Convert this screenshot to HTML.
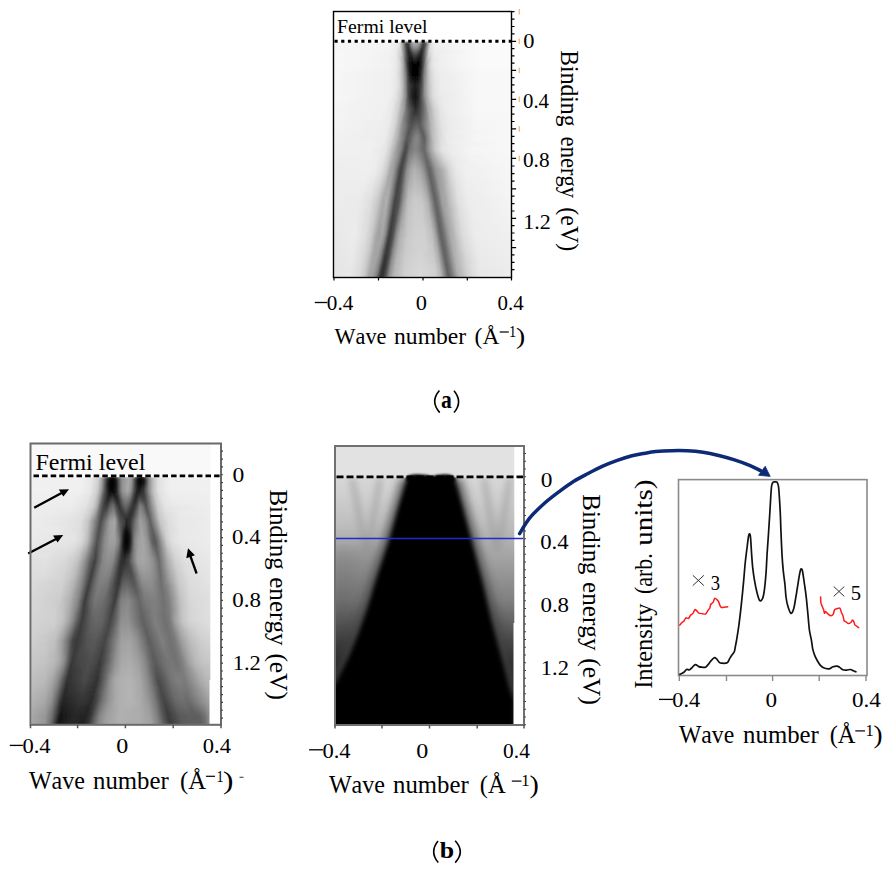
<!DOCTYPE html><html><head><meta charset="utf-8"><style>html,body{margin:0;padding:0;background:#fff;width:889px;height:869px;overflow:hidden}svg{display:block}text{font-family:"Liberation Serif",serif;fill:#000;font-kerning:none}</style></head><body>
<svg width="889" height="869" viewBox="0 0 889 869">
<defs>
<filter id="vblur" x="-5%" y="-5%" width="110%" height="110%"><feGaussianBlur stdDeviation="0 1"/></filter>
<filter id="blur1" x="-20%" y="-50%" width="140%" height="200%"><feGaussianBlur stdDeviation="0.9"/></filter>
<filter id="blur1_5" x="-50%" y="-50%" width="200%" height="200%"><feGaussianBlur stdDeviation="1.5"/></filter>
<filter id="blur2" x="-50%" y="-50%" width="200%" height="200%"><feGaussianBlur stdDeviation="2"/></filter>
<filter id="blur2_5" x="-50%" y="-50%" width="200%" height="200%"><feGaussianBlur stdDeviation="2.5"/></filter>
<filter id="blur3" x="-50%" y="-50%" width="200%" height="200%"><feGaussianBlur stdDeviation="3"/></filter>
<filter id="blur4" x="-50%" y="-50%" width="200%" height="200%"><feGaussianBlur stdDeviation="4"/></filter>
<filter id="blur6" x="-50%" y="-50%" width="200%" height="200%"><feGaussianBlur stdDeviation="6"/></filter>
<filter id="blur12" x="-50%" y="-50%" width="200%" height="200%"><feGaussianBlur stdDeviation="12"/></filter>
<filter id="blur8" x="-50%" y="-50%" width="200%" height="200%"><feGaussianBlur stdDeviation="8"/></filter>
<linearGradient id="ga_in" x1="0" y1="0" x2="0" y2="1"><stop offset="0" stop-color="#b0b0b0"/><stop offset="0.25" stop-color="#c8c8c8"/><stop offset="0.5" stop-color="#dcdcdc"/><stop offset="1" stop-color="#e4e4e4"/></linearGradient>
<linearGradient id="ga_bg" x1="0" y1="0" x2="1" y2="0"><stop offset="0" stop-color="#eeeeee"/><stop offset="0.5" stop-color="#f6f6f6"/><stop offset="1" stop-color="#fbfbfb"/></linearGradient>
<linearGradient id="gbl_bg" x1="0" y1="0" x2="0" y2="1"><stop offset="0" stop-color="#f4f4f4"/><stop offset="0.4" stop-color="#e8e8e8"/><stop offset="1" stop-color="#c8c8c8"/></linearGradient>
<linearGradient id="gbl_halo" x1="0" y1="0" x2="0" y2="1"><stop offset="0" stop-color="#d4d4d4"/><stop offset="0.5" stop-color="#b0b0b0"/><stop offset="1" stop-color="#7c7c7c"/></linearGradient>
<linearGradient id="gbl_L" gradientUnits="userSpaceOnUse" x1="0" y1="490" x2="0" y2="726"><stop offset="0" stop-color="#b4b4b4"/><stop offset="0.4" stop-color="#8a8a8a"/><stop offset="1" stop-color="#464646"/></linearGradient>
<linearGradient id="gbl_R" gradientUnits="userSpaceOnUse" x1="0" y1="486" x2="0" y2="726"><stop offset="0" stop-color="#b0b0b0"/><stop offset="0.4" stop-color="#a0a0a0"/><stop offset="1" stop-color="#7a7a7a"/></linearGradient>
<linearGradient id="gbl_M" gradientUnits="userSpaceOnUse" x1="0" y1="540" x2="0" y2="726"><stop offset="0" stop-color="#b4b4b4"/><stop offset="0.5" stop-color="#c8c8c8"/><stop offset="1" stop-color="#c4c4c4"/></linearGradient>
<linearGradient id="gbm_bg" gradientUnits="userSpaceOnUse" x1="0" y1="476" x2="0" y2="725"><stop offset="0" stop-color="#d8d8d8"/><stop offset="0.1" stop-color="#cccccc"/><stop offset="0.193" stop-color="#bebebe"/><stop offset="0.305" stop-color="#a8a8a8"/><stop offset="0.498" stop-color="#808080"/><stop offset="0.659" stop-color="#484848"/><stop offset="0.75" stop-color="#2e2e2e"/><stop offset="0.85" stop-color="#242424"/><stop offset="1" stop-color="#1a1a1a"/></linearGradient>
<linearGradient id="gbm_left" gradientUnits="userSpaceOnUse" x1="335" y1="0" x2="400" y2="0"><stop offset="0" stop-color="#000" stop-opacity="0.17"/><stop offset="1" stop-color="#000" stop-opacity="0.02"/></linearGradient>
</defs>
<g>
<clipPath id="clipa"><rect x="333.5" y="11.5" width="178.0" height="266.0"/></clipPath>
<rect x="333.5" y="11.5" width="178.0" height="266.0" fill="#fff"/>
<g clip-path="url(#clipa)"><g filter="url(#vblur)"><rect x="334.5" y="42.0" width="176.5" height="2.6" fill="url(#ga0)"/>
<rect x="334.5" y="44.0" width="176.5" height="2.6" fill="url(#ga1)"/>
<rect x="334.5" y="46.0" width="176.5" height="2.6" fill="url(#ga2)"/>
<rect x="334.5" y="48.0" width="176.5" height="2.6" fill="url(#ga3)"/>
<rect x="334.5" y="50.0" width="176.5" height="2.6" fill="url(#ga4)"/>
<rect x="334.5" y="52.0" width="176.5" height="2.6" fill="url(#ga5)"/>
<rect x="334.5" y="54.0" width="176.5" height="2.6" fill="url(#ga6)"/>
<rect x="334.5" y="56.0" width="176.5" height="2.6" fill="url(#ga7)"/>
<rect x="334.5" y="58.0" width="176.5" height="2.6" fill="url(#ga8)"/>
<rect x="334.5" y="60.0" width="176.5" height="2.6" fill="url(#ga9)"/>
<rect x="334.5" y="62.0" width="176.5" height="2.6" fill="url(#ga10)"/>
<rect x="334.5" y="64.0" width="176.5" height="2.6" fill="url(#ga11)"/>
<rect x="334.5" y="66.0" width="176.5" height="2.6" fill="url(#ga12)"/>
<rect x="334.5" y="68.0" width="176.5" height="2.6" fill="url(#ga13)"/>
<rect x="334.5" y="70.0" width="176.5" height="2.6" fill="url(#ga14)"/>
<rect x="334.5" y="72.0" width="176.5" height="2.6" fill="url(#ga15)"/>
<rect x="334.5" y="74.0" width="176.5" height="2.6" fill="url(#ga16)"/>
<rect x="334.5" y="76.0" width="176.5" height="2.6" fill="url(#ga17)"/>
<rect x="334.5" y="78.0" width="176.5" height="2.6" fill="url(#ga18)"/>
<rect x="334.5" y="80.0" width="176.5" height="2.6" fill="url(#ga19)"/>
<rect x="334.5" y="82.0" width="176.5" height="2.6" fill="url(#ga20)"/>
<rect x="334.5" y="84.0" width="176.5" height="2.6" fill="url(#ga21)"/>
<rect x="334.5" y="86.0" width="176.5" height="2.6" fill="url(#ga22)"/>
<rect x="334.5" y="88.0" width="176.5" height="2.6" fill="url(#ga23)"/>
<rect x="334.5" y="90.0" width="176.5" height="2.6" fill="url(#ga24)"/>
<rect x="334.5" y="92.0" width="176.5" height="2.6" fill="url(#ga25)"/>
<rect x="334.5" y="94.0" width="176.5" height="2.6" fill="url(#ga26)"/>
<rect x="334.5" y="96.0" width="176.5" height="2.6" fill="url(#ga27)"/>
<rect x="334.5" y="98.0" width="176.5" height="2.6" fill="url(#ga28)"/>
<rect x="334.5" y="100.0" width="176.5" height="2.6" fill="url(#ga29)"/>
<rect x="334.5" y="102.0" width="176.5" height="2.6" fill="url(#ga30)"/>
<rect x="334.5" y="104.0" width="176.5" height="2.6" fill="url(#ga31)"/>
<rect x="334.5" y="106.0" width="176.5" height="2.6" fill="url(#ga32)"/>
<rect x="334.5" y="108.0" width="176.5" height="2.6" fill="url(#ga33)"/>
<rect x="334.5" y="110.0" width="176.5" height="2.6" fill="url(#ga34)"/>
<rect x="334.5" y="112.0" width="176.5" height="2.6" fill="url(#ga35)"/>
<rect x="334.5" y="114.0" width="176.5" height="2.6" fill="url(#ga36)"/>
<rect x="334.5" y="116.0" width="176.5" height="2.6" fill="url(#ga37)"/>
<rect x="334.5" y="118.0" width="176.5" height="2.6" fill="url(#ga38)"/>
<rect x="334.5" y="120.0" width="176.5" height="2.6" fill="url(#ga39)"/>
<rect x="334.5" y="122.0" width="176.5" height="2.6" fill="url(#ga40)"/>
<rect x="334.5" y="124.0" width="176.5" height="2.6" fill="url(#ga41)"/>
<rect x="334.5" y="126.0" width="176.5" height="2.6" fill="url(#ga42)"/>
<rect x="334.5" y="128.0" width="176.5" height="2.6" fill="url(#ga43)"/>
<rect x="334.5" y="130.0" width="176.5" height="2.6" fill="url(#ga44)"/>
<rect x="334.5" y="132.0" width="176.5" height="2.6" fill="url(#ga45)"/>
<rect x="334.5" y="134.0" width="176.5" height="2.6" fill="url(#ga46)"/>
<rect x="334.5" y="136.0" width="176.5" height="2.6" fill="url(#ga47)"/>
<rect x="334.5" y="138.0" width="176.5" height="2.6" fill="url(#ga48)"/>
<rect x="334.5" y="140.0" width="176.5" height="2.6" fill="url(#ga49)"/>
<rect x="334.5" y="142.0" width="176.5" height="2.6" fill="url(#ga50)"/>
<rect x="334.5" y="144.0" width="176.5" height="2.6" fill="url(#ga51)"/>
<rect x="334.5" y="146.0" width="176.5" height="2.6" fill="url(#ga52)"/>
<rect x="334.5" y="148.0" width="176.5" height="2.6" fill="url(#ga53)"/>
<rect x="334.5" y="150.0" width="176.5" height="2.6" fill="url(#ga54)"/>
<rect x="334.5" y="152.0" width="176.5" height="2.6" fill="url(#ga55)"/>
<rect x="334.5" y="154.0" width="176.5" height="2.6" fill="url(#ga56)"/>
<rect x="334.5" y="156.0" width="176.5" height="2.6" fill="url(#ga57)"/>
<rect x="334.5" y="158.0" width="176.5" height="2.6" fill="url(#ga58)"/>
<rect x="334.5" y="160.0" width="176.5" height="2.6" fill="url(#ga59)"/>
<rect x="334.5" y="162.0" width="176.5" height="2.6" fill="url(#ga60)"/>
<rect x="334.5" y="164.0" width="176.5" height="2.6" fill="url(#ga61)"/>
<rect x="334.5" y="166.0" width="176.5" height="2.6" fill="url(#ga62)"/>
<rect x="334.5" y="168.0" width="176.5" height="2.6" fill="url(#ga63)"/>
<rect x="334.5" y="170.0" width="176.5" height="2.6" fill="url(#ga64)"/>
<rect x="334.5" y="172.0" width="176.5" height="2.6" fill="url(#ga65)"/>
<rect x="334.5" y="174.0" width="176.5" height="2.6" fill="url(#ga66)"/>
<rect x="334.5" y="176.0" width="176.5" height="2.6" fill="url(#ga67)"/>
<rect x="334.5" y="178.0" width="176.5" height="2.6" fill="url(#ga68)"/>
<rect x="334.5" y="180.0" width="176.5" height="2.6" fill="url(#ga69)"/>
<rect x="334.5" y="182.0" width="176.5" height="2.6" fill="url(#ga70)"/>
<rect x="334.5" y="184.0" width="176.5" height="2.6" fill="url(#ga71)"/>
<rect x="334.5" y="186.0" width="176.5" height="2.6" fill="url(#ga72)"/>
<rect x="334.5" y="188.0" width="176.5" height="2.6" fill="url(#ga73)"/>
<rect x="334.5" y="190.0" width="176.5" height="2.6" fill="url(#ga74)"/>
<rect x="334.5" y="192.0" width="176.5" height="2.6" fill="url(#ga75)"/>
<rect x="334.5" y="194.0" width="176.5" height="2.6" fill="url(#ga76)"/>
<rect x="334.5" y="196.0" width="176.5" height="2.6" fill="url(#ga77)"/>
<rect x="334.5" y="198.0" width="176.5" height="2.6" fill="url(#ga78)"/>
<rect x="334.5" y="200.0" width="176.5" height="2.6" fill="url(#ga79)"/>
<rect x="334.5" y="202.0" width="176.5" height="2.6" fill="url(#ga80)"/>
<rect x="334.5" y="204.0" width="176.5" height="2.6" fill="url(#ga81)"/>
<rect x="334.5" y="206.0" width="176.5" height="2.6" fill="url(#ga82)"/>
<rect x="334.5" y="208.0" width="176.5" height="2.6" fill="url(#ga83)"/>
<rect x="334.5" y="210.0" width="176.5" height="2.6" fill="url(#ga84)"/>
<rect x="334.5" y="212.0" width="176.5" height="2.6" fill="url(#ga85)"/>
<rect x="334.5" y="214.0" width="176.5" height="2.6" fill="url(#ga86)"/>
<rect x="334.5" y="216.0" width="176.5" height="2.6" fill="url(#ga87)"/>
<rect x="334.5" y="218.0" width="176.5" height="2.6" fill="url(#ga88)"/>
<rect x="334.5" y="220.0" width="176.5" height="2.6" fill="url(#ga89)"/>
<rect x="334.5" y="222.0" width="176.5" height="2.6" fill="url(#ga90)"/>
<rect x="334.5" y="224.0" width="176.5" height="2.6" fill="url(#ga91)"/>
<rect x="334.5" y="226.0" width="176.5" height="2.6" fill="url(#ga92)"/>
<rect x="334.5" y="228.0" width="176.5" height="2.6" fill="url(#ga93)"/>
<rect x="334.5" y="230.0" width="176.5" height="2.6" fill="url(#ga94)"/>
<rect x="334.5" y="232.0" width="176.5" height="2.6" fill="url(#ga95)"/>
<rect x="334.5" y="234.0" width="176.5" height="2.6" fill="url(#ga96)"/>
<rect x="334.5" y="236.0" width="176.5" height="2.6" fill="url(#ga97)"/>
<rect x="334.5" y="238.0" width="176.5" height="2.6" fill="url(#ga98)"/>
<rect x="334.5" y="240.0" width="176.5" height="2.6" fill="url(#ga99)"/>
<rect x="334.5" y="242.0" width="176.5" height="2.6" fill="url(#ga100)"/>
<rect x="334.5" y="244.0" width="176.5" height="2.6" fill="url(#ga101)"/>
<rect x="334.5" y="246.0" width="176.5" height="2.6" fill="url(#ga102)"/>
<rect x="334.5" y="248.0" width="176.5" height="2.6" fill="url(#ga103)"/>
<rect x="334.5" y="250.0" width="176.5" height="2.6" fill="url(#ga104)"/>
<rect x="334.5" y="252.0" width="176.5" height="2.6" fill="url(#ga105)"/>
<rect x="334.5" y="254.0" width="176.5" height="2.6" fill="url(#ga106)"/>
<rect x="334.5" y="256.0" width="176.5" height="2.6" fill="url(#ga107)"/>
<rect x="334.5" y="258.0" width="176.5" height="2.6" fill="url(#ga108)"/>
<rect x="334.5" y="260.0" width="176.5" height="2.6" fill="url(#ga109)"/>
<rect x="334.5" y="262.0" width="176.5" height="2.6" fill="url(#ga110)"/>
<rect x="334.5" y="264.0" width="176.5" height="2.6" fill="url(#ga111)"/>
<rect x="334.5" y="266.0" width="176.5" height="2.6" fill="url(#ga112)"/>
<rect x="334.5" y="268.0" width="176.5" height="2.6" fill="url(#ga113)"/>
<rect x="334.5" y="270.0" width="176.5" height="2.6" fill="url(#ga114)"/>
<rect x="334.5" y="272.0" width="176.5" height="2.6" fill="url(#ga115)"/>
<rect x="334.5" y="274.0" width="176.5" height="2.6" fill="url(#ga116)"/>
<rect x="334.5" y="276.0" width="176.5" height="2.6" fill="url(#ga117)"/></g></g>
<line x1="334.5" y1="41.3" x2="511.5" y2="41.3" stroke="#000" stroke-width="3" stroke-dasharray="3.2 3.5"/>
<rect x="333.5" y="11.5" width="178.0" height="266.0" fill="none" stroke="#000" stroke-width="1.4"/>
<path d="M511.5,11.70h3 M511.5,19.10h3 M511.5,26.50h3 M511.5,33.90h3 M511.5,41.30h4.6 M511.5,48.55h3 M511.5,55.80h3 M511.5,63.05h3 M511.5,70.30h4.6 M511.5,77.55h3 M511.5,84.80h3 M511.5,92.05h3 M511.5,99.30h4.6 M511.5,106.70h3 M511.5,114.10h3 M511.5,121.50h3 M511.5,128.90h4.6 M511.5,136.28h3 M511.5,143.65h3 M511.5,151.03h3 M511.5,158.40h4.6 M511.5,166.00h3 M511.5,173.60h3 M511.5,181.20h3 M511.5,188.80h4.6 M511.5,196.20h3 M511.5,203.60h3 M511.5,211.00h3 M511.5,218.40h4.6 M511.5,225.70h3 M511.5,233.00h3 M511.5,240.30h3 M511.5,247.60h4.6 M511.5,254.95h3 M511.5,262.30h3 M511.5,269.65h3" stroke="#000" stroke-width="1.2"/>
<path d="M519.2,8.90v5.6 M519.2,38.50v5.6 M519.2,67.50v5.6 M519.2,96.50v5.6 M519.2,126.10v5.6 M519.2,155.60v5.6" stroke="#f0a050" stroke-width="1"/>
<path d="M334.00,277.5v3 M378.50,277.5v3 M423.00,277.5v3 M467.30,277.5v3 M511.50,277.5v3" stroke="#000" stroke-width="1.2"/>
<text x="337.13" y="32.60" font-size="19.5" textLength="90.36" lengthAdjust="spacingAndGlyphs" >Fermi level</text>
<text x="523.15" y="48.10" font-size="20.5" textLength="11.21" lengthAdjust="spacingAndGlyphs" >0</text>
<text x="523.01" y="107.90" font-size="20.5" textLength="26.02" lengthAdjust="spacingAndGlyphs" >0.4</text>
<text x="522.99" y="167.00" font-size="20.5" textLength="26.52" lengthAdjust="spacingAndGlyphs" >0.8</text>
<text x="523.16" y="228.90" font-size="20.5" textLength="27.55" lengthAdjust="spacingAndGlyphs" >1.2</text>
<text transform="translate(560.80,50.32) rotate(90)" font-size="24.8" textLength="76.13" lengthAdjust="spacingAndGlyphs" >Binding</text>
<text transform="translate(560.80,136.62) rotate(90)" font-size="24.8" textLength="61.47" lengthAdjust="spacingAndGlyphs" >energy</text>
<text transform="translate(560.80,207.35) rotate(90)" font-size="24.8" textLength="43.80" lengthAdjust="spacingAndGlyphs" >(eV)</text>
<rect x="314.80" y="301.85" width="12.40" height="1.3" fill="#000"/>
<text x="326.89" y="310.00" font-size="20.8" textLength="26.44" lengthAdjust="spacingAndGlyphs" >0.4</text>
<text x="415.85" y="310.00" font-size="20.8" textLength="11.21" lengthAdjust="spacingAndGlyphs" >0</text>
<text x="497.60" y="310.00" font-size="20.8" textLength="26.12" lengthAdjust="spacingAndGlyphs" >0.4</text>
<text x="334.48" y="343.80" font-size="23" textLength="51.99" lengthAdjust="spacingAndGlyphs" >Wave</text>
<text x="394.06" y="343.80" font-size="23" textLength="72.15" lengthAdjust="spacingAndGlyphs" >number</text>
<text x="474.57" y="343.80" font-size="23" textLength="24.81" lengthAdjust="spacingAndGlyphs" >(Å</text>
<rect x="499.70" y="331.40" width="9.10" height="1.2" fill="#000"/>
<text x="509.03" y="337.20" font-size="16.5" textLength="7.24" lengthAdjust="spacingAndGlyphs" >1</text>
<text x="516.01" y="343.80" font-size="23" textLength="9.21" lengthAdjust="spacingAndGlyphs" >)</text>
</g>
<g>
<clipPath id="clipbl"><rect x="30.5" y="443.5" width="190.5" height="281.29999999999995"/></clipPath>
<g clip-path="url(#clipbl)">
<g filter="url(#vblur)"><rect x="31.5" y="477.0" width="179.0" height="2.6" fill="url(#gs0)"/>
<rect x="31.5" y="479.0" width="179.0" height="2.6" fill="url(#gs1)"/>
<rect x="31.5" y="481.0" width="179.0" height="2.6" fill="url(#gs2)"/>
<rect x="31.5" y="483.0" width="179.0" height="2.6" fill="url(#gs3)"/>
<rect x="31.5" y="485.0" width="179.0" height="2.6" fill="url(#gs4)"/>
<rect x="31.5" y="487.0" width="179.0" height="2.6" fill="url(#gs5)"/>
<rect x="31.5" y="489.0" width="179.0" height="2.6" fill="url(#gs6)"/>
<rect x="31.5" y="491.0" width="179.0" height="2.6" fill="url(#gs7)"/>
<rect x="31.5" y="493.0" width="179.0" height="2.6" fill="url(#gs8)"/>
<rect x="31.5" y="495.0" width="179.0" height="2.6" fill="url(#gs9)"/>
<rect x="31.5" y="497.0" width="179.0" height="2.6" fill="url(#gs10)"/>
<rect x="31.5" y="499.0" width="179.0" height="2.6" fill="url(#gs11)"/>
<rect x="31.5" y="501.0" width="179.0" height="2.6" fill="url(#gs12)"/>
<rect x="31.5" y="503.0" width="179.0" height="2.6" fill="url(#gs13)"/>
<rect x="31.5" y="505.0" width="179.0" height="2.6" fill="url(#gs14)"/>
<rect x="31.5" y="507.0" width="179.0" height="2.6" fill="url(#gs15)"/>
<rect x="31.5" y="509.0" width="179.0" height="2.6" fill="url(#gs16)"/>
<rect x="31.5" y="511.0" width="179.0" height="2.6" fill="url(#gs17)"/>
<rect x="31.5" y="513.0" width="179.0" height="2.6" fill="url(#gs18)"/>
<rect x="31.5" y="515.0" width="179.0" height="2.6" fill="url(#gs19)"/>
<rect x="31.5" y="517.0" width="179.0" height="2.6" fill="url(#gs20)"/>
<rect x="31.5" y="519.0" width="179.0" height="2.6" fill="url(#gs21)"/>
<rect x="31.5" y="521.0" width="179.0" height="2.6" fill="url(#gs22)"/>
<rect x="31.5" y="523.0" width="179.0" height="2.6" fill="url(#gs23)"/>
<rect x="31.5" y="525.0" width="179.0" height="2.6" fill="url(#gs24)"/>
<rect x="31.5" y="527.0" width="179.0" height="2.6" fill="url(#gs25)"/>
<rect x="31.5" y="529.0" width="179.0" height="2.6" fill="url(#gs26)"/>
<rect x="31.5" y="531.0" width="179.0" height="2.6" fill="url(#gs27)"/>
<rect x="31.5" y="533.0" width="179.0" height="2.6" fill="url(#gs28)"/>
<rect x="31.5" y="535.0" width="179.0" height="2.6" fill="url(#gs29)"/>
<rect x="31.5" y="537.0" width="179.0" height="2.6" fill="url(#gs30)"/>
<rect x="31.5" y="539.0" width="179.0" height="2.6" fill="url(#gs31)"/>
<rect x="31.5" y="541.0" width="179.0" height="2.6" fill="url(#gs32)"/>
<rect x="31.5" y="543.0" width="179.0" height="2.6" fill="url(#gs33)"/>
<rect x="31.5" y="545.0" width="179.0" height="2.6" fill="url(#gs34)"/>
<rect x="31.5" y="547.0" width="179.0" height="2.6" fill="url(#gs35)"/>
<rect x="31.5" y="549.0" width="179.0" height="2.6" fill="url(#gs36)"/>
<rect x="31.5" y="551.0" width="179.0" height="2.6" fill="url(#gs37)"/>
<rect x="31.5" y="553.0" width="179.0" height="2.6" fill="url(#gs38)"/>
<rect x="31.5" y="555.0" width="179.0" height="2.6" fill="url(#gs39)"/>
<rect x="31.5" y="557.0" width="179.0" height="2.6" fill="url(#gs40)"/>
<rect x="31.5" y="559.0" width="179.0" height="2.6" fill="url(#gs41)"/>
<rect x="31.5" y="561.0" width="179.0" height="2.6" fill="url(#gs42)"/>
<rect x="31.5" y="563.0" width="179.0" height="2.6" fill="url(#gs43)"/>
<rect x="31.5" y="565.0" width="179.0" height="2.6" fill="url(#gs44)"/>
<rect x="31.5" y="567.0" width="179.0" height="2.6" fill="url(#gs45)"/>
<rect x="31.5" y="569.0" width="179.0" height="2.6" fill="url(#gs46)"/>
<rect x="31.5" y="571.0" width="179.0" height="2.6" fill="url(#gs47)"/>
<rect x="31.5" y="573.0" width="179.0" height="2.6" fill="url(#gs48)"/>
<rect x="31.5" y="575.0" width="179.0" height="2.6" fill="url(#gs49)"/>
<rect x="31.5" y="577.0" width="179.0" height="2.6" fill="url(#gs50)"/>
<rect x="31.5" y="579.0" width="179.0" height="2.6" fill="url(#gs51)"/>
<rect x="31.5" y="581.0" width="179.0" height="2.6" fill="url(#gs52)"/>
<rect x="31.5" y="583.0" width="179.0" height="2.6" fill="url(#gs53)"/>
<rect x="31.5" y="585.0" width="179.0" height="2.6" fill="url(#gs54)"/>
<rect x="31.5" y="587.0" width="179.0" height="2.6" fill="url(#gs55)"/>
<rect x="31.5" y="589.0" width="179.0" height="2.6" fill="url(#gs56)"/>
<rect x="31.5" y="591.0" width="179.0" height="2.6" fill="url(#gs57)"/>
<rect x="31.5" y="593.0" width="179.0" height="2.6" fill="url(#gs58)"/>
<rect x="31.5" y="595.0" width="179.0" height="2.6" fill="url(#gs59)"/>
<rect x="31.5" y="597.0" width="179.0" height="2.6" fill="url(#gs60)"/>
<rect x="31.5" y="599.0" width="179.0" height="2.6" fill="url(#gs61)"/>
<rect x="31.5" y="601.0" width="179.0" height="2.6" fill="url(#gs62)"/>
<rect x="31.5" y="603.0" width="179.0" height="2.6" fill="url(#gs63)"/>
<rect x="31.5" y="605.0" width="179.0" height="2.6" fill="url(#gs64)"/>
<rect x="31.5" y="607.0" width="179.0" height="2.6" fill="url(#gs65)"/>
<rect x="31.5" y="609.0" width="179.0" height="2.6" fill="url(#gs66)"/>
<rect x="31.5" y="611.0" width="179.0" height="2.6" fill="url(#gs67)"/>
<rect x="31.5" y="613.0" width="179.0" height="2.6" fill="url(#gs68)"/>
<rect x="31.5" y="615.0" width="179.0" height="2.6" fill="url(#gs69)"/>
<rect x="31.5" y="617.0" width="179.0" height="2.6" fill="url(#gs70)"/>
<rect x="31.5" y="619.0" width="179.0" height="2.6" fill="url(#gs71)"/>
<rect x="31.5" y="621.0" width="179.0" height="2.6" fill="url(#gs72)"/>
<rect x="31.5" y="623.0" width="179.0" height="2.6" fill="url(#gs73)"/>
<rect x="31.5" y="625.0" width="179.0" height="2.6" fill="url(#gs74)"/>
<rect x="31.5" y="627.0" width="179.0" height="2.6" fill="url(#gs75)"/>
<rect x="31.5" y="629.0" width="179.0" height="2.6" fill="url(#gs76)"/>
<rect x="31.5" y="631.0" width="179.0" height="2.6" fill="url(#gs77)"/>
<rect x="31.5" y="633.0" width="179.0" height="2.6" fill="url(#gs78)"/>
<rect x="31.5" y="635.0" width="179.0" height="2.6" fill="url(#gs79)"/>
<rect x="31.5" y="637.0" width="179.0" height="2.6" fill="url(#gs80)"/>
<rect x="31.5" y="639.0" width="179.0" height="2.6" fill="url(#gs81)"/>
<rect x="31.5" y="641.0" width="179.0" height="2.6" fill="url(#gs82)"/>
<rect x="31.5" y="643.0" width="179.0" height="2.6" fill="url(#gs83)"/>
<rect x="31.5" y="645.0" width="179.0" height="2.6" fill="url(#gs84)"/>
<rect x="31.5" y="647.0" width="179.0" height="2.6" fill="url(#gs85)"/>
<rect x="31.5" y="649.0" width="179.0" height="2.6" fill="url(#gs86)"/>
<rect x="31.5" y="651.0" width="179.0" height="2.6" fill="url(#gs87)"/>
<rect x="31.5" y="653.0" width="179.0" height="2.6" fill="url(#gs88)"/>
<rect x="31.5" y="655.0" width="179.0" height="2.6" fill="url(#gs89)"/>
<rect x="31.5" y="657.0" width="179.0" height="2.6" fill="url(#gs90)"/>
<rect x="31.5" y="659.0" width="179.0" height="2.6" fill="url(#gs91)"/>
<rect x="31.5" y="661.0" width="179.0" height="2.6" fill="url(#gs92)"/>
<rect x="31.5" y="663.0" width="179.0" height="2.6" fill="url(#gs93)"/>
<rect x="31.5" y="665.0" width="179.0" height="2.6" fill="url(#gs94)"/>
<rect x="31.5" y="667.0" width="179.0" height="2.6" fill="url(#gs95)"/>
<rect x="31.5" y="669.0" width="179.0" height="2.6" fill="url(#gs96)"/>
<rect x="31.5" y="671.0" width="179.0" height="2.6" fill="url(#gs97)"/>
<rect x="31.5" y="673.0" width="179.0" height="2.6" fill="url(#gs98)"/>
<rect x="31.5" y="675.0" width="179.0" height="2.6" fill="url(#gs99)"/>
<rect x="31.5" y="677.0" width="179.0" height="2.6" fill="url(#gs100)"/>
<rect x="31.5" y="679.0" width="179.0" height="2.6" fill="url(#gs101)"/>
<rect x="31.5" y="681.0" width="179.0" height="2.6" fill="url(#gs102)"/>
<rect x="31.5" y="683.0" width="179.0" height="2.6" fill="url(#gs103)"/>
<rect x="31.5" y="685.0" width="179.0" height="2.6" fill="url(#gs104)"/>
<rect x="31.5" y="687.0" width="179.0" height="2.6" fill="url(#gs105)"/>
<rect x="31.5" y="689.0" width="179.0" height="2.6" fill="url(#gs106)"/>
<rect x="31.5" y="691.0" width="179.0" height="2.6" fill="url(#gs107)"/>
<rect x="31.5" y="693.0" width="179.0" height="2.6" fill="url(#gs108)"/>
<rect x="31.5" y="695.0" width="179.0" height="2.6" fill="url(#gs109)"/>
<rect x="31.5" y="697.0" width="179.0" height="2.6" fill="url(#gs110)"/>
<rect x="31.5" y="699.0" width="179.0" height="2.6" fill="url(#gs111)"/>
<rect x="31.5" y="701.0" width="179.0" height="2.6" fill="url(#gs112)"/>
<rect x="31.5" y="703.0" width="179.0" height="2.6" fill="url(#gs113)"/>
<rect x="31.5" y="705.0" width="179.0" height="2.6" fill="url(#gs114)"/>
<rect x="31.5" y="707.0" width="179.0" height="2.6" fill="url(#gs115)"/>
<rect x="31.5" y="709.0" width="179.0" height="2.6" fill="url(#gs116)"/>
<rect x="31.5" y="711.0" width="179.0" height="2.6" fill="url(#gs117)"/>
<rect x="31.5" y="713.0" width="179.0" height="2.6" fill="url(#gs118)"/>
<rect x="31.5" y="715.0" width="179.0" height="2.6" fill="url(#gs119)"/>
<rect x="31.5" y="717.0" width="179.0" height="2.6" fill="url(#gs120)"/>
<rect x="31.5" y="719.0" width="179.0" height="2.6" fill="url(#gs121)"/>
<rect x="31.5" y="721.0" width="179.0" height="2.6" fill="url(#gs122)"/>
<rect x="31.5" y="723.0" width="179.0" height="2.6" fill="url(#gs123)"/></g>
<g filter="url(#blur2)"><ellipse cx="112" cy="484" rx="4.2" ry="8" fill="#000" opacity="0.85"/><ellipse cx="141" cy="481" rx="4" ry="6.5" fill="#000" opacity="0.85"/><ellipse cx="127" cy="541" rx="3.2" ry="13" fill="#000" opacity="0.75"/></g>
<rect x="30.5" y="443.5" width="190.5" height="33.5" fill="#f9f9f9"/>
<path d="M210.6,443.5 H221 V724.8 H209.5 V680 H210.6 Z" fill="#fff"/>
</g>
<line x1="33.5" y1="475.9" x2="221" y2="475.9" stroke="#000" stroke-width="2.6" stroke-dasharray="5.5 3.1"/>
<g stroke="#000" stroke-width="2.3" fill="#000">
<line x1="34.2" y1="507.8" x2="63" y2="492.3"/><polygon points="69,489.2 58.8,489.6 63.4,496.6" stroke="none"/>
<line x1="28.2" y1="553.6" x2="57.5" y2="538.2"/><polygon points="63.2,535.1 53,535.5 57.6,542.4" stroke="none"/>
<line x1="196.6" y1="573.5" x2="190" y2="555"/><polygon points="188,548.3 186.3,558.2 194.9,555.2" stroke="none"/>
</g>
<rect x="30.5" y="443.5" width="190.5" height="281.29999999999995" fill="none" stroke="#6a6a6a" stroke-width="2"/>
<path d="M221,451.20h2 M221,459.05h2 M221,466.90h2 M221,474.75h2 M221,482.60h2 M221,490.45h2 M221,498.30h2 M221,506.15h2 M221,514.00h2 M221,521.85h2 M221,529.70h2 M221,537.55h2 M221,545.40h2 M221,553.25h2 M221,561.10h2 M221,568.95h2 M221,576.80h2 M221,584.65h2 M221,592.50h2 M221,600.35h2 M221,608.20h2 M221,616.05h2 M221,623.90h2 M221,631.75h2 M221,639.60h2 M221,647.45h2 M221,655.30h2 M221,663.15h2 M221,671.00h2 M221,678.85h2 M221,686.70h2 M221,694.55h2 M221,702.40h2 M221,710.25h2 M221,718.10h2" stroke="#444" stroke-width="1.2"/>
<path d="M30.50,724.8v3.5 M77.60,724.8v3.5 M125.40,724.8v3.5 M173.20,724.8v3.5 M221.00,724.8v3.5" stroke="#555" stroke-width="1.5"/>
<text x="35.51" y="470.30" font-size="23.7" textLength="109.87" lengthAdjust="spacingAndGlyphs" >Fermi level</text>
<text x="232.60" y="482.40" font-size="21" textLength="11.80" lengthAdjust="spacingAndGlyphs" >0</text>
<text x="232.13" y="543.90" font-size="21" textLength="28.42" lengthAdjust="spacingAndGlyphs" >0.4</text>
<text x="232.33" y="607.40" font-size="21" textLength="28.65" lengthAdjust="spacingAndGlyphs" >0.8</text>
<text x="232.72" y="670.30" font-size="21" textLength="28.12" lengthAdjust="spacingAndGlyphs" >1.2</text>
<text transform="translate(270.20,489.38) rotate(90)" font-size="26" textLength="80.29" lengthAdjust="spacingAndGlyphs" >Binding</text>
<text transform="translate(270.20,577.22) rotate(90)" font-size="26" textLength="68.38" lengthAdjust="spacingAndGlyphs" >energy</text>
<text transform="translate(270.20,653.38) rotate(90)" font-size="26" textLength="46.53" lengthAdjust="spacingAndGlyphs" >(eV)</text>
<rect x="9.80" y="744.75" width="13.10" height="1.3" fill="#000"/>
<text x="22.44" y="752.80" font-size="20.6" textLength="28.21" lengthAdjust="spacingAndGlyphs" >0.4</text>
<text x="116.38" y="752.80" font-size="20.6" textLength="12.03" lengthAdjust="spacingAndGlyphs" >0</text>
<text x="202.74" y="752.80" font-size="20.6" textLength="28.21" lengthAdjust="spacingAndGlyphs" >0.4</text>
<path d="M239.5,777.3h4" stroke="#555" stroke-width="1.2"/>
<text x="28.88" y="788.70" font-size="24.5" textLength="56.06" lengthAdjust="spacingAndGlyphs" >Wave</text>
<text x="93.03" y="788.70" font-size="24.5" textLength="75.69" lengthAdjust="spacingAndGlyphs" >number</text>
<text x="180.11" y="788.70" font-size="24.5" textLength="26.07" lengthAdjust="spacingAndGlyphs" >(Å</text>
<rect x="206.00" y="775.70" width="9.00" height="1.2" fill="#000"/>
<text x="216.45" y="781.70" font-size="16.5" textLength="7.10" lengthAdjust="spacingAndGlyphs" >1</text>
<text x="222.98" y="788.70" font-size="24.5" textLength="10.50" lengthAdjust="spacingAndGlyphs" >)</text>
</g>
<g>
<clipPath id="clipbm"><rect x="335" y="446" width="189" height="279"/></clipPath>
<g clip-path="url(#clipbm)">
<rect x="335" y="446" width="189" height="279" fill="url(#gbm_bg)"/>
<g filter="url(#blur3)" stroke="#989898" stroke-width="6" fill="none" opacity="0.55">
<path d="M352,478 L366,552 M380,478 L368,552 M484,478 L496,552 M510,478 L498,552"/>
</g>
<g filter="url(#blur8)"><rect x="330" y="545" width="80" height="190" fill="url(#gbm_left)"/></g>
<g filter="url(#blur4)"><path d="M400,478 L462,478 L520,700 L520,730 L330,730 L330,690 L330,680 L342,657 L352,632 L361,607 L369,581 L383,538 Z" fill="#404040" opacity="0.7"/></g>
<g filter="url(#blur2)">
<path d="M407.4,476 C410,472.5 420,472.5 426,475.5 L430,475.5 C436,472.5 447,472.5 454.3,476 L460.9,500 L471.5,540 L482,580 L491.3,620 L502,660 L509.9,690 L514,700 L514,730 L330,730 L330,688 L335,684 L337.5,680 L348.9,657 L359,632 L367.9,606.6 L375.5,581 L389.4,538.7 L398,508 Z" fill="#000"/>
</g>
<rect x="335" y="446" width="189" height="31.5" fill="#e2e2e2"/>
<path d="M406.2,481 L406.6,477 C408,475.2 412,474.2 417,474.2 C423,474.2 428,474.9 431,476 L433,476 C436,474.9 440,474.2 445,474.2 C450,474.2 453,475.3 454.2,477 L455,481 Z" fill="#000" filter="url(#blur1)"/>
<path d="M514.3,446 H524 V725 H513.5 V623 H514.3 Z" fill="#fff"/>
</g>
<line x1="336.5" y1="476.9" x2="524" y2="476.9" stroke="#000" stroke-width="2.6" stroke-dasharray="7 3"/>
<line x1="335" y1="538.5" x2="524" y2="538.5" stroke="#2525d5" stroke-width="1.4"/>
<rect x="335" y="446" width="189" height="279" fill="none" stroke="#707070" stroke-width="2"/>
<path d="M524,453.50h2 M524,461.25h2 M524,469.00h2 M524,476.75h2 M524,484.50h2 M524,492.25h2 M524,500.00h2 M524,507.75h2 M524,515.50h2 M524,523.25h2 M524,531.00h2 M524,538.75h2 M524,546.50h2 M524,554.25h2 M524,562.00h2 M524,569.75h2 M524,577.50h2 M524,585.25h2 M524,593.00h2 M524,600.75h2 M524,608.50h2 M524,616.25h2 M524,624.00h2 M524,631.75h2 M524,639.50h2 M524,647.25h2 M524,655.00h2 M524,662.75h2 M524,670.50h2 M524,678.25h2 M524,686.00h2 M524,693.75h2 M524,701.50h2 M524,709.25h2 M524,717.00h2 M524,724.75h2" stroke="#444" stroke-width="1.2"/>
<path d="M335.00,725v3.5 M382.00,725v3.5 M429.50,725v3.5 M477.20,725v3.5 M524.00,725v3.5" stroke="#555" stroke-width="1.5"/>
<text x="540.71" y="487.40" font-size="21" textLength="11.68" lengthAdjust="spacingAndGlyphs" >0</text>
<text x="540.23" y="548.90" font-size="21" textLength="28.42" lengthAdjust="spacingAndGlyphs" >0.4</text>
<text x="540.43" y="612.40" font-size="21" textLength="28.65" lengthAdjust="spacingAndGlyphs" >0.8</text>
<text x="540.82" y="675.30" font-size="21" textLength="28.12" lengthAdjust="spacingAndGlyphs" >1.2</text>
<text transform="translate(582.60,494.28) rotate(90)" font-size="26" textLength="80.29" lengthAdjust="spacingAndGlyphs" >Binding</text>
<text transform="translate(582.60,582.12) rotate(90)" font-size="26" textLength="68.38" lengthAdjust="spacingAndGlyphs" >energy</text>
<text transform="translate(582.60,658.28) rotate(90)" font-size="26" textLength="46.64" lengthAdjust="spacingAndGlyphs" >(eV)</text>
<rect x="309.10" y="749.15" width="13.80" height="1.3" fill="#000"/>
<text x="322.44" y="757.60" font-size="21.5" textLength="28.21" lengthAdjust="spacingAndGlyphs" >0.4</text>
<text x="416.18" y="757.60" font-size="21.5" textLength="12.03" lengthAdjust="spacingAndGlyphs" >0</text>
<text x="503.08" y="757.60" font-size="21.5" textLength="26.75" lengthAdjust="spacingAndGlyphs" >0.4</text>
<text x="328.88" y="793.40" font-size="24.5" textLength="56.06" lengthAdjust="spacingAndGlyphs" >Wave</text>
<text x="393.03" y="793.40" font-size="24.5" textLength="75.69" lengthAdjust="spacingAndGlyphs" >number</text>
<text x="479.72" y="793.40" font-size="24.5" textLength="25.86" lengthAdjust="spacingAndGlyphs" >(Å</text>
<rect x="511.80" y="780.50" width="9.70" height="1.2" fill="#000"/>
<text x="521.23" y="786.10" font-size="16.5" textLength="8.38" lengthAdjust="spacingAndGlyphs" >1</text>
<text x="529.40" y="793.40" font-size="24.5" textLength="9.34" lengthAdjust="spacingAndGlyphs" >)</text>
</g>
<g>
<rect x="678.5" y="479.6" width="188.5" height="195.89999999999998" fill="none" stroke="#8a8a8a" stroke-width="1.6"/>
<path d="M679.30,675.5v5.5 M726.50,675.5v5.5 M772.60,675.5v5.5 M819.20,675.5v5.5 M866.00,675.5v5.5" stroke="#8a8a8a" stroke-width="1.4"/>
<path d="M679.90,674.30 C680.57,673.97 682.78,673.10 683.90,672.30 C685.02,671.50 685.68,669.92 686.60,669.50 C687.52,669.08 688.55,670.05 689.40,669.80 C690.25,669.55 690.72,668.87 691.70,668.00 C692.68,667.13 694.12,664.83 695.30,664.60 C696.48,664.37 697.68,666.17 698.80,666.60 C699.92,667.03 700.88,667.10 702.00,667.20 C703.12,667.30 704.45,667.67 705.50,667.20 C706.55,666.73 707.45,665.38 708.30,664.40 C709.15,663.42 709.62,662.42 710.60,661.30 C711.58,660.18 713.20,658.10 714.20,657.70 C715.20,657.30 715.75,658.12 716.60,658.90 C717.45,659.68 718.45,661.68 719.30,662.40 C720.15,663.12 720.38,663.13 721.70,663.20 C723.02,663.27 725.90,663.52 727.20,662.80 C728.50,662.08 728.72,660.20 729.50,658.90 C730.28,657.60 731.10,656.18 731.90,655.00 C732.70,653.82 733.72,653.25 734.30,651.80 C734.88,650.35 735.02,648.27 735.40,646.30 C735.78,644.33 736.02,643.53 736.60,640.00 C737.18,636.47 738.13,630.83 738.90,625.10 C739.67,619.37 740.43,612.68 741.20,605.60 C741.97,598.52 742.83,589.70 743.50,582.60 C744.17,575.50 744.62,568.77 745.20,563.00 C745.78,557.23 746.45,552.42 747.00,548.00 C747.55,543.58 748.08,538.87 748.50,536.50 C748.92,534.13 749.17,533.72 749.50,533.80 C749.83,533.88 750.15,533.67 750.50,537.00 C750.85,540.33 751.23,548.70 751.60,553.80 C751.97,558.90 752.22,563.18 752.70,567.60 C753.18,572.02 753.82,576.27 754.50,580.30 C755.18,584.33 755.95,588.43 756.80,591.80 C757.65,595.17 758.65,599.35 759.60,600.50 C760.55,601.65 761.72,600.33 762.50,598.70 C763.28,597.07 763.72,594.92 764.30,590.70 C764.88,586.48 765.53,579.55 766.00,573.40 C766.47,567.25 766.72,559.95 767.10,553.80 C767.48,547.65 767.85,543.25 768.30,536.50 C768.75,529.75 769.40,519.77 769.80,513.30 C770.20,506.83 770.40,502.25 770.70,497.70 C771.00,493.15 771.22,488.57 771.60,486.00 C771.98,483.43 772.43,482.98 773.00,482.30 C773.57,481.62 774.32,481.90 775.00,481.90 C775.68,481.90 776.52,481.53 777.10,482.30 C777.68,483.07 778.12,483.93 778.50,486.50 C778.88,489.07 779.10,493.23 779.40,497.70 C779.70,502.17 780.05,507.92 780.30,513.30 C780.55,518.68 780.60,522.87 780.90,530.00 C781.20,537.13 781.70,549.25 782.10,556.10 C782.50,562.95 782.82,566.28 783.30,571.10 C783.78,575.92 784.55,580.68 785.00,585.00 C785.45,589.32 785.53,593.50 786.00,597.00 C786.47,600.50 786.97,603.27 787.80,606.00 C788.63,608.73 790.02,612.93 791.00,613.40 C791.98,613.87 792.93,611.25 793.70,608.80 C794.47,606.35 794.98,602.23 795.60,598.70 C796.22,595.17 796.78,591.43 797.40,587.60 C798.02,583.77 798.78,578.63 799.30,575.70 C799.82,572.77 800.17,571.13 800.50,570.00 C800.83,568.87 800.97,568.73 801.30,568.90 C801.63,569.07 802.00,568.65 802.50,571.00 C803.00,573.35 803.68,578.70 804.30,583.00 C804.92,587.30 805.58,591.43 806.20,596.80 C806.82,602.17 807.47,609.67 808.00,615.20 C808.53,620.73 808.83,625.85 809.40,630.00 C809.97,634.15 810.85,636.95 811.40,640.10 C811.95,643.25 812.13,646.32 812.70,648.90 C813.27,651.48 814.00,653.58 814.80,655.60 C815.60,657.62 816.60,659.42 817.50,661.00 C818.40,662.58 819.20,663.97 820.20,665.10 C821.20,666.23 822.05,667.18 823.50,667.80 C824.95,668.42 827.32,668.97 828.90,668.80 C830.48,668.63 831.65,667.25 833.00,666.80 C834.35,666.35 835.88,666.00 837.00,666.10 C838.12,666.20 838.73,666.78 839.70,667.40 C840.67,668.02 841.67,669.35 842.80,669.80 C843.93,670.25 845.22,670.15 846.50,670.10 C847.78,670.05 849.38,669.38 850.50,669.50 C851.62,669.62 852.30,670.42 853.20,670.80 C854.10,671.18 855.45,671.63 855.90,671.80" fill="none" stroke="#111" stroke-width="1.7" stroke-linejoin="round" stroke-linecap="round"/>
<path d="M679.80,625.10 C680.09,624.76 681.79,622.71 682.30,622.20 C682.81,621.69 683.79,621.21 684.20,620.70 C684.61,620.19 685.29,618.06 685.80,617.80 C686.31,617.54 688.05,618.79 688.60,618.50 C689.15,618.21 689.99,615.89 690.50,615.30 C691.01,614.70 692.49,614.06 693.00,613.40 C693.51,612.74 694.46,609.89 694.90,609.60 C695.34,609.31 696.36,610.49 696.80,610.90 C697.24,611.31 698.04,612.77 698.70,613.10 C699.37,613.43 701.70,613.60 702.50,613.70 C703.30,613.81 704.95,614.40 705.60,614.00 C706.25,613.60 707.59,611.03 708.10,610.30 C708.61,609.56 709.71,608.37 710.00,607.70 C710.29,607.04 710.23,605.25 710.60,604.60 C710.97,603.95 712.72,602.84 713.20,602.10 C713.68,601.37 714.27,598.59 714.70,598.30 C715.13,598.01 716.42,599.16 716.90,599.60 C717.38,600.04 718.43,601.37 718.80,602.10 C719.17,602.84 719.80,605.28 720.10,605.90 C720.40,606.52 720.82,607.26 721.40,607.40 C721.98,607.54 724.37,607.17 725.10,607.10 C725.84,607.03 727.40,606.83 727.70,606.80" fill="none" stroke="#ff1a1a" stroke-width="1.5" stroke-linejoin="round" stroke-linecap="round"/>
<path d="M820.60,596.90 C820.63,597.59 820.68,601.61 820.90,602.80 C821.12,603.99 822.16,606.21 822.50,607.10 C822.84,607.99 823.58,609.68 823.80,610.40 C824.02,611.12 824.21,613.18 824.40,613.30 C824.59,613.42 825.12,611.46 825.40,611.40 C825.68,611.34 826.19,612.29 826.80,612.80 C827.41,613.31 829.84,615.65 830.60,615.80 C831.36,615.95 832.83,614.80 833.30,614.10 C833.77,613.40 834.10,610.45 834.60,609.80 C835.10,609.15 836.97,608.69 837.60,608.50 C838.23,608.31 839.56,607.73 840.00,608.20 C840.44,608.67 841.05,611.61 841.40,612.50 C841.75,613.39 842.68,614.85 843.00,615.80 C843.32,616.75 843.73,619.88 844.10,620.60 C844.47,621.32 845.70,621.65 846.20,622.00 C846.70,622.35 847.83,623.58 848.40,623.60 C848.97,623.62 850.63,622.61 851.10,622.20 C851.57,621.79 852.09,620.16 852.40,620.10 C852.71,620.04 853.51,621.14 853.80,621.70 C854.09,622.26 854.58,624.40 854.90,624.90 C855.22,625.40 856.06,625.68 856.50,626.00 C856.94,626.32 858.44,627.41 858.70,627.60" fill="none" stroke="#ff1a1a" stroke-width="1.5" stroke-linejoin="round" stroke-linecap="round"/>
<path d="M692.8,575.3 L703.9,585.6 M703.9,575.3 L692.8,585.6 M833.7,586.5 L844.3,596.4 M844.3,586.5 L833.7,596.4" stroke="#333" stroke-width="1" fill="none"/>
<text x="710.71" y="589.60" font-size="21.5" textLength="9.32" lengthAdjust="spacingAndGlyphs" >3</text>
<text x="850.80" y="600.20" font-size="21.5" textLength="10.30" lengthAdjust="spacingAndGlyphs" >5</text>
<text transform="translate(651.90,688.78) rotate(-90)" font-size="26" textLength="85.17" lengthAdjust="spacingAndGlyphs" >Intensity</text>
<text transform="translate(651.90,593.96) rotate(-90)" font-size="26" textLength="40.70" lengthAdjust="spacingAndGlyphs" >(arb.</text>
<text transform="translate(651.90,545.78) rotate(-90)" font-size="26" textLength="66.16" lengthAdjust="spacingAndGlyphs" >units)</text>
<rect x="659.00" y="698.75" width="13.90" height="1.3" fill="#000"/>
<text x="672.35" y="706.70" font-size="21" textLength="27.90" lengthAdjust="spacingAndGlyphs" >0.4</text>
<text x="765.62" y="706.70" font-size="21" textLength="11.56" lengthAdjust="spacingAndGlyphs" >0</text>
<text x="852.02" y="706.90" font-size="21" textLength="28.84" lengthAdjust="spacingAndGlyphs" >0.4</text>
<text x="678.98" y="742.60" font-size="24.5" textLength="55.24" lengthAdjust="spacingAndGlyphs" >Wave</text>
<text x="743.13" y="742.60" font-size="24.5" textLength="75.69" lengthAdjust="spacingAndGlyphs" >number</text>
<text x="829.73" y="742.60" font-size="24.5" textLength="25.75" lengthAdjust="spacingAndGlyphs" >(Å</text>
<rect x="855.30" y="730.30" width="9.70" height="1.2" fill="#000"/>
<text x="865.55" y="735.80" font-size="16.5" textLength="8.24" lengthAdjust="spacingAndGlyphs" >1</text>
<text x="873.42" y="742.60" font-size="24.5" textLength="9.08" lengthAdjust="spacingAndGlyphs" >)</text>
</g>
<path d="M519.60,533.60 C521.27,531.02 525.50,523.12 529.60,518.10 C533.70,513.08 539.32,507.88 544.20,503.50 C549.08,499.12 554.02,495.47 558.90,491.80 C563.78,488.13 568.63,484.55 573.50,481.50 C578.37,478.45 583.23,476.05 588.10,473.50 C592.97,470.95 597.83,468.38 602.70,466.20 C607.57,464.02 612.42,462.13 617.30,460.40 C622.18,458.67 627.38,457.00 632.00,455.80 C636.62,454.60 641.05,453.90 645.00,453.20 C648.95,452.50 651.28,452.02 655.70,451.60 C660.12,451.18 666.25,450.83 671.50,450.70 C676.75,450.57 681.95,450.53 687.20,450.80 C692.45,451.07 697.75,451.52 703.00,452.30 C708.25,453.08 713.45,454.23 718.70,455.50 C723.95,456.77 729.25,458.22 734.50,459.90 C739.75,461.58 745.87,463.82 750.20,465.60 C754.53,467.38 758.78,469.77 760.50,470.60" fill="none" stroke="#0c2a75" stroke-width="3.5" stroke-linecap="round"/>
<polygon points="770.2,476.4 765.2,466.2 758.6,475.3" fill="#0c2a75" stroke="#0c2a75" stroke-width="0.8" stroke-linejoin="round"/>
<path d="M439.4,390.4 Q429.85,401.5 439.7,412.6 M454,390.7 Q463.2,401.7 454,412.6 M438,841 Q429.25,851.9 438.3,862.6 M455.2,840.7 Q465.4,851.9 455.2,862.6" stroke="#000" stroke-width="1.6" fill="none"/>
<text x="441.00" y="407.60" font-size="24.5" textLength="10.83" lengthAdjust="spacingAndGlyphs" font-weight="bold" >a</text>
<text x="439.87" y="857.80" font-size="24" textLength="14.38" lengthAdjust="spacingAndGlyphs" font-weight="bold" >b</text>
<defs><linearGradient id="ga0" gradientUnits="userSpaceOnUse" x1="334.5" y1="0" x2="511" y2="0"><stop offset="0.000" stop-color="#f6f6f6"/><stop offset="0.312" stop-color="#f4f4f4"/><stop offset="0.351" stop-color="#ececec"/><stop offset="0.363" stop-color="#e6e6e6"/><stop offset="0.368" stop-color="#dbdbdb"/><stop offset="0.385" stop-color="#a3a3a3"/><stop offset="0.397" stop-color="#656565"/><stop offset="0.408" stop-color="#333333"/><stop offset="0.419" stop-color="#3f3f3f"/><stop offset="0.431" stop-color="#747474"/><stop offset="0.442" stop-color="#989898"/><stop offset="0.448" stop-color="#a2a2a2"/><stop offset="0.459" stop-color="#a7a7a7"/><stop offset="0.470" stop-color="#9f9f9f"/><stop offset="0.482" stop-color="#8f8f8f"/><stop offset="0.493" stop-color="#626262"/><stop offset="0.504" stop-color="#3c3c3c"/><stop offset="0.510" stop-color="#414141"/><stop offset="0.516" stop-color="#4d4d4d"/><stop offset="0.538" stop-color="#c2c2c2"/><stop offset="0.550" stop-color="#e3e3e3"/><stop offset="0.578" stop-color="#f0f0f0"/><stop offset="0.827" stop-color="#fafafa"/><stop offset="0.997" stop-color="#fafafa"/></linearGradient>
<linearGradient id="ga1" gradientUnits="userSpaceOnUse" x1="334.5" y1="0" x2="511" y2="0"><stop offset="0.000" stop-color="#f6f6f6"/><stop offset="0.312" stop-color="#f4f4f4"/><stop offset="0.351" stop-color="#ececec"/><stop offset="0.368" stop-color="#e2e2e2"/><stop offset="0.385" stop-color="#a8a8a8"/><stop offset="0.408" stop-color="#3a3a3a"/><stop offset="0.414" stop-color="#373737"/><stop offset="0.419" stop-color="#3d3d3d"/><stop offset="0.425" stop-color="#515151"/><stop offset="0.431" stop-color="#717171"/><stop offset="0.436" stop-color="#888888"/><stop offset="0.448" stop-color="#a2a2a2"/><stop offset="0.453" stop-color="#a6a6a6"/><stop offset="0.465" stop-color="#a2a2a2"/><stop offset="0.476" stop-color="#959595"/><stop offset="0.482" stop-color="#868686"/><stop offset="0.499" stop-color="#454545"/><stop offset="0.504" stop-color="#3c3c3c"/><stop offset="0.510" stop-color="#484848"/><stop offset="0.516" stop-color="#5b5b5b"/><stop offset="0.533" stop-color="#b6b6b6"/><stop offset="0.538" stop-color="#cdcdcd"/><stop offset="0.544" stop-color="#dddddd"/><stop offset="0.550" stop-color="#e7e7e7"/><stop offset="0.572" stop-color="#efefef"/><stop offset="0.822" stop-color="#fafafa"/><stop offset="0.997" stop-color="#fafafa"/></linearGradient>
<linearGradient id="ga2" gradientUnits="userSpaceOnUse" x1="334.5" y1="0" x2="511" y2="0"><stop offset="0.000" stop-color="#f6f6f6"/><stop offset="0.312" stop-color="#f4f4f4"/><stop offset="0.351" stop-color="#ebebeb"/><stop offset="0.368" stop-color="#e1e1e1"/><stop offset="0.374" stop-color="#d0d0d0"/><stop offset="0.391" stop-color="#939393"/><stop offset="0.402" stop-color="#575757"/><stop offset="0.414" stop-color="#2f2f2f"/><stop offset="0.425" stop-color="#434343"/><stop offset="0.436" stop-color="#797979"/><stop offset="0.442" stop-color="#888888"/><stop offset="0.453" stop-color="#969696"/><stop offset="0.465" stop-color="#929292"/><stop offset="0.476" stop-color="#848484"/><stop offset="0.499" stop-color="#363636"/><stop offset="0.510" stop-color="#4b4b4b"/><stop offset="0.533" stop-color="#bdbdbd"/><stop offset="0.544" stop-color="#e2e2e2"/><stop offset="0.572" stop-color="#efefef"/><stop offset="0.822" stop-color="#fafafa"/><stop offset="0.997" stop-color="#fafafa"/></linearGradient>
<linearGradient id="ga3" gradientUnits="userSpaceOnUse" x1="334.5" y1="0" x2="511" y2="0"><stop offset="0.000" stop-color="#f7f7f7"/><stop offset="0.306" stop-color="#f3f3f3"/><stop offset="0.346" stop-color="#ececec"/><stop offset="0.374" stop-color="#d4d4d4"/><stop offset="0.391" stop-color="#939393"/><stop offset="0.402" stop-color="#5c5c5c"/><stop offset="0.414" stop-color="#303030"/><stop offset="0.425" stop-color="#353535"/><stop offset="0.436" stop-color="#646464"/><stop offset="0.448" stop-color="#7d7d7d"/><stop offset="0.453" stop-color="#818181"/><stop offset="0.465" stop-color="#7d7d7d"/><stop offset="0.476" stop-color="#6d6d6d"/><stop offset="0.493" stop-color="#383838"/><stop offset="0.499" stop-color="#323232"/><stop offset="0.510" stop-color="#535353"/><stop offset="0.527" stop-color="#a6a6a6"/><stop offset="0.538" stop-color="#d3d3d3"/><stop offset="0.544" stop-color="#e0e0e0"/><stop offset="0.572" stop-color="#efefef"/><stop offset="0.822" stop-color="#fafafa"/><stop offset="0.997" stop-color="#fafafa"/></linearGradient>
<linearGradient id="ga4" gradientUnits="userSpaceOnUse" x1="334.5" y1="0" x2="511" y2="0"><stop offset="0.000" stop-color="#f7f7f7"/><stop offset="0.312" stop-color="#f3f3f3"/><stop offset="0.346" stop-color="#ececec"/><stop offset="0.374" stop-color="#d5d5d5"/><stop offset="0.397" stop-color="#7b7b7b"/><stop offset="0.408" stop-color="#474747"/><stop offset="0.414" stop-color="#343434"/><stop offset="0.419" stop-color="#282828"/><stop offset="0.431" stop-color="#3a3a3a"/><stop offset="0.442" stop-color="#5e5e5e"/><stop offset="0.453" stop-color="#6c6c6c"/><stop offset="0.459" stop-color="#6c6c6c"/><stop offset="0.470" stop-color="#616161"/><stop offset="0.493" stop-color="#2b2b2b"/><stop offset="0.504" stop-color="#424242"/><stop offset="0.538" stop-color="#dbdbdb"/><stop offset="0.567" stop-color="#ececec"/><stop offset="0.822" stop-color="#fafafa"/><stop offset="0.997" stop-color="#fafafa"/></linearGradient>
<linearGradient id="ga5" gradientUnits="userSpaceOnUse" x1="334.5" y1="0" x2="511" y2="0"><stop offset="0.000" stop-color="#f8f8f8"/><stop offset="0.312" stop-color="#f2f2f2"/><stop offset="0.346" stop-color="#ededed"/><stop offset="0.374" stop-color="#d1d1d1"/><stop offset="0.380" stop-color="#c6c6c6"/><stop offset="0.408" stop-color="#4a4a4a"/><stop offset="0.419" stop-color="#262626"/><stop offset="0.431" stop-color="#2d2d2d"/><stop offset="0.448" stop-color="#525252"/><stop offset="0.459" stop-color="#575757"/><stop offset="0.470" stop-color="#4b4b4b"/><stop offset="0.482" stop-color="#303030"/><stop offset="0.493" stop-color="#262626"/><stop offset="0.504" stop-color="#474747"/><stop offset="0.527" stop-color="#ababab"/><stop offset="0.533" stop-color="#c9c9c9"/><stop offset="0.538" stop-color="#d8d8d8"/><stop offset="0.567" stop-color="#ededed"/><stop offset="0.822" stop-color="#fafafa"/><stop offset="0.997" stop-color="#fafafa"/></linearGradient>
<linearGradient id="ga6" gradientUnits="userSpaceOnUse" x1="334.5" y1="0" x2="511" y2="0"><stop offset="0.000" stop-color="#f8f8f8"/><stop offset="0.312" stop-color="#f2f2f2"/><stop offset="0.346" stop-color="#ececec"/><stop offset="0.380" stop-color="#c8c8c8"/><stop offset="0.408" stop-color="#4d4d4d"/><stop offset="0.419" stop-color="#292929"/><stop offset="0.425" stop-color="#202020"/><stop offset="0.436" stop-color="#2a2a2a"/><stop offset="0.448" stop-color="#3f3f3f"/><stop offset="0.459" stop-color="#444444"/><stop offset="0.465" stop-color="#3f3f3f"/><stop offset="0.476" stop-color="#2a2a2a"/><stop offset="0.487" stop-color="#202020"/><stop offset="0.493" stop-color="#292929"/><stop offset="0.504" stop-color="#4d4d4d"/><stop offset="0.521" stop-color="#949494"/><stop offset="0.533" stop-color="#d0d0d0"/><stop offset="0.561" stop-color="#e9e9e9"/><stop offset="0.601" stop-color="#f0f0f0"/><stop offset="0.822" stop-color="#fafafa"/><stop offset="0.997" stop-color="#fafafa"/></linearGradient>
<linearGradient id="ga7" gradientUnits="userSpaceOnUse" x1="334.5" y1="0" x2="511" y2="0"><stop offset="0.000" stop-color="#f8f8f8"/><stop offset="0.300" stop-color="#f2f2f2"/><stop offset="0.351" stop-color="#e8e8e8"/><stop offset="0.368" stop-color="#d2d2d2"/><stop offset="0.385" stop-color="#b4b4b4"/><stop offset="0.397" stop-color="#7c7c7c"/><stop offset="0.408" stop-color="#4e4e4e"/><stop offset="0.414" stop-color="#3a3a3a"/><stop offset="0.425" stop-color="#1d1d1d"/><stop offset="0.436" stop-color="#1e1e1e"/><stop offset="0.448" stop-color="#313131"/><stop offset="0.459" stop-color="#353535"/><stop offset="0.482" stop-color="#1a1a1a"/><stop offset="0.487" stop-color="#1c1c1c"/><stop offset="0.499" stop-color="#3a3a3a"/><stop offset="0.516" stop-color="#7e7e7e"/><stop offset="0.521" stop-color="#999999"/><stop offset="0.527" stop-color="#bdbdbd"/><stop offset="0.544" stop-color="#d7d7d7"/><stop offset="0.561" stop-color="#e9e9e9"/><stop offset="0.606" stop-color="#f0f0f0"/><stop offset="0.822" stop-color="#fafafa"/><stop offset="0.997" stop-color="#fafafa"/></linearGradient>
<linearGradient id="ga8" gradientUnits="userSpaceOnUse" x1="334.5" y1="0" x2="511" y2="0"><stop offset="0.000" stop-color="#f8f8f8"/><stop offset="0.306" stop-color="#f2f2f2"/><stop offset="0.351" stop-color="#e7e7e7"/><stop offset="0.363" stop-color="#dddddd"/><stop offset="0.385" stop-color="#b1b1b1"/><stop offset="0.391" stop-color="#9c9c9c"/><stop offset="0.402" stop-color="#656565"/><stop offset="0.414" stop-color="#3b3b3b"/><stop offset="0.419" stop-color="#2a2a2a"/><stop offset="0.431" stop-color="#131313"/><stop offset="0.436" stop-color="#141414"/><stop offset="0.453" stop-color="#272727"/><stop offset="0.459" stop-color="#272727"/><stop offset="0.482" stop-color="#121212"/><stop offset="0.493" stop-color="#2a2a2a"/><stop offset="0.499" stop-color="#3d3d3d"/><stop offset="0.516" stop-color="#808080"/><stop offset="0.521" stop-color="#a3a3a3"/><stop offset="0.527" stop-color="#b5b5b5"/><stop offset="0.544" stop-color="#d6d6d6"/><stop offset="0.561" stop-color="#e8e8e8"/><stop offset="0.606" stop-color="#f0f0f0"/><stop offset="0.822" stop-color="#fafafa"/><stop offset="0.997" stop-color="#fafafa"/></linearGradient>
<linearGradient id="ga9" gradientUnits="userSpaceOnUse" x1="334.5" y1="0" x2="511" y2="0"><stop offset="0.000" stop-color="#f8f8f8"/><stop offset="0.306" stop-color="#f2f2f2"/><stop offset="0.346" stop-color="#eaeaea"/><stop offset="0.363" stop-color="#dfdfdf"/><stop offset="0.380" stop-color="#c0c0c0"/><stop offset="0.391" stop-color="#9f9f9f"/><stop offset="0.402" stop-color="#656565"/><stop offset="0.414" stop-color="#383838"/><stop offset="0.425" stop-color="#1c1c1c"/><stop offset="0.436" stop-color="#0c0c0c"/><stop offset="0.459" stop-color="#181818"/><stop offset="0.476" stop-color="#0c0c0c"/><stop offset="0.487" stop-color="#1c1c1c"/><stop offset="0.499" stop-color="#3d3d3d"/><stop offset="0.510" stop-color="#696969"/><stop offset="0.521" stop-color="#a6a6a6"/><stop offset="0.527" stop-color="#adadad"/><stop offset="0.538" stop-color="#cecece"/><stop offset="0.555" stop-color="#e5e5e5"/><stop offset="0.606" stop-color="#f0f0f0"/><stop offset="0.827" stop-color="#fafafa"/><stop offset="0.997" stop-color="#fafafa"/></linearGradient>
<linearGradient id="ga10" gradientUnits="userSpaceOnUse" x1="334.5" y1="0" x2="511" y2="0"><stop offset="0.000" stop-color="#f8f8f8"/><stop offset="0.312" stop-color="#f2f2f2"/><stop offset="0.346" stop-color="#ebebeb"/><stop offset="0.368" stop-color="#dadada"/><stop offset="0.385" stop-color="#b5b5b5"/><stop offset="0.397" stop-color="#8a8a8a"/><stop offset="0.408" stop-color="#4c4c4c"/><stop offset="0.419" stop-color="#232323"/><stop offset="0.431" stop-color="#0f0f0f"/><stop offset="0.442" stop-color="#050505"/><stop offset="0.453" stop-color="#0a0a0a"/><stop offset="0.470" stop-color="#050505"/><stop offset="0.476" stop-color="#060606"/><stop offset="0.487" stop-color="#191919"/><stop offset="0.499" stop-color="#3b3b3b"/><stop offset="0.510" stop-color="#6c6c6c"/><stop offset="0.516" stop-color="#969696"/><stop offset="0.521" stop-color="#9a9a9a"/><stop offset="0.533" stop-color="#c4c4c4"/><stop offset="0.550" stop-color="#e2e2e2"/><stop offset="0.567" stop-color="#eaeaea"/><stop offset="0.601" stop-color="#f0f0f0"/><stop offset="0.822" stop-color="#fafafa"/><stop offset="0.997" stop-color="#fafafa"/></linearGradient>
<linearGradient id="ga11" gradientUnits="userSpaceOnUse" x1="334.5" y1="0" x2="511" y2="0"><stop offset="0.000" stop-color="#f8f8f8"/><stop offset="0.312" stop-color="#f2f2f2"/><stop offset="0.351" stop-color="#e8e8e8"/><stop offset="0.368" stop-color="#dadada"/><stop offset="0.385" stop-color="#b7b7b7"/><stop offset="0.397" stop-color="#8c8c8c"/><stop offset="0.414" stop-color="#373737"/><stop offset="0.425" stop-color="#141414"/><stop offset="0.442" stop-color="#020202"/><stop offset="0.470" stop-color="#000000"/><stop offset="0.482" stop-color="#0c0c0c"/><stop offset="0.493" stop-color="#292929"/><stop offset="0.504" stop-color="#555555"/><stop offset="0.510" stop-color="#777777"/><stop offset="0.516" stop-color="#8e8e8e"/><stop offset="0.521" stop-color="#9d9d9d"/><stop offset="0.527" stop-color="#b4b4b4"/><stop offset="0.533" stop-color="#c5c5c5"/><stop offset="0.550" stop-color="#e1e1e1"/><stop offset="0.567" stop-color="#eaeaea"/><stop offset="0.601" stop-color="#f0f0f0"/><stop offset="0.822" stop-color="#fafafa"/><stop offset="0.997" stop-color="#fafafa"/></linearGradient>
<linearGradient id="ga12" gradientUnits="userSpaceOnUse" x1="334.5" y1="0" x2="511" y2="0"><stop offset="0.000" stop-color="#f8f8f8"/><stop offset="0.312" stop-color="#f2f2f2"/><stop offset="0.346" stop-color="#eaeaea"/><stop offset="0.368" stop-color="#d9d9d9"/><stop offset="0.385" stop-color="#b7b7b7"/><stop offset="0.391" stop-color="#a5a5a5"/><stop offset="0.402" stop-color="#767676"/><stop offset="0.414" stop-color="#3b3b3b"/><stop offset="0.425" stop-color="#161616"/><stop offset="0.442" stop-color="#020202"/><stop offset="0.465" stop-color="#000000"/><stop offset="0.470" stop-color="#000000"/><stop offset="0.482" stop-color="#0e0e0e"/><stop offset="0.493" stop-color="#2c2c2c"/><stop offset="0.504" stop-color="#5a5a5a"/><stop offset="0.510" stop-color="#7c7c7c"/><stop offset="0.527" stop-color="#b6b6b6"/><stop offset="0.533" stop-color="#c4c4c4"/><stop offset="0.544" stop-color="#d9d9d9"/><stop offset="0.567" stop-color="#e9e9e9"/><stop offset="0.601" stop-color="#efefef"/><stop offset="0.822" stop-color="#f9f9f9"/><stop offset="0.997" stop-color="#fafafa"/></linearGradient>
<linearGradient id="ga13" gradientUnits="userSpaceOnUse" x1="334.5" y1="0" x2="511" y2="0"><stop offset="0.000" stop-color="#f7f7f7"/><stop offset="0.312" stop-color="#f1f1f1"/><stop offset="0.346" stop-color="#eaeaea"/><stop offset="0.368" stop-color="#d9d9d9"/><stop offset="0.385" stop-color="#b7b7b7"/><stop offset="0.402" stop-color="#7a7a7a"/><stop offset="0.414" stop-color="#3f3f3f"/><stop offset="0.419" stop-color="#2a2a2a"/><stop offset="0.431" stop-color="#0d0d0d"/><stop offset="0.442" stop-color="#020202"/><stop offset="0.465" stop-color="#000000"/><stop offset="0.476" stop-color="#080808"/><stop offset="0.487" stop-color="#1f1f1f"/><stop offset="0.499" stop-color="#474747"/><stop offset="0.504" stop-color="#5f5f5f"/><stop offset="0.510" stop-color="#808080"/><stop offset="0.516" stop-color="#8e8e8e"/><stop offset="0.527" stop-color="#b6b6b6"/><stop offset="0.544" stop-color="#d8d8d8"/><stop offset="0.567" stop-color="#e8e8e8"/><stop offset="0.601" stop-color="#eeeeee"/><stop offset="0.822" stop-color="#f9f9f9"/><stop offset="0.997" stop-color="#f9f9f9"/></linearGradient>
<linearGradient id="ga14" gradientUnits="userSpaceOnUse" x1="334.5" y1="0" x2="511" y2="0"><stop offset="0.000" stop-color="#f7f7f7"/><stop offset="0.312" stop-color="#f1f1f1"/><stop offset="0.346" stop-color="#e9e9e9"/><stop offset="0.368" stop-color="#d8d8d8"/><stop offset="0.385" stop-color="#b6b6b6"/><stop offset="0.402" stop-color="#7f7f7f"/><stop offset="0.414" stop-color="#444444"/><stop offset="0.419" stop-color="#2d2d2d"/><stop offset="0.431" stop-color="#0e0e0e"/><stop offset="0.442" stop-color="#020202"/><stop offset="0.465" stop-color="#000000"/><stop offset="0.476" stop-color="#090909"/><stop offset="0.487" stop-color="#222222"/><stop offset="0.499" stop-color="#4c4c4c"/><stop offset="0.510" stop-color="#838383"/><stop offset="0.516" stop-color="#8f8f8f"/><stop offset="0.527" stop-color="#b6b6b6"/><stop offset="0.544" stop-color="#d6d6d6"/><stop offset="0.567" stop-color="#e7e7e7"/><stop offset="0.601" stop-color="#eeeeee"/><stop offset="0.822" stop-color="#f9f9f9"/><stop offset="0.997" stop-color="#f9f9f9"/></linearGradient>
<linearGradient id="ga15" gradientUnits="userSpaceOnUse" x1="334.5" y1="0" x2="511" y2="0"><stop offset="0.000" stop-color="#f6f6f6"/><stop offset="0.312" stop-color="#f0f0f0"/><stop offset="0.346" stop-color="#e9e9e9"/><stop offset="0.368" stop-color="#d7d7d7"/><stop offset="0.385" stop-color="#b6b6b6"/><stop offset="0.402" stop-color="#838383"/><stop offset="0.414" stop-color="#484848"/><stop offset="0.419" stop-color="#313131"/><stop offset="0.431" stop-color="#0f0f0f"/><stop offset="0.442" stop-color="#020202"/><stop offset="0.465" stop-color="#000000"/><stop offset="0.476" stop-color="#0b0b0b"/><stop offset="0.487" stop-color="#262626"/><stop offset="0.499" stop-color="#505050"/><stop offset="0.510" stop-color="#858585"/><stop offset="0.516" stop-color="#909090"/><stop offset="0.527" stop-color="#b6b6b6"/><stop offset="0.544" stop-color="#d4d4d4"/><stop offset="0.567" stop-color="#e6e6e6"/><stop offset="0.601" stop-color="#ededed"/><stop offset="0.822" stop-color="#f8f8f8"/><stop offset="0.997" stop-color="#f8f8f8"/></linearGradient>
<linearGradient id="ga16" gradientUnits="userSpaceOnUse" x1="334.5" y1="0" x2="511" y2="0"><stop offset="0.000" stop-color="#f6f6f6"/><stop offset="0.312" stop-color="#f0f0f0"/><stop offset="0.346" stop-color="#e9e9e9"/><stop offset="0.368" stop-color="#d7d7d7"/><stop offset="0.385" stop-color="#b6b6b6"/><stop offset="0.397" stop-color="#929292"/><stop offset="0.402" stop-color="#878787"/><stop offset="0.408" stop-color="#686868"/><stop offset="0.419" stop-color="#353535"/><stop offset="0.431" stop-color="#121212"/><stop offset="0.442" stop-color="#040404"/><stop offset="0.459" stop-color="#010101"/><stop offset="0.470" stop-color="#050505"/><stop offset="0.482" stop-color="#191919"/><stop offset="0.493" stop-color="#3d3d3d"/><stop offset="0.510" stop-color="#878787"/><stop offset="0.516" stop-color="#929292"/><stop offset="0.527" stop-color="#b5b5b5"/><stop offset="0.544" stop-color="#d2d2d2"/><stop offset="0.567" stop-color="#e5e5e5"/><stop offset="0.601" stop-color="#ececec"/><stop offset="0.822" stop-color="#f8f8f8"/><stop offset="0.997" stop-color="#f8f8f8"/></linearGradient>
<linearGradient id="ga17" gradientUnits="userSpaceOnUse" x1="334.5" y1="0" x2="511" y2="0"><stop offset="0.000" stop-color="#f6f6f6"/><stop offset="0.312" stop-color="#f0f0f0"/><stop offset="0.346" stop-color="#e9e9e9"/><stop offset="0.368" stop-color="#d7d7d7"/><stop offset="0.385" stop-color="#b8b8b8"/><stop offset="0.397" stop-color="#949494"/><stop offset="0.402" stop-color="#888888"/><stop offset="0.414" stop-color="#4f4f4f"/><stop offset="0.425" stop-color="#272727"/><stop offset="0.431" stop-color="#191919"/><stop offset="0.442" stop-color="#0b0b0b"/><stop offset="0.459" stop-color="#060606"/><stop offset="0.470" stop-color="#0b0b0b"/><stop offset="0.482" stop-color="#1e1e1e"/><stop offset="0.493" stop-color="#3f3f3f"/><stop offset="0.510" stop-color="#898989"/><stop offset="0.516" stop-color="#939393"/><stop offset="0.527" stop-color="#b5b5b5"/><stop offset="0.544" stop-color="#d2d2d2"/><stop offset="0.567" stop-color="#e4e4e4"/><stop offset="0.601" stop-color="#ececec"/><stop offset="0.822" stop-color="#f8f8f8"/><stop offset="0.997" stop-color="#f8f8f8"/></linearGradient>
<linearGradient id="ga18" gradientUnits="userSpaceOnUse" x1="334.5" y1="0" x2="511" y2="0"><stop offset="0.000" stop-color="#f6f6f6"/><stop offset="0.312" stop-color="#f0f0f0"/><stop offset="0.351" stop-color="#e6e6e6"/><stop offset="0.368" stop-color="#d8d8d8"/><stop offset="0.385" stop-color="#b9b9b9"/><stop offset="0.397" stop-color="#959595"/><stop offset="0.402" stop-color="#898989"/><stop offset="0.414" stop-color="#525252"/><stop offset="0.419" stop-color="#3d3d3d"/><stop offset="0.431" stop-color="#202020"/><stop offset="0.442" stop-color="#111111"/><stop offset="0.459" stop-color="#0c0c0c"/><stop offset="0.470" stop-color="#111111"/><stop offset="0.482" stop-color="#222222"/><stop offset="0.493" stop-color="#424242"/><stop offset="0.510" stop-color="#8a8a8a"/><stop offset="0.533" stop-color="#c1c1c1"/><stop offset="0.544" stop-color="#d2d2d2"/><stop offset="0.567" stop-color="#e4e4e4"/><stop offset="0.601" stop-color="#ececec"/><stop offset="0.822" stop-color="#f8f8f8"/><stop offset="0.997" stop-color="#f8f8f8"/></linearGradient>
<linearGradient id="ga19" gradientUnits="userSpaceOnUse" x1="334.5" y1="0" x2="511" y2="0"><stop offset="0.000" stop-color="#f6f6f6"/><stop offset="0.312" stop-color="#f0f0f0"/><stop offset="0.351" stop-color="#e6e6e6"/><stop offset="0.368" stop-color="#d9d9d9"/><stop offset="0.385" stop-color="#bababa"/><stop offset="0.397" stop-color="#979797"/><stop offset="0.402" stop-color="#8a8a8a"/><stop offset="0.414" stop-color="#545454"/><stop offset="0.419" stop-color="#414141"/><stop offset="0.431" stop-color="#262626"/><stop offset="0.448" stop-color="#141414"/><stop offset="0.459" stop-color="#111111"/><stop offset="0.470" stop-color="#181818"/><stop offset="0.482" stop-color="#282828"/><stop offset="0.493" stop-color="#454545"/><stop offset="0.510" stop-color="#8c8c8c"/><stop offset="0.533" stop-color="#c1c1c1"/><stop offset="0.544" stop-color="#d2d2d2"/><stop offset="0.567" stop-color="#e3e3e3"/><stop offset="0.601" stop-color="#ececec"/><stop offset="0.822" stop-color="#f8f8f8"/><stop offset="0.997" stop-color="#f8f8f8"/></linearGradient>
<linearGradient id="ga20" gradientUnits="userSpaceOnUse" x1="334.5" y1="0" x2="511" y2="0"><stop offset="0.000" stop-color="#f6f6f6"/><stop offset="0.312" stop-color="#f0f0f0"/><stop offset="0.351" stop-color="#e6e6e6"/><stop offset="0.368" stop-color="#d9d9d9"/><stop offset="0.385" stop-color="#bcbcbc"/><stop offset="0.397" stop-color="#989898"/><stop offset="0.402" stop-color="#8c8c8c"/><stop offset="0.414" stop-color="#565656"/><stop offset="0.425" stop-color="#363636"/><stop offset="0.436" stop-color="#242424"/><stop offset="0.459" stop-color="#161616"/><stop offset="0.476" stop-color="#252525"/><stop offset="0.487" stop-color="#3a3a3a"/><stop offset="0.499" stop-color="#5d5d5d"/><stop offset="0.510" stop-color="#8d8d8d"/><stop offset="0.533" stop-color="#c1c1c1"/><stop offset="0.544" stop-color="#d1d1d1"/><stop offset="0.561" stop-color="#e1e1e1"/><stop offset="0.601" stop-color="#ececec"/><stop offset="0.822" stop-color="#f8f8f8"/><stop offset="0.997" stop-color="#f8f8f8"/></linearGradient>
<linearGradient id="ga21" gradientUnits="userSpaceOnUse" x1="334.5" y1="0" x2="511" y2="0"><stop offset="0.000" stop-color="#f6f6f6"/><stop offset="0.312" stop-color="#f0f0f0"/><stop offset="0.351" stop-color="#e6e6e6"/><stop offset="0.368" stop-color="#dadada"/><stop offset="0.385" stop-color="#bdbdbd"/><stop offset="0.397" stop-color="#9a9a9a"/><stop offset="0.402" stop-color="#8d8d8d"/><stop offset="0.414" stop-color="#585858"/><stop offset="0.425" stop-color="#3b3b3b"/><stop offset="0.448" stop-color="#212121"/><stop offset="0.459" stop-color="#1c1c1c"/><stop offset="0.476" stop-color="#2b2b2b"/><stop offset="0.487" stop-color="#3e3e3e"/><stop offset="0.499" stop-color="#5f5f5f"/><stop offset="0.510" stop-color="#8e8e8e"/><stop offset="0.533" stop-color="#c1c1c1"/><stop offset="0.561" stop-color="#e1e1e1"/><stop offset="0.601" stop-color="#ececec"/><stop offset="0.822" stop-color="#f8f8f8"/><stop offset="0.997" stop-color="#f8f8f8"/></linearGradient>
<linearGradient id="ga22" gradientUnits="userSpaceOnUse" x1="334.5" y1="0" x2="511" y2="0"><stop offset="0.000" stop-color="#f6f6f6"/><stop offset="0.312" stop-color="#f0f0f0"/><stop offset="0.346" stop-color="#e8e8e8"/><stop offset="0.368" stop-color="#d9d9d9"/><stop offset="0.385" stop-color="#bcbcbc"/><stop offset="0.402" stop-color="#8d8d8d"/><stop offset="0.414" stop-color="#585858"/><stop offset="0.425" stop-color="#3b3b3b"/><stop offset="0.442" stop-color="#262626"/><stop offset="0.459" stop-color="#1c1c1c"/><stop offset="0.476" stop-color="#2b2b2b"/><stop offset="0.487" stop-color="#404040"/><stop offset="0.499" stop-color="#616161"/><stop offset="0.510" stop-color="#8f8f8f"/><stop offset="0.533" stop-color="#c1c1c1"/><stop offset="0.561" stop-color="#e0e0e0"/><stop offset="0.601" stop-color="#ececec"/><stop offset="0.822" stop-color="#f8f8f8"/><stop offset="0.997" stop-color="#f8f8f8"/></linearGradient>
<linearGradient id="ga23" gradientUnits="userSpaceOnUse" x1="334.5" y1="0" x2="511" y2="0"><stop offset="0.000" stop-color="#f6f6f6"/><stop offset="0.312" stop-color="#f0f0f0"/><stop offset="0.346" stop-color="#e7e7e7"/><stop offset="0.368" stop-color="#d8d8d8"/><stop offset="0.385" stop-color="#bbbbbb"/><stop offset="0.402" stop-color="#8d8d8d"/><stop offset="0.408" stop-color="#777777"/><stop offset="0.414" stop-color="#585858"/><stop offset="0.425" stop-color="#3b3b3b"/><stop offset="0.442" stop-color="#242424"/><stop offset="0.459" stop-color="#1a1a1a"/><stop offset="0.470" stop-color="#232323"/><stop offset="0.482" stop-color="#343434"/><stop offset="0.499" stop-color="#636363"/><stop offset="0.510" stop-color="#909090"/><stop offset="0.533" stop-color="#c0c0c0"/><stop offset="0.561" stop-color="#dfdfdf"/><stop offset="0.601" stop-color="#ececec"/><stop offset="0.822" stop-color="#f8f8f8"/><stop offset="0.997" stop-color="#f8f8f8"/></linearGradient>
<linearGradient id="ga24" gradientUnits="userSpaceOnUse" x1="334.5" y1="0" x2="511" y2="0"><stop offset="0.000" stop-color="#f6f6f6"/><stop offset="0.312" stop-color="#f0f0f0"/><stop offset="0.346" stop-color="#e7e7e7"/><stop offset="0.374" stop-color="#cfcfcf"/><stop offset="0.385" stop-color="#b9b9b9"/><stop offset="0.402" stop-color="#8c8c8c"/><stop offset="0.408" stop-color="#797979"/><stop offset="0.414" stop-color="#585858"/><stop offset="0.425" stop-color="#3a3a3a"/><stop offset="0.442" stop-color="#222222"/><stop offset="0.459" stop-color="#181818"/><stop offset="0.470" stop-color="#212121"/><stop offset="0.482" stop-color="#353535"/><stop offset="0.499" stop-color="#656565"/><stop offset="0.510" stop-color="#909090"/><stop offset="0.533" stop-color="#bfbfbf"/><stop offset="0.561" stop-color="#dfdfdf"/><stop offset="0.601" stop-color="#ebebeb"/><stop offset="0.822" stop-color="#f8f8f8"/><stop offset="0.997" stop-color="#f8f8f8"/></linearGradient>
<linearGradient id="ga25" gradientUnits="userSpaceOnUse" x1="334.5" y1="0" x2="511" y2="0"><stop offset="0.000" stop-color="#f6f6f6"/><stop offset="0.312" stop-color="#f0f0f0"/><stop offset="0.346" stop-color="#e6e6e6"/><stop offset="0.374" stop-color="#cdcdcd"/><stop offset="0.385" stop-color="#b8b8b8"/><stop offset="0.408" stop-color="#7c7c7c"/><stop offset="0.414" stop-color="#585858"/><stop offset="0.425" stop-color="#3a3a3a"/><stop offset="0.442" stop-color="#202020"/><stop offset="0.459" stop-color="#161616"/><stop offset="0.470" stop-color="#202020"/><stop offset="0.482" stop-color="#363636"/><stop offset="0.499" stop-color="#666666"/><stop offset="0.510" stop-color="#909090"/><stop offset="0.533" stop-color="#bebebe"/><stop offset="0.555" stop-color="#dbdbdb"/><stop offset="0.572" stop-color="#e3e3e3"/><stop offset="0.601" stop-color="#ebebeb"/><stop offset="0.822" stop-color="#f8f8f8"/><stop offset="0.997" stop-color="#f8f8f8"/></linearGradient>
<linearGradient id="ga26" gradientUnits="userSpaceOnUse" x1="334.5" y1="0" x2="511" y2="0"><stop offset="0.000" stop-color="#f6f6f6"/><stop offset="0.312" stop-color="#f0f0f0"/><stop offset="0.346" stop-color="#e5e5e5"/><stop offset="0.374" stop-color="#cccccc"/><stop offset="0.385" stop-color="#b6b6b6"/><stop offset="0.408" stop-color="#808080"/><stop offset="0.414" stop-color="#585858"/><stop offset="0.425" stop-color="#3a3a3a"/><stop offset="0.442" stop-color="#1d1d1d"/><stop offset="0.459" stop-color="#141414"/><stop offset="0.470" stop-color="#1f1f1f"/><stop offset="0.482" stop-color="#373737"/><stop offset="0.499" stop-color="#676767"/><stop offset="0.510" stop-color="#8f8f8f"/><stop offset="0.516" stop-color="#979797"/><stop offset="0.533" stop-color="#bdbdbd"/><stop offset="0.555" stop-color="#dadada"/><stop offset="0.572" stop-color="#e3e3e3"/><stop offset="0.601" stop-color="#eaeaea"/><stop offset="0.822" stop-color="#f8f8f8"/><stop offset="0.997" stop-color="#f8f8f8"/></linearGradient>
<linearGradient id="ga27" gradientUnits="userSpaceOnUse" x1="334.5" y1="0" x2="511" y2="0"><stop offset="0.000" stop-color="#f6f6f6"/><stop offset="0.312" stop-color="#f0f0f0"/><stop offset="0.346" stop-color="#e5e5e5"/><stop offset="0.374" stop-color="#cacaca"/><stop offset="0.385" stop-color="#b5b5b5"/><stop offset="0.408" stop-color="#7e7e7e"/><stop offset="0.414" stop-color="#585858"/><stop offset="0.425" stop-color="#3b3b3b"/><stop offset="0.442" stop-color="#1d1d1d"/><stop offset="0.459" stop-color="#131313"/><stop offset="0.470" stop-color="#1f1f1f"/><stop offset="0.476" stop-color="#2a2a2a"/><stop offset="0.499" stop-color="#676767"/><stop offset="0.510" stop-color="#8d8d8d"/><stop offset="0.533" stop-color="#bbbbbb"/><stop offset="0.555" stop-color="#d9d9d9"/><stop offset="0.578" stop-color="#e4e4e4"/><stop offset="0.601" stop-color="#eaeaea"/><stop offset="0.822" stop-color="#f8f8f8"/><stop offset="0.997" stop-color="#f8f8f8"/></linearGradient>
<linearGradient id="ga28" gradientUnits="userSpaceOnUse" x1="334.5" y1="0" x2="511" y2="0"><stop offset="0.000" stop-color="#f6f6f6"/><stop offset="0.295" stop-color="#f0f0f0"/><stop offset="0.346" stop-color="#e4e4e4"/><stop offset="0.368" stop-color="#d1d1d1"/><stop offset="0.385" stop-color="#b2b2b2"/><stop offset="0.397" stop-color="#959595"/><stop offset="0.402" stop-color="#8d8d8d"/><stop offset="0.408" stop-color="#6c6c6c"/><stop offset="0.414" stop-color="#5a5a5a"/><stop offset="0.431" stop-color="#333333"/><stop offset="0.442" stop-color="#222222"/><stop offset="0.459" stop-color="#171717"/><stop offset="0.470" stop-color="#212121"/><stop offset="0.482" stop-color="#383838"/><stop offset="0.516" stop-color="#959595"/><stop offset="0.533" stop-color="#b7b7b7"/><stop offset="0.555" stop-color="#d6d6d6"/><stop offset="0.578" stop-color="#e3e3e3"/><stop offset="0.612" stop-color="#ebebeb"/><stop offset="0.822" stop-color="#f8f8f8"/><stop offset="0.997" stop-color="#f8f8f8"/></linearGradient>
<linearGradient id="ga29" gradientUnits="userSpaceOnUse" x1="334.5" y1="0" x2="511" y2="0"><stop offset="0.000" stop-color="#f5f5f5"/><stop offset="0.295" stop-color="#f0f0f0"/><stop offset="0.340" stop-color="#e5e5e5"/><stop offset="0.368" stop-color="#cecece"/><stop offset="0.391" stop-color="#a0a0a0"/><stop offset="0.402" stop-color="#8f8f8f"/><stop offset="0.408" stop-color="#6b6b6b"/><stop offset="0.425" stop-color="#424242"/><stop offset="0.442" stop-color="#272727"/><stop offset="0.459" stop-color="#1b1b1b"/><stop offset="0.470" stop-color="#252525"/><stop offset="0.482" stop-color="#393939"/><stop offset="0.510" stop-color="#7f7f7f"/><stop offset="0.516" stop-color="#939393"/><stop offset="0.538" stop-color="#bcbcbc"/><stop offset="0.561" stop-color="#d8d8d8"/><stop offset="0.584" stop-color="#e4e4e4"/><stop offset="0.618" stop-color="#ebebeb"/><stop offset="0.822" stop-color="#f8f8f8"/><stop offset="0.997" stop-color="#f8f8f8"/></linearGradient>
<linearGradient id="ga30" gradientUnits="userSpaceOnUse" x1="334.5" y1="0" x2="511" y2="0"><stop offset="0.000" stop-color="#f5f5f5"/><stop offset="0.289" stop-color="#f0f0f0"/><stop offset="0.334" stop-color="#e7e7e7"/><stop offset="0.368" stop-color="#cbcbcb"/><stop offset="0.397" stop-color="#979797"/><stop offset="0.402" stop-color="#878787"/><stop offset="0.408" stop-color="#6d6d6d"/><stop offset="0.425" stop-color="#454545"/><stop offset="0.442" stop-color="#2d2d2d"/><stop offset="0.459" stop-color="#1f1f1f"/><stop offset="0.470" stop-color="#292929"/><stop offset="0.482" stop-color="#3b3b3b"/><stop offset="0.510" stop-color="#7b7b7b"/><stop offset="0.521" stop-color="#9d9d9d"/><stop offset="0.538" stop-color="#b8b8b8"/><stop offset="0.561" stop-color="#d5d5d5"/><stop offset="0.589" stop-color="#e5e5e5"/><stop offset="0.618" stop-color="#ebebeb"/><stop offset="0.822" stop-color="#f8f8f8"/><stop offset="0.997" stop-color="#f8f8f8"/></linearGradient>
<linearGradient id="ga31" gradientUnits="userSpaceOnUse" x1="334.5" y1="0" x2="511" y2="0"><stop offset="0.000" stop-color="#f5f5f5"/><stop offset="0.289" stop-color="#f0f0f0"/><stop offset="0.329" stop-color="#e8e8e8"/><stop offset="0.363" stop-color="#d1d1d1"/><stop offset="0.385" stop-color="#a7a7a7"/><stop offset="0.397" stop-color="#999999"/><stop offset="0.402" stop-color="#7f7f7f"/><stop offset="0.419" stop-color="#535353"/><stop offset="0.442" stop-color="#323232"/><stop offset="0.459" stop-color="#232323"/><stop offset="0.470" stop-color="#2d2d2d"/><stop offset="0.487" stop-color="#474747"/><stop offset="0.516" stop-color="#858585"/><stop offset="0.521" stop-color="#9a9a9a"/><stop offset="0.527" stop-color="#a3a3a3"/><stop offset="0.561" stop-color="#d2d2d2"/><stop offset="0.589" stop-color="#e3e3e3"/><stop offset="0.623" stop-color="#ececec"/><stop offset="0.822" stop-color="#f8f8f8"/><stop offset="0.997" stop-color="#f8f8f8"/></linearGradient>
<linearGradient id="ga32" gradientUnits="userSpaceOnUse" x1="334.5" y1="0" x2="511" y2="0"><stop offset="0.000" stop-color="#f4f4f4"/><stop offset="0.289" stop-color="#f0f0f0"/><stop offset="0.329" stop-color="#e8e8e8"/><stop offset="0.363" stop-color="#cfcfcf"/><stop offset="0.385" stop-color="#a5a5a5"/><stop offset="0.397" stop-color="#9b9b9b"/><stop offset="0.402" stop-color="#7f7f7f"/><stop offset="0.419" stop-color="#575757"/><stop offset="0.442" stop-color="#373737"/><stop offset="0.459" stop-color="#272727"/><stop offset="0.470" stop-color="#303030"/><stop offset="0.487" stop-color="#494949"/><stop offset="0.516" stop-color="#828282"/><stop offset="0.521" stop-color="#909090"/><stop offset="0.527" stop-color="#a5a5a5"/><stop offset="0.538" stop-color="#afafaf"/><stop offset="0.561" stop-color="#d0d0d0"/><stop offset="0.595" stop-color="#e4e4e4"/><stop offset="0.623" stop-color="#ececec"/><stop offset="0.822" stop-color="#f8f8f8"/><stop offset="0.997" stop-color="#f8f8f8"/></linearGradient>
<linearGradient id="ga33" gradientUnits="userSpaceOnUse" x1="334.5" y1="0" x2="511" y2="0"><stop offset="0.000" stop-color="#f4f4f4"/><stop offset="0.283" stop-color="#f0f0f0"/><stop offset="0.329" stop-color="#e6e6e6"/><stop offset="0.363" stop-color="#cccccc"/><stop offset="0.380" stop-color="#aeaeae"/><stop offset="0.391" stop-color="#a2a2a2"/><stop offset="0.397" stop-color="#959595"/><stop offset="0.402" stop-color="#818181"/><stop offset="0.419" stop-color="#5b5b5b"/><stop offset="0.459" stop-color="#2b2b2b"/><stop offset="0.470" stop-color="#343434"/><stop offset="0.493" stop-color="#555555"/><stop offset="0.521" stop-color="#8b8b8b"/><stop offset="0.527" stop-color="#9f9f9f"/><stop offset="0.533" stop-color="#ababab"/><stop offset="0.567" stop-color="#d2d2d2"/><stop offset="0.601" stop-color="#e5e5e5"/><stop offset="0.629" stop-color="#ececec"/><stop offset="0.822" stop-color="#f8f8f8"/><stop offset="0.997" stop-color="#f8f8f8"/></linearGradient>
<linearGradient id="ga34" gradientUnits="userSpaceOnUse" x1="334.5" y1="0" x2="511" y2="0"><stop offset="0.000" stop-color="#f4f4f4"/><stop offset="0.283" stop-color="#f0f0f0"/><stop offset="0.323" stop-color="#e8e8e8"/><stop offset="0.357" stop-color="#d2d2d2"/><stop offset="0.380" stop-color="#ababab"/><stop offset="0.391" stop-color="#a2a2a2"/><stop offset="0.397" stop-color="#8d8d8d"/><stop offset="0.414" stop-color="#656565"/><stop offset="0.448" stop-color="#373737"/><stop offset="0.459" stop-color="#303030"/><stop offset="0.476" stop-color="#3e3e3e"/><stop offset="0.493" stop-color="#565656"/><stop offset="0.521" stop-color="#8a8a8a"/><stop offset="0.533" stop-color="#acacac"/><stop offset="0.544" stop-color="#b3b3b3"/><stop offset="0.567" stop-color="#d1d1d1"/><stop offset="0.601" stop-color="#e4e4e4"/><stop offset="0.629" stop-color="#ececec"/><stop offset="0.822" stop-color="#f8f8f8"/><stop offset="0.997" stop-color="#f8f8f8"/></linearGradient>
<linearGradient id="ga35" gradientUnits="userSpaceOnUse" x1="334.5" y1="0" x2="511" y2="0"><stop offset="0.000" stop-color="#f4f4f4"/><stop offset="0.278" stop-color="#f0f0f0"/><stop offset="0.323" stop-color="#e7e7e7"/><stop offset="0.357" stop-color="#cfcfcf"/><stop offset="0.374" stop-color="#b2b2b2"/><stop offset="0.385" stop-color="#a6a6a6"/><stop offset="0.402" stop-color="#7b7b7b"/><stop offset="0.425" stop-color="#555555"/><stop offset="0.448" stop-color="#393939"/><stop offset="0.459" stop-color="#363636"/><stop offset="0.476" stop-color="#404040"/><stop offset="0.493" stop-color="#585858"/><stop offset="0.527" stop-color="#949494"/><stop offset="0.533" stop-color="#a8a8a8"/><stop offset="0.567" stop-color="#d0d0d0"/><stop offset="0.601" stop-color="#e4e4e4"/><stop offset="0.635" stop-color="#ececec"/><stop offset="0.822" stop-color="#f7f7f7"/><stop offset="0.997" stop-color="#f8f8f8"/></linearGradient>
<linearGradient id="ga36" gradientUnits="userSpaceOnUse" x1="334.5" y1="0" x2="511" y2="0"><stop offset="0.000" stop-color="#f4f4f4"/><stop offset="0.272" stop-color="#f0f0f0"/><stop offset="0.317" stop-color="#e9e9e9"/><stop offset="0.351" stop-color="#d4d4d4"/><stop offset="0.374" stop-color="#afafaf"/><stop offset="0.385" stop-color="#a6a6a6"/><stop offset="0.397" stop-color="#838383"/><stop offset="0.425" stop-color="#555555"/><stop offset="0.442" stop-color="#404040"/><stop offset="0.459" stop-color="#3c3c3c"/><stop offset="0.476" stop-color="#444444"/><stop offset="0.493" stop-color="#5a5a5a"/><stop offset="0.527" stop-color="#939393"/><stop offset="0.538" stop-color="#afafaf"/><stop offset="0.572" stop-color="#d3d3d3"/><stop offset="0.601" stop-color="#e3e3e3"/><stop offset="0.646" stop-color="#ededed"/><stop offset="0.822" stop-color="#f7f7f7"/><stop offset="0.997" stop-color="#f8f8f8"/></linearGradient>
<linearGradient id="ga37" gradientUnits="userSpaceOnUse" x1="334.5" y1="0" x2="511" y2="0"><stop offset="0.000" stop-color="#f4f4f4"/><stop offset="0.266" stop-color="#f0f0f0"/><stop offset="0.317" stop-color="#e8e8e8"/><stop offset="0.351" stop-color="#d3d3d3"/><stop offset="0.374" stop-color="#adadad"/><stop offset="0.380" stop-color="#a9a9a9"/><stop offset="0.391" stop-color="#8c8c8c"/><stop offset="0.402" stop-color="#787878"/><stop offset="0.425" stop-color="#545454"/><stop offset="0.442" stop-color="#424242"/><stop offset="0.482" stop-color="#4d4d4d"/><stop offset="0.527" stop-color="#939393"/><stop offset="0.538" stop-color="#b0b0b0"/><stop offset="0.550" stop-color="#b7b7b7"/><stop offset="0.572" stop-color="#d2d2d2"/><stop offset="0.606" stop-color="#e5e5e5"/><stop offset="0.646" stop-color="#ececec"/><stop offset="0.822" stop-color="#f7f7f7"/><stop offset="0.997" stop-color="#f8f8f8"/></linearGradient>
<linearGradient id="ga38" gradientUnits="userSpaceOnUse" x1="334.5" y1="0" x2="511" y2="0"><stop offset="0.000" stop-color="#f4f4f4"/><stop offset="0.261" stop-color="#f0f0f0"/><stop offset="0.312" stop-color="#eaeaea"/><stop offset="0.351" stop-color="#d1d1d1"/><stop offset="0.368" stop-color="#b3b3b3"/><stop offset="0.380" stop-color="#a8a8a8"/><stop offset="0.391" stop-color="#888888"/><stop offset="0.425" stop-color="#555555"/><stop offset="0.442" stop-color="#464646"/><stop offset="0.482" stop-color="#4f4f4f"/><stop offset="0.527" stop-color="#939393"/><stop offset="0.544" stop-color="#b3b3b3"/><stop offset="0.572" stop-color="#d0d0d0"/><stop offset="0.606" stop-color="#e4e4e4"/><stop offset="0.652" stop-color="#ececec"/><stop offset="0.822" stop-color="#f7f7f7"/><stop offset="0.997" stop-color="#f8f8f8"/></linearGradient>
<linearGradient id="ga39" gradientUnits="userSpaceOnUse" x1="334.5" y1="0" x2="511" y2="0"><stop offset="0.000" stop-color="#f4f4f4"/><stop offset="0.261" stop-color="#f0f0f0"/><stop offset="0.312" stop-color="#e9e9e9"/><stop offset="0.346" stop-color="#d6d6d6"/><stop offset="0.374" stop-color="#acacac"/><stop offset="0.391" stop-color="#878787"/><stop offset="0.419" stop-color="#5d5d5d"/><stop offset="0.436" stop-color="#4a4a4a"/><stop offset="0.465" stop-color="#535353"/><stop offset="0.482" stop-color="#525252"/><stop offset="0.527" stop-color="#939393"/><stop offset="0.544" stop-color="#b4b4b4"/><stop offset="0.572" stop-color="#cfcfcf"/><stop offset="0.606" stop-color="#e4e4e4"/><stop offset="0.652" stop-color="#ececec"/><stop offset="0.822" stop-color="#f6f6f6"/><stop offset="0.997" stop-color="#f8f8f8"/></linearGradient>
<linearGradient id="ga40" gradientUnits="userSpaceOnUse" x1="334.5" y1="0" x2="511" y2="0"><stop offset="0.000" stop-color="#f4f4f4"/><stop offset="0.306" stop-color="#ebebeb"/><stop offset="0.346" stop-color="#d5d5d5"/><stop offset="0.368" stop-color="#afafaf"/><stop offset="0.374" stop-color="#ababab"/><stop offset="0.385" stop-color="#8d8d8d"/><stop offset="0.402" stop-color="#7b7b7b"/><stop offset="0.419" stop-color="#5c5c5c"/><stop offset="0.436" stop-color="#4e4e4e"/><stop offset="0.465" stop-color="#5a5a5a"/><stop offset="0.482" stop-color="#575757"/><stop offset="0.487" stop-color="#5c5c5c"/><stop offset="0.533" stop-color="#9c9c9c"/><stop offset="0.544" stop-color="#b3b3b3"/><stop offset="0.572" stop-color="#cecece"/><stop offset="0.606" stop-color="#e3e3e3"/><stop offset="0.652" stop-color="#ececec"/><stop offset="0.822" stop-color="#f6f6f6"/><stop offset="0.997" stop-color="#f8f8f8"/></linearGradient>
<linearGradient id="ga41" gradientUnits="userSpaceOnUse" x1="334.5" y1="0" x2="511" y2="0"><stop offset="0.000" stop-color="#f4f4f4"/><stop offset="0.255" stop-color="#f0f0f0"/><stop offset="0.306" stop-color="#eaeaea"/><stop offset="0.340" stop-color="#d9d9d9"/><stop offset="0.368" stop-color="#afafaf"/><stop offset="0.385" stop-color="#8d8d8d"/><stop offset="0.397" stop-color="#828282"/><stop offset="0.414" stop-color="#656565"/><stop offset="0.431" stop-color="#525252"/><stop offset="0.436" stop-color="#525252"/><stop offset="0.465" stop-color="#606060"/><stop offset="0.487" stop-color="#5d5d5d"/><stop offset="0.550" stop-color="#b7b7b7"/><stop offset="0.578" stop-color="#d2d2d2"/><stop offset="0.612" stop-color="#e4e4e4"/><stop offset="0.657" stop-color="#ececec"/><stop offset="0.822" stop-color="#f6f6f6"/><stop offset="0.997" stop-color="#f8f8f8"/></linearGradient>
<linearGradient id="ga42" gradientUnits="userSpaceOnUse" x1="334.5" y1="0" x2="511" y2="0"><stop offset="0.000" stop-color="#f4f4f4"/><stop offset="0.300" stop-color="#ececec"/><stop offset="0.340" stop-color="#d7d7d7"/><stop offset="0.363" stop-color="#b1b1b1"/><stop offset="0.368" stop-color="#aeaeae"/><stop offset="0.380" stop-color="#939393"/><stop offset="0.397" stop-color="#818181"/><stop offset="0.414" stop-color="#636363"/><stop offset="0.431" stop-color="#525252"/><stop offset="0.465" stop-color="#666666"/><stop offset="0.487" stop-color="#5c5c5c"/><stop offset="0.493" stop-color="#606060"/><stop offset="0.550" stop-color="#b8b8b8"/><stop offset="0.578" stop-color="#d1d1d1"/><stop offset="0.612" stop-color="#e4e4e4"/><stop offset="0.657" stop-color="#ececec"/><stop offset="0.822" stop-color="#f6f6f6"/><stop offset="0.997" stop-color="#f8f8f8"/></linearGradient>
<linearGradient id="ga43" gradientUnits="userSpaceOnUse" x1="334.5" y1="0" x2="511" y2="0"><stop offset="0.000" stop-color="#f3f3f3"/><stop offset="0.238" stop-color="#f0f0f0"/><stop offset="0.300" stop-color="#eaeaea"/><stop offset="0.340" stop-color="#d3d3d3"/><stop offset="0.368" stop-color="#a9a9a9"/><stop offset="0.380" stop-color="#929292"/><stop offset="0.425" stop-color="#545454"/><stop offset="0.436" stop-color="#585858"/><stop offset="0.453" stop-color="#676767"/><stop offset="0.470" stop-color="#6d6d6d"/><stop offset="0.493" stop-color="#5c5c5c"/><stop offset="0.550" stop-color="#b7b7b7"/><stop offset="0.584" stop-color="#d4d4d4"/><stop offset="0.612" stop-color="#e4e4e4"/><stop offset="0.657" stop-color="#ececec"/><stop offset="0.816" stop-color="#f6f6f6"/><stop offset="0.997" stop-color="#f8f8f8"/></linearGradient>
<linearGradient id="ga44" gradientUnits="userSpaceOnUse" x1="334.5" y1="0" x2="511" y2="0"><stop offset="0.000" stop-color="#f3f3f3"/><stop offset="0.295" stop-color="#ececec"/><stop offset="0.334" stop-color="#d8d8d8"/><stop offset="0.357" stop-color="#b4b4b4"/><stop offset="0.363" stop-color="#b2b2b2"/><stop offset="0.374" stop-color="#989898"/><stop offset="0.391" stop-color="#848484"/><stop offset="0.419" stop-color="#565656"/><stop offset="0.425" stop-color="#555555"/><stop offset="0.453" stop-color="#6d6d6d"/><stop offset="0.470" stop-color="#737373"/><stop offset="0.493" stop-color="#5e5e5e"/><stop offset="0.499" stop-color="#5e5e5e"/><stop offset="0.550" stop-color="#b5b5b5"/><stop offset="0.589" stop-color="#d7d7d7"/><stop offset="0.618" stop-color="#e5e5e5"/><stop offset="0.680" stop-color="#efefef"/><stop offset="0.997" stop-color="#f8f8f8"/></linearGradient>
<linearGradient id="ga45" gradientUnits="userSpaceOnUse" x1="334.5" y1="0" x2="511" y2="0"><stop offset="0.000" stop-color="#f3f3f3"/><stop offset="0.232" stop-color="#f0f0f0"/><stop offset="0.295" stop-color="#ebebeb"/><stop offset="0.334" stop-color="#d4d4d4"/><stop offset="0.363" stop-color="#adadad"/><stop offset="0.374" stop-color="#979797"/><stop offset="0.419" stop-color="#555555"/><stop offset="0.431" stop-color="#5b5b5b"/><stop offset="0.453" stop-color="#737373"/><stop offset="0.470" stop-color="#7a7a7a"/><stop offset="0.499" stop-color="#5d5d5d"/><stop offset="0.504" stop-color="#636363"/><stop offset="0.555" stop-color="#bcbcbc"/><stop offset="0.595" stop-color="#dbdbdb"/><stop offset="0.629" stop-color="#e8e8e8"/><stop offset="0.680" stop-color="#efefef"/><stop offset="0.822" stop-color="#f6f6f6"/><stop offset="0.997" stop-color="#f8f8f8"/></linearGradient>
<linearGradient id="ga46" gradientUnits="userSpaceOnUse" x1="334.5" y1="0" x2="511" y2="0"><stop offset="0.000" stop-color="#f2f2f2"/><stop offset="0.289" stop-color="#ececec"/><stop offset="0.329" stop-color="#d8d8d8"/><stop offset="0.351" stop-color="#b7b7b7"/><stop offset="0.357" stop-color="#b5b5b5"/><stop offset="0.368" stop-color="#9e9e9e"/><stop offset="0.402" stop-color="#6e6e6e"/><stop offset="0.414" stop-color="#565656"/><stop offset="0.431" stop-color="#5e5e5e"/><stop offset="0.453" stop-color="#797979"/><stop offset="0.470" stop-color="#808080"/><stop offset="0.504" stop-color="#5d5d5d"/><stop offset="0.555" stop-color="#bcbcbc"/><stop offset="0.595" stop-color="#dadada"/><stop offset="0.635" stop-color="#e9e9e9"/><stop offset="0.822" stop-color="#f6f6f6"/><stop offset="0.997" stop-color="#f8f8f8"/></linearGradient>
<linearGradient id="ga47" gradientUnits="userSpaceOnUse" x1="334.5" y1="0" x2="511" y2="0"><stop offset="0.000" stop-color="#f2f2f2"/><stop offset="0.227" stop-color="#f0f0f0"/><stop offset="0.289" stop-color="#ebebeb"/><stop offset="0.329" stop-color="#d5d5d5"/><stop offset="0.357" stop-color="#b1b1b1"/><stop offset="0.414" stop-color="#575757"/><stop offset="0.431" stop-color="#636363"/><stop offset="0.453" stop-color="#7f7f7f"/><stop offset="0.470" stop-color="#868686"/><stop offset="0.504" stop-color="#5e5e5e"/><stop offset="0.510" stop-color="#626262"/><stop offset="0.555" stop-color="#bababa"/><stop offset="0.595" stop-color="#dadada"/><stop offset="0.635" stop-color="#e9e9e9"/><stop offset="0.822" stop-color="#f6f6f6"/><stop offset="0.997" stop-color="#f8f8f8"/></linearGradient>
<linearGradient id="ga48" gradientUnits="userSpaceOnUse" x1="334.5" y1="0" x2="511" y2="0"><stop offset="0.000" stop-color="#f2f2f2"/><stop offset="0.283" stop-color="#ececec"/><stop offset="0.323" stop-color="#d8d8d8"/><stop offset="0.346" stop-color="#b9b9b9"/><stop offset="0.351" stop-color="#b6b6b6"/><stop offset="0.397" stop-color="#717171"/><stop offset="0.408" stop-color="#575757"/><stop offset="0.425" stop-color="#5f5f5f"/><stop offset="0.448" stop-color="#7e7e7e"/><stop offset="0.470" stop-color="#868686"/><stop offset="0.504" stop-color="#616161"/><stop offset="0.510" stop-color="#616161"/><stop offset="0.527" stop-color="#858585"/><stop offset="0.561" stop-color="#c1c1c1"/><stop offset="0.601" stop-color="#dddddd"/><stop offset="0.640" stop-color="#eaeaea"/><stop offset="0.822" stop-color="#f6f6f6"/><stop offset="0.997" stop-color="#f8f8f8"/></linearGradient>
<linearGradient id="ga49" gradientUnits="userSpaceOnUse" x1="334.5" y1="0" x2="511" y2="0"><stop offset="0.000" stop-color="#f1f1f1"/><stop offset="0.210" stop-color="#f0f0f0"/><stop offset="0.283" stop-color="#ebebeb"/><stop offset="0.323" stop-color="#d5d5d5"/><stop offset="0.351" stop-color="#b2b2b2"/><stop offset="0.363" stop-color="#9e9e9e"/><stop offset="0.385" stop-color="#808080"/><stop offset="0.408" stop-color="#535353"/><stop offset="0.419" stop-color="#595959"/><stop offset="0.448" stop-color="#7f7f7f"/><stop offset="0.459" stop-color="#858585"/><stop offset="0.476" stop-color="#828282"/><stop offset="0.499" stop-color="#686868"/><stop offset="0.510" stop-color="#626262"/><stop offset="0.533" stop-color="#909090"/><stop offset="0.561" stop-color="#c0c0c0"/><stop offset="0.601" stop-color="#dddddd"/><stop offset="0.640" stop-color="#eaeaea"/><stop offset="0.765" stop-color="#f4f4f4"/><stop offset="0.997" stop-color="#f8f8f8"/></linearGradient>
<linearGradient id="ga50" gradientUnits="userSpaceOnUse" x1="334.5" y1="0" x2="511" y2="0"><stop offset="0.000" stop-color="#f1f1f1"/><stop offset="0.221" stop-color="#f0f0f0"/><stop offset="0.278" stop-color="#ebebeb"/><stop offset="0.295" stop-color="#e5e5e5"/><stop offset="0.317" stop-color="#d7d7d7"/><stop offset="0.346" stop-color="#b6b6b6"/><stop offset="0.357" stop-color="#a2a2a2"/><stop offset="0.385" stop-color="#7d7d7d"/><stop offset="0.402" stop-color="#575757"/><stop offset="0.408" stop-color="#515151"/><stop offset="0.419" stop-color="#5b5b5b"/><stop offset="0.442" stop-color="#7b7b7b"/><stop offset="0.459" stop-color="#858585"/><stop offset="0.470" stop-color="#858585"/><stop offset="0.493" stop-color="#6e6e6e"/><stop offset="0.510" stop-color="#646464"/><stop offset="0.538" stop-color="#9a9a9a"/><stop offset="0.567" stop-color="#c6c6c6"/><stop offset="0.606" stop-color="#e0e0e0"/><stop offset="0.646" stop-color="#ebebeb"/><stop offset="0.691" stop-color="#f0f0f0"/><stop offset="0.997" stop-color="#f8f8f8"/></linearGradient>
<linearGradient id="ga51" gradientUnits="userSpaceOnUse" x1="334.5" y1="0" x2="511" y2="0"><stop offset="0.000" stop-color="#f1f1f1"/><stop offset="0.210" stop-color="#f0f0f0"/><stop offset="0.266" stop-color="#ececec"/><stop offset="0.295" stop-color="#e4e4e4"/><stop offset="0.317" stop-color="#d5d5d5"/><stop offset="0.346" stop-color="#b3b3b3"/><stop offset="0.357" stop-color="#9e9e9e"/><stop offset="0.380" stop-color="#828282"/><stop offset="0.402" stop-color="#515151"/><stop offset="0.408" stop-color="#515151"/><stop offset="0.414" stop-color="#545454"/><stop offset="0.425" stop-color="#696969"/><stop offset="0.442" stop-color="#7d7d7d"/><stop offset="0.459" stop-color="#868686"/><stop offset="0.470" stop-color="#848484"/><stop offset="0.493" stop-color="#6e6e6e"/><stop offset="0.510" stop-color="#676767"/><stop offset="0.538" stop-color="#9a9a9a"/><stop offset="0.567" stop-color="#c6c6c6"/><stop offset="0.606" stop-color="#e1e1e1"/><stop offset="0.691" stop-color="#efefef"/><stop offset="0.997" stop-color="#f8f8f8"/></linearGradient>
<linearGradient id="ga52" gradientUnits="userSpaceOnUse" x1="334.5" y1="0" x2="511" y2="0"><stop offset="0.000" stop-color="#f0f0f0"/><stop offset="0.204" stop-color="#f0f0f0"/><stop offset="0.261" stop-color="#ececec"/><stop offset="0.295" stop-color="#e4e4e4"/><stop offset="0.317" stop-color="#d1d1d1"/><stop offset="0.374" stop-color="#888888"/><stop offset="0.380" stop-color="#808080"/><stop offset="0.402" stop-color="#4c4c4c"/><stop offset="0.414" stop-color="#535353"/><stop offset="0.425" stop-color="#6e6e6e"/><stop offset="0.453" stop-color="#858585"/><stop offset="0.470" stop-color="#838383"/><stop offset="0.493" stop-color="#6f6f6f"/><stop offset="0.510" stop-color="#696969"/><stop offset="0.538" stop-color="#9b9b9b"/><stop offset="0.567" stop-color="#c5c5c5"/><stop offset="0.606" stop-color="#e2e2e2"/><stop offset="0.652" stop-color="#ececec"/><stop offset="0.765" stop-color="#f4f4f4"/><stop offset="0.997" stop-color="#f8f8f8"/></linearGradient>
<linearGradient id="ga53" gradientUnits="userSpaceOnUse" x1="334.5" y1="0" x2="511" y2="0"><stop offset="0.000" stop-color="#f0f0f0"/><stop offset="0.204" stop-color="#f0f0f0"/><stop offset="0.289" stop-color="#e5e5e5"/><stop offset="0.317" stop-color="#cecece"/><stop offset="0.340" stop-color="#b3b3b3"/><stop offset="0.351" stop-color="#9f9f9f"/><stop offset="0.368" stop-color="#8d8d8d"/><stop offset="0.380" stop-color="#7b7b7b"/><stop offset="0.397" stop-color="#515151"/><stop offset="0.402" stop-color="#4b4b4b"/><stop offset="0.414" stop-color="#565656"/><stop offset="0.425" stop-color="#717171"/><stop offset="0.453" stop-color="#868686"/><stop offset="0.470" stop-color="#828282"/><stop offset="0.504" stop-color="#696969"/><stop offset="0.510" stop-color="#6a6a6a"/><stop offset="0.544" stop-color="#a4a4a4"/><stop offset="0.572" stop-color="#cccccc"/><stop offset="0.612" stop-color="#e4e4e4"/><stop offset="0.765" stop-color="#f4f4f4"/><stop offset="0.997" stop-color="#f8f8f8"/></linearGradient>
<linearGradient id="ga54" gradientUnits="userSpaceOnUse" x1="334.5" y1="0" x2="511" y2="0"><stop offset="0.000" stop-color="#f0f0f0"/><stop offset="0.198" stop-color="#f0f0f0"/><stop offset="0.289" stop-color="#e4e4e4"/><stop offset="0.312" stop-color="#d1d1d1"/><stop offset="0.368" stop-color="#8a8a8a"/><stop offset="0.374" stop-color="#828282"/><stop offset="0.397" stop-color="#4b4b4b"/><stop offset="0.408" stop-color="#4f4f4f"/><stop offset="0.425" stop-color="#757575"/><stop offset="0.453" stop-color="#898989"/><stop offset="0.470" stop-color="#848484"/><stop offset="0.493" stop-color="#717171"/><stop offset="0.510" stop-color="#696969"/><stop offset="0.544" stop-color="#a1a1a1"/><stop offset="0.572" stop-color="#c7c7c7"/><stop offset="0.612" stop-color="#e3e3e3"/><stop offset="0.657" stop-color="#ececec"/><stop offset="0.765" stop-color="#f4f4f4"/><stop offset="0.997" stop-color="#f8f8f8"/></linearGradient>
<linearGradient id="ga55" gradientUnits="userSpaceOnUse" x1="334.5" y1="0" x2="511" y2="0"><stop offset="0.000" stop-color="#f0f0f0"/><stop offset="0.198" stop-color="#f0f0f0"/><stop offset="0.255" stop-color="#ececec"/><stop offset="0.289" stop-color="#e3e3e3"/><stop offset="0.312" stop-color="#cfcfcf"/><stop offset="0.346" stop-color="#a0a0a0"/><stop offset="0.363" stop-color="#8f8f8f"/><stop offset="0.374" stop-color="#7c7c7c"/><stop offset="0.385" stop-color="#5d5d5d"/><stop offset="0.397" stop-color="#494949"/><stop offset="0.408" stop-color="#525252"/><stop offset="0.419" stop-color="#727272"/><stop offset="0.425" stop-color="#797979"/><stop offset="0.453" stop-color="#8d8d8d"/><stop offset="0.476" stop-color="#858585"/><stop offset="0.510" stop-color="#686868"/><stop offset="0.516" stop-color="#6c6c6c"/><stop offset="0.550" stop-color="#a3a3a3"/><stop offset="0.578" stop-color="#c7c7c7"/><stop offset="0.618" stop-color="#e1e1e1"/><stop offset="0.669" stop-color="#ececec"/><stop offset="0.771" stop-color="#f4f4f4"/><stop offset="0.997" stop-color="#f8f8f8"/></linearGradient>
<linearGradient id="ga56" gradientUnits="userSpaceOnUse" x1="334.5" y1="0" x2="511" y2="0"><stop offset="0.000" stop-color="#f0f0f0"/><stop offset="0.198" stop-color="#f0f0f0"/><stop offset="0.283" stop-color="#e4e4e4"/><stop offset="0.312" stop-color="#cccccc"/><stop offset="0.357" stop-color="#929292"/><stop offset="0.368" stop-color="#828282"/><stop offset="0.391" stop-color="#4a4a4a"/><stop offset="0.397" stop-color="#494949"/><stop offset="0.402" stop-color="#4e4e4e"/><stop offset="0.419" stop-color="#767676"/><stop offset="0.425" stop-color="#7d7d7d"/><stop offset="0.453" stop-color="#929292"/><stop offset="0.476" stop-color="#8a8a8a"/><stop offset="0.516" stop-color="#686868"/><stop offset="0.533" stop-color="#7f7f7f"/><stop offset="0.550" stop-color="#9e9e9e"/><stop offset="0.578" stop-color="#c0c0c0"/><stop offset="0.612" stop-color="#dadada"/><stop offset="0.635" stop-color="#e3e3e3"/><stop offset="0.674" stop-color="#ececec"/><stop offset="0.771" stop-color="#f3f3f3"/><stop offset="0.997" stop-color="#f8f8f8"/></linearGradient>
<linearGradient id="ga57" gradientUnits="userSpaceOnUse" x1="334.5" y1="0" x2="511" y2="0"><stop offset="0.000" stop-color="#efefef"/><stop offset="0.198" stop-color="#f0f0f0"/><stop offset="0.249" stop-color="#ebebeb"/><stop offset="0.283" stop-color="#e2e2e2"/><stop offset="0.306" stop-color="#cfcfcf"/><stop offset="0.357" stop-color="#8f8f8f"/><stop offset="0.368" stop-color="#7c7c7c"/><stop offset="0.380" stop-color="#5c5c5c"/><stop offset="0.391" stop-color="#474747"/><stop offset="0.402" stop-color="#515151"/><stop offset="0.419" stop-color="#7b7b7b"/><stop offset="0.425" stop-color="#828282"/><stop offset="0.453" stop-color="#969696"/><stop offset="0.476" stop-color="#8e8e8e"/><stop offset="0.516" stop-color="#676767"/><stop offset="0.521" stop-color="#6a6a6a"/><stop offset="0.555" stop-color="#a0a0a0"/><stop offset="0.584" stop-color="#c0c0c0"/><stop offset="0.618" stop-color="#dadada"/><stop offset="0.640" stop-color="#e3e3e3"/><stop offset="0.731" stop-color="#f1f1f1"/><stop offset="0.997" stop-color="#f7f7f7"/></linearGradient>
<linearGradient id="ga58" gradientUnits="userSpaceOnUse" x1="334.5" y1="0" x2="511" y2="0"><stop offset="0.000" stop-color="#efefef"/><stop offset="0.193" stop-color="#f0f0f0"/><stop offset="0.238" stop-color="#ededed"/><stop offset="0.278" stop-color="#e3e3e3"/><stop offset="0.306" stop-color="#cdcdcd"/><stop offset="0.323" stop-color="#b4b4b4"/><stop offset="0.351" stop-color="#949494"/><stop offset="0.363" stop-color="#828282"/><stop offset="0.385" stop-color="#4a4a4a"/><stop offset="0.391" stop-color="#474747"/><stop offset="0.402" stop-color="#575757"/><stop offset="0.419" stop-color="#808080"/><stop offset="0.442" stop-color="#959595"/><stop offset="0.459" stop-color="#9b9b9b"/><stop offset="0.476" stop-color="#939393"/><stop offset="0.521" stop-color="#666666"/><stop offset="0.538" stop-color="#7b7b7b"/><stop offset="0.555" stop-color="#9b9b9b"/><stop offset="0.584" stop-color="#b9b9b9"/><stop offset="0.623" stop-color="#d8d8d8"/><stop offset="0.663" stop-color="#e7e7e7"/><stop offset="0.771" stop-color="#f3f3f3"/><stop offset="0.997" stop-color="#f7f7f7"/></linearGradient>
<linearGradient id="ga59" gradientUnits="userSpaceOnUse" x1="334.5" y1="0" x2="511" y2="0"><stop offset="0.000" stop-color="#efefef"/><stop offset="0.193" stop-color="#efefef"/><stop offset="0.238" stop-color="#ececec"/><stop offset="0.278" stop-color="#e2e2e2"/><stop offset="0.306" stop-color="#cacaca"/><stop offset="0.323" stop-color="#b0b0b0"/><stop offset="0.351" stop-color="#909090"/><stop offset="0.363" stop-color="#7c7c7c"/><stop offset="0.374" stop-color="#5c5c5c"/><stop offset="0.385" stop-color="#464646"/><stop offset="0.397" stop-color="#505050"/><stop offset="0.419" stop-color="#858585"/><stop offset="0.442" stop-color="#999999"/><stop offset="0.459" stop-color="#9f9f9f"/><stop offset="0.476" stop-color="#979797"/><stop offset="0.499" stop-color="#828282"/><stop offset="0.521" stop-color="#666666"/><stop offset="0.527" stop-color="#686868"/><stop offset="0.538" stop-color="#767676"/><stop offset="0.555" stop-color="#959595"/><stop offset="0.578" stop-color="#afafaf"/><stop offset="0.623" stop-color="#d4d4d4"/><stop offset="0.669" stop-color="#e7e7e7"/><stop offset="0.776" stop-color="#f3f3f3"/><stop offset="0.997" stop-color="#f7f7f7"/></linearGradient>
<linearGradient id="ga60" gradientUnits="userSpaceOnUse" x1="334.5" y1="0" x2="511" y2="0"><stop offset="0.000" stop-color="#efefef"/><stop offset="0.193" stop-color="#efefef"/><stop offset="0.238" stop-color="#ececec"/><stop offset="0.278" stop-color="#e1e1e1"/><stop offset="0.300" stop-color="#cdcdcd"/><stop offset="0.323" stop-color="#acacac"/><stop offset="0.340" stop-color="#9e9e9e"/><stop offset="0.357" stop-color="#828282"/><stop offset="0.380" stop-color="#4a4a4a"/><stop offset="0.385" stop-color="#454545"/><stop offset="0.397" stop-color="#555555"/><stop offset="0.414" stop-color="#808080"/><stop offset="0.436" stop-color="#9a9a9a"/><stop offset="0.459" stop-color="#a3a3a3"/><stop offset="0.482" stop-color="#999999"/><stop offset="0.527" stop-color="#646464"/><stop offset="0.544" stop-color="#787878"/><stop offset="0.561" stop-color="#979797"/><stop offset="0.578" stop-color="#aaaaaa"/><stop offset="0.629" stop-color="#d3d3d3"/><stop offset="0.680" stop-color="#e9e9e9"/><stop offset="0.776" stop-color="#f2f2f2"/><stop offset="0.997" stop-color="#f7f7f7"/></linearGradient>
<linearGradient id="ga61" gradientUnits="userSpaceOnUse" x1="334.5" y1="0" x2="511" y2="0"><stop offset="0.000" stop-color="#eeeeee"/><stop offset="0.176" stop-color="#f0f0f0"/><stop offset="0.232" stop-color="#ececec"/><stop offset="0.272" stop-color="#e2e2e2"/><stop offset="0.300" stop-color="#cbcbcb"/><stop offset="0.317" stop-color="#b0b0b0"/><stop offset="0.340" stop-color="#9a9a9a"/><stop offset="0.357" stop-color="#7c7c7c"/><stop offset="0.368" stop-color="#5c5c5c"/><stop offset="0.380" stop-color="#454545"/><stop offset="0.385" stop-color="#464646"/><stop offset="0.391" stop-color="#4f4f4f"/><stop offset="0.414" stop-color="#868686"/><stop offset="0.419" stop-color="#8e8e8e"/><stop offset="0.436" stop-color="#9f9f9f"/><stop offset="0.453" stop-color="#a8a8a8"/><stop offset="0.482" stop-color="#9e9e9e"/><stop offset="0.504" stop-color="#868686"/><stop offset="0.527" stop-color="#656565"/><stop offset="0.544" stop-color="#737373"/><stop offset="0.561" stop-color="#919191"/><stop offset="0.578" stop-color="#a5a5a5"/><stop offset="0.646" stop-color="#dadada"/><stop offset="0.680" stop-color="#e8e8e8"/><stop offset="0.737" stop-color="#f0f0f0"/><stop offset="0.997" stop-color="#f6f6f6"/></linearGradient>
<linearGradient id="ga62" gradientUnits="userSpaceOnUse" x1="334.5" y1="0" x2="511" y2="0"><stop offset="0.000" stop-color="#eeeeee"/><stop offset="0.176" stop-color="#f0f0f0"/><stop offset="0.232" stop-color="#ececec"/><stop offset="0.272" stop-color="#e1e1e1"/><stop offset="0.300" stop-color="#c9c9c9"/><stop offset="0.317" stop-color="#ababab"/><stop offset="0.334" stop-color="#9f9f9f"/><stop offset="0.351" stop-color="#828282"/><stop offset="0.368" stop-color="#545454"/><stop offset="0.380" stop-color="#424242"/><stop offset="0.397" stop-color="#5f5f5f"/><stop offset="0.414" stop-color="#8c8c8c"/><stop offset="0.436" stop-color="#a3a3a3"/><stop offset="0.453" stop-color="#acacac"/><stop offset="0.487" stop-color="#9d9d9d"/><stop offset="0.504" stop-color="#8c8c8c"/><stop offset="0.521" stop-color="#6f6f6f"/><stop offset="0.533" stop-color="#636363"/><stop offset="0.550" stop-color="#757575"/><stop offset="0.567" stop-color="#949494"/><stop offset="0.584" stop-color="#a5a5a5"/><stop offset="0.652" stop-color="#dbdbdb"/><stop offset="0.686" stop-color="#e9e9e9"/><stop offset="0.737" stop-color="#f0f0f0"/><stop offset="0.997" stop-color="#f6f6f6"/></linearGradient>
<linearGradient id="ga63" gradientUnits="userSpaceOnUse" x1="334.5" y1="0" x2="511" y2="0"><stop offset="0.000" stop-color="#eeeeee"/><stop offset="0.176" stop-color="#f0f0f0"/><stop offset="0.232" stop-color="#ebebeb"/><stop offset="0.266" stop-color="#e1e1e1"/><stop offset="0.295" stop-color="#cccccc"/><stop offset="0.317" stop-color="#a8a8a8"/><stop offset="0.334" stop-color="#9d9d9d"/><stop offset="0.351" stop-color="#7c7c7c"/><stop offset="0.368" stop-color="#4e4e4e"/><stop offset="0.374" stop-color="#444444"/><stop offset="0.380" stop-color="#434343"/><stop offset="0.397" stop-color="#656565"/><stop offset="0.414" stop-color="#919191"/><stop offset="0.436" stop-color="#a7a7a7"/><stop offset="0.453" stop-color="#b0b0b0"/><stop offset="0.487" stop-color="#a2a2a2"/><stop offset="0.504" stop-color="#909090"/><stop offset="0.533" stop-color="#636363"/><stop offset="0.550" stop-color="#6f6f6f"/><stop offset="0.567" stop-color="#8e8e8e"/><stop offset="0.584" stop-color="#a0a0a0"/><stop offset="0.601" stop-color="#a9a9a9"/><stop offset="0.652" stop-color="#d7d7d7"/><stop offset="0.686" stop-color="#e7e7e7"/><stop offset="0.742" stop-color="#f0f0f0"/><stop offset="0.997" stop-color="#f6f6f6"/></linearGradient>
<linearGradient id="ga64" gradientUnits="userSpaceOnUse" x1="334.5" y1="0" x2="511" y2="0"><stop offset="0.000" stop-color="#eeeeee"/><stop offset="0.176" stop-color="#efefef"/><stop offset="0.227" stop-color="#ececec"/><stop offset="0.266" stop-color="#e0e0e0"/><stop offset="0.295" stop-color="#c9c9c9"/><stop offset="0.312" stop-color="#ababab"/><stop offset="0.329" stop-color="#a1a1a1"/><stop offset="0.334" stop-color="#999999"/><stop offset="0.346" stop-color="#848484"/><stop offset="0.363" stop-color="#555555"/><stop offset="0.374" stop-color="#414141"/><stop offset="0.391" stop-color="#5c5c5c"/><stop offset="0.408" stop-color="#8a8a8a"/><stop offset="0.414" stop-color="#949494"/><stop offset="0.431" stop-color="#a6a6a6"/><stop offset="0.453" stop-color="#b3b3b3"/><stop offset="0.487" stop-color="#a6a6a6"/><stop offset="0.504" stop-color="#959595"/><stop offset="0.527" stop-color="#6e6e6e"/><stop offset="0.538" stop-color="#626262"/><stop offset="0.555" stop-color="#737373"/><stop offset="0.572" stop-color="#929292"/><stop offset="0.584" stop-color="#9d9d9d"/><stop offset="0.606" stop-color="#aaaaaa"/><stop offset="0.657" stop-color="#d9d9d9"/><stop offset="0.691" stop-color="#e8e8e8"/><stop offset="0.742" stop-color="#f0f0f0"/><stop offset="0.997" stop-color="#f6f6f6"/></linearGradient>
<linearGradient id="ga65" gradientUnits="userSpaceOnUse" x1="334.5" y1="0" x2="511" y2="0"><stop offset="0.000" stop-color="#eeeeee"/><stop offset="0.170" stop-color="#efefef"/><stop offset="0.227" stop-color="#ebebeb"/><stop offset="0.266" stop-color="#dedede"/><stop offset="0.295" stop-color="#c5c5c5"/><stop offset="0.312" stop-color="#a8a8a8"/><stop offset="0.329" stop-color="#a1a1a1"/><stop offset="0.346" stop-color="#808080"/><stop offset="0.363" stop-color="#505050"/><stop offset="0.374" stop-color="#414141"/><stop offset="0.391" stop-color="#5f5f5f"/><stop offset="0.408" stop-color="#8d8d8d"/><stop offset="0.414" stop-color="#969696"/><stop offset="0.431" stop-color="#a8a8a8"/><stop offset="0.453" stop-color="#b5b5b5"/><stop offset="0.487" stop-color="#a9a9a9"/><stop offset="0.510" stop-color="#929292"/><stop offset="0.538" stop-color="#616161"/><stop offset="0.555" stop-color="#707070"/><stop offset="0.572" stop-color="#8f8f8f"/><stop offset="0.589" stop-color="#a0a0a0"/><stop offset="0.606" stop-color="#a8a8a8"/><stop offset="0.657" stop-color="#d8d8d8"/><stop offset="0.691" stop-color="#e8e8e8"/><stop offset="0.742" stop-color="#f0f0f0"/><stop offset="0.997" stop-color="#f6f6f6"/></linearGradient>
<linearGradient id="ga66" gradientUnits="userSpaceOnUse" x1="334.5" y1="0" x2="511" y2="0"><stop offset="0.000" stop-color="#eeeeee"/><stop offset="0.170" stop-color="#efefef"/><stop offset="0.227" stop-color="#e9e9e9"/><stop offset="0.261" stop-color="#dedede"/><stop offset="0.289" stop-color="#c8c8c8"/><stop offset="0.312" stop-color="#a7a7a7"/><stop offset="0.329" stop-color="#9d9d9d"/><stop offset="0.346" stop-color="#7b7b7b"/><stop offset="0.363" stop-color="#4c4c4c"/><stop offset="0.374" stop-color="#434343"/><stop offset="0.391" stop-color="#626262"/><stop offset="0.408" stop-color="#919191"/><stop offset="0.431" stop-color="#aaaaaa"/><stop offset="0.453" stop-color="#b6b6b6"/><stop offset="0.487" stop-color="#acacac"/><stop offset="0.510" stop-color="#969696"/><stop offset="0.538" stop-color="#646464"/><stop offset="0.544" stop-color="#636363"/><stop offset="0.555" stop-color="#6e6e6e"/><stop offset="0.584" stop-color="#9a9a9a"/><stop offset="0.606" stop-color="#a7a7a7"/><stop offset="0.657" stop-color="#d6d6d6"/><stop offset="0.691" stop-color="#e7e7e7"/><stop offset="0.742" stop-color="#efefef"/><stop offset="0.997" stop-color="#f6f6f6"/></linearGradient>
<linearGradient id="ga67" gradientUnits="userSpaceOnUse" x1="334.5" y1="0" x2="511" y2="0"><stop offset="0.000" stop-color="#eeeeee"/><stop offset="0.170" stop-color="#eeeeee"/><stop offset="0.221" stop-color="#e9e9e9"/><stop offset="0.261" stop-color="#dcdcdc"/><stop offset="0.289" stop-color="#c4c4c4"/><stop offset="0.306" stop-color="#a9a9a9"/><stop offset="0.323" stop-color="#a4a4a4"/><stop offset="0.340" stop-color="#848484"/><stop offset="0.363" stop-color="#494949"/><stop offset="0.368" stop-color="#434343"/><stop offset="0.374" stop-color="#464646"/><stop offset="0.385" stop-color="#595959"/><stop offset="0.408" stop-color="#949494"/><stop offset="0.431" stop-color="#adadad"/><stop offset="0.453" stop-color="#b8b8b8"/><stop offset="0.487" stop-color="#afafaf"/><stop offset="0.510" stop-color="#999999"/><stop offset="0.544" stop-color="#616161"/><stop offset="0.561" stop-color="#727272"/><stop offset="0.578" stop-color="#919191"/><stop offset="0.589" stop-color="#9d9d9d"/><stop offset="0.612" stop-color="#aaaaaa"/><stop offset="0.657" stop-color="#d4d4d4"/><stop offset="0.691" stop-color="#e6e6e6"/><stop offset="0.748" stop-color="#efefef"/><stop offset="0.997" stop-color="#f6f6f6"/></linearGradient>
<linearGradient id="ga68" gradientUnits="userSpaceOnUse" x1="334.5" y1="0" x2="511" y2="0"><stop offset="0.000" stop-color="#ededed"/><stop offset="0.170" stop-color="#eeeeee"/><stop offset="0.221" stop-color="#e8e8e8"/><stop offset="0.261" stop-color="#dadada"/><stop offset="0.289" stop-color="#c0c0c0"/><stop offset="0.306" stop-color="#a8a8a8"/><stop offset="0.323" stop-color="#a2a2a2"/><stop offset="0.340" stop-color="#818181"/><stop offset="0.357" stop-color="#515151"/><stop offset="0.363" stop-color="#464646"/><stop offset="0.368" stop-color="#434343"/><stop offset="0.380" stop-color="#515151"/><stop offset="0.408" stop-color="#969696"/><stop offset="0.431" stop-color="#afafaf"/><stop offset="0.453" stop-color="#b9b9b9"/><stop offset="0.487" stop-color="#b1b1b1"/><stop offset="0.510" stop-color="#9d9d9d"/><stop offset="0.544" stop-color="#626262"/><stop offset="0.561" stop-color="#6f6f6f"/><stop offset="0.578" stop-color="#8e8e8e"/><stop offset="0.589" stop-color="#9c9c9c"/><stop offset="0.612" stop-color="#a8a8a8"/><stop offset="0.663" stop-color="#d7d7d7"/><stop offset="0.691" stop-color="#e5e5e5"/><stop offset="0.748" stop-color="#efefef"/><stop offset="0.997" stop-color="#f5f5f5"/></linearGradient>
<linearGradient id="ga69" gradientUnits="userSpaceOnUse" x1="334.5" y1="0" x2="511" y2="0"><stop offset="0.000" stop-color="#ededed"/><stop offset="0.164" stop-color="#ededed"/><stop offset="0.221" stop-color="#e7e7e7"/><stop offset="0.255" stop-color="#dadada"/><stop offset="0.283" stop-color="#c3c3c3"/><stop offset="0.300" stop-color="#ababab"/><stop offset="0.317" stop-color="#a6a6a6"/><stop offset="0.340" stop-color="#7c7c7c"/><stop offset="0.357" stop-color="#4c4c4c"/><stop offset="0.368" stop-color="#444444"/><stop offset="0.380" stop-color="#535353"/><stop offset="0.408" stop-color="#989898"/><stop offset="0.425" stop-color="#adadad"/><stop offset="0.453" stop-color="#bbbbbb"/><stop offset="0.487" stop-color="#b4b4b4"/><stop offset="0.510" stop-color="#a0a0a0"/><stop offset="0.516" stop-color="#9a9a9a"/><stop offset="0.544" stop-color="#666666"/><stop offset="0.550" stop-color="#626262"/><stop offset="0.567" stop-color="#747474"/><stop offset="0.589" stop-color="#9b9b9b"/><stop offset="0.612" stop-color="#a7a7a7"/><stop offset="0.663" stop-color="#d5d5d5"/><stop offset="0.697" stop-color="#e6e6e6"/><stop offset="0.748" stop-color="#efefef"/><stop offset="0.997" stop-color="#f5f5f5"/></linearGradient>
<linearGradient id="ga70" gradientUnits="userSpaceOnUse" x1="334.5" y1="0" x2="511" y2="0"><stop offset="0.000" stop-color="#ededed"/><stop offset="0.164" stop-color="#ededed"/><stop offset="0.215" stop-color="#e7e7e7"/><stop offset="0.255" stop-color="#d8d8d8"/><stop offset="0.283" stop-color="#c0c0c0"/><stop offset="0.300" stop-color="#a8a8a8"/><stop offset="0.317" stop-color="#a6a6a6"/><stop offset="0.334" stop-color="#858585"/><stop offset="0.357" stop-color="#484848"/><stop offset="0.363" stop-color="#454545"/><stop offset="0.368" stop-color="#464646"/><stop offset="0.380" stop-color="#565656"/><stop offset="0.402" stop-color="#909090"/><stop offset="0.419" stop-color="#aaaaaa"/><stop offset="0.453" stop-color="#bdbdbd"/><stop offset="0.487" stop-color="#b6b6b6"/><stop offset="0.516" stop-color="#9e9e9e"/><stop offset="0.550" stop-color="#606060"/><stop offset="0.567" stop-color="#707070"/><stop offset="0.584" stop-color="#919191"/><stop offset="0.595" stop-color="#9e9e9e"/><stop offset="0.618" stop-color="#aaaaaa"/><stop offset="0.663" stop-color="#d4d4d4"/><stop offset="0.697" stop-color="#e5e5e5"/><stop offset="0.748" stop-color="#eeeeee"/><stop offset="0.997" stop-color="#f5f5f5"/></linearGradient>
<linearGradient id="ga71" gradientUnits="userSpaceOnUse" x1="334.5" y1="0" x2="511" y2="0"><stop offset="0.000" stop-color="#ededed"/><stop offset="0.164" stop-color="#ececec"/><stop offset="0.215" stop-color="#e6e6e6"/><stop offset="0.255" stop-color="#d6d6d6"/><stop offset="0.278" stop-color="#c2c2c2"/><stop offset="0.295" stop-color="#acacac"/><stop offset="0.317" stop-color="#a3a3a3"/><stop offset="0.334" stop-color="#818181"/><stop offset="0.357" stop-color="#454545"/><stop offset="0.363" stop-color="#454545"/><stop offset="0.374" stop-color="#4f4f4f"/><stop offset="0.402" stop-color="#939393"/><stop offset="0.419" stop-color="#adadad"/><stop offset="0.453" stop-color="#bebebe"/><stop offset="0.487" stop-color="#b8b8b8"/><stop offset="0.516" stop-color="#a2a2a2"/><stop offset="0.550" stop-color="#646464"/><stop offset="0.555" stop-color="#636363"/><stop offset="0.567" stop-color="#6e6e6e"/><stop offset="0.595" stop-color="#9d9d9d"/><stop offset="0.618" stop-color="#a8a8a8"/><stop offset="0.640" stop-color="#c0c0c0"/><stop offset="0.669" stop-color="#d6d6d6"/><stop offset="0.697" stop-color="#e4e4e4"/><stop offset="0.748" stop-color="#eeeeee"/><stop offset="0.997" stop-color="#f5f5f5"/></linearGradient>
<linearGradient id="ga72" gradientUnits="userSpaceOnUse" x1="334.5" y1="0" x2="511" y2="0"><stop offset="0.000" stop-color="#ededed"/><stop offset="0.159" stop-color="#ececec"/><stop offset="0.215" stop-color="#e5e5e5"/><stop offset="0.249" stop-color="#d6d6d6"/><stop offset="0.261" stop-color="#cfcfcf"/><stop offset="0.295" stop-color="#a9a9a9"/><stop offset="0.312" stop-color="#a9a9a9"/><stop offset="0.329" stop-color="#898989"/><stop offset="0.351" stop-color="#4c4c4c"/><stop offset="0.357" stop-color="#454545"/><stop offset="0.374" stop-color="#505050"/><stop offset="0.402" stop-color="#969696"/><stop offset="0.419" stop-color="#b0b0b0"/><stop offset="0.453" stop-color="#c0c0c0"/><stop offset="0.487" stop-color="#bbbbbb"/><stop offset="0.516" stop-color="#a5a5a5"/><stop offset="0.555" stop-color="#616161"/><stop offset="0.572" stop-color="#727272"/><stop offset="0.595" stop-color="#9c9c9c"/><stop offset="0.618" stop-color="#a7a7a7"/><stop offset="0.646" stop-color="#c3c3c3"/><stop offset="0.691" stop-color="#e2e2e2"/><stop offset="0.748" stop-color="#eeeeee"/><stop offset="0.997" stop-color="#f5f5f5"/></linearGradient>
<linearGradient id="ga73" gradientUnits="userSpaceOnUse" x1="334.5" y1="0" x2="511" y2="0"><stop offset="0.000" stop-color="#ededed"/><stop offset="0.159" stop-color="#ececec"/><stop offset="0.210" stop-color="#e5e5e5"/><stop offset="0.249" stop-color="#d4d4d4"/><stop offset="0.278" stop-color="#bbbbbb"/><stop offset="0.289" stop-color="#acacac"/><stop offset="0.312" stop-color="#a7a7a7"/><stop offset="0.329" stop-color="#858585"/><stop offset="0.351" stop-color="#484848"/><stop offset="0.357" stop-color="#454545"/><stop offset="0.374" stop-color="#525252"/><stop offset="0.397" stop-color="#8d8d8d"/><stop offset="0.419" stop-color="#b3b3b3"/><stop offset="0.453" stop-color="#c1c1c1"/><stop offset="0.493" stop-color="#bababa"/><stop offset="0.521" stop-color="#a3a3a3"/><stop offset="0.555" stop-color="#626262"/><stop offset="0.572" stop-color="#6f6f6f"/><stop offset="0.589" stop-color="#909090"/><stop offset="0.601" stop-color="#9f9f9f"/><stop offset="0.623" stop-color="#ababab"/><stop offset="0.646" stop-color="#c2c2c2"/><stop offset="0.691" stop-color="#e1e1e1"/><stop offset="0.754" stop-color="#eeeeee"/><stop offset="0.997" stop-color="#f5f5f5"/></linearGradient>
<linearGradient id="ga74" gradientUnits="userSpaceOnUse" x1="334.5" y1="0" x2="511" y2="0"><stop offset="0.000" stop-color="#ededed"/><stop offset="0.153" stop-color="#ececec"/><stop offset="0.210" stop-color="#e4e4e4"/><stop offset="0.249" stop-color="#d2d2d2"/><stop offset="0.289" stop-color="#aaaaaa"/><stop offset="0.306" stop-color="#ababab"/><stop offset="0.312" stop-color="#a4a4a4"/><stop offset="0.329" stop-color="#818181"/><stop offset="0.351" stop-color="#434343"/><stop offset="0.374" stop-color="#555555"/><stop offset="0.397" stop-color="#909090"/><stop offset="0.419" stop-color="#b5b5b5"/><stop offset="0.453" stop-color="#c3c3c3"/><stop offset="0.493" stop-color="#bdbdbd"/><stop offset="0.521" stop-color="#a7a7a7"/><stop offset="0.555" stop-color="#666666"/><stop offset="0.561" stop-color="#626262"/><stop offset="0.578" stop-color="#757575"/><stop offset="0.601" stop-color="#9e9e9e"/><stop offset="0.623" stop-color="#a9a9a9"/><stop offset="0.646" stop-color="#c1c1c1"/><stop offset="0.697" stop-color="#e2e2e2"/><stop offset="0.754" stop-color="#ededed"/><stop offset="0.997" stop-color="#f5f5f5"/></linearGradient>
<linearGradient id="ga75" gradientUnits="userSpaceOnUse" x1="334.5" y1="0" x2="511" y2="0"><stop offset="0.000" stop-color="#ededed"/><stop offset="0.153" stop-color="#ebebeb"/><stop offset="0.210" stop-color="#e2e2e2"/><stop offset="0.244" stop-color="#d3d3d3"/><stop offset="0.255" stop-color="#cccccc"/><stop offset="0.283" stop-color="#ababab"/><stop offset="0.306" stop-color="#acacac"/><stop offset="0.329" stop-color="#7d7d7d"/><stop offset="0.346" stop-color="#4d4d4d"/><stop offset="0.351" stop-color="#444444"/><stop offset="0.368" stop-color="#4f4f4f"/><stop offset="0.374" stop-color="#595959"/><stop offset="0.397" stop-color="#939393"/><stop offset="0.419" stop-color="#b8b8b8"/><stop offset="0.453" stop-color="#c5c5c5"/><stop offset="0.493" stop-color="#c0c0c0"/><stop offset="0.521" stop-color="#aaaaaa"/><stop offset="0.561" stop-color="#606060"/><stop offset="0.578" stop-color="#717171"/><stop offset="0.601" stop-color="#9d9d9d"/><stop offset="0.623" stop-color="#a8a8a8"/><stop offset="0.652" stop-color="#c3c3c3"/><stop offset="0.697" stop-color="#e2e2e2"/><stop offset="0.754" stop-color="#ededed"/><stop offset="0.997" stop-color="#f5f5f5"/></linearGradient>
<linearGradient id="ga76" gradientUnits="userSpaceOnUse" x1="334.5" y1="0" x2="511" y2="0"><stop offset="0.000" stop-color="#ececec"/><stop offset="0.147" stop-color="#ebebeb"/><stop offset="0.210" stop-color="#e1e1e1"/><stop offset="0.249" stop-color="#cdcdcd"/><stop offset="0.283" stop-color="#aaaaaa"/><stop offset="0.306" stop-color="#a9a9a9"/><stop offset="0.323" stop-color="#868686"/><stop offset="0.346" stop-color="#484848"/><stop offset="0.351" stop-color="#454545"/><stop offset="0.368" stop-color="#505050"/><stop offset="0.391" stop-color="#8c8c8c"/><stop offset="0.419" stop-color="#bababa"/><stop offset="0.453" stop-color="#c6c6c6"/><stop offset="0.493" stop-color="#c2c2c2"/><stop offset="0.521" stop-color="#adadad"/><stop offset="0.527" stop-color="#a7a7a7"/><stop offset="0.561" stop-color="#636363"/><stop offset="0.567" stop-color="#646464"/><stop offset="0.578" stop-color="#6e6e6e"/><stop offset="0.601" stop-color="#9a9a9a"/><stop offset="0.606" stop-color="#a0a0a0"/><stop offset="0.629" stop-color="#ababab"/><stop offset="0.652" stop-color="#c2c2c2"/><stop offset="0.697" stop-color="#e1e1e1"/><stop offset="0.754" stop-color="#ededed"/><stop offset="0.997" stop-color="#f4f4f4"/></linearGradient>
<linearGradient id="ga77" gradientUnits="userSpaceOnUse" x1="334.5" y1="0" x2="511" y2="0"><stop offset="0.000" stop-color="#ececec"/><stop offset="0.147" stop-color="#ebebeb"/><stop offset="0.210" stop-color="#dfdfdf"/><stop offset="0.249" stop-color="#cbcbcb"/><stop offset="0.278" stop-color="#ababab"/><stop offset="0.300" stop-color="#aeaeae"/><stop offset="0.323" stop-color="#828282"/><stop offset="0.346" stop-color="#434343"/><stop offset="0.368" stop-color="#515151"/><stop offset="0.391" stop-color="#8f8f8f"/><stop offset="0.414" stop-color="#b5b5b5"/><stop offset="0.419" stop-color="#bcbcbc"/><stop offset="0.453" stop-color="#c8c8c8"/><stop offset="0.493" stop-color="#c4c4c4"/><stop offset="0.527" stop-color="#acacac"/><stop offset="0.550" stop-color="#7c7c7c"/><stop offset="0.567" stop-color="#616161"/><stop offset="0.584" stop-color="#737373"/><stop offset="0.606" stop-color="#a0a0a0"/><stop offset="0.629" stop-color="#a9a9a9"/><stop offset="0.652" stop-color="#c1c1c1"/><stop offset="0.697" stop-color="#e0e0e0"/><stop offset="0.754" stop-color="#ececec"/><stop offset="0.997" stop-color="#f4f4f4"/></linearGradient>
<linearGradient id="ga78" gradientUnits="userSpaceOnUse" x1="334.5" y1="0" x2="511" y2="0"><stop offset="0.000" stop-color="#ececec"/><stop offset="0.147" stop-color="#eaeaea"/><stop offset="0.204" stop-color="#e0e0e0"/><stop offset="0.249" stop-color="#c8c8c8"/><stop offset="0.278" stop-color="#a9a9a9"/><stop offset="0.300" stop-color="#adadad"/><stop offset="0.323" stop-color="#7d7d7d"/><stop offset="0.340" stop-color="#4d4d4d"/><stop offset="0.346" stop-color="#424242"/><stop offset="0.368" stop-color="#545454"/><stop offset="0.391" stop-color="#929292"/><stop offset="0.414" stop-color="#b8b8b8"/><stop offset="0.419" stop-color="#bfbfbf"/><stop offset="0.453" stop-color="#cacaca"/><stop offset="0.493" stop-color="#c6c6c6"/><stop offset="0.527" stop-color="#afafaf"/><stop offset="0.567" stop-color="#616161"/><stop offset="0.584" stop-color="#6f6f6f"/><stop offset="0.606" stop-color="#9e9e9e"/><stop offset="0.629" stop-color="#a8a8a8"/><stop offset="0.652" stop-color="#bfbfbf"/><stop offset="0.697" stop-color="#dfdfdf"/><stop offset="0.759" stop-color="#ececec"/><stop offset="0.997" stop-color="#f4f4f4"/></linearGradient>
<linearGradient id="ga79" gradientUnits="userSpaceOnUse" x1="334.5" y1="0" x2="511" y2="0"><stop offset="0.000" stop-color="#ececec"/><stop offset="0.142" stop-color="#eaeaea"/><stop offset="0.204" stop-color="#dedede"/><stop offset="0.244" stop-color="#cacaca"/><stop offset="0.272" stop-color="#ababab"/><stop offset="0.278" stop-color="#a8a8a8"/><stop offset="0.295" stop-color="#afafaf"/><stop offset="0.300" stop-color="#aaaaaa"/><stop offset="0.317" stop-color="#868686"/><stop offset="0.340" stop-color="#484848"/><stop offset="0.346" stop-color="#444444"/><stop offset="0.363" stop-color="#4f4f4f"/><stop offset="0.368" stop-color="#585858"/><stop offset="0.391" stop-color="#959595"/><stop offset="0.414" stop-color="#bbbbbb"/><stop offset="0.453" stop-color="#cbcbcb"/><stop offset="0.493" stop-color="#c8c8c8"/><stop offset="0.527" stop-color="#b2b2b2"/><stop offset="0.567" stop-color="#656565"/><stop offset="0.572" stop-color="#636363"/><stop offset="0.589" stop-color="#767676"/><stop offset="0.606" stop-color="#9a9a9a"/><stop offset="0.612" stop-color="#a1a1a1"/><stop offset="0.629" stop-color="#a7a7a7"/><stop offset="0.657" stop-color="#c2c2c2"/><stop offset="0.703" stop-color="#e1e1e1"/><stop offset="0.759" stop-color="#ececec"/><stop offset="0.997" stop-color="#f4f4f4"/></linearGradient>
<linearGradient id="ga80" gradientUnits="userSpaceOnUse" x1="334.5" y1="0" x2="511" y2="0"><stop offset="0.000" stop-color="#ececec"/><stop offset="0.142" stop-color="#eaeaea"/><stop offset="0.204" stop-color="#dedede"/><stop offset="0.244" stop-color="#c8c8c8"/><stop offset="0.272" stop-color="#a9a9a9"/><stop offset="0.295" stop-color="#afafaf"/><stop offset="0.317" stop-color="#838383"/><stop offset="0.340" stop-color="#434343"/><stop offset="0.363" stop-color="#505050"/><stop offset="0.385" stop-color="#8d8d8d"/><stop offset="0.414" stop-color="#bdbdbd"/><stop offset="0.453" stop-color="#cbcbcb"/><stop offset="0.499" stop-color="#c7c7c7"/><stop offset="0.527" stop-color="#b4b4b4"/><stop offset="0.533" stop-color="#aeaeae"/><stop offset="0.572" stop-color="#616161"/><stop offset="0.589" stop-color="#727272"/><stop offset="0.612" stop-color="#a0a0a0"/><stop offset="0.635" stop-color="#aaaaaa"/><stop offset="0.657" stop-color="#c1c1c1"/><stop offset="0.703" stop-color="#e0e0e0"/><stop offset="0.759" stop-color="#ececec"/><stop offset="0.997" stop-color="#f4f4f4"/></linearGradient>
<linearGradient id="ga81" gradientUnits="userSpaceOnUse" x1="334.5" y1="0" x2="511" y2="0"><stop offset="0.000" stop-color="#ececec"/><stop offset="0.142" stop-color="#eaeaea"/><stop offset="0.198" stop-color="#e0e0e0"/><stop offset="0.244" stop-color="#c6c6c6"/><stop offset="0.272" stop-color="#a7a7a7"/><stop offset="0.295" stop-color="#aeaeae"/><stop offset="0.317" stop-color="#7e7e7e"/><stop offset="0.334" stop-color="#4d4d4d"/><stop offset="0.340" stop-color="#424242"/><stop offset="0.363" stop-color="#545454"/><stop offset="0.385" stop-color="#929292"/><stop offset="0.414" stop-color="#bebebe"/><stop offset="0.453" stop-color="#cccccc"/><stop offset="0.499" stop-color="#c8c8c8"/><stop offset="0.533" stop-color="#b1b1b1"/><stop offset="0.572" stop-color="#626262"/><stop offset="0.589" stop-color="#6f6f6f"/><stop offset="0.612" stop-color="#9d9d9d"/><stop offset="0.635" stop-color="#a8a8a8"/><stop offset="0.657" stop-color="#bfbfbf"/><stop offset="0.703" stop-color="#dfdfdf"/><stop offset="0.759" stop-color="#ececec"/><stop offset="0.997" stop-color="#f4f4f4"/></linearGradient>
<linearGradient id="ga82" gradientUnits="userSpaceOnUse" x1="334.5" y1="0" x2="511" y2="0"><stop offset="0.000" stop-color="#ebebeb"/><stop offset="0.142" stop-color="#eaeaea"/><stop offset="0.198" stop-color="#dfdfdf"/><stop offset="0.238" stop-color="#c8c8c8"/><stop offset="0.272" stop-color="#a7a7a7"/><stop offset="0.289" stop-color="#adadad"/><stop offset="0.295" stop-color="#aaaaaa"/><stop offset="0.312" stop-color="#888888"/><stop offset="0.334" stop-color="#484848"/><stop offset="0.340" stop-color="#434343"/><stop offset="0.357" stop-color="#4f4f4f"/><stop offset="0.363" stop-color="#5a5a5a"/><stop offset="0.385" stop-color="#969696"/><stop offset="0.414" stop-color="#c0c0c0"/><stop offset="0.453" stop-color="#cccccc"/><stop offset="0.499" stop-color="#c9c9c9"/><stop offset="0.533" stop-color="#b4b4b4"/><stop offset="0.567" stop-color="#707070"/><stop offset="0.578" stop-color="#626262"/><stop offset="0.595" stop-color="#757575"/><stop offset="0.612" stop-color="#999999"/><stop offset="0.618" stop-color="#9f9f9f"/><stop offset="0.708" stop-color="#e0e0e0"/><stop offset="0.765" stop-color="#ececec"/><stop offset="0.997" stop-color="#f3f3f3"/></linearGradient>
<linearGradient id="ga83" gradientUnits="userSpaceOnUse" x1="334.5" y1="0" x2="511" y2="0"><stop offset="0.000" stop-color="#ebebeb"/><stop offset="0.136" stop-color="#eaeaea"/><stop offset="0.198" stop-color="#dedede"/><stop offset="0.238" stop-color="#c7c7c7"/><stop offset="0.266" stop-color="#a9a9a9"/><stop offset="0.289" stop-color="#adadad"/><stop offset="0.312" stop-color="#848484"/><stop offset="0.334" stop-color="#424242"/><stop offset="0.357" stop-color="#525252"/><stop offset="0.385" stop-color="#999999"/><stop offset="0.414" stop-color="#c1c1c1"/><stop offset="0.425" stop-color="#c5c5c5"/><stop offset="0.459" stop-color="#cdcdcd"/><stop offset="0.499" stop-color="#cacaca"/><stop offset="0.533" stop-color="#b5b5b5"/><stop offset="0.578" stop-color="#606060"/><stop offset="0.595" stop-color="#717171"/><stop offset="0.618" stop-color="#9e9e9e"/><stop offset="0.708" stop-color="#dfdfdf"/><stop offset="0.765" stop-color="#ececec"/><stop offset="0.997" stop-color="#f3f3f3"/></linearGradient>
<linearGradient id="ga84" gradientUnits="userSpaceOnUse" x1="334.5" y1="0" x2="511" y2="0"><stop offset="0.000" stop-color="#ebebeb"/><stop offset="0.136" stop-color="#eaeaea"/><stop offset="0.198" stop-color="#dddddd"/><stop offset="0.238" stop-color="#c5c5c5"/><stop offset="0.266" stop-color="#a7a7a7"/><stop offset="0.289" stop-color="#adadad"/><stop offset="0.306" stop-color="#8d8d8d"/><stop offset="0.329" stop-color="#4c4c4c"/><stop offset="0.334" stop-color="#424242"/><stop offset="0.357" stop-color="#555555"/><stop offset="0.368" stop-color="#767676"/><stop offset="0.385" stop-color="#9d9d9d"/><stop offset="0.414" stop-color="#c1c1c1"/><stop offset="0.419" stop-color="#c4c4c4"/><stop offset="0.459" stop-color="#cdcdcd"/><stop offset="0.499" stop-color="#cacaca"/><stop offset="0.533" stop-color="#b7b7b7"/><stop offset="0.538" stop-color="#b1b1b1"/><stop offset="0.578" stop-color="#636363"/><stop offset="0.595" stop-color="#6f6f6f"/><stop offset="0.618" stop-color="#9b9b9b"/><stop offset="0.708" stop-color="#dedede"/><stop offset="0.782" stop-color="#ededed"/><stop offset="0.997" stop-color="#f3f3f3"/></linearGradient>
<linearGradient id="ga85" gradientUnits="userSpaceOnUse" x1="334.5" y1="0" x2="511" y2="0"><stop offset="0.000" stop-color="#ebebeb"/><stop offset="0.125" stop-color="#ebebeb"/><stop offset="0.198" stop-color="#dcdcdc"/><stop offset="0.232" stop-color="#c8c8c8"/><stop offset="0.266" stop-color="#a6a6a6"/><stop offset="0.289" stop-color="#aaaaaa"/><stop offset="0.306" stop-color="#8a8a8a"/><stop offset="0.329" stop-color="#474747"/><stop offset="0.334" stop-color="#424242"/><stop offset="0.351" stop-color="#505050"/><stop offset="0.380" stop-color="#969696"/><stop offset="0.385" stop-color="#a0a0a0"/><stop offset="0.408" stop-color="#bcbcbc"/><stop offset="0.419" stop-color="#c4c4c4"/><stop offset="0.459" stop-color="#cdcdcd"/><stop offset="0.499" stop-color="#cbcbcb"/><stop offset="0.533" stop-color="#b9b9b9"/><stop offset="0.538" stop-color="#b5b5b5"/><stop offset="0.555" stop-color="#969696"/><stop offset="0.572" stop-color="#6f6f6f"/><stop offset="0.584" stop-color="#626262"/><stop offset="0.601" stop-color="#757575"/><stop offset="0.618" stop-color="#979797"/><stop offset="0.623" stop-color="#9e9e9e"/><stop offset="0.708" stop-color="#dedede"/><stop offset="0.782" stop-color="#ececec"/><stop offset="0.997" stop-color="#f3f3f3"/></linearGradient>
<linearGradient id="ga86" gradientUnits="userSpaceOnUse" x1="334.5" y1="0" x2="511" y2="0"><stop offset="0.000" stop-color="#eaeaea"/><stop offset="0.125" stop-color="#ebebeb"/><stop offset="0.193" stop-color="#dedede"/><stop offset="0.227" stop-color="#cbcbcb"/><stop offset="0.261" stop-color="#a8a8a8"/><stop offset="0.266" stop-color="#a5a5a5"/><stop offset="0.283" stop-color="#acacac"/><stop offset="0.289" stop-color="#a7a7a7"/><stop offset="0.306" stop-color="#868686"/><stop offset="0.329" stop-color="#424242"/><stop offset="0.334" stop-color="#424242"/><stop offset="0.351" stop-color="#535353"/><stop offset="0.380" stop-color="#9b9b9b"/><stop offset="0.408" stop-color="#bebebe"/><stop offset="0.419" stop-color="#c5c5c5"/><stop offset="0.459" stop-color="#cdcdcd"/><stop offset="0.499" stop-color="#cbcbcb"/><stop offset="0.538" stop-color="#b7b7b7"/><stop offset="0.584" stop-color="#606060"/><stop offset="0.601" stop-color="#717171"/><stop offset="0.623" stop-color="#9c9c9c"/><stop offset="0.680" stop-color="#cacaca"/><stop offset="0.714" stop-color="#dfdfdf"/><stop offset="0.788" stop-color="#ededed"/><stop offset="0.997" stop-color="#f2f2f2"/></linearGradient>
<linearGradient id="ga87" gradientUnits="userSpaceOnUse" x1="334.5" y1="0" x2="511" y2="0"><stop offset="0.000" stop-color="#eaeaea"/><stop offset="0.125" stop-color="#ebebeb"/><stop offset="0.193" stop-color="#dddddd"/><stop offset="0.227" stop-color="#c9c9c9"/><stop offset="0.261" stop-color="#a6a6a6"/><stop offset="0.283" stop-color="#acacac"/><stop offset="0.300" stop-color="#8f8f8f"/><stop offset="0.323" stop-color="#4c4c4c"/><stop offset="0.329" stop-color="#414141"/><stop offset="0.334" stop-color="#424242"/><stop offset="0.351" stop-color="#575757"/><stop offset="0.363" stop-color="#797979"/><stop offset="0.380" stop-color="#9e9e9e"/><stop offset="0.408" stop-color="#bfbfbf"/><stop offset="0.419" stop-color="#c5c5c5"/><stop offset="0.459" stop-color="#cecece"/><stop offset="0.499" stop-color="#cccccc"/><stop offset="0.538" stop-color="#b9b9b9"/><stop offset="0.561" stop-color="#949494"/><stop offset="0.584" stop-color="#636363"/><stop offset="0.601" stop-color="#6e6e6e"/><stop offset="0.623" stop-color="#9a9a9a"/><stop offset="0.680" stop-color="#c8c8c8"/><stop offset="0.714" stop-color="#dedede"/><stop offset="0.788" stop-color="#ededed"/><stop offset="0.997" stop-color="#f2f2f2"/></linearGradient>
<linearGradient id="ga88" gradientUnits="userSpaceOnUse" x1="334.5" y1="0" x2="511" y2="0"><stop offset="0.000" stop-color="#eaeaea"/><stop offset="0.125" stop-color="#ebebeb"/><stop offset="0.193" stop-color="#dcdcdc"/><stop offset="0.227" stop-color="#c8c8c8"/><stop offset="0.261" stop-color="#a5a5a5"/><stop offset="0.283" stop-color="#aaaaaa"/><stop offset="0.300" stop-color="#8c8c8c"/><stop offset="0.317" stop-color="#565656"/><stop offset="0.323" stop-color="#474747"/><stop offset="0.329" stop-color="#404040"/><stop offset="0.346" stop-color="#4f4f4f"/><stop offset="0.363" stop-color="#7e7e7e"/><stop offset="0.380" stop-color="#a2a2a2"/><stop offset="0.408" stop-color="#c0c0c0"/><stop offset="0.419" stop-color="#c6c6c6"/><stop offset="0.459" stop-color="#cecece"/><stop offset="0.499" stop-color="#cccccc"/><stop offset="0.538" stop-color="#bababa"/><stop offset="0.561" stop-color="#989898"/><stop offset="0.578" stop-color="#6f6f6f"/><stop offset="0.589" stop-color="#626262"/><stop offset="0.606" stop-color="#747474"/><stop offset="0.629" stop-color="#9c9c9c"/><stop offset="0.680" stop-color="#c7c7c7"/><stop offset="0.714" stop-color="#dddddd"/><stop offset="0.788" stop-color="#ececec"/><stop offset="0.997" stop-color="#f2f2f2"/></linearGradient>
<linearGradient id="ga89" gradientUnits="userSpaceOnUse" x1="334.5" y1="0" x2="511" y2="0"><stop offset="0.000" stop-color="#eaeaea"/><stop offset="0.125" stop-color="#ebebeb"/><stop offset="0.193" stop-color="#dbdbdb"/><stop offset="0.221" stop-color="#cbcbcb"/><stop offset="0.255" stop-color="#a7a7a7"/><stop offset="0.283" stop-color="#a7a7a7"/><stop offset="0.300" stop-color="#888888"/><stop offset="0.317" stop-color="#505050"/><stop offset="0.323" stop-color="#424242"/><stop offset="0.329" stop-color="#3f3f3f"/><stop offset="0.346" stop-color="#535353"/><stop offset="0.363" stop-color="#838383"/><stop offset="0.380" stop-color="#a5a5a5"/><stop offset="0.408" stop-color="#c1c1c1"/><stop offset="0.419" stop-color="#c6c6c6"/><stop offset="0.459" stop-color="#cecece"/><stop offset="0.499" stop-color="#cdcdcd"/><stop offset="0.538" stop-color="#bcbcbc"/><stop offset="0.544" stop-color="#b8b8b8"/><stop offset="0.561" stop-color="#9c9c9c"/><stop offset="0.578" stop-color="#737373"/><stop offset="0.589" stop-color="#606060"/><stop offset="0.606" stop-color="#707070"/><stop offset="0.629" stop-color="#9a9a9a"/><stop offset="0.686" stop-color="#cacaca"/><stop offset="0.720" stop-color="#dedede"/><stop offset="0.788" stop-color="#ececec"/><stop offset="0.997" stop-color="#f2f2f2"/></linearGradient>
<linearGradient id="ga90" gradientUnits="userSpaceOnUse" x1="334.5" y1="0" x2="511" y2="0"><stop offset="0.000" stop-color="#e9e9e9"/><stop offset="0.119" stop-color="#ebebeb"/><stop offset="0.187" stop-color="#dddddd"/><stop offset="0.221" stop-color="#cacaca"/><stop offset="0.255" stop-color="#a6a6a6"/><stop offset="0.278" stop-color="#aaaaaa"/><stop offset="0.295" stop-color="#919191"/><stop offset="0.317" stop-color="#4b4b4b"/><stop offset="0.323" stop-color="#404040"/><stop offset="0.329" stop-color="#404040"/><stop offset="0.346" stop-color="#585858"/><stop offset="0.357" stop-color="#7b7b7b"/><stop offset="0.380" stop-color="#a8a8a8"/><stop offset="0.408" stop-color="#c2c2c2"/><stop offset="0.419" stop-color="#c7c7c7"/><stop offset="0.459" stop-color="#cecece"/><stop offset="0.504" stop-color="#cdcdcd"/><stop offset="0.544" stop-color="#bbbbbb"/><stop offset="0.567" stop-color="#959595"/><stop offset="0.584" stop-color="#6c6c6c"/><stop offset="0.589" stop-color="#636363"/><stop offset="0.595" stop-color="#636363"/><stop offset="0.606" stop-color="#6e6e6e"/><stop offset="0.629" stop-color="#989898"/><stop offset="0.640" stop-color="#a3a3a3"/><stop offset="0.686" stop-color="#c9c9c9"/><stop offset="0.720" stop-color="#dedede"/><stop offset="0.788" stop-color="#ececec"/><stop offset="0.997" stop-color="#f1f1f1"/></linearGradient>
<linearGradient id="ga91" gradientUnits="userSpaceOnUse" x1="334.5" y1="0" x2="511" y2="0"><stop offset="0.000" stop-color="#e9e9e9"/><stop offset="0.119" stop-color="#ebebeb"/><stop offset="0.187" stop-color="#dcdcdc"/><stop offset="0.221" stop-color="#c8c8c8"/><stop offset="0.244" stop-color="#acacac"/><stop offset="0.255" stop-color="#a4a4a4"/><stop offset="0.278" stop-color="#a9a9a9"/><stop offset="0.295" stop-color="#8e8e8e"/><stop offset="0.312" stop-color="#555555"/><stop offset="0.323" stop-color="#3e3e3e"/><stop offset="0.340" stop-color="#4f4f4f"/><stop offset="0.357" stop-color="#818181"/><stop offset="0.374" stop-color="#a3a3a3"/><stop offset="0.414" stop-color="#c6c6c6"/><stop offset="0.459" stop-color="#cfcfcf"/><stop offset="0.504" stop-color="#cecece"/><stop offset="0.544" stop-color="#bcbcbc"/><stop offset="0.567" stop-color="#9a9a9a"/><stop offset="0.584" stop-color="#6f6f6f"/><stop offset="0.595" stop-color="#616161"/><stop offset="0.612" stop-color="#737373"/><stop offset="0.629" stop-color="#949494"/><stop offset="0.646" stop-color="#a7a7a7"/><stop offset="0.663" stop-color="#b1b1b1"/><stop offset="0.686" stop-color="#c8c8c8"/><stop offset="0.720" stop-color="#dddddd"/><stop offset="0.793" stop-color="#ececec"/><stop offset="0.997" stop-color="#f1f1f1"/></linearGradient>
<linearGradient id="ga92" gradientUnits="userSpaceOnUse" x1="334.5" y1="0" x2="511" y2="0"><stop offset="0.000" stop-color="#e9e9e9"/><stop offset="0.119" stop-color="#ececec"/><stop offset="0.187" stop-color="#dbdbdb"/><stop offset="0.215" stop-color="#cbcbcb"/><stop offset="0.249" stop-color="#a6a6a6"/><stop offset="0.261" stop-color="#a3a3a3"/><stop offset="0.278" stop-color="#a7a7a7"/><stop offset="0.295" stop-color="#8a8a8a"/><stop offset="0.312" stop-color="#4f4f4f"/><stop offset="0.317" stop-color="#424242"/><stop offset="0.323" stop-color="#3c3c3c"/><stop offset="0.340" stop-color="#545454"/><stop offset="0.357" stop-color="#858585"/><stop offset="0.374" stop-color="#a6a6a6"/><stop offset="0.414" stop-color="#c7c7c7"/><stop offset="0.459" stop-color="#cfcfcf"/><stop offset="0.504" stop-color="#cecece"/><stop offset="0.544" stop-color="#bebebe"/><stop offset="0.567" stop-color="#9e9e9e"/><stop offset="0.584" stop-color="#737373"/><stop offset="0.595" stop-color="#616161"/><stop offset="0.612" stop-color="#707070"/><stop offset="0.629" stop-color="#909090"/><stop offset="0.646" stop-color="#a6a6a6"/><stop offset="0.691" stop-color="#cacaca"/><stop offset="0.725" stop-color="#dedede"/><stop offset="0.793" stop-color="#ececec"/><stop offset="0.997" stop-color="#f1f1f1"/></linearGradient>
<linearGradient id="ga93" gradientUnits="userSpaceOnUse" x1="334.5" y1="0" x2="511" y2="0"><stop offset="0.000" stop-color="#e9e9e9"/><stop offset="0.119" stop-color="#ececec"/><stop offset="0.181" stop-color="#dedede"/><stop offset="0.215" stop-color="#cacaca"/><stop offset="0.244" stop-color="#a8a8a8"/><stop offset="0.255" stop-color="#a2a2a2"/><stop offset="0.272" stop-color="#a8a8a8"/><stop offset="0.278" stop-color="#a4a4a4"/><stop offset="0.289" stop-color="#929292"/><stop offset="0.295" stop-color="#848484"/><stop offset="0.312" stop-color="#4a4a4a"/><stop offset="0.317" stop-color="#3f3f3f"/><stop offset="0.323" stop-color="#3e3e3e"/><stop offset="0.334" stop-color="#4d4d4d"/><stop offset="0.340" stop-color="#595959"/><stop offset="0.351" stop-color="#7d7d7d"/><stop offset="0.374" stop-color="#aaaaaa"/><stop offset="0.414" stop-color="#c7c7c7"/><stop offset="0.459" stop-color="#cfcfcf"/><stop offset="0.504" stop-color="#cfcfcf"/><stop offset="0.544" stop-color="#bfbfbf"/><stop offset="0.550" stop-color="#bbbbbb"/><stop offset="0.567" stop-color="#a2a2a2"/><stop offset="0.589" stop-color="#6c6c6c"/><stop offset="0.595" stop-color="#646464"/><stop offset="0.601" stop-color="#636363"/><stop offset="0.612" stop-color="#6e6e6e"/><stop offset="0.635" stop-color="#969696"/><stop offset="0.652" stop-color="#aaaaaa"/><stop offset="0.669" stop-color="#b3b3b3"/><stop offset="0.691" stop-color="#c9c9c9"/><stop offset="0.725" stop-color="#dddddd"/><stop offset="0.793" stop-color="#ececec"/><stop offset="0.997" stop-color="#f1f1f1"/></linearGradient>
<linearGradient id="ga94" gradientUnits="userSpaceOnUse" x1="334.5" y1="0" x2="511" y2="0"><stop offset="0.000" stop-color="#e8e8e8"/><stop offset="0.119" stop-color="#ececec"/><stop offset="0.176" stop-color="#e0e0e0"/><stop offset="0.215" stop-color="#c9c9c9"/><stop offset="0.244" stop-color="#a7a7a7"/><stop offset="0.255" stop-color="#a1a1a1"/><stop offset="0.272" stop-color="#a8a8a8"/><stop offset="0.289" stop-color="#909090"/><stop offset="0.306" stop-color="#545454"/><stop offset="0.317" stop-color="#3c3c3c"/><stop offset="0.334" stop-color="#4f4f4f"/><stop offset="0.351" stop-color="#848484"/><stop offset="0.374" stop-color="#adadad"/><stop offset="0.414" stop-color="#c8c8c8"/><stop offset="0.459" stop-color="#cfcfcf"/><stop offset="0.510" stop-color="#cfcfcf"/><stop offset="0.550" stop-color="#bebebe"/><stop offset="0.572" stop-color="#9c9c9c"/><stop offset="0.589" stop-color="#6f6f6f"/><stop offset="0.601" stop-color="#616161"/><stop offset="0.618" stop-color="#727272"/><stop offset="0.635" stop-color="#929292"/><stop offset="0.652" stop-color="#a8a8a8"/><stop offset="0.669" stop-color="#b1b1b1"/><stop offset="0.691" stop-color="#c8c8c8"/><stop offset="0.725" stop-color="#dddddd"/><stop offset="0.793" stop-color="#ececec"/><stop offset="0.997" stop-color="#f0f0f0"/></linearGradient>
<linearGradient id="ga95" gradientUnits="userSpaceOnUse" x1="334.5" y1="0" x2="511" y2="0"><stop offset="0.000" stop-color="#e8e8e8"/><stop offset="0.119" stop-color="#ebebeb"/><stop offset="0.176" stop-color="#dfdfdf"/><stop offset="0.215" stop-color="#c6c6c6"/><stop offset="0.238" stop-color="#a8a8a8"/><stop offset="0.255" stop-color="#a1a1a1"/><stop offset="0.272" stop-color="#a7a7a7"/><stop offset="0.289" stop-color="#8c8c8c"/><stop offset="0.306" stop-color="#4e4e4e"/><stop offset="0.317" stop-color="#3a3a3a"/><stop offset="0.334" stop-color="#535353"/><stop offset="0.351" stop-color="#898989"/><stop offset="0.368" stop-color="#a7a7a7"/><stop offset="0.374" stop-color="#b0b0b0"/><stop offset="0.414" stop-color="#c8c8c8"/><stop offset="0.459" stop-color="#d0d0d0"/><stop offset="0.510" stop-color="#cfcfcf"/><stop offset="0.550" stop-color="#c0c0c0"/><stop offset="0.572" stop-color="#a0a0a0"/><stop offset="0.589" stop-color="#737373"/><stop offset="0.601" stop-color="#616161"/><stop offset="0.618" stop-color="#6f6f6f"/><stop offset="0.635" stop-color="#8f8f8f"/><stop offset="0.657" stop-color="#acacac"/><stop offset="0.669" stop-color="#b0b0b0"/><stop offset="0.691" stop-color="#c7c7c7"/><stop offset="0.731" stop-color="#dedede"/><stop offset="0.793" stop-color="#ececec"/><stop offset="0.997" stop-color="#f0f0f0"/></linearGradient>
<linearGradient id="ga96" gradientUnits="userSpaceOnUse" x1="334.5" y1="0" x2="511" y2="0"><stop offset="0.000" stop-color="#e8e8e8"/><stop offset="0.113" stop-color="#ececec"/><stop offset="0.176" stop-color="#dedede"/><stop offset="0.210" stop-color="#cacaca"/><stop offset="0.238" stop-color="#a7a7a7"/><stop offset="0.249" stop-color="#a1a1a1"/><stop offset="0.272" stop-color="#a4a4a4"/><stop offset="0.283" stop-color="#949494"/><stop offset="0.289" stop-color="#858585"/><stop offset="0.306" stop-color="#4a4a4a"/><stop offset="0.312" stop-color="#3e3e3e"/><stop offset="0.317" stop-color="#3c3c3c"/><stop offset="0.329" stop-color="#4c4c4c"/><stop offset="0.351" stop-color="#8d8d8d"/><stop offset="0.368" stop-color="#ababab"/><stop offset="0.414" stop-color="#c8c8c8"/><stop offset="0.459" stop-color="#d0d0d0"/><stop offset="0.510" stop-color="#d0d0d0"/><stop offset="0.550" stop-color="#c1c1c1"/><stop offset="0.572" stop-color="#a4a4a4"/><stop offset="0.595" stop-color="#6c6c6c"/><stop offset="0.606" stop-color="#636363"/><stop offset="0.623" stop-color="#757575"/><stop offset="0.640" stop-color="#949494"/><stop offset="0.657" stop-color="#ababab"/><stop offset="0.674" stop-color="#b3b3b3"/><stop offset="0.697" stop-color="#cacaca"/><stop offset="0.731" stop-color="#dddddd"/><stop offset="0.799" stop-color="#ececec"/><stop offset="0.997" stop-color="#f0f0f0"/></linearGradient>
<linearGradient id="ga97" gradientUnits="userSpaceOnUse" x1="334.5" y1="0" x2="511" y2="0"><stop offset="0.000" stop-color="#e8e8e8"/><stop offset="0.113" stop-color="#ececec"/><stop offset="0.176" stop-color="#dddddd"/><stop offset="0.210" stop-color="#c9c9c9"/><stop offset="0.232" stop-color="#a9a9a9"/><stop offset="0.249" stop-color="#a1a1a1"/><stop offset="0.266" stop-color="#a7a7a7"/><stop offset="0.283" stop-color="#909090"/><stop offset="0.300" stop-color="#515151"/><stop offset="0.312" stop-color="#383838"/><stop offset="0.329" stop-color="#4f4f4f"/><stop offset="0.346" stop-color="#858585"/><stop offset="0.368" stop-color="#aeaeae"/><stop offset="0.414" stop-color="#c9c9c9"/><stop offset="0.459" stop-color="#d0d0d0"/><stop offset="0.510" stop-color="#d0d0d0"/><stop offset="0.550" stop-color="#c2c2c2"/><stop offset="0.572" stop-color="#a7a7a7"/><stop offset="0.578" stop-color="#9d9d9d"/><stop offset="0.595" stop-color="#6f6f6f"/><stop offset="0.606" stop-color="#616161"/><stop offset="0.623" stop-color="#727272"/><stop offset="0.640" stop-color="#919191"/><stop offset="0.657" stop-color="#a9a9a9"/><stop offset="0.674" stop-color="#b1b1b1"/><stop offset="0.697" stop-color="#c8c8c8"/><stop offset="0.731" stop-color="#dcdcdc"/><stop offset="0.799" stop-color="#ececec"/><stop offset="0.997" stop-color="#f0f0f0"/></linearGradient>
<linearGradient id="ga98" gradientUnits="userSpaceOnUse" x1="334.5" y1="0" x2="511" y2="0"><stop offset="0.000" stop-color="#e8e8e8"/><stop offset="0.113" stop-color="#ebebeb"/><stop offset="0.170" stop-color="#dfdfdf"/><stop offset="0.210" stop-color="#c6c6c6"/><stop offset="0.232" stop-color="#a8a8a8"/><stop offset="0.244" stop-color="#a2a2a2"/><stop offset="0.266" stop-color="#a4a4a4"/><stop offset="0.283" stop-color="#878787"/><stop offset="0.300" stop-color="#4b4b4b"/><stop offset="0.306" stop-color="#3f3f3f"/><stop offset="0.312" stop-color="#3a3a3a"/><stop offset="0.329" stop-color="#555555"/><stop offset="0.346" stop-color="#8b8b8b"/><stop offset="0.368" stop-color="#b1b1b1"/><stop offset="0.408" stop-color="#c8c8c8"/><stop offset="0.453" stop-color="#d0d0d0"/><stop offset="0.510" stop-color="#d1d1d1"/><stop offset="0.555" stop-color="#c1c1c1"/><stop offset="0.578" stop-color="#a2a2a2"/><stop offset="0.595" stop-color="#747474"/><stop offset="0.606" stop-color="#626262"/><stop offset="0.623" stop-color="#6f6f6f"/><stop offset="0.640" stop-color="#8e8e8e"/><stop offset="0.663" stop-color="#adadad"/><stop offset="0.674" stop-color="#b0b0b0"/><stop offset="0.697" stop-color="#c7c7c7"/><stop offset="0.731" stop-color="#dbdbdb"/><stop offset="0.799" stop-color="#ebebeb"/><stop offset="0.997" stop-color="#f0f0f0"/></linearGradient>
<linearGradient id="ga99" gradientUnits="userSpaceOnUse" x1="334.5" y1="0" x2="511" y2="0"><stop offset="0.000" stop-color="#e7e7e7"/><stop offset="0.113" stop-color="#ebebeb"/><stop offset="0.170" stop-color="#dedede"/><stop offset="0.204" stop-color="#cacaca"/><stop offset="0.232" stop-color="#a7a7a7"/><stop offset="0.244" stop-color="#a2a2a2"/><stop offset="0.261" stop-color="#a6a6a6"/><stop offset="0.266" stop-color="#a0a0a0"/><stop offset="0.278" stop-color="#909090"/><stop offset="0.295" stop-color="#545454"/><stop offset="0.306" stop-color="#393939"/><stop offset="0.323" stop-color="#4c4c4c"/><stop offset="0.346" stop-color="#8f8f8f"/><stop offset="0.363" stop-color="#ababab"/><stop offset="0.368" stop-color="#b3b3b3"/><stop offset="0.408" stop-color="#c9c9c9"/><stop offset="0.453" stop-color="#d1d1d1"/><stop offset="0.510" stop-color="#d1d1d1"/><stop offset="0.555" stop-color="#c2c2c2"/><stop offset="0.578" stop-color="#a5a5a5"/><stop offset="0.601" stop-color="#6e6e6e"/><stop offset="0.612" stop-color="#626262"/><stop offset="0.629" stop-color="#757575"/><stop offset="0.646" stop-color="#949494"/><stop offset="0.663" stop-color="#ababab"/><stop offset="0.737" stop-color="#dcdcdc"/><stop offset="0.799" stop-color="#ebebeb"/><stop offset="0.997" stop-color="#efefef"/></linearGradient>
<linearGradient id="ga100" gradientUnits="userSpaceOnUse" x1="334.5" y1="0" x2="511" y2="0"><stop offset="0.000" stop-color="#e7e7e7"/><stop offset="0.108" stop-color="#ebebeb"/><stop offset="0.170" stop-color="#dddddd"/><stop offset="0.204" stop-color="#c8c8c8"/><stop offset="0.232" stop-color="#a6a6a6"/><stop offset="0.261" stop-color="#a4a4a4"/><stop offset="0.278" stop-color="#888888"/><stop offset="0.295" stop-color="#4d4d4d"/><stop offset="0.300" stop-color="#3f3f3f"/><stop offset="0.306" stop-color="#393939"/><stop offset="0.323" stop-color="#505050"/><stop offset="0.340" stop-color="#878787"/><stop offset="0.363" stop-color="#afafaf"/><stop offset="0.408" stop-color="#c9c9c9"/><stop offset="0.453" stop-color="#d1d1d1"/><stop offset="0.510" stop-color="#d1d1d1"/><stop offset="0.555" stop-color="#c4c4c4"/><stop offset="0.578" stop-color="#a9a9a9"/><stop offset="0.601" stop-color="#717171"/><stop offset="0.612" stop-color="#606060"/><stop offset="0.629" stop-color="#717171"/><stop offset="0.646" stop-color="#919191"/><stop offset="0.669" stop-color="#afafaf"/><stop offset="0.680" stop-color="#b2b2b2"/><stop offset="0.703" stop-color="#c7c7c7"/><stop offset="0.737" stop-color="#dbdbdb"/><stop offset="0.805" stop-color="#ebebeb"/><stop offset="0.997" stop-color="#efefef"/></linearGradient>
<linearGradient id="ga101" gradientUnits="userSpaceOnUse" x1="334.5" y1="0" x2="511" y2="0"><stop offset="0.000" stop-color="#e7e7e7"/><stop offset="0.108" stop-color="#eaeaea"/><stop offset="0.170" stop-color="#dcdcdc"/><stop offset="0.204" stop-color="#c6c6c6"/><stop offset="0.221" stop-color="#aeaeae"/><stop offset="0.232" stop-color="#a5a5a5"/><stop offset="0.255" stop-color="#a5a5a5"/><stop offset="0.261" stop-color="#9f9f9f"/><stop offset="0.272" stop-color="#8f8f8f"/><stop offset="0.278" stop-color="#808080"/><stop offset="0.289" stop-color="#565656"/><stop offset="0.300" stop-color="#393939"/><stop offset="0.312" stop-color="#404040"/><stop offset="0.317" stop-color="#494949"/><stop offset="0.323" stop-color="#565656"/><stop offset="0.340" stop-color="#8c8c8c"/><stop offset="0.363" stop-color="#b2b2b2"/><stop offset="0.408" stop-color="#cacaca"/><stop offset="0.453" stop-color="#d1d1d1"/><stop offset="0.516" stop-color="#d1d1d1"/><stop offset="0.555" stop-color="#c5c5c5"/><stop offset="0.584" stop-color="#a2a2a2"/><stop offset="0.601" stop-color="#767676"/><stop offset="0.612" stop-color="#626262"/><stop offset="0.629" stop-color="#6f6f6f"/><stop offset="0.646" stop-color="#8e8e8e"/><stop offset="0.669" stop-color="#aeaeae"/><stop offset="0.680" stop-color="#b1b1b1"/><stop offset="0.703" stop-color="#c6c6c6"/><stop offset="0.737" stop-color="#dadada"/><stop offset="0.805" stop-color="#ebebeb"/><stop offset="0.997" stop-color="#efefef"/></linearGradient>
<linearGradient id="ga102" gradientUnits="userSpaceOnUse" x1="334.5" y1="0" x2="511" y2="0"><stop offset="0.000" stop-color="#e7e7e7"/><stop offset="0.108" stop-color="#eaeaea"/><stop offset="0.170" stop-color="#dadada"/><stop offset="0.198" stop-color="#c9c9c9"/><stop offset="0.227" stop-color="#a7a7a7"/><stop offset="0.255" stop-color="#a3a3a3"/><stop offset="0.272" stop-color="#898989"/><stop offset="0.289" stop-color="#4e4e4e"/><stop offset="0.300" stop-color="#383838"/><stop offset="0.317" stop-color="#4c4c4c"/><stop offset="0.340" stop-color="#909090"/><stop offset="0.363" stop-color="#b3b3b3"/><stop offset="0.408" stop-color="#cbcbcb"/><stop offset="0.487" stop-color="#d3d3d3"/><stop offset="0.516" stop-color="#d2d2d2"/><stop offset="0.555" stop-color="#c7c7c7"/><stop offset="0.584" stop-color="#a6a6a6"/><stop offset="0.606" stop-color="#6f6f6f"/><stop offset="0.618" stop-color="#626262"/><stop offset="0.635" stop-color="#757575"/><stop offset="0.669" stop-color="#ababab"/><stop offset="0.737" stop-color="#d9d9d9"/><stop offset="0.810" stop-color="#ebebeb"/><stop offset="0.997" stop-color="#efefef"/></linearGradient>
<linearGradient id="ga103" gradientUnits="userSpaceOnUse" x1="334.5" y1="0" x2="511" y2="0"><stop offset="0.000" stop-color="#e6e6e6"/><stop offset="0.108" stop-color="#eaeaea"/><stop offset="0.164" stop-color="#dddddd"/><stop offset="0.198" stop-color="#c8c8c8"/><stop offset="0.227" stop-color="#a6a6a6"/><stop offset="0.249" stop-color="#a5a5a5"/><stop offset="0.255" stop-color="#9f9f9f"/><stop offset="0.266" stop-color="#8f8f8f"/><stop offset="0.272" stop-color="#828282"/><stop offset="0.283" stop-color="#595959"/><stop offset="0.295" stop-color="#3a3a3a"/><stop offset="0.300" stop-color="#393939"/><stop offset="0.312" stop-color="#464646"/><stop offset="0.317" stop-color="#525252"/><stop offset="0.334" stop-color="#898989"/><stop offset="0.357" stop-color="#afafaf"/><stop offset="0.408" stop-color="#cbcbcb"/><stop offset="0.487" stop-color="#d3d3d3"/><stop offset="0.555" stop-color="#c8c8c8"/><stop offset="0.584" stop-color="#aaaaaa"/><stop offset="0.606" stop-color="#737373"/><stop offset="0.618" stop-color="#616161"/><stop offset="0.635" stop-color="#717171"/><stop offset="0.652" stop-color="#919191"/><stop offset="0.674" stop-color="#b0b0b0"/><stop offset="0.686" stop-color="#b3b3b3"/><stop offset="0.708" stop-color="#c7c7c7"/><stop offset="0.742" stop-color="#dadada"/><stop offset="0.810" stop-color="#eaeaea"/><stop offset="0.997" stop-color="#eeeeee"/></linearGradient>
<linearGradient id="ga104" gradientUnits="userSpaceOnUse" x1="334.5" y1="0" x2="511" y2="0"><stop offset="0.000" stop-color="#e6e6e6"/><stop offset="0.102" stop-color="#eaeaea"/><stop offset="0.164" stop-color="#dbdbdb"/><stop offset="0.193" stop-color="#cbcbcb"/><stop offset="0.227" stop-color="#a5a5a5"/><stop offset="0.249" stop-color="#a3a3a3"/><stop offset="0.266" stop-color="#8a8a8a"/><stop offset="0.283" stop-color="#505050"/><stop offset="0.295" stop-color="#373737"/><stop offset="0.306" stop-color="#3f3f3f"/><stop offset="0.312" stop-color="#494949"/><stop offset="0.334" stop-color="#8e8e8e"/><stop offset="0.357" stop-color="#b2b2b2"/><stop offset="0.408" stop-color="#cccccc"/><stop offset="0.487" stop-color="#d3d3d3"/><stop offset="0.521" stop-color="#d1d1d1"/><stop offset="0.561" stop-color="#c6c6c6"/><stop offset="0.584" stop-color="#adadad"/><stop offset="0.618" stop-color="#626262"/><stop offset="0.635" stop-color="#6f6f6f"/><stop offset="0.652" stop-color="#8d8d8d"/><stop offset="0.674" stop-color="#aeaeae"/><stop offset="0.742" stop-color="#d9d9d9"/><stop offset="0.810" stop-color="#eaeaea"/><stop offset="0.997" stop-color="#eeeeee"/></linearGradient>
<linearGradient id="ga105" gradientUnits="userSpaceOnUse" x1="334.5" y1="0" x2="511" y2="0"><stop offset="0.000" stop-color="#e6e6e6"/><stop offset="0.102" stop-color="#e9e9e9"/><stop offset="0.164" stop-color="#dadada"/><stop offset="0.193" stop-color="#c9c9c9"/><stop offset="0.221" stop-color="#a7a7a7"/><stop offset="0.249" stop-color="#9f9f9f"/><stop offset="0.266" stop-color="#838383"/><stop offset="0.283" stop-color="#484848"/><stop offset="0.289" stop-color="#3b3b3b"/><stop offset="0.295" stop-color="#373737"/><stop offset="0.300" stop-color="#3a3a3a"/><stop offset="0.312" stop-color="#4e4e4e"/><stop offset="0.329" stop-color="#848484"/><stop offset="0.334" stop-color="#919191"/><stop offset="0.357" stop-color="#b4b4b4"/><stop offset="0.408" stop-color="#cdcdcd"/><stop offset="0.487" stop-color="#d4d4d4"/><stop offset="0.561" stop-color="#c8c8c8"/><stop offset="0.584" stop-color="#b1b1b1"/><stop offset="0.612" stop-color="#717171"/><stop offset="0.623" stop-color="#616161"/><stop offset="0.640" stop-color="#747474"/><stop offset="0.674" stop-color="#ababab"/><stop offset="0.742" stop-color="#d8d8d8"/><stop offset="0.816" stop-color="#eaeaea"/><stop offset="0.997" stop-color="#eeeeee"/></linearGradient>
<linearGradient id="ga106" gradientUnits="userSpaceOnUse" x1="334.5" y1="0" x2="511" y2="0"><stop offset="0.000" stop-color="#e6e6e6"/><stop offset="0.102" stop-color="#e9e9e9"/><stop offset="0.153" stop-color="#dedede"/><stop offset="0.187" stop-color="#cccccc"/><stop offset="0.221" stop-color="#a6a6a6"/><stop offset="0.244" stop-color="#a3a3a3"/><stop offset="0.255" stop-color="#939393"/><stop offset="0.266" stop-color="#7c7c7c"/><stop offset="0.278" stop-color="#525252"/><stop offset="0.289" stop-color="#363636"/><stop offset="0.300" stop-color="#3c3c3c"/><stop offset="0.306" stop-color="#464646"/><stop offset="0.312" stop-color="#535353"/><stop offset="0.329" stop-color="#8b8b8b"/><stop offset="0.351" stop-color="#afafaf"/><stop offset="0.357" stop-color="#b6b6b6"/><stop offset="0.408" stop-color="#cdcdcd"/><stop offset="0.487" stop-color="#d4d4d4"/><stop offset="0.561" stop-color="#c9c9c9"/><stop offset="0.589" stop-color="#ababab"/><stop offset="0.612" stop-color="#757575"/><stop offset="0.623" stop-color="#616161"/><stop offset="0.640" stop-color="#717171"/><stop offset="0.657" stop-color="#919191"/><stop offset="0.680" stop-color="#b1b1b1"/><stop offset="0.748" stop-color="#d9d9d9"/><stop offset="0.816" stop-color="#eaeaea"/><stop offset="0.997" stop-color="#eeeeee"/></linearGradient>
<linearGradient id="ga107" gradientUnits="userSpaceOnUse" x1="334.5" y1="0" x2="511" y2="0"><stop offset="0.000" stop-color="#e5e5e5"/><stop offset="0.102" stop-color="#e9e9e9"/><stop offset="0.153" stop-color="#dedede"/><stop offset="0.187" stop-color="#cacaca"/><stop offset="0.215" stop-color="#a8a8a8"/><stop offset="0.238" stop-color="#a3a3a3"/><stop offset="0.255" stop-color="#8f8f8f"/><stop offset="0.261" stop-color="#848484"/><stop offset="0.278" stop-color="#4a4a4a"/><stop offset="0.283" stop-color="#3b3b3b"/><stop offset="0.289" stop-color="#363636"/><stop offset="0.295" stop-color="#373737"/><stop offset="0.306" stop-color="#4a4a4a"/><stop offset="0.329" stop-color="#8f8f8f"/><stop offset="0.351" stop-color="#b2b2b2"/><stop offset="0.402" stop-color="#cccccc"/><stop offset="0.482" stop-color="#d5d5d5"/><stop offset="0.561" stop-color="#cbcbcb"/><stop offset="0.589" stop-color="#aeaeae"/><stop offset="0.623" stop-color="#636363"/><stop offset="0.629" stop-color="#636363"/><stop offset="0.640" stop-color="#6e6e6e"/><stop offset="0.680" stop-color="#aeaeae"/><stop offset="0.748" stop-color="#d8d8d8"/><stop offset="0.816" stop-color="#e9e9e9"/><stop offset="0.997" stop-color="#ededed"/></linearGradient>
<linearGradient id="ga108" gradientUnits="userSpaceOnUse" x1="334.5" y1="0" x2="511" y2="0"><stop offset="0.000" stop-color="#e5e5e5"/><stop offset="0.102" stop-color="#e8e8e8"/><stop offset="0.153" stop-color="#dddddd"/><stop offset="0.181" stop-color="#cdcdcd"/><stop offset="0.215" stop-color="#a6a6a6"/><stop offset="0.238" stop-color="#a3a3a3"/><stop offset="0.255" stop-color="#8b8b8b"/><stop offset="0.261" stop-color="#7e7e7e"/><stop offset="0.278" stop-color="#424242"/><stop offset="0.283" stop-color="#353535"/><stop offset="0.295" stop-color="#383838"/><stop offset="0.306" stop-color="#4f4f4f"/><stop offset="0.323" stop-color="#868686"/><stop offset="0.329" stop-color="#939393"/><stop offset="0.351" stop-color="#b5b5b5"/><stop offset="0.402" stop-color="#cdcdcd"/><stop offset="0.482" stop-color="#d5d5d5"/><stop offset="0.561" stop-color="#cccccc"/><stop offset="0.589" stop-color="#b2b2b2"/><stop offset="0.623" stop-color="#676767"/><stop offset="0.629" stop-color="#616161"/><stop offset="0.646" stop-color="#747474"/><stop offset="0.663" stop-color="#939393"/><stop offset="0.686" stop-color="#b2b2b2"/><stop offset="0.748" stop-color="#d7d7d7"/><stop offset="0.816" stop-color="#e9e9e9"/><stop offset="0.997" stop-color="#ededed"/></linearGradient>
<linearGradient id="ga109" gradientUnits="userSpaceOnUse" x1="334.5" y1="0" x2="511" y2="0"><stop offset="0.000" stop-color="#e5e5e5"/><stop offset="0.096" stop-color="#e8e8e8"/><stop offset="0.153" stop-color="#dcdcdc"/><stop offset="0.181" stop-color="#cbcbcb"/><stop offset="0.210" stop-color="#aaaaaa"/><stop offset="0.232" stop-color="#a3a3a3"/><stop offset="0.249" stop-color="#8f8f8f"/><stop offset="0.261" stop-color="#757575"/><stop offset="0.278" stop-color="#3c3c3c"/><stop offset="0.283" stop-color="#353535"/><stop offset="0.295" stop-color="#3c3c3c"/><stop offset="0.306" stop-color="#545454"/><stop offset="0.323" stop-color="#8d8d8d"/><stop offset="0.346" stop-color="#afafaf"/><stop offset="0.351" stop-color="#b7b7b7"/><stop offset="0.402" stop-color="#cecece"/><stop offset="0.487" stop-color="#d6d6d6"/><stop offset="0.567" stop-color="#cacaca"/><stop offset="0.589" stop-color="#b5b5b5"/><stop offset="0.629" stop-color="#616161"/><stop offset="0.646" stop-color="#717171"/><stop offset="0.663" stop-color="#909090"/><stop offset="0.686" stop-color="#b1b1b1"/><stop offset="0.748" stop-color="#d6d6d6"/><stop offset="0.822" stop-color="#e9e9e9"/><stop offset="0.997" stop-color="#ededed"/></linearGradient>
<linearGradient id="ga110" gradientUnits="userSpaceOnUse" x1="334.5" y1="0" x2="511" y2="0"><stop offset="0.000" stop-color="#e5e5e5"/><stop offset="0.096" stop-color="#e8e8e8"/><stop offset="0.147" stop-color="#dddddd"/><stop offset="0.181" stop-color="#cacaca"/><stop offset="0.210" stop-color="#a7a7a7"/><stop offset="0.232" stop-color="#a2a2a2"/><stop offset="0.238" stop-color="#9a9a9a"/><stop offset="0.255" stop-color="#808080"/><stop offset="0.272" stop-color="#434343"/><stop offset="0.278" stop-color="#363636"/><stop offset="0.289" stop-color="#343434"/><stop offset="0.306" stop-color="#5a5a5a"/><stop offset="0.323" stop-color="#919191"/><stop offset="0.346" stop-color="#b2b2b2"/><stop offset="0.402" stop-color="#cecece"/><stop offset="0.487" stop-color="#d6d6d6"/><stop offset="0.567" stop-color="#cccccc"/><stop offset="0.595" stop-color="#afafaf"/><stop offset="0.629" stop-color="#636363"/><stop offset="0.635" stop-color="#626262"/><stop offset="0.646" stop-color="#6e6e6e"/><stop offset="0.686" stop-color="#afafaf"/><stop offset="0.754" stop-color="#d7d7d7"/><stop offset="0.822" stop-color="#e9e9e9"/><stop offset="0.997" stop-color="#ededed"/></linearGradient>
<linearGradient id="ga111" gradientUnits="userSpaceOnUse" x1="334.5" y1="0" x2="511" y2="0"><stop offset="0.000" stop-color="#e5e5e5"/><stop offset="0.091" stop-color="#e9e9e9"/><stop offset="0.147" stop-color="#dddddd"/><stop offset="0.176" stop-color="#cdcdcd"/><stop offset="0.204" stop-color="#acacac"/><stop offset="0.232" stop-color="#9e9e9e"/><stop offset="0.244" stop-color="#8e8e8e"/><stop offset="0.255" stop-color="#787878"/><stop offset="0.272" stop-color="#3c3c3c"/><stop offset="0.278" stop-color="#343434"/><stop offset="0.283" stop-color="#333333"/><stop offset="0.289" stop-color="#383838"/><stop offset="0.300" stop-color="#505050"/><stop offset="0.317" stop-color="#888888"/><stop offset="0.323" stop-color="#949494"/><stop offset="0.346" stop-color="#b5b5b5"/><stop offset="0.402" stop-color="#cfcfcf"/><stop offset="0.482" stop-color="#d7d7d7"/><stop offset="0.567" stop-color="#cecece"/><stop offset="0.595" stop-color="#b3b3b3"/><stop offset="0.629" stop-color="#686868"/><stop offset="0.635" stop-color="#606060"/><stop offset="0.652" stop-color="#747474"/><stop offset="0.669" stop-color="#939393"/><stop offset="0.691" stop-color="#b2b2b2"/><stop offset="0.742" stop-color="#d1d1d1"/><stop offset="0.776" stop-color="#dfdfdf"/><stop offset="0.822" stop-color="#e9e9e9"/><stop offset="0.997" stop-color="#ededed"/></linearGradient>
<linearGradient id="ga112" gradientUnits="userSpaceOnUse" x1="334.5" y1="0" x2="511" y2="0"><stop offset="0.000" stop-color="#e4e4e4"/><stop offset="0.091" stop-color="#e8e8e8"/><stop offset="0.147" stop-color="#dcdcdc"/><stop offset="0.176" stop-color="#cbcbcb"/><stop offset="0.204" stop-color="#a9a9a9"/><stop offset="0.227" stop-color="#a1a1a1"/><stop offset="0.244" stop-color="#8a8a8a"/><stop offset="0.249" stop-color="#818181"/><stop offset="0.266" stop-color="#444444"/><stop offset="0.272" stop-color="#373737"/><stop offset="0.283" stop-color="#323232"/><stop offset="0.300" stop-color="#555555"/><stop offset="0.317" stop-color="#8f8f8f"/><stop offset="0.346" stop-color="#b8b8b8"/><stop offset="0.402" stop-color="#d0d0d0"/><stop offset="0.482" stop-color="#d7d7d7"/><stop offset="0.567" stop-color="#cfcfcf"/><stop offset="0.595" stop-color="#b7b7b7"/><stop offset="0.635" stop-color="#606060"/><stop offset="0.652" stop-color="#707070"/><stop offset="0.669" stop-color="#909090"/><stop offset="0.691" stop-color="#b2b2b2"/><stop offset="0.708" stop-color="#b8b8b8"/><stop offset="0.742" stop-color="#d0d0d0"/><stop offset="0.782" stop-color="#e0e0e0"/><stop offset="0.827" stop-color="#e9e9e9"/><stop offset="0.997" stop-color="#ececec"/></linearGradient>
<linearGradient id="ga113" gradientUnits="userSpaceOnUse" x1="334.5" y1="0" x2="511" y2="0"><stop offset="0.000" stop-color="#e4e4e4"/><stop offset="0.091" stop-color="#e8e8e8"/><stop offset="0.142" stop-color="#dddddd"/><stop offset="0.176" stop-color="#cacaca"/><stop offset="0.204" stop-color="#a8a8a8"/><stop offset="0.227" stop-color="#9e9e9e"/><stop offset="0.244" stop-color="#868686"/><stop offset="0.249" stop-color="#7a7a7a"/><stop offset="0.266" stop-color="#3d3d3d"/><stop offset="0.272" stop-color="#343434"/><stop offset="0.278" stop-color="#323232"/><stop offset="0.283" stop-color="#343434"/><stop offset="0.295" stop-color="#4d4d4d"/><stop offset="0.317" stop-color="#929292"/><stop offset="0.340" stop-color="#b3b3b3"/><stop offset="0.402" stop-color="#d0d0d0"/><stop offset="0.482" stop-color="#d8d8d8"/><stop offset="0.567" stop-color="#d0d0d0"/><stop offset="0.595" stop-color="#b9b9b9"/><stop offset="0.635" stop-color="#646464"/><stop offset="0.640" stop-color="#626262"/><stop offset="0.652" stop-color="#6e6e6e"/><stop offset="0.691" stop-color="#afafaf"/><stop offset="0.742" stop-color="#cfcfcf"/><stop offset="0.782" stop-color="#dfdfdf"/><stop offset="0.827" stop-color="#e8e8e8"/><stop offset="0.997" stop-color="#ececec"/></linearGradient>
<linearGradient id="ga114" gradientUnits="userSpaceOnUse" x1="334.5" y1="0" x2="511" y2="0"><stop offset="0.000" stop-color="#e4e4e4"/><stop offset="0.091" stop-color="#e7e7e7"/><stop offset="0.142" stop-color="#dcdcdc"/><stop offset="0.176" stop-color="#c9c9c9"/><stop offset="0.198" stop-color="#aaaaaa"/><stop offset="0.221" stop-color="#a1a1a1"/><stop offset="0.244" stop-color="#828282"/><stop offset="0.261" stop-color="#454545"/><stop offset="0.266" stop-color="#373737"/><stop offset="0.278" stop-color="#313131"/><stop offset="0.295" stop-color="#525252"/><stop offset="0.312" stop-color="#8a8a8a"/><stop offset="0.340" stop-color="#b5b5b5"/><stop offset="0.397" stop-color="#cfcfcf"/><stop offset="0.487" stop-color="#d8d8d8"/><stop offset="0.572" stop-color="#cecece"/><stop offset="0.601" stop-color="#b4b4b4"/><stop offset="0.640" stop-color="#606060"/><stop offset="0.657" stop-color="#737373"/><stop offset="0.674" stop-color="#929292"/><stop offset="0.697" stop-color="#b3b3b3"/><stop offset="0.714" stop-color="#b9b9b9"/><stop offset="0.748" stop-color="#d1d1d1"/><stop offset="0.782" stop-color="#dedede"/><stop offset="0.827" stop-color="#e8e8e8"/><stop offset="0.997" stop-color="#ececec"/></linearGradient>
<linearGradient id="ga115" gradientUnits="userSpaceOnUse" x1="334.5" y1="0" x2="511" y2="0"><stop offset="0.000" stop-color="#e4e4e4"/><stop offset="0.085" stop-color="#e8e8e8"/><stop offset="0.142" stop-color="#dcdcdc"/><stop offset="0.170" stop-color="#cbcbcb"/><stop offset="0.198" stop-color="#a8a8a8"/><stop offset="0.221" stop-color="#9e9e9e"/><stop offset="0.238" stop-color="#868686"/><stop offset="0.244" stop-color="#7b7b7b"/><stop offset="0.261" stop-color="#3d3d3d"/><stop offset="0.266" stop-color="#343434"/><stop offset="0.272" stop-color="#323232"/><stop offset="0.278" stop-color="#333333"/><stop offset="0.295" stop-color="#585858"/><stop offset="0.312" stop-color="#919191"/><stop offset="0.340" stop-color="#b8b8b8"/><stop offset="0.397" stop-color="#d0d0d0"/><stop offset="0.487" stop-color="#d8d8d8"/><stop offset="0.572" stop-color="#cfcfcf"/><stop offset="0.601" stop-color="#b7b7b7"/><stop offset="0.640" stop-color="#616161"/><stop offset="0.657" stop-color="#6f6f6f"/><stop offset="0.697" stop-color="#b0b0b0"/><stop offset="0.748" stop-color="#cfcfcf"/><stop offset="0.788" stop-color="#e0e0e0"/><stop offset="0.827" stop-color="#e8e8e8"/><stop offset="0.997" stop-color="#ececec"/></linearGradient>
<linearGradient id="ga116" gradientUnits="userSpaceOnUse" x1="334.5" y1="0" x2="511" y2="0"><stop offset="0.000" stop-color="#e4e4e4"/><stop offset="0.085" stop-color="#e8e8e8"/><stop offset="0.136" stop-color="#dddddd"/><stop offset="0.170" stop-color="#c9c9c9"/><stop offset="0.193" stop-color="#aaaaaa"/><stop offset="0.215" stop-color="#a1a1a1"/><stop offset="0.238" stop-color="#828282"/><stop offset="0.255" stop-color="#454545"/><stop offset="0.261" stop-color="#373737"/><stop offset="0.272" stop-color="#313131"/><stop offset="0.289" stop-color="#505050"/><stop offset="0.312" stop-color="#949494"/><stop offset="0.334" stop-color="#b3b3b3"/><stop offset="0.397" stop-color="#d0d0d0"/><stop offset="0.487" stop-color="#d8d8d8"/><stop offset="0.572" stop-color="#d0d0d0"/><stop offset="0.601" stop-color="#b9b9b9"/><stop offset="0.640" stop-color="#656565"/><stop offset="0.646" stop-color="#616161"/><stop offset="0.663" stop-color="#757575"/><stop offset="0.703" stop-color="#b3b3b3"/><stop offset="0.720" stop-color="#b9b9b9"/><stop offset="0.754" stop-color="#d1d1d1"/><stop offset="0.788" stop-color="#dfdfdf"/><stop offset="0.833" stop-color="#e8e8e8"/><stop offset="0.997" stop-color="#ececec"/></linearGradient>
<linearGradient id="ga117" gradientUnits="userSpaceOnUse" x1="334.5" y1="0" x2="511" y2="0"><stop offset="0.000" stop-color="#e4e4e4"/><stop offset="0.085" stop-color="#e8e8e8"/><stop offset="0.136" stop-color="#dcdcdc"/><stop offset="0.170" stop-color="#c8c8c8"/><stop offset="0.193" stop-color="#a8a8a8"/><stop offset="0.215" stop-color="#9e9e9e"/><stop offset="0.232" stop-color="#868686"/><stop offset="0.238" stop-color="#7b7b7b"/><stop offset="0.255" stop-color="#3d3d3d"/><stop offset="0.261" stop-color="#343434"/><stop offset="0.266" stop-color="#323232"/><stop offset="0.272" stop-color="#323232"/><stop offset="0.289" stop-color="#555555"/><stop offset="0.306" stop-color="#8e8e8e"/><stop offset="0.334" stop-color="#b5b5b5"/><stop offset="0.397" stop-color="#d0d0d0"/><stop offset="0.487" stop-color="#d8d8d8"/><stop offset="0.572" stop-color="#d0d0d0"/><stop offset="0.606" stop-color="#b2b2b2"/><stop offset="0.646" stop-color="#606060"/><stop offset="0.663" stop-color="#717171"/><stop offset="0.703" stop-color="#b0b0b0"/><stop offset="0.754" stop-color="#d0d0d0"/><stop offset="0.788" stop-color="#dedede"/><stop offset="0.833" stop-color="#e8e8e8"/><stop offset="0.997" stop-color="#ececec"/></linearGradient><linearGradient id="gs0" gradientUnits="userSpaceOnUse" x1="31.5" y1="0" x2="210.5" y2="0"><stop offset="0.000" stop-color="#f0f0f0"/><stop offset="0.279" stop-color="#f0f0f0"/><stop offset="0.335" stop-color="#e6e6e6"/><stop offset="0.374" stop-color="#cccccc"/><stop offset="0.397" stop-color="#9a9a9a"/><stop offset="0.413" stop-color="#5d5d5d"/><stop offset="0.430" stop-color="#2e2e2e"/><stop offset="0.447" stop-color="#101010"/><stop offset="0.453" stop-color="#0d0d0d"/><stop offset="0.458" stop-color="#1a1a1a"/><stop offset="0.469" stop-color="#232323"/><stop offset="0.486" stop-color="#5c5c5c"/><stop offset="0.503" stop-color="#888888"/><stop offset="0.508" stop-color="#929292"/><stop offset="0.542" stop-color="#a7a7a7"/><stop offset="0.559" stop-color="#949494"/><stop offset="0.564" stop-color="#888888"/><stop offset="0.581" stop-color="#4f4f4f"/><stop offset="0.598" stop-color="#232323"/><stop offset="0.609" stop-color="#1b1b1b"/><stop offset="0.615" stop-color="#2e2e2e"/><stop offset="0.626" stop-color="#313131"/><stop offset="0.659" stop-color="#919191"/><stop offset="0.682" stop-color="#c1c1c1"/><stop offset="0.709" stop-color="#e0e0e0"/><stop offset="0.777" stop-color="#f0f0f0"/><stop offset="1.000" stop-color="#f0f0f0"/></linearGradient>
<linearGradient id="gs1" gradientUnits="userSpaceOnUse" x1="31.5" y1="0" x2="210.5" y2="0"><stop offset="0.000" stop-color="#f0f0f0"/><stop offset="0.279" stop-color="#f0f0f0"/><stop offset="0.335" stop-color="#e6e6e6"/><stop offset="0.369" stop-color="#d2d2d2"/><stop offset="0.374" stop-color="#cacaca"/><stop offset="0.391" stop-color="#a6a6a6"/><stop offset="0.413" stop-color="#595959"/><stop offset="0.425" stop-color="#3a3a3a"/><stop offset="0.441" stop-color="#171717"/><stop offset="0.453" stop-color="#080808"/><stop offset="0.458" stop-color="#191919"/><stop offset="0.469" stop-color="#212121"/><stop offset="0.486" stop-color="#5b5b5b"/><stop offset="0.503" stop-color="#888888"/><stop offset="0.508" stop-color="#929292"/><stop offset="0.542" stop-color="#a8a8a8"/><stop offset="0.559" stop-color="#939393"/><stop offset="0.581" stop-color="#4b4b4b"/><stop offset="0.598" stop-color="#202020"/><stop offset="0.609" stop-color="#1a1a1a"/><stop offset="0.615" stop-color="#2e2e2e"/><stop offset="0.626" stop-color="#323232"/><stop offset="0.659" stop-color="#929292"/><stop offset="0.682" stop-color="#c1c1c1"/><stop offset="0.709" stop-color="#e0e0e0"/><stop offset="0.777" stop-color="#f0f0f0"/><stop offset="1.000" stop-color="#f0f0f0"/></linearGradient>
<linearGradient id="gs2" gradientUnits="userSpaceOnUse" x1="31.5" y1="0" x2="210.5" y2="0"><stop offset="0.000" stop-color="#f0f0f0"/><stop offset="0.279" stop-color="#f0f0f0"/><stop offset="0.335" stop-color="#e5e5e5"/><stop offset="0.369" stop-color="#d1d1d1"/><stop offset="0.374" stop-color="#c8c8c8"/><stop offset="0.391" stop-color="#a4a4a4"/><stop offset="0.408" stop-color="#686868"/><stop offset="0.425" stop-color="#373737"/><stop offset="0.441" stop-color="#151515"/><stop offset="0.453" stop-color="#090909"/><stop offset="0.458" stop-color="#191919"/><stop offset="0.469" stop-color="#202020"/><stop offset="0.486" stop-color="#5a5a5a"/><stop offset="0.503" stop-color="#888888"/><stop offset="0.508" stop-color="#929292"/><stop offset="0.542" stop-color="#a8a8a8"/><stop offset="0.559" stop-color="#929292"/><stop offset="0.575" stop-color="#595959"/><stop offset="0.592" stop-color="#2a2a2a"/><stop offset="0.598" stop-color="#202020"/><stop offset="0.609" stop-color="#191919"/><stop offset="0.615" stop-color="#2e2e2e"/><stop offset="0.626" stop-color="#333333"/><stop offset="0.659" stop-color="#939393"/><stop offset="0.676" stop-color="#b7b7b7"/><stop offset="0.682" stop-color="#c2c2c2"/><stop offset="0.709" stop-color="#e0e0e0"/><stop offset="0.777" stop-color="#f0f0f0"/><stop offset="1.000" stop-color="#f0f0f0"/></linearGradient>
<linearGradient id="gs3" gradientUnits="userSpaceOnUse" x1="31.5" y1="0" x2="210.5" y2="0"><stop offset="0.000" stop-color="#f0f0f0"/><stop offset="0.279" stop-color="#f0f0f0"/><stop offset="0.330" stop-color="#e8e8e8"/><stop offset="0.369" stop-color="#d0d0d0"/><stop offset="0.391" stop-color="#a2a2a2"/><stop offset="0.408" stop-color="#646464"/><stop offset="0.425" stop-color="#333333"/><stop offset="0.441" stop-color="#131313"/><stop offset="0.453" stop-color="#090909"/><stop offset="0.458" stop-color="#191919"/><stop offset="0.469" stop-color="#1f1f1f"/><stop offset="0.486" stop-color="#595959"/><stop offset="0.503" stop-color="#888888"/><stop offset="0.520" stop-color="#9c9c9c"/><stop offset="0.536" stop-color="#a6a6a6"/><stop offset="0.542" stop-color="#a7a7a7"/><stop offset="0.559" stop-color="#919191"/><stop offset="0.575" stop-color="#555555"/><stop offset="0.592" stop-color="#272727"/><stop offset="0.609" stop-color="#181818"/><stop offset="0.615" stop-color="#2e2e2e"/><stop offset="0.626" stop-color="#343434"/><stop offset="0.659" stop-color="#939393"/><stop offset="0.676" stop-color="#b7b7b7"/><stop offset="0.682" stop-color="#c2c2c2"/><stop offset="0.709" stop-color="#e1e1e1"/><stop offset="0.777" stop-color="#f0f0f0"/><stop offset="1.000" stop-color="#f0f0f0"/></linearGradient>
<linearGradient id="gs4" gradientUnits="userSpaceOnUse" x1="31.5" y1="0" x2="210.5" y2="0"><stop offset="0.000" stop-color="#f0f0f0"/><stop offset="0.274" stop-color="#f0f0f0"/><stop offset="0.330" stop-color="#e8e8e8"/><stop offset="0.369" stop-color="#cfcfcf"/><stop offset="0.391" stop-color="#9f9f9f"/><stop offset="0.408" stop-color="#606060"/><stop offset="0.425" stop-color="#303030"/><stop offset="0.441" stop-color="#101010"/><stop offset="0.453" stop-color="#090909"/><stop offset="0.458" stop-color="#181818"/><stop offset="0.469" stop-color="#1f1f1f"/><stop offset="0.486" stop-color="#585858"/><stop offset="0.503" stop-color="#888888"/><stop offset="0.508" stop-color="#929292"/><stop offset="0.520" stop-color="#9d9d9d"/><stop offset="0.536" stop-color="#a6a6a6"/><stop offset="0.542" stop-color="#a6a6a6"/><stop offset="0.559" stop-color="#8e8e8e"/><stop offset="0.575" stop-color="#515151"/><stop offset="0.592" stop-color="#232323"/><stop offset="0.609" stop-color="#1c1c1c"/><stop offset="0.615" stop-color="#2e2e2e"/><stop offset="0.626" stop-color="#353535"/><stop offset="0.659" stop-color="#949494"/><stop offset="0.676" stop-color="#b8b8b8"/><stop offset="0.709" stop-color="#e1e1e1"/><stop offset="0.777" stop-color="#f0f0f0"/><stop offset="1.000" stop-color="#f0f0f0"/></linearGradient>
<linearGradient id="gs5" gradientUnits="userSpaceOnUse" x1="31.5" y1="0" x2="210.5" y2="0"><stop offset="0.000" stop-color="#f0f0f0"/><stop offset="0.274" stop-color="#f0f0f0"/><stop offset="0.330" stop-color="#e7e7e7"/><stop offset="0.369" stop-color="#cdcdcd"/><stop offset="0.391" stop-color="#9b9b9b"/><stop offset="0.408" stop-color="#5d5d5d"/><stop offset="0.425" stop-color="#2e2e2e"/><stop offset="0.441" stop-color="#101010"/><stop offset="0.453" stop-color="#090909"/><stop offset="0.458" stop-color="#181818"/><stop offset="0.469" stop-color="#1f1f1f"/><stop offset="0.475" stop-color="#2d2d2d"/><stop offset="0.492" stop-color="#696969"/><stop offset="0.508" stop-color="#939393"/><stop offset="0.536" stop-color="#a6a6a6"/><stop offset="0.542" stop-color="#a5a5a5"/><stop offset="0.559" stop-color="#8b8b8b"/><stop offset="0.575" stop-color="#4d4d4d"/><stop offset="0.592" stop-color="#202020"/><stop offset="0.603" stop-color="#1b1b1b"/><stop offset="0.609" stop-color="#1f1f1f"/><stop offset="0.615" stop-color="#2e2e2e"/><stop offset="0.626" stop-color="#363636"/><stop offset="0.654" stop-color="#868686"/><stop offset="0.676" stop-color="#b9b9b9"/><stop offset="0.709" stop-color="#e1e1e1"/><stop offset="0.777" stop-color="#f0f0f0"/><stop offset="1.000" stop-color="#f0f0f0"/></linearGradient>
<linearGradient id="gs6" gradientUnits="userSpaceOnUse" x1="31.5" y1="0" x2="210.5" y2="0"><stop offset="0.000" stop-color="#f0f0f0"/><stop offset="0.274" stop-color="#f0f0f0"/><stop offset="0.330" stop-color="#e7e7e7"/><stop offset="0.369" stop-color="#cbcbcb"/><stop offset="0.391" stop-color="#979797"/><stop offset="0.408" stop-color="#5a5a5a"/><stop offset="0.425" stop-color="#2c2c2c"/><stop offset="0.436" stop-color="#161616"/><stop offset="0.453" stop-color="#0a0a0a"/><stop offset="0.458" stop-color="#171717"/><stop offset="0.469" stop-color="#1e1e1e"/><stop offset="0.475" stop-color="#2c2c2c"/><stop offset="0.492" stop-color="#686868"/><stop offset="0.503" stop-color="#888888"/><stop offset="0.508" stop-color="#939393"/><stop offset="0.536" stop-color="#a7a7a7"/><stop offset="0.542" stop-color="#a4a4a4"/><stop offset="0.553" stop-color="#959595"/><stop offset="0.559" stop-color="#878787"/><stop offset="0.575" stop-color="#4a4a4a"/><stop offset="0.587" stop-color="#2a2a2a"/><stop offset="0.592" stop-color="#202020"/><stop offset="0.603" stop-color="#1a1a1a"/><stop offset="0.615" stop-color="#2f2f2f"/><stop offset="0.620" stop-color="#2f2f2f"/><stop offset="0.626" stop-color="#373737"/><stop offset="0.654" stop-color="#878787"/><stop offset="0.676" stop-color="#bababa"/><stop offset="0.709" stop-color="#e1e1e1"/><stop offset="0.777" stop-color="#f0f0f0"/><stop offset="1.000" stop-color="#f0f0f0"/></linearGradient>
<linearGradient id="gs7" gradientUnits="userSpaceOnUse" x1="31.5" y1="0" x2="210.5" y2="0"><stop offset="0.000" stop-color="#f0f0f0"/><stop offset="0.274" stop-color="#f0f0f0"/><stop offset="0.324" stop-color="#e8e8e8"/><stop offset="0.363" stop-color="#d1d1d1"/><stop offset="0.385" stop-color="#a3a3a3"/><stop offset="0.402" stop-color="#666666"/><stop offset="0.419" stop-color="#353535"/><stop offset="0.436" stop-color="#141414"/><stop offset="0.453" stop-color="#101010"/><stop offset="0.458" stop-color="#111111"/><stop offset="0.475" stop-color="#262626"/><stop offset="0.492" stop-color="#636363"/><stop offset="0.508" stop-color="#8f8f8f"/><stop offset="0.536" stop-color="#a2a2a2"/><stop offset="0.553" stop-color="#8f8f8f"/><stop offset="0.570" stop-color="#565656"/><stop offset="0.587" stop-color="#252525"/><stop offset="0.603" stop-color="#212121"/><stop offset="0.609" stop-color="#242424"/><stop offset="0.615" stop-color="#313131"/><stop offset="0.626" stop-color="#363636"/><stop offset="0.659" stop-color="#949494"/><stop offset="0.682" stop-color="#c2c2c2"/><stop offset="0.709" stop-color="#e0e0e0"/><stop offset="0.777" stop-color="#f0f0f0"/><stop offset="1.000" stop-color="#f0f0f0"/></linearGradient>
<linearGradient id="gs8" gradientUnits="userSpaceOnUse" x1="31.5" y1="0" x2="210.5" y2="0"><stop offset="0.000" stop-color="#f0f0f0"/><stop offset="0.268" stop-color="#efefef"/><stop offset="0.324" stop-color="#e6e6e6"/><stop offset="0.363" stop-color="#cbcbcb"/><stop offset="0.380" stop-color="#aaaaaa"/><stop offset="0.408" stop-color="#4e4e4e"/><stop offset="0.430" stop-color="#1d1d1d"/><stop offset="0.441" stop-color="#191919"/><stop offset="0.453" stop-color="#1e1e1e"/><stop offset="0.458" stop-color="#171717"/><stop offset="0.475" stop-color="#252525"/><stop offset="0.480" stop-color="#323232"/><stop offset="0.492" stop-color="#5a5a5a"/><stop offset="0.508" stop-color="#878787"/><stop offset="0.525" stop-color="#959595"/><stop offset="0.536" stop-color="#999999"/><stop offset="0.553" stop-color="#858585"/><stop offset="0.570" stop-color="#4c4c4c"/><stop offset="0.581" stop-color="#2f2f2f"/><stop offset="0.587" stop-color="#242424"/><stop offset="0.592" stop-color="#242424"/><stop offset="0.626" stop-color="#393939"/><stop offset="0.631" stop-color="#424242"/><stop offset="0.659" stop-color="#8e8e8e"/><stop offset="0.682" stop-color="#bebebe"/><stop offset="0.715" stop-color="#e0e0e0"/><stop offset="0.777" stop-color="#eeeeee"/><stop offset="1.000" stop-color="#f0f0f0"/></linearGradient>
<linearGradient id="gs9" gradientUnits="userSpaceOnUse" x1="31.5" y1="0" x2="210.5" y2="0"><stop offset="0.000" stop-color="#efefef"/><stop offset="0.235" stop-color="#efefef"/><stop offset="0.318" stop-color="#e6e6e6"/><stop offset="0.352" stop-color="#d3d3d3"/><stop offset="0.363" stop-color="#c6c6c6"/><stop offset="0.380" stop-color="#a4a4a4"/><stop offset="0.402" stop-color="#585858"/><stop offset="0.413" stop-color="#3c3c3c"/><stop offset="0.425" stop-color="#262626"/><stop offset="0.436" stop-color="#1d1d1d"/><stop offset="0.453" stop-color="#2c2c2c"/><stop offset="0.464" stop-color="#1e1e1e"/><stop offset="0.480" stop-color="#2b2b2b"/><stop offset="0.497" stop-color="#616161"/><stop offset="0.508" stop-color="#7e7e7e"/><stop offset="0.520" stop-color="#8a8a8a"/><stop offset="0.536" stop-color="#909090"/><stop offset="0.553" stop-color="#7b7b7b"/><stop offset="0.570" stop-color="#454545"/><stop offset="0.581" stop-color="#2a2a2a"/><stop offset="0.587" stop-color="#252525"/><stop offset="0.603" stop-color="#3a3a3a"/><stop offset="0.626" stop-color="#3d3d3d"/><stop offset="0.631" stop-color="#414141"/><stop offset="0.665" stop-color="#979797"/><stop offset="0.687" stop-color="#c3c3c3"/><stop offset="0.715" stop-color="#dfdfdf"/><stop offset="0.777" stop-color="#ededed"/><stop offset="1.000" stop-color="#efefef"/></linearGradient>
<linearGradient id="gs10" gradientUnits="userSpaceOnUse" x1="31.5" y1="0" x2="210.5" y2="0"><stop offset="0.000" stop-color="#efefef"/><stop offset="0.229" stop-color="#eeeeee"/><stop offset="0.313" stop-color="#e6e6e6"/><stop offset="0.358" stop-color="#cbcbcb"/><stop offset="0.374" stop-color="#adadad"/><stop offset="0.402" stop-color="#525252"/><stop offset="0.425" stop-color="#262626"/><stop offset="0.436" stop-color="#262626"/><stop offset="0.453" stop-color="#393939"/><stop offset="0.469" stop-color="#242424"/><stop offset="0.480" stop-color="#2b2b2b"/><stop offset="0.486" stop-color="#363636"/><stop offset="0.497" stop-color="#595959"/><stop offset="0.508" stop-color="#747474"/><stop offset="0.514" stop-color="#7e7e7e"/><stop offset="0.525" stop-color="#858585"/><stop offset="0.536" stop-color="#868686"/><stop offset="0.547" stop-color="#797979"/><stop offset="0.553" stop-color="#6f6f6f"/><stop offset="0.570" stop-color="#3f3f3f"/><stop offset="0.581" stop-color="#292929"/><stop offset="0.592" stop-color="#313131"/><stop offset="0.603" stop-color="#474747"/><stop offset="0.626" stop-color="#3f3f3f"/><stop offset="0.637" stop-color="#4b4b4b"/><stop offset="0.665" stop-color="#929292"/><stop offset="0.693" stop-color="#c8c8c8"/><stop offset="0.715" stop-color="#dcdcdc"/><stop offset="0.732" stop-color="#e4e4e4"/><stop offset="0.782" stop-color="#ededed"/><stop offset="1.000" stop-color="#efefef"/></linearGradient>
<linearGradient id="gs11" gradientUnits="userSpaceOnUse" x1="31.5" y1="0" x2="210.5" y2="0"><stop offset="0.000" stop-color="#efefef"/><stop offset="0.229" stop-color="#eeeeee"/><stop offset="0.313" stop-color="#e4e4e4"/><stop offset="0.346" stop-color="#d3d3d3"/><stop offset="0.358" stop-color="#c6c6c6"/><stop offset="0.374" stop-color="#a7a7a7"/><stop offset="0.397" stop-color="#5c5c5c"/><stop offset="0.419" stop-color="#2d2d2d"/><stop offset="0.430" stop-color="#292929"/><stop offset="0.441" stop-color="#3d3d3d"/><stop offset="0.453" stop-color="#464646"/><stop offset="0.475" stop-color="#282828"/><stop offset="0.486" stop-color="#323232"/><stop offset="0.514" stop-color="#767676"/><stop offset="0.525" stop-color="#7d7d7d"/><stop offset="0.542" stop-color="#787878"/><stop offset="0.553" stop-color="#646464"/><stop offset="0.564" stop-color="#454545"/><stop offset="0.575" stop-color="#2f2f2f"/><stop offset="0.581" stop-color="#2a2a2a"/><stop offset="0.592" stop-color="#3a3a3a"/><stop offset="0.603" stop-color="#535353"/><stop offset="0.631" stop-color="#464646"/><stop offset="0.642" stop-color="#575757"/><stop offset="0.670" stop-color="#9a9a9a"/><stop offset="0.693" stop-color="#c5c5c5"/><stop offset="0.715" stop-color="#dadada"/><stop offset="0.737" stop-color="#e5e5e5"/><stop offset="0.782" stop-color="#ebebeb"/><stop offset="1.000" stop-color="#efefef"/></linearGradient>
<linearGradient id="gs12" gradientUnits="userSpaceOnUse" x1="31.5" y1="0" x2="210.5" y2="0"><stop offset="0.000" stop-color="#efefef"/><stop offset="0.223" stop-color="#ededed"/><stop offset="0.307" stop-color="#e5e5e5"/><stop offset="0.346" stop-color="#d1d1d1"/><stop offset="0.363" stop-color="#b9b9b9"/><stop offset="0.374" stop-color="#a2a2a2"/><stop offset="0.391" stop-color="#656565"/><stop offset="0.413" stop-color="#343434"/><stop offset="0.425" stop-color="#303030"/><stop offset="0.430" stop-color="#333333"/><stop offset="0.441" stop-color="#4a4a4a"/><stop offset="0.453" stop-color="#535353"/><stop offset="0.480" stop-color="#2a2a2a"/><stop offset="0.492" stop-color="#3a3a3a"/><stop offset="0.503" stop-color="#575757"/><stop offset="0.520" stop-color="#767676"/><stop offset="0.536" stop-color="#747474"/><stop offset="0.542" stop-color="#6e6e6e"/><stop offset="0.564" stop-color="#3f3f3f"/><stop offset="0.575" stop-color="#2e2e2e"/><stop offset="0.581" stop-color="#303030"/><stop offset="0.592" stop-color="#434343"/><stop offset="0.603" stop-color="#606060"/><stop offset="0.609" stop-color="#616161"/><stop offset="0.631" stop-color="#484848"/><stop offset="0.642" stop-color="#565656"/><stop offset="0.676" stop-color="#a1a1a1"/><stop offset="0.698" stop-color="#cacaca"/><stop offset="0.737" stop-color="#e3e3e3"/><stop offset="0.788" stop-color="#ebebeb"/><stop offset="1.000" stop-color="#efefef"/></linearGradient>
<linearGradient id="gs13" gradientUnits="userSpaceOnUse" x1="31.5" y1="0" x2="210.5" y2="0"><stop offset="0.000" stop-color="#eeeeee"/><stop offset="0.223" stop-color="#ededed"/><stop offset="0.302" stop-color="#e5e5e5"/><stop offset="0.346" stop-color="#cfcfcf"/><stop offset="0.358" stop-color="#bfbfbf"/><stop offset="0.369" stop-color="#acacac"/><stop offset="0.385" stop-color="#707070"/><stop offset="0.391" stop-color="#616161"/><stop offset="0.408" stop-color="#3d3d3d"/><stop offset="0.413" stop-color="#393939"/><stop offset="0.425" stop-color="#343434"/><stop offset="0.441" stop-color="#565656"/><stop offset="0.453" stop-color="#606060"/><stop offset="0.458" stop-color="#5c5c5c"/><stop offset="0.480" stop-color="#343434"/><stop offset="0.486" stop-color="#2f2f2f"/><stop offset="0.514" stop-color="#656565"/><stop offset="0.520" stop-color="#6e6e6e"/><stop offset="0.525" stop-color="#6f6f6f"/><stop offset="0.542" stop-color="#656565"/><stop offset="0.559" stop-color="#434343"/><stop offset="0.575" stop-color="#2e2e2e"/><stop offset="0.592" stop-color="#4d4d4d"/><stop offset="0.603" stop-color="#6c6c6c"/><stop offset="0.609" stop-color="#6f6f6f"/><stop offset="0.620" stop-color="#666666"/><stop offset="0.637" stop-color="#4d4d4d"/><stop offset="0.648" stop-color="#606060"/><stop offset="0.676" stop-color="#9e9e9e"/><stop offset="0.704" stop-color="#cfcfcf"/><stop offset="0.743" stop-color="#e4e4e4"/><stop offset="0.788" stop-color="#eaeaea"/><stop offset="1.000" stop-color="#eeeeee"/></linearGradient>
<linearGradient id="gs14" gradientUnits="userSpaceOnUse" x1="31.5" y1="0" x2="210.5" y2="0"><stop offset="0.000" stop-color="#eeeeee"/><stop offset="0.218" stop-color="#ececec"/><stop offset="0.302" stop-color="#e3e3e3"/><stop offset="0.341" stop-color="#d1d1d1"/><stop offset="0.363" stop-color="#b4b4b4"/><stop offset="0.369" stop-color="#a5a5a5"/><stop offset="0.385" stop-color="#6a6a6a"/><stop offset="0.402" stop-color="#464646"/><stop offset="0.408" stop-color="#404040"/><stop offset="0.419" stop-color="#3b3b3b"/><stop offset="0.425" stop-color="#404040"/><stop offset="0.436" stop-color="#5a5a5a"/><stop offset="0.453" stop-color="#6d6d6d"/><stop offset="0.458" stop-color="#6b6b6b"/><stop offset="0.486" stop-color="#353535"/><stop offset="0.492" stop-color="#353535"/><stop offset="0.520" stop-color="#666666"/><stop offset="0.525" stop-color="#686868"/><stop offset="0.536" stop-color="#626262"/><stop offset="0.559" stop-color="#3d3d3d"/><stop offset="0.570" stop-color="#333333"/><stop offset="0.575" stop-color="#353535"/><stop offset="0.592" stop-color="#585858"/><stop offset="0.603" stop-color="#787878"/><stop offset="0.609" stop-color="#7d7d7d"/><stop offset="0.620" stop-color="#737373"/><stop offset="0.637" stop-color="#555555"/><stop offset="0.642" stop-color="#555555"/><stop offset="0.682" stop-color="#a5a5a5"/><stop offset="0.704" stop-color="#cbcbcb"/><stop offset="0.743" stop-color="#e3e3e3"/><stop offset="0.777" stop-color="#e8e8e8"/><stop offset="1.000" stop-color="#eeeeee"/></linearGradient>
<linearGradient id="gs15" gradientUnits="userSpaceOnUse" x1="31.5" y1="0" x2="210.5" y2="0"><stop offset="0.000" stop-color="#eeeeee"/><stop offset="0.218" stop-color="#ebebeb"/><stop offset="0.296" stop-color="#e3e3e3"/><stop offset="0.341" stop-color="#cdcdcd"/><stop offset="0.363" stop-color="#adadad"/><stop offset="0.380" stop-color="#727272"/><stop offset="0.402" stop-color="#424242"/><stop offset="0.419" stop-color="#414141"/><stop offset="0.441" stop-color="#6b6b6b"/><stop offset="0.458" stop-color="#757575"/><stop offset="0.475" stop-color="#505050"/><stop offset="0.492" stop-color="#353535"/><stop offset="0.525" stop-color="#5f5f5f"/><stop offset="0.536" stop-color="#595959"/><stop offset="0.553" stop-color="#3d3d3d"/><stop offset="0.570" stop-color="#333333"/><stop offset="0.587" stop-color="#515151"/><stop offset="0.603" stop-color="#7e7e7e"/><stop offset="0.609" stop-color="#818181"/><stop offset="0.626" stop-color="#727272"/><stop offset="0.642" stop-color="#525252"/><stop offset="0.682" stop-color="#a0a0a0"/><stop offset="0.709" stop-color="#d0d0d0"/><stop offset="0.749" stop-color="#e3e3e3"/><stop offset="1.000" stop-color="#eeeeee"/></linearGradient>
<linearGradient id="gs16" gradientUnits="userSpaceOnUse" x1="31.5" y1="0" x2="210.5" y2="0"><stop offset="0.000" stop-color="#ededed"/><stop offset="0.218" stop-color="#eaeaea"/><stop offset="0.296" stop-color="#e1e1e1"/><stop offset="0.341" stop-color="#c6c6c6"/><stop offset="0.363" stop-color="#a2a2a2"/><stop offset="0.380" stop-color="#6d6d6d"/><stop offset="0.397" stop-color="#494949"/><stop offset="0.402" stop-color="#434343"/><stop offset="0.419" stop-color="#494949"/><stop offset="0.436" stop-color="#6b6b6b"/><stop offset="0.458" stop-color="#7f7f7f"/><stop offset="0.480" stop-color="#4d4d4d"/><stop offset="0.497" stop-color="#353535"/><stop offset="0.525" stop-color="#565656"/><stop offset="0.536" stop-color="#505050"/><stop offset="0.553" stop-color="#373737"/><stop offset="0.564" stop-color="#313131"/><stop offset="0.581" stop-color="#4d4d4d"/><stop offset="0.603" stop-color="#838383"/><stop offset="0.609" stop-color="#868686"/><stop offset="0.626" stop-color="#787878"/><stop offset="0.642" stop-color="#5a5a5a"/><stop offset="0.648" stop-color="#595959"/><stop offset="0.687" stop-color="#a6a6a6"/><stop offset="0.709" stop-color="#cccccc"/><stop offset="0.749" stop-color="#e1e1e1"/><stop offset="0.821" stop-color="#e9e9e9"/><stop offset="1.000" stop-color="#ededed"/></linearGradient>
<linearGradient id="gs17" gradientUnits="userSpaceOnUse" x1="31.5" y1="0" x2="210.5" y2="0"><stop offset="0.000" stop-color="#ededed"/><stop offset="0.212" stop-color="#e9e9e9"/><stop offset="0.291" stop-color="#e0e0e0"/><stop offset="0.324" stop-color="#d1d1d1"/><stop offset="0.341" stop-color="#c0c0c0"/><stop offset="0.358" stop-color="#a6a6a6"/><stop offset="0.374" stop-color="#757575"/><stop offset="0.397" stop-color="#474747"/><stop offset="0.419" stop-color="#535353"/><stop offset="0.436" stop-color="#747474"/><stop offset="0.458" stop-color="#858585"/><stop offset="0.464" stop-color="#7c7c7c"/><stop offset="0.480" stop-color="#515151"/><stop offset="0.503" stop-color="#373737"/><stop offset="0.525" stop-color="#4c4c4c"/><stop offset="0.536" stop-color="#474747"/><stop offset="0.547" stop-color="#363636"/><stop offset="0.559" stop-color="#303030"/><stop offset="0.570" stop-color="#3c3c3c"/><stop offset="0.603" stop-color="#888888"/><stop offset="0.609" stop-color="#8a8a8a"/><stop offset="0.626" stop-color="#7e7e7e"/><stop offset="0.648" stop-color="#575757"/><stop offset="0.709" stop-color="#c9c9c9"/><stop offset="0.749" stop-color="#dfdfdf"/><stop offset="0.821" stop-color="#e9e9e9"/><stop offset="1.000" stop-color="#ededed"/></linearGradient>
<linearGradient id="gs18" gradientUnits="userSpaceOnUse" x1="31.5" y1="0" x2="210.5" y2="0"><stop offset="0.000" stop-color="#ededed"/><stop offset="0.212" stop-color="#e8e8e8"/><stop offset="0.291" stop-color="#dedede"/><stop offset="0.324" stop-color="#cdcdcd"/><stop offset="0.335" stop-color="#c1c1c1"/><stop offset="0.358" stop-color="#9e9e9e"/><stop offset="0.374" stop-color="#707070"/><stop offset="0.391" stop-color="#4d4d4d"/><stop offset="0.397" stop-color="#474747"/><stop offset="0.413" stop-color="#555555"/><stop offset="0.441" stop-color="#848484"/><stop offset="0.458" stop-color="#8c8c8c"/><stop offset="0.464" stop-color="#878787"/><stop offset="0.486" stop-color="#4e4e4e"/><stop offset="0.503" stop-color="#3c3c3c"/><stop offset="0.508" stop-color="#393939"/><stop offset="0.531" stop-color="#414141"/><stop offset="0.553" stop-color="#2f2f2f"/><stop offset="0.564" stop-color="#373737"/><stop offset="0.603" stop-color="#8b8b8b"/><stop offset="0.609" stop-color="#8f8f8f"/><stop offset="0.626" stop-color="#838383"/><stop offset="0.648" stop-color="#5f5f5f"/><stop offset="0.654" stop-color="#5c5c5c"/><stop offset="0.709" stop-color="#c6c6c6"/><stop offset="0.754" stop-color="#dfdfdf"/><stop offset="0.827" stop-color="#e9e9e9"/><stop offset="1.000" stop-color="#ededed"/></linearGradient>
<linearGradient id="gs19" gradientUnits="userSpaceOnUse" x1="31.5" y1="0" x2="210.5" y2="0"><stop offset="0.000" stop-color="#ededed"/><stop offset="0.168" stop-color="#e9e9e9"/><stop offset="0.279" stop-color="#e0e0e0"/><stop offset="0.318" stop-color="#cecece"/><stop offset="0.330" stop-color="#c2c2c2"/><stop offset="0.352" stop-color="#a0a0a0"/><stop offset="0.374" stop-color="#6b6b6b"/><stop offset="0.391" stop-color="#4b4b4b"/><stop offset="0.397" stop-color="#4a4a4a"/><stop offset="0.413" stop-color="#5d5d5d"/><stop offset="0.441" stop-color="#8c8c8c"/><stop offset="0.464" stop-color="#939393"/><stop offset="0.486" stop-color="#535353"/><stop offset="0.492" stop-color="#4c4c4c"/><stop offset="0.508" stop-color="#3d3d3d"/><stop offset="0.531" stop-color="#383838"/><stop offset="0.547" stop-color="#2f2f2f"/><stop offset="0.559" stop-color="#343434"/><stop offset="0.603" stop-color="#8f8f8f"/><stop offset="0.609" stop-color="#939393"/><stop offset="0.631" stop-color="#848484"/><stop offset="0.654" stop-color="#5c5c5c"/><stop offset="0.670" stop-color="#777777"/><stop offset="0.709" stop-color="#c2c2c2"/><stop offset="0.721" stop-color="#cecece"/><stop offset="0.754" stop-color="#dddddd"/><stop offset="0.827" stop-color="#e9e9e9"/><stop offset="1.000" stop-color="#ededed"/></linearGradient>
<linearGradient id="gs20" gradientUnits="userSpaceOnUse" x1="31.5" y1="0" x2="210.5" y2="0"><stop offset="0.000" stop-color="#ececec"/><stop offset="0.274" stop-color="#e1e1e1"/><stop offset="0.318" stop-color="#cbcbcb"/><stop offset="0.352" stop-color="#989898"/><stop offset="0.385" stop-color="#505050"/><stop offset="0.391" stop-color="#4a4a4a"/><stop offset="0.413" stop-color="#666666"/><stop offset="0.436" stop-color="#8e8e8e"/><stop offset="0.464" stop-color="#9d9d9d"/><stop offset="0.492" stop-color="#4f4f4f"/><stop offset="0.525" stop-color="#313131"/><stop offset="0.542" stop-color="#2e2e2e"/><stop offset="0.559" stop-color="#383838"/><stop offset="0.581" stop-color="#6b6b6b"/><stop offset="0.603" stop-color="#949494"/><stop offset="0.609" stop-color="#989898"/><stop offset="0.631" stop-color="#8a8a8a"/><stop offset="0.654" stop-color="#646464"/><stop offset="0.659" stop-color="#606060"/><stop offset="0.715" stop-color="#c8c8c8"/><stop offset="0.760" stop-color="#dddddd"/><stop offset="0.827" stop-color="#e8e8e8"/><stop offset="1.000" stop-color="#ececec"/></linearGradient>
<linearGradient id="gs21" gradientUnits="userSpaceOnUse" x1="31.5" y1="0" x2="210.5" y2="0"><stop offset="0.000" stop-color="#ececec"/><stop offset="0.168" stop-color="#e8e8e8"/><stop offset="0.274" stop-color="#dfdfdf"/><stop offset="0.318" stop-color="#c6c6c6"/><stop offset="0.352" stop-color="#909090"/><stop offset="0.385" stop-color="#4e4e4e"/><stop offset="0.391" stop-color="#4d4d4d"/><stop offset="0.436" stop-color="#979797"/><stop offset="0.464" stop-color="#a4a4a4"/><stop offset="0.469" stop-color="#999999"/><stop offset="0.492" stop-color="#545454"/><stop offset="0.520" stop-color="#3f3f3f"/><stop offset="0.525" stop-color="#2d2d2d"/><stop offset="0.531" stop-color="#282828"/><stop offset="0.553" stop-color="#333333"/><stop offset="0.581" stop-color="#727272"/><stop offset="0.603" stop-color="#999999"/><stop offset="0.609" stop-color="#9c9c9c"/><stop offset="0.631" stop-color="#8f8f8f"/><stop offset="0.659" stop-color="#616161"/><stop offset="0.665" stop-color="#666666"/><stop offset="0.687" stop-color="#8d8d8d"/><stop offset="0.715" stop-color="#c5c5c5"/><stop offset="0.771" stop-color="#e0e0e0"/><stop offset="0.832" stop-color="#e8e8e8"/><stop offset="1.000" stop-color="#ececec"/></linearGradient>
<linearGradient id="gs22" gradientUnits="userSpaceOnUse" x1="31.5" y1="0" x2="210.5" y2="0"><stop offset="0.000" stop-color="#ececec"/><stop offset="0.162" stop-color="#e8e8e8"/><stop offset="0.274" stop-color="#dedede"/><stop offset="0.318" stop-color="#c2c2c2"/><stop offset="0.385" stop-color="#4d4d4d"/><stop offset="0.391" stop-color="#525252"/><stop offset="0.436" stop-color="#9c9c9c"/><stop offset="0.464" stop-color="#a7a7a7"/><stop offset="0.469" stop-color="#9e9e9e"/><stop offset="0.492" stop-color="#5a5a5a"/><stop offset="0.497" stop-color="#505050"/><stop offset="0.520" stop-color="#3f3f3f"/><stop offset="0.531" stop-color="#232323"/><stop offset="0.536" stop-color="#2c2c2c"/><stop offset="0.553" stop-color="#373737"/><stop offset="0.581" stop-color="#767676"/><stop offset="0.603" stop-color="#9a9a9a"/><stop offset="0.609" stop-color="#9f9f9f"/><stop offset="0.637" stop-color="#8c8c8c"/><stop offset="0.659" stop-color="#666666"/><stop offset="0.665" stop-color="#626262"/><stop offset="0.721" stop-color="#c8c8c8"/><stop offset="0.771" stop-color="#dfdfdf"/><stop offset="0.832" stop-color="#e8e8e8"/><stop offset="1.000" stop-color="#ececec"/></linearGradient>
<linearGradient id="gs23" gradientUnits="userSpaceOnUse" x1="31.5" y1="0" x2="210.5" y2="0"><stop offset="0.000" stop-color="#ececec"/><stop offset="0.268" stop-color="#e0e0e0"/><stop offset="0.313" stop-color="#c8c8c8"/><stop offset="0.352" stop-color="#898989"/><stop offset="0.380" stop-color="#515151"/><stop offset="0.385" stop-color="#4d4d4d"/><stop offset="0.436" stop-color="#9d9d9d"/><stop offset="0.464" stop-color="#a6a6a6"/><stop offset="0.469" stop-color="#9c9c9c"/><stop offset="0.492" stop-color="#5d5d5d"/><stop offset="0.520" stop-color="#3a3a3a"/><stop offset="0.531" stop-color="#212121"/><stop offset="0.553" stop-color="#373737"/><stop offset="0.581" stop-color="#787878"/><stop offset="0.609" stop-color="#a1a1a1"/><stop offset="0.637" stop-color="#8f8f8f"/><stop offset="0.665" stop-color="#606060"/><stop offset="0.687" stop-color="#828282"/><stop offset="0.721" stop-color="#c4c4c4"/><stop offset="0.771" stop-color="#dedede"/><stop offset="0.832" stop-color="#e8e8e8"/><stop offset="1.000" stop-color="#ececec"/></linearGradient>
<linearGradient id="gs24" gradientUnits="userSpaceOnUse" x1="31.5" y1="0" x2="210.5" y2="0"><stop offset="0.000" stop-color="#ececec"/><stop offset="0.162" stop-color="#e8e8e8"/><stop offset="0.268" stop-color="#e0e0e0"/><stop offset="0.313" stop-color="#c6c6c6"/><stop offset="0.346" stop-color="#909090"/><stop offset="0.380" stop-color="#505050"/><stop offset="0.385" stop-color="#515151"/><stop offset="0.436" stop-color="#9e9e9e"/><stop offset="0.464" stop-color="#a6a6a6"/><stop offset="0.492" stop-color="#606060"/><stop offset="0.520" stop-color="#353535"/><stop offset="0.531" stop-color="#1e1e1e"/><stop offset="0.553" stop-color="#383838"/><stop offset="0.564" stop-color="#565656"/><stop offset="0.581" stop-color="#7a7a7a"/><stop offset="0.609" stop-color="#a0a0a0"/><stop offset="0.637" stop-color="#909090"/><stop offset="0.659" stop-color="#6b6b6b"/><stop offset="0.670" stop-color="#606060"/><stop offset="0.726" stop-color="#c5c5c5"/><stop offset="0.771" stop-color="#dedede"/><stop offset="0.832" stop-color="#e8e8e8"/><stop offset="1.000" stop-color="#ececec"/></linearGradient>
<linearGradient id="gs25" gradientUnits="userSpaceOnUse" x1="31.5" y1="0" x2="210.5" y2="0"><stop offset="0.000" stop-color="#ebebeb"/><stop offset="0.162" stop-color="#e8e8e8"/><stop offset="0.268" stop-color="#dfdfdf"/><stop offset="0.313" stop-color="#c4c4c4"/><stop offset="0.341" stop-color="#979797"/><stop offset="0.374" stop-color="#555555"/><stop offset="0.380" stop-color="#4e4e4e"/><stop offset="0.430" stop-color="#989898"/><stop offset="0.447" stop-color="#a2a2a2"/><stop offset="0.464" stop-color="#a4a4a4"/><stop offset="0.497" stop-color="#575757"/><stop offset="0.531" stop-color="#1c1c1c"/><stop offset="0.553" stop-color="#383838"/><stop offset="0.570" stop-color="#666666"/><stop offset="0.581" stop-color="#7c7c7c"/><stop offset="0.609" stop-color="#9f9f9f"/><stop offset="0.615" stop-color="#a1a1a1"/><stop offset="0.637" stop-color="#929292"/><stop offset="0.670" stop-color="#5e5e5e"/><stop offset="0.687" stop-color="#767676"/><stop offset="0.726" stop-color="#c1c1c1"/><stop offset="0.743" stop-color="#d0d0d0"/><stop offset="0.771" stop-color="#dddddd"/><stop offset="0.832" stop-color="#e8e8e8"/><stop offset="1.000" stop-color="#ececec"/></linearGradient>
<linearGradient id="gs26" gradientUnits="userSpaceOnUse" x1="31.5" y1="0" x2="210.5" y2="0"><stop offset="0.000" stop-color="#ebebeb"/><stop offset="0.162" stop-color="#e8e8e8"/><stop offset="0.268" stop-color="#dedede"/><stop offset="0.307" stop-color="#c9c9c9"/><stop offset="0.335" stop-color="#9f9f9f"/><stop offset="0.374" stop-color="#535353"/><stop offset="0.380" stop-color="#505050"/><stop offset="0.430" stop-color="#999999"/><stop offset="0.447" stop-color="#a2a2a2"/><stop offset="0.464" stop-color="#a2a2a2"/><stop offset="0.525" stop-color="#1f1f1f"/><stop offset="0.531" stop-color="#191919"/><stop offset="0.553" stop-color="#383838"/><stop offset="0.570" stop-color="#696969"/><stop offset="0.587" stop-color="#878787"/><stop offset="0.615" stop-color="#a3a3a3"/><stop offset="0.642" stop-color="#8d8d8d"/><stop offset="0.659" stop-color="#6d6d6d"/><stop offset="0.676" stop-color="#5d5d5d"/><stop offset="0.726" stop-color="#bbbbbb"/><stop offset="0.743" stop-color="#cecece"/><stop offset="0.771" stop-color="#dcdcdc"/><stop offset="0.838" stop-color="#e8e8e8"/><stop offset="1.000" stop-color="#ececec"/></linearGradient>
<linearGradient id="gs27" gradientUnits="userSpaceOnUse" x1="31.5" y1="0" x2="210.5" y2="0"><stop offset="0.000" stop-color="#ebebeb"/><stop offset="0.162" stop-color="#e8e8e8"/><stop offset="0.263" stop-color="#e0e0e0"/><stop offset="0.291" stop-color="#d4d4d4"/><stop offset="0.318" stop-color="#bababa"/><stop offset="0.374" stop-color="#505050"/><stop offset="0.391" stop-color="#616161"/><stop offset="0.413" stop-color="#878787"/><stop offset="0.430" stop-color="#9a9a9a"/><stop offset="0.458" stop-color="#a3a3a3"/><stop offset="0.469" stop-color="#999999"/><stop offset="0.520" stop-color="#272727"/><stop offset="0.531" stop-color="#171717"/><stop offset="0.553" stop-color="#383838"/><stop offset="0.570" stop-color="#6c6c6c"/><stop offset="0.587" stop-color="#898989"/><stop offset="0.615" stop-color="#a4a4a4"/><stop offset="0.642" stop-color="#8f8f8f"/><stop offset="0.659" stop-color="#707070"/><stop offset="0.676" stop-color="#5b5b5b"/><stop offset="0.693" stop-color="#737373"/><stop offset="0.732" stop-color="#bfbfbf"/><stop offset="0.749" stop-color="#d0d0d0"/><stop offset="0.777" stop-color="#dfdfdf"/><stop offset="0.838" stop-color="#e8e8e8"/><stop offset="1.000" stop-color="#ececec"/></linearGradient>
<linearGradient id="gs28" gradientUnits="userSpaceOnUse" x1="31.5" y1="0" x2="210.5" y2="0"><stop offset="0.000" stop-color="#ebebeb"/><stop offset="0.246" stop-color="#e3e3e3"/><stop offset="0.285" stop-color="#d7d7d7"/><stop offset="0.302" stop-color="#cbcbcb"/><stop offset="0.318" stop-color="#b8b8b8"/><stop offset="0.369" stop-color="#565656"/><stop offset="0.374" stop-color="#4f4f4f"/><stop offset="0.391" stop-color="#646464"/><stop offset="0.413" stop-color="#898989"/><stop offset="0.425" stop-color="#949494"/><stop offset="0.441" stop-color="#a0a0a0"/><stop offset="0.458" stop-color="#a3a3a3"/><stop offset="0.469" stop-color="#9a9a9a"/><stop offset="0.492" stop-color="#6c6c6c"/><stop offset="0.520" stop-color="#222222"/><stop offset="0.525" stop-color="#171717"/><stop offset="0.531" stop-color="#141414"/><stop offset="0.536" stop-color="#191919"/><stop offset="0.553" stop-color="#393939"/><stop offset="0.570" stop-color="#6f6f6f"/><stop offset="0.592" stop-color="#939393"/><stop offset="0.615" stop-color="#a3a3a3"/><stop offset="0.642" stop-color="#929292"/><stop offset="0.665" stop-color="#686868"/><stop offset="0.682" stop-color="#5b5b5b"/><stop offset="0.732" stop-color="#b9b9b9"/><stop offset="0.749" stop-color="#cfcfcf"/><stop offset="0.777" stop-color="#dedede"/><stop offset="0.838" stop-color="#e8e8e8"/><stop offset="1.000" stop-color="#ececec"/></linearGradient>
<linearGradient id="gs29" gradientUnits="userSpaceOnUse" x1="31.5" y1="0" x2="210.5" y2="0"><stop offset="0.000" stop-color="#eaeaea"/><stop offset="0.246" stop-color="#e3e3e3"/><stop offset="0.285" stop-color="#d7d7d7"/><stop offset="0.313" stop-color="#bfbfbf"/><stop offset="0.369" stop-color="#535353"/><stop offset="0.374" stop-color="#525252"/><stop offset="0.385" stop-color="#5e5e5e"/><stop offset="0.413" stop-color="#8b8b8b"/><stop offset="0.441" stop-color="#a1a1a1"/><stop offset="0.458" stop-color="#a2a2a2"/><stop offset="0.469" stop-color="#9a9a9a"/><stop offset="0.486" stop-color="#7c7c7c"/><stop offset="0.520" stop-color="#1e1e1e"/><stop offset="0.525" stop-color="#141414"/><stop offset="0.531" stop-color="#121212"/><stop offset="0.542" stop-color="#1f1f1f"/><stop offset="0.553" stop-color="#393939"/><stop offset="0.570" stop-color="#727272"/><stop offset="0.575" stop-color="#7c7c7c"/><stop offset="0.592" stop-color="#969696"/><stop offset="0.615" stop-color="#a3a3a3"/><stop offset="0.620" stop-color="#a5a5a5"/><stop offset="0.642" stop-color="#939393"/><stop offset="0.665" stop-color="#6a6a6a"/><stop offset="0.682" stop-color="#595959"/><stop offset="0.698" stop-color="#717171"/><stop offset="0.737" stop-color="#bcbcbc"/><stop offset="0.754" stop-color="#d1d1d1"/><stop offset="0.777" stop-color="#dddddd"/><stop offset="0.827" stop-color="#e8e8e8"/><stop offset="1.000" stop-color="#ececec"/></linearGradient>
<linearGradient id="gs30" gradientUnits="userSpaceOnUse" x1="31.5" y1="0" x2="210.5" y2="0"><stop offset="0.000" stop-color="#eaeaea"/><stop offset="0.240" stop-color="#e4e4e4"/><stop offset="0.285" stop-color="#d7d7d7"/><stop offset="0.313" stop-color="#bebebe"/><stop offset="0.369" stop-color="#505050"/><stop offset="0.385" stop-color="#606060"/><stop offset="0.408" stop-color="#888888"/><stop offset="0.425" stop-color="#969696"/><stop offset="0.441" stop-color="#a1a1a1"/><stop offset="0.464" stop-color="#9f9f9f"/><stop offset="0.469" stop-color="#9b9b9b"/><stop offset="0.486" stop-color="#7f7f7f"/><stop offset="0.492" stop-color="#727272"/><stop offset="0.520" stop-color="#191919"/><stop offset="0.525" stop-color="#0f0f0f"/><stop offset="0.531" stop-color="#0f0f0f"/><stop offset="0.542" stop-color="#1d1d1d"/><stop offset="0.553" stop-color="#393939"/><stop offset="0.570" stop-color="#737373"/><stop offset="0.575" stop-color="#7f7f7f"/><stop offset="0.592" stop-color="#999999"/><stop offset="0.620" stop-color="#a7a7a7"/><stop offset="0.648" stop-color="#909090"/><stop offset="0.670" stop-color="#636363"/><stop offset="0.687" stop-color="#595959"/><stop offset="0.704" stop-color="#757575"/><stop offset="0.726" stop-color="#a4a4a4"/><stop offset="0.754" stop-color="#d0d0d0"/><stop offset="0.782" stop-color="#dfdfdf"/><stop offset="0.827" stop-color="#e8e8e8"/><stop offset="1.000" stop-color="#ececec"/></linearGradient>
<linearGradient id="gs31" gradientUnits="userSpaceOnUse" x1="31.5" y1="0" x2="210.5" y2="0"><stop offset="0.000" stop-color="#eaeaea"/><stop offset="0.240" stop-color="#e4e4e4"/><stop offset="0.279" stop-color="#d9d9d9"/><stop offset="0.313" stop-color="#bcbcbc"/><stop offset="0.358" stop-color="#626262"/><stop offset="0.369" stop-color="#515151"/><stop offset="0.385" stop-color="#636363"/><stop offset="0.408" stop-color="#898989"/><stop offset="0.441" stop-color="#a0a0a0"/><stop offset="0.464" stop-color="#a0a0a0"/><stop offset="0.486" stop-color="#828282"/><stop offset="0.492" stop-color="#747474"/><stop offset="0.520" stop-color="#141414"/><stop offset="0.525" stop-color="#0b0b0b"/><stop offset="0.536" stop-color="#101010"/><stop offset="0.542" stop-color="#1a1a1a"/><stop offset="0.553" stop-color="#383838"/><stop offset="0.570" stop-color="#757575"/><stop offset="0.575" stop-color="#828282"/><stop offset="0.598" stop-color="#9f9f9f"/><stop offset="0.626" stop-color="#a5a5a5"/><stop offset="0.648" stop-color="#929292"/><stop offset="0.670" stop-color="#646464"/><stop offset="0.687" stop-color="#575757"/><stop offset="0.704" stop-color="#6e6e6e"/><stop offset="0.726" stop-color="#9d9d9d"/><stop offset="0.754" stop-color="#cdcdcd"/><stop offset="0.782" stop-color="#dfdfdf"/><stop offset="0.832" stop-color="#e8e8e8"/><stop offset="1.000" stop-color="#ececec"/></linearGradient>
<linearGradient id="gs32" gradientUnits="userSpaceOnUse" x1="31.5" y1="0" x2="210.5" y2="0"><stop offset="0.000" stop-color="#e9e9e9"/><stop offset="0.235" stop-color="#e3e3e3"/><stop offset="0.279" stop-color="#d7d7d7"/><stop offset="0.313" stop-color="#b7b7b7"/><stop offset="0.363" stop-color="#535353"/><stop offset="0.369" stop-color="#535353"/><stop offset="0.380" stop-color="#5e5e5e"/><stop offset="0.408" stop-color="#8a8a8a"/><stop offset="0.436" stop-color="#9e9e9e"/><stop offset="0.464" stop-color="#9f9f9f"/><stop offset="0.486" stop-color="#828282"/><stop offset="0.520" stop-color="#111111"/><stop offset="0.525" stop-color="#0b0b0b"/><stop offset="0.536" stop-color="#111111"/><stop offset="0.542" stop-color="#1b1b1b"/><stop offset="0.553" stop-color="#3a3a3a"/><stop offset="0.570" stop-color="#767676"/><stop offset="0.575" stop-color="#848484"/><stop offset="0.598" stop-color="#a1a1a1"/><stop offset="0.626" stop-color="#a6a6a6"/><stop offset="0.654" stop-color="#8c8c8c"/><stop offset="0.676" stop-color="#606060"/><stop offset="0.693" stop-color="#595959"/><stop offset="0.754" stop-color="#c9c9c9"/><stop offset="0.782" stop-color="#dddddd"/><stop offset="0.832" stop-color="#e7e7e7"/><stop offset="1.000" stop-color="#ececec"/></linearGradient>
<linearGradient id="gs33" gradientUnits="userSpaceOnUse" x1="31.5" y1="0" x2="210.5" y2="0"><stop offset="0.000" stop-color="#e8e8e8"/><stop offset="0.190" stop-color="#e4e4e4"/><stop offset="0.240" stop-color="#e1e1e1"/><stop offset="0.268" stop-color="#d7d7d7"/><stop offset="0.279" stop-color="#d3d3d3"/><stop offset="0.307" stop-color="#bababa"/><stop offset="0.363" stop-color="#505050"/><stop offset="0.380" stop-color="#5f5f5f"/><stop offset="0.408" stop-color="#8b8b8b"/><stop offset="0.436" stop-color="#9d9d9d"/><stop offset="0.464" stop-color="#9c9c9c"/><stop offset="0.486" stop-color="#7d7d7d"/><stop offset="0.508" stop-color="#323232"/><stop offset="0.520" stop-color="#121212"/><stop offset="0.525" stop-color="#0f0f0f"/><stop offset="0.536" stop-color="#161616"/><stop offset="0.542" stop-color="#212121"/><stop offset="0.553" stop-color="#3e3e3e"/><stop offset="0.570" stop-color="#777777"/><stop offset="0.575" stop-color="#858585"/><stop offset="0.598" stop-color="#a1a1a1"/><stop offset="0.626" stop-color="#a6a6a6"/><stop offset="0.637" stop-color="#9e9e9e"/><stop offset="0.654" stop-color="#909090"/><stop offset="0.676" stop-color="#656565"/><stop offset="0.693" stop-color="#595959"/><stop offset="0.709" stop-color="#727272"/><stop offset="0.732" stop-color="#9f9f9f"/><stop offset="0.760" stop-color="#cdcdcd"/><stop offset="0.788" stop-color="#dedede"/><stop offset="0.832" stop-color="#e6e6e6"/><stop offset="1.000" stop-color="#ebebeb"/></linearGradient>
<linearGradient id="gs34" gradientUnits="userSpaceOnUse" x1="31.5" y1="0" x2="210.5" y2="0"><stop offset="0.000" stop-color="#e8e8e8"/><stop offset="0.190" stop-color="#e3e3e3"/><stop offset="0.240" stop-color="#dedede"/><stop offset="0.268" stop-color="#d4d4d4"/><stop offset="0.279" stop-color="#cecece"/><stop offset="0.307" stop-color="#b4b4b4"/><stop offset="0.363" stop-color="#4c4c4c"/><stop offset="0.380" stop-color="#606060"/><stop offset="0.402" stop-color="#868686"/><stop offset="0.408" stop-color="#8b8b8b"/><stop offset="0.436" stop-color="#9c9c9c"/><stop offset="0.464" stop-color="#999999"/><stop offset="0.486" stop-color="#787878"/><stop offset="0.508" stop-color="#303030"/><stop offset="0.520" stop-color="#131313"/><stop offset="0.525" stop-color="#131313"/><stop offset="0.536" stop-color="#1b1b1b"/><stop offset="0.542" stop-color="#262626"/><stop offset="0.575" stop-color="#858585"/><stop offset="0.598" stop-color="#a1a1a1"/><stop offset="0.626" stop-color="#a7a7a7"/><stop offset="0.642" stop-color="#9b9b9b"/><stop offset="0.654" stop-color="#939393"/><stop offset="0.676" stop-color="#6c6c6c"/><stop offset="0.693" stop-color="#5c5c5c"/><stop offset="0.698" stop-color="#5f5f5f"/><stop offset="0.709" stop-color="#707070"/><stop offset="0.737" stop-color="#a5a5a5"/><stop offset="0.760" stop-color="#c8c8c8"/><stop offset="0.788" stop-color="#dbdbdb"/><stop offset="0.849" stop-color="#e6e6e6"/><stop offset="1.000" stop-color="#ebebeb"/></linearGradient>
<linearGradient id="gs35" gradientUnits="userSpaceOnUse" x1="31.5" y1="0" x2="210.5" y2="0"><stop offset="0.000" stop-color="#e6e6e6"/><stop offset="0.190" stop-color="#e2e2e2"/><stop offset="0.235" stop-color="#dddddd"/><stop offset="0.263" stop-color="#d3d3d3"/><stop offset="0.279" stop-color="#cacaca"/><stop offset="0.307" stop-color="#adadad"/><stop offset="0.346" stop-color="#646464"/><stop offset="0.363" stop-color="#4c4c4c"/><stop offset="0.408" stop-color="#8b8b8b"/><stop offset="0.436" stop-color="#9a9a9a"/><stop offset="0.464" stop-color="#969696"/><stop offset="0.486" stop-color="#727272"/><stop offset="0.503" stop-color="#3c3c3c"/><stop offset="0.520" stop-color="#151515"/><stop offset="0.536" stop-color="#212121"/><stop offset="0.547" stop-color="#383838"/><stop offset="0.570" stop-color="#797979"/><stop offset="0.575" stop-color="#858585"/><stop offset="0.598" stop-color="#a1a1a1"/><stop offset="0.626" stop-color="#a7a7a7"/><stop offset="0.642" stop-color="#9d9d9d"/><stop offset="0.659" stop-color="#8e8e8e"/><stop offset="0.682" stop-color="#6a6a6a"/><stop offset="0.698" stop-color="#5d5d5d"/><stop offset="0.760" stop-color="#c3c3c3"/><stop offset="0.788" stop-color="#d8d8d8"/><stop offset="0.849" stop-color="#e5e5e5"/><stop offset="1.000" stop-color="#ebebeb"/></linearGradient>
<linearGradient id="gs36" gradientUnits="userSpaceOnUse" x1="31.5" y1="0" x2="210.5" y2="0"><stop offset="0.000" stop-color="#e6e6e6"/><stop offset="0.190" stop-color="#e0e0e0"/><stop offset="0.235" stop-color="#dadada"/><stop offset="0.263" stop-color="#d0d0d0"/><stop offset="0.279" stop-color="#c5c5c5"/><stop offset="0.307" stop-color="#a7a7a7"/><stop offset="0.346" stop-color="#606060"/><stop offset="0.358" stop-color="#4e4e4e"/><stop offset="0.363" stop-color="#4c4c4c"/><stop offset="0.408" stop-color="#8b8b8b"/><stop offset="0.436" stop-color="#989898"/><stop offset="0.458" stop-color="#969696"/><stop offset="0.464" stop-color="#919191"/><stop offset="0.486" stop-color="#6c6c6c"/><stop offset="0.503" stop-color="#393939"/><stop offset="0.520" stop-color="#191919"/><stop offset="0.542" stop-color="#2f2f2f"/><stop offset="0.570" stop-color="#7a7a7a"/><stop offset="0.587" stop-color="#979797"/><stop offset="0.598" stop-color="#a2a2a2"/><stop offset="0.626" stop-color="#a6a6a6"/><stop offset="0.642" stop-color="#9e9e9e"/><stop offset="0.659" stop-color="#919191"/><stop offset="0.682" stop-color="#6f6f6f"/><stop offset="0.698" stop-color="#606060"/><stop offset="0.715" stop-color="#757575"/><stop offset="0.760" stop-color="#bfbfbf"/><stop offset="0.793" stop-color="#d9d9d9"/><stop offset="0.849" stop-color="#e4e4e4"/><stop offset="1.000" stop-color="#eaeaea"/></linearGradient>
<linearGradient id="gs37" gradientUnits="userSpaceOnUse" x1="31.5" y1="0" x2="210.5" y2="0"><stop offset="0.000" stop-color="#e4e4e4"/><stop offset="0.190" stop-color="#dfdfdf"/><stop offset="0.229" stop-color="#d9d9d9"/><stop offset="0.263" stop-color="#cdcdcd"/><stop offset="0.302" stop-color="#a8a8a8"/><stop offset="0.358" stop-color="#4b4b4b"/><stop offset="0.363" stop-color="#4c4c4c"/><stop offset="0.402" stop-color="#878787"/><stop offset="0.430" stop-color="#969696"/><stop offset="0.458" stop-color="#939393"/><stop offset="0.480" stop-color="#727272"/><stop offset="0.503" stop-color="#363636"/><stop offset="0.520" stop-color="#1c1c1c"/><stop offset="0.542" stop-color="#333333"/><stop offset="0.570" stop-color="#7b7b7b"/><stop offset="0.587" stop-color="#989898"/><stop offset="0.598" stop-color="#a2a2a2"/><stop offset="0.626" stop-color="#a6a6a6"/><stop offset="0.648" stop-color="#9c9c9c"/><stop offset="0.659" stop-color="#949494"/><stop offset="0.687" stop-color="#6f6f6f"/><stop offset="0.704" stop-color="#636363"/><stop offset="0.754" stop-color="#b4b4b4"/><stop offset="0.765" stop-color="#c2c2c2"/><stop offset="0.793" stop-color="#d7d7d7"/><stop offset="0.855" stop-color="#e4e4e4"/><stop offset="1.000" stop-color="#eaeaea"/></linearGradient>
<linearGradient id="gs38" gradientUnits="userSpaceOnUse" x1="31.5" y1="0" x2="210.5" y2="0"><stop offset="0.000" stop-color="#e4e4e4"/><stop offset="0.078" stop-color="#e4e4e4"/><stop offset="0.190" stop-color="#dddddd"/><stop offset="0.229" stop-color="#d7d7d7"/><stop offset="0.263" stop-color="#cacaca"/><stop offset="0.302" stop-color="#a2a2a2"/><stop offset="0.330" stop-color="#707070"/><stop offset="0.358" stop-color="#474747"/><stop offset="0.402" stop-color="#888888"/><stop offset="0.430" stop-color="#959595"/><stop offset="0.458" stop-color="#909090"/><stop offset="0.480" stop-color="#6d6d6d"/><stop offset="0.503" stop-color="#333333"/><stop offset="0.520" stop-color="#1f1f1f"/><stop offset="0.542" stop-color="#373737"/><stop offset="0.570" stop-color="#7c7c7c"/><stop offset="0.587" stop-color="#999999"/><stop offset="0.598" stop-color="#a2a2a2"/><stop offset="0.626" stop-color="#a6a6a6"/><stop offset="0.648" stop-color="#9d9d9d"/><stop offset="0.665" stop-color="#909090"/><stop offset="0.704" stop-color="#636363"/><stop offset="0.760" stop-color="#b8b8b8"/><stop offset="0.799" stop-color="#d6d6d6"/><stop offset="0.855" stop-color="#e3e3e3"/><stop offset="1.000" stop-color="#e9e9e9"/></linearGradient>
<linearGradient id="gs39" gradientUnits="userSpaceOnUse" x1="31.5" y1="0" x2="210.5" y2="0"><stop offset="0.000" stop-color="#e2e2e2"/><stop offset="0.078" stop-color="#e4e4e4"/><stop offset="0.190" stop-color="#dbdbdb"/><stop offset="0.229" stop-color="#d5d5d5"/><stop offset="0.257" stop-color="#c9c9c9"/><stop offset="0.274" stop-color="#bcbcbc"/><stop offset="0.302" stop-color="#9c9c9c"/><stop offset="0.330" stop-color="#6a6a6a"/><stop offset="0.358" stop-color="#444444"/><stop offset="0.402" stop-color="#898989"/><stop offset="0.430" stop-color="#949494"/><stop offset="0.458" stop-color="#8d8d8d"/><stop offset="0.480" stop-color="#686868"/><stop offset="0.503" stop-color="#313131"/><stop offset="0.520" stop-color="#232323"/><stop offset="0.542" stop-color="#3b3b3b"/><stop offset="0.570" stop-color="#7d7d7d"/><stop offset="0.587" stop-color="#999999"/><stop offset="0.598" stop-color="#a2a2a2"/><stop offset="0.620" stop-color="#a7a7a7"/><stop offset="0.648" stop-color="#9e9e9e"/><stop offset="0.670" stop-color="#8e8e8e"/><stop offset="0.704" stop-color="#676767"/><stop offset="0.709" stop-color="#696969"/><stop offset="0.760" stop-color="#b4b4b4"/><stop offset="0.799" stop-color="#d4d4d4"/><stop offset="0.855" stop-color="#e2e2e2"/><stop offset="1.000" stop-color="#e9e9e9"/></linearGradient>
<linearGradient id="gs40" gradientUnits="userSpaceOnUse" x1="31.5" y1="0" x2="210.5" y2="0"><stop offset="0.000" stop-color="#e2e2e2"/><stop offset="0.078" stop-color="#e3e3e3"/><stop offset="0.184" stop-color="#dadada"/><stop offset="0.240" stop-color="#cecece"/><stop offset="0.263" stop-color="#c3c3c3"/><stop offset="0.291" stop-color="#a5a5a5"/><stop offset="0.313" stop-color="#848484"/><stop offset="0.330" stop-color="#656565"/><stop offset="0.358" stop-color="#444444"/><stop offset="0.374" stop-color="#626262"/><stop offset="0.402" stop-color="#898989"/><stop offset="0.430" stop-color="#929292"/><stop offset="0.453" stop-color="#8d8d8d"/><stop offset="0.458" stop-color="#898989"/><stop offset="0.480" stop-color="#626262"/><stop offset="0.503" stop-color="#303030"/><stop offset="0.520" stop-color="#272727"/><stop offset="0.542" stop-color="#404040"/><stop offset="0.575" stop-color="#878787"/><stop offset="0.587" stop-color="#9a9a9a"/><stop offset="0.598" stop-color="#a2a2a2"/><stop offset="0.620" stop-color="#a7a7a7"/><stop offset="0.648" stop-color="#9f9f9f"/><stop offset="0.676" stop-color="#8d8d8d"/><stop offset="0.709" stop-color="#686868"/><stop offset="0.760" stop-color="#b1b1b1"/><stop offset="0.799" stop-color="#d2d2d2"/><stop offset="0.855" stop-color="#e1e1e1"/><stop offset="1.000" stop-color="#e9e9e9"/></linearGradient>
<linearGradient id="gs41" gradientUnits="userSpaceOnUse" x1="31.5" y1="0" x2="210.5" y2="0"><stop offset="0.000" stop-color="#e0e0e0"/><stop offset="0.078" stop-color="#e2e2e2"/><stop offset="0.184" stop-color="#d9d9d9"/><stop offset="0.229" stop-color="#d0d0d0"/><stop offset="0.263" stop-color="#bfbfbf"/><stop offset="0.285" stop-color="#a6a6a6"/><stop offset="0.307" stop-color="#878787"/><stop offset="0.330" stop-color="#5f5f5f"/><stop offset="0.352" stop-color="#454545"/><stop offset="0.358" stop-color="#454545"/><stop offset="0.374" stop-color="#636363"/><stop offset="0.402" stop-color="#898989"/><stop offset="0.430" stop-color="#909090"/><stop offset="0.453" stop-color="#8a8a8a"/><stop offset="0.458" stop-color="#858585"/><stop offset="0.475" stop-color="#686868"/><stop offset="0.497" stop-color="#373737"/><stop offset="0.503" stop-color="#303030"/><stop offset="0.520" stop-color="#2c2c2c"/><stop offset="0.531" stop-color="#3c3c3c"/><stop offset="0.542" stop-color="#444444"/><stop offset="0.564" stop-color="#747474"/><stop offset="0.592" stop-color="#a0a0a0"/><stop offset="0.620" stop-color="#a7a7a7"/><stop offset="0.648" stop-color="#a0a0a0"/><stop offset="0.676" stop-color="#909090"/><stop offset="0.709" stop-color="#6b6b6b"/><stop offset="0.715" stop-color="#6e6e6e"/><stop offset="0.760" stop-color="#aeaeae"/><stop offset="0.804" stop-color="#d2d2d2"/><stop offset="0.860" stop-color="#e1e1e1"/><stop offset="1.000" stop-color="#e8e8e8"/></linearGradient>
<linearGradient id="gs42" gradientUnits="userSpaceOnUse" x1="31.5" y1="0" x2="210.5" y2="0"><stop offset="0.000" stop-color="#e0e0e0"/><stop offset="0.078" stop-color="#e1e1e1"/><stop offset="0.184" stop-color="#d8d8d8"/><stop offset="0.229" stop-color="#cecece"/><stop offset="0.257" stop-color="#c0c0c0"/><stop offset="0.285" stop-color="#a2a2a2"/><stop offset="0.307" stop-color="#828282"/><stop offset="0.324" stop-color="#636363"/><stop offset="0.352" stop-color="#414141"/><stop offset="0.397" stop-color="#858585"/><stop offset="0.425" stop-color="#8f8f8f"/><stop offset="0.453" stop-color="#888888"/><stop offset="0.475" stop-color="#636363"/><stop offset="0.497" stop-color="#343434"/><stop offset="0.514" stop-color="#2d2d2d"/><stop offset="0.542" stop-color="#434343"/><stop offset="0.564" stop-color="#727272"/><stop offset="0.592" stop-color="#9f9f9f"/><stop offset="0.620" stop-color="#a7a7a7"/><stop offset="0.654" stop-color="#9e9e9e"/><stop offset="0.682" stop-color="#8d8d8d"/><stop offset="0.709" stop-color="#6e6e6e"/><stop offset="0.715" stop-color="#6d6d6d"/><stop offset="0.765" stop-color="#b1b1b1"/><stop offset="0.804" stop-color="#d0d0d0"/><stop offset="0.860" stop-color="#e0e0e0"/><stop offset="1.000" stop-color="#e8e8e8"/></linearGradient>
<linearGradient id="gs43" gradientUnits="userSpaceOnUse" x1="31.5" y1="0" x2="210.5" y2="0"><stop offset="0.000" stop-color="#dfdfdf"/><stop offset="0.078" stop-color="#e1e1e1"/><stop offset="0.184" stop-color="#d7d7d7"/><stop offset="0.223" stop-color="#cecece"/><stop offset="0.257" stop-color="#bebebe"/><stop offset="0.302" stop-color="#878787"/><stop offset="0.324" stop-color="#5f5f5f"/><stop offset="0.346" stop-color="#444444"/><stop offset="0.352" stop-color="#424242"/><stop offset="0.369" stop-color="#616161"/><stop offset="0.397" stop-color="#878787"/><stop offset="0.425" stop-color="#8d8d8d"/><stop offset="0.447" stop-color="#878787"/><stop offset="0.453" stop-color="#848484"/><stop offset="0.469" stop-color="#686868"/><stop offset="0.497" stop-color="#323232"/><stop offset="0.514" stop-color="#2f2f2f"/><stop offset="0.547" stop-color="#4a4a4a"/><stop offset="0.570" stop-color="#767676"/><stop offset="0.592" stop-color="#9b9b9b"/><stop offset="0.598" stop-color="#9e9e9e"/><stop offset="0.620" stop-color="#a4a4a4"/><stop offset="0.654" stop-color="#9e9e9e"/><stop offset="0.682" stop-color="#8e8e8e"/><stop offset="0.715" stop-color="#6c6c6c"/><stop offset="0.765" stop-color="#aeaeae"/><stop offset="0.804" stop-color="#cecece"/><stop offset="0.860" stop-color="#dfdfdf"/><stop offset="1.000" stop-color="#e7e7e7"/></linearGradient>
<linearGradient id="gs44" gradientUnits="userSpaceOnUse" x1="31.5" y1="0" x2="210.5" y2="0"><stop offset="0.000" stop-color="#dfdfdf"/><stop offset="0.078" stop-color="#e0e0e0"/><stop offset="0.184" stop-color="#d6d6d6"/><stop offset="0.223" stop-color="#cdcdcd"/><stop offset="0.251" stop-color="#bfbfbf"/><stop offset="0.279" stop-color="#a2a2a2"/><stop offset="0.302" stop-color="#848484"/><stop offset="0.324" stop-color="#5c5c5c"/><stop offset="0.346" stop-color="#414141"/><stop offset="0.391" stop-color="#838383"/><stop offset="0.419" stop-color="#8c8c8c"/><stop offset="0.447" stop-color="#858585"/><stop offset="0.469" stop-color="#636363"/><stop offset="0.492" stop-color="#383838"/><stop offset="0.508" stop-color="#303030"/><stop offset="0.525" stop-color="#3e3e3e"/><stop offset="0.547" stop-color="#454545"/><stop offset="0.570" stop-color="#717171"/><stop offset="0.598" stop-color="#9c9c9c"/><stop offset="0.626" stop-color="#a2a2a2"/><stop offset="0.659" stop-color="#9a9a9a"/><stop offset="0.682" stop-color="#8e8e8e"/><stop offset="0.715" stop-color="#6b6b6b"/><stop offset="0.765" stop-color="#acacac"/><stop offset="0.804" stop-color="#cccccc"/><stop offset="0.860" stop-color="#dedede"/><stop offset="1.000" stop-color="#e7e7e7"/></linearGradient>
<linearGradient id="gs45" gradientUnits="userSpaceOnUse" x1="31.5" y1="0" x2="210.5" y2="0"><stop offset="0.000" stop-color="#dfdfdf"/><stop offset="0.078" stop-color="#dfdfdf"/><stop offset="0.184" stop-color="#d5d5d5"/><stop offset="0.223" stop-color="#cbcbcb"/><stop offset="0.251" stop-color="#bdbdbd"/><stop offset="0.279" stop-color="#9f9f9f"/><stop offset="0.302" stop-color="#808080"/><stop offset="0.318" stop-color="#616161"/><stop offset="0.341" stop-color="#444444"/><stop offset="0.346" stop-color="#424242"/><stop offset="0.363" stop-color="#606060"/><stop offset="0.391" stop-color="#848484"/><stop offset="0.419" stop-color="#8b8b8b"/><stop offset="0.441" stop-color="#858585"/><stop offset="0.447" stop-color="#828282"/><stop offset="0.469" stop-color="#5f5f5f"/><stop offset="0.492" stop-color="#353535"/><stop offset="0.503" stop-color="#313131"/><stop offset="0.525" stop-color="#424242"/><stop offset="0.553" stop-color="#4b4b4b"/><stop offset="0.575" stop-color="#757575"/><stop offset="0.598" stop-color="#979797"/><stop offset="0.603" stop-color="#9a9a9a"/><stop offset="0.626" stop-color="#a0a0a0"/><stop offset="0.659" stop-color="#999999"/><stop offset="0.687" stop-color="#898989"/><stop offset="0.715" stop-color="#6c6c6c"/><stop offset="0.765" stop-color="#a9a9a9"/><stop offset="0.804" stop-color="#cbcbcb"/><stop offset="0.816" stop-color="#cfcfcf"/><stop offset="0.860" stop-color="#dddddd"/><stop offset="1.000" stop-color="#e7e7e7"/></linearGradient>
<linearGradient id="gs46" gradientUnits="userSpaceOnUse" x1="31.5" y1="0" x2="210.5" y2="0"><stop offset="0.000" stop-color="#dedede"/><stop offset="0.073" stop-color="#dfdfdf"/><stop offset="0.179" stop-color="#d5d5d5"/><stop offset="0.218" stop-color="#cbcbcb"/><stop offset="0.251" stop-color="#bababa"/><stop offset="0.274" stop-color="#a2a2a2"/><stop offset="0.296" stop-color="#858585"/><stop offset="0.313" stop-color="#666666"/><stop offset="0.341" stop-color="#404040"/><stop offset="0.369" stop-color="#6b6b6b"/><stop offset="0.391" stop-color="#848484"/><stop offset="0.413" stop-color="#898989"/><stop offset="0.441" stop-color="#838383"/><stop offset="0.464" stop-color="#636363"/><stop offset="0.486" stop-color="#3b3b3b"/><stop offset="0.503" stop-color="#313131"/><stop offset="0.514" stop-color="#3f3f3f"/><stop offset="0.525" stop-color="#464646"/><stop offset="0.553" stop-color="#494949"/><stop offset="0.575" stop-color="#707070"/><stop offset="0.603" stop-color="#989898"/><stop offset="0.631" stop-color="#9e9e9e"/><stop offset="0.659" stop-color="#999999"/><stop offset="0.687" stop-color="#898989"/><stop offset="0.715" stop-color="#6e6e6e"/><stop offset="0.721" stop-color="#6f6f6f"/><stop offset="0.771" stop-color="#ababab"/><stop offset="0.816" stop-color="#cecece"/><stop offset="0.860" stop-color="#dddddd"/><stop offset="1.000" stop-color="#e6e6e6"/></linearGradient>
<linearGradient id="gs47" gradientUnits="userSpaceOnUse" x1="31.5" y1="0" x2="210.5" y2="0"><stop offset="0.000" stop-color="#dedede"/><stop offset="0.073" stop-color="#dedede"/><stop offset="0.179" stop-color="#d5d5d5"/><stop offset="0.218" stop-color="#cacaca"/><stop offset="0.246" stop-color="#bcbcbc"/><stop offset="0.274" stop-color="#9f9f9f"/><stop offset="0.296" stop-color="#828282"/><stop offset="0.313" stop-color="#626262"/><stop offset="0.335" stop-color="#434343"/><stop offset="0.341" stop-color="#414141"/><stop offset="0.358" stop-color="#5e5e5e"/><stop offset="0.385" stop-color="#828282"/><stop offset="0.413" stop-color="#888888"/><stop offset="0.436" stop-color="#828282"/><stop offset="0.441" stop-color="#808080"/><stop offset="0.464" stop-color="#606060"/><stop offset="0.486" stop-color="#383838"/><stop offset="0.497" stop-color="#333333"/><stop offset="0.525" stop-color="#4a4a4a"/><stop offset="0.559" stop-color="#4d4d4d"/><stop offset="0.581" stop-color="#747474"/><stop offset="0.603" stop-color="#949494"/><stop offset="0.609" stop-color="#979797"/><stop offset="0.631" stop-color="#9c9c9c"/><stop offset="0.665" stop-color="#959595"/><stop offset="0.687" stop-color="#8a8a8a"/><stop offset="0.715" stop-color="#6f6f6f"/><stop offset="0.721" stop-color="#6e6e6e"/><stop offset="0.771" stop-color="#a9a9a9"/><stop offset="0.804" stop-color="#c6c6c6"/><stop offset="0.821" stop-color="#cfcfcf"/><stop offset="0.877" stop-color="#dedede"/><stop offset="1.000" stop-color="#e6e6e6"/></linearGradient>
<linearGradient id="gs48" gradientUnits="userSpaceOnUse" x1="31.5" y1="0" x2="210.5" y2="0"><stop offset="0.000" stop-color="#dddddd"/><stop offset="0.073" stop-color="#dddddd"/><stop offset="0.173" stop-color="#d4d4d4"/><stop offset="0.218" stop-color="#c8c8c8"/><stop offset="0.246" stop-color="#bababa"/><stop offset="0.274" stop-color="#9c9c9c"/><stop offset="0.291" stop-color="#868686"/><stop offset="0.313" stop-color="#5f5f5f"/><stop offset="0.335" stop-color="#3f3f3f"/><stop offset="0.363" stop-color="#696969"/><stop offset="0.385" stop-color="#828282"/><stop offset="0.408" stop-color="#868686"/><stop offset="0.436" stop-color="#808080"/><stop offset="0.458" stop-color="#646464"/><stop offset="0.486" stop-color="#383838"/><stop offset="0.497" stop-color="#323232"/><stop offset="0.514" stop-color="#494949"/><stop offset="0.525" stop-color="#4f4f4f"/><stop offset="0.559" stop-color="#4d4d4d"/><stop offset="0.609" stop-color="#949494"/><stop offset="0.631" stop-color="#999999"/><stop offset="0.665" stop-color="#959595"/><stop offset="0.687" stop-color="#898989"/><stop offset="0.721" stop-color="#6d6d6d"/><stop offset="0.771" stop-color="#a6a6a6"/><stop offset="0.821" stop-color="#cecece"/><stop offset="0.877" stop-color="#dedede"/><stop offset="1.000" stop-color="#e5e5e5"/></linearGradient>
<linearGradient id="gs49" gradientUnits="userSpaceOnUse" x1="31.5" y1="0" x2="210.5" y2="0"><stop offset="0.000" stop-color="#dddddd"/><stop offset="0.073" stop-color="#dddddd"/><stop offset="0.173" stop-color="#d4d4d4"/><stop offset="0.212" stop-color="#c8c8c8"/><stop offset="0.240" stop-color="#bbbbbb"/><stop offset="0.268" stop-color="#9f9f9f"/><stop offset="0.291" stop-color="#838383"/><stop offset="0.307" stop-color="#636363"/><stop offset="0.330" stop-color="#434343"/><stop offset="0.335" stop-color="#414141"/><stop offset="0.358" stop-color="#656565"/><stop offset="0.380" stop-color="#7f7f7f"/><stop offset="0.408" stop-color="#858585"/><stop offset="0.430" stop-color="#808080"/><stop offset="0.436" stop-color="#7e7e7e"/><stop offset="0.458" stop-color="#606060"/><stop offset="0.480" stop-color="#3c3c3c"/><stop offset="0.492" stop-color="#353535"/><stop offset="0.497" stop-color="#353535"/><stop offset="0.514" stop-color="#4e4e4e"/><stop offset="0.525" stop-color="#535353"/><stop offset="0.564" stop-color="#505050"/><stop offset="0.598" stop-color="#828282"/><stop offset="0.615" stop-color="#939393"/><stop offset="0.637" stop-color="#979797"/><stop offset="0.665" stop-color="#949494"/><stop offset="0.693" stop-color="#858585"/><stop offset="0.721" stop-color="#6c6c6c"/><stop offset="0.771" stop-color="#a3a3a3"/><stop offset="0.821" stop-color="#cccccc"/><stop offset="0.877" stop-color="#dddddd"/><stop offset="1.000" stop-color="#e5e5e5"/></linearGradient>
<linearGradient id="gs50" gradientUnits="userSpaceOnUse" x1="31.5" y1="0" x2="210.5" y2="0"><stop offset="0.000" stop-color="#dddddd"/><stop offset="0.073" stop-color="#dcdcdc"/><stop offset="0.173" stop-color="#d3d3d3"/><stop offset="0.212" stop-color="#c7c7c7"/><stop offset="0.240" stop-color="#b9b9b9"/><stop offset="0.268" stop-color="#9c9c9c"/><stop offset="0.285" stop-color="#888888"/><stop offset="0.330" stop-color="#3f3f3f"/><stop offset="0.358" stop-color="#686868"/><stop offset="0.380" stop-color="#7f7f7f"/><stop offset="0.402" stop-color="#838383"/><stop offset="0.430" stop-color="#7d7d7d"/><stop offset="0.458" stop-color="#5c5c5c"/><stop offset="0.480" stop-color="#3a3a3a"/><stop offset="0.492" stop-color="#343434"/><stop offset="0.508" stop-color="#4d4d4d"/><stop offset="0.525" stop-color="#575757"/><stop offset="0.559" stop-color="#505050"/><stop offset="0.570" stop-color="#545454"/><stop offset="0.592" stop-color="#777777"/><stop offset="0.615" stop-color="#909090"/><stop offset="0.637" stop-color="#959595"/><stop offset="0.670" stop-color="#919191"/><stop offset="0.693" stop-color="#868686"/><stop offset="0.721" stop-color="#6e6e6e"/><stop offset="0.749" stop-color="#868686"/><stop offset="0.771" stop-color="#a1a1a1"/><stop offset="0.821" stop-color="#cbcbcb"/><stop offset="0.877" stop-color="#dcdcdc"/><stop offset="1.000" stop-color="#e5e5e5"/></linearGradient>
<linearGradient id="gs51" gradientUnits="userSpaceOnUse" x1="31.5" y1="0" x2="210.5" y2="0"><stop offset="0.000" stop-color="#dcdcdc"/><stop offset="0.173" stop-color="#d2d2d2"/><stop offset="0.212" stop-color="#c5c5c5"/><stop offset="0.240" stop-color="#b6b6b6"/><stop offset="0.268" stop-color="#999999"/><stop offset="0.285" stop-color="#858585"/><stop offset="0.302" stop-color="#646464"/><stop offset="0.324" stop-color="#424242"/><stop offset="0.330" stop-color="#404040"/><stop offset="0.352" stop-color="#636363"/><stop offset="0.374" stop-color="#7d7d7d"/><stop offset="0.402" stop-color="#828282"/><stop offset="0.425" stop-color="#7d7d7d"/><stop offset="0.453" stop-color="#606060"/><stop offset="0.475" stop-color="#3f3f3f"/><stop offset="0.492" stop-color="#353535"/><stop offset="0.508" stop-color="#535353"/><stop offset="0.531" stop-color="#5e5e5e"/><stop offset="0.570" stop-color="#545454"/><stop offset="0.603" stop-color="#818181"/><stop offset="0.620" stop-color="#8f8f8f"/><stop offset="0.642" stop-color="#939393"/><stop offset="0.670" stop-color="#909090"/><stop offset="0.693" stop-color="#858585"/><stop offset="0.721" stop-color="#6f6f6f"/><stop offset="0.726" stop-color="#707070"/><stop offset="0.771" stop-color="#9e9e9e"/><stop offset="0.821" stop-color="#c9c9c9"/><stop offset="0.883" stop-color="#dddddd"/><stop offset="1.000" stop-color="#e4e4e4"/></linearGradient>
<linearGradient id="gs52" gradientUnits="userSpaceOnUse" x1="31.5" y1="0" x2="210.5" y2="0"><stop offset="0.000" stop-color="#dcdcdc"/><stop offset="0.173" stop-color="#d1d1d1"/><stop offset="0.240" stop-color="#b3b3b3"/><stop offset="0.279" stop-color="#898989"/><stop offset="0.324" stop-color="#3e3e3e"/><stop offset="0.352" stop-color="#666666"/><stop offset="0.369" stop-color="#797979"/><stop offset="0.380" stop-color="#808080"/><stop offset="0.397" stop-color="#818181"/><stop offset="0.430" stop-color="#777777"/><stop offset="0.475" stop-color="#3d3d3d"/><stop offset="0.486" stop-color="#363636"/><stop offset="0.492" stop-color="#3a3a3a"/><stop offset="0.508" stop-color="#595959"/><stop offset="0.531" stop-color="#626262"/><stop offset="0.564" stop-color="#555555"/><stop offset="0.575" stop-color="#565656"/><stop offset="0.598" stop-color="#767676"/><stop offset="0.620" stop-color="#8c8c8c"/><stop offset="0.670" stop-color="#8f8f8f"/><stop offset="0.726" stop-color="#6f6f6f"/><stop offset="0.810" stop-color="#c0c0c0"/><stop offset="0.827" stop-color="#cbcbcb"/><stop offset="0.883" stop-color="#dcdcdc"/><stop offset="1.000" stop-color="#e4e4e4"/></linearGradient>
<linearGradient id="gs53" gradientUnits="userSpaceOnUse" x1="31.5" y1="0" x2="210.5" y2="0"><stop offset="0.000" stop-color="#dbdbdb"/><stop offset="0.173" stop-color="#d0d0d0"/><stop offset="0.207" stop-color="#c4c4c4"/><stop offset="0.240" stop-color="#b0b0b0"/><stop offset="0.279" stop-color="#868686"/><stop offset="0.318" stop-color="#424242"/><stop offset="0.324" stop-color="#404040"/><stop offset="0.346" stop-color="#626262"/><stop offset="0.369" stop-color="#7a7a7a"/><stop offset="0.397" stop-color="#7f7f7f"/><stop offset="0.425" stop-color="#787878"/><stop offset="0.469" stop-color="#434343"/><stop offset="0.486" stop-color="#353535"/><stop offset="0.508" stop-color="#5e5e5e"/><stop offset="0.531" stop-color="#666666"/><stop offset="0.575" stop-color="#575757"/><stop offset="0.609" stop-color="#7f7f7f"/><stop offset="0.626" stop-color="#8b8b8b"/><stop offset="0.676" stop-color="#8c8c8c"/><stop offset="0.726" stop-color="#6e6e6e"/><stop offset="0.827" stop-color="#c9c9c9"/><stop offset="0.883" stop-color="#dcdcdc"/><stop offset="1.000" stop-color="#e3e3e3"/></linearGradient>
<linearGradient id="gs54" gradientUnits="userSpaceOnUse" x1="31.5" y1="0" x2="210.5" y2="0"><stop offset="0.000" stop-color="#dbdbdb"/><stop offset="0.168" stop-color="#d0d0d0"/><stop offset="0.229" stop-color="#b7b7b7"/><stop offset="0.274" stop-color="#8a8a8a"/><stop offset="0.318" stop-color="#3d3d3d"/><stop offset="0.346" stop-color="#656565"/><stop offset="0.363" stop-color="#767676"/><stop offset="0.374" stop-color="#7e7e7e"/><stop offset="0.391" stop-color="#7e7e7e"/><stop offset="0.425" stop-color="#757575"/><stop offset="0.469" stop-color="#404040"/><stop offset="0.480" stop-color="#383838"/><stop offset="0.486" stop-color="#3a3a3a"/><stop offset="0.508" stop-color="#636363"/><stop offset="0.531" stop-color="#6a6a6a"/><stop offset="0.575" stop-color="#585858"/><stop offset="0.620" stop-color="#858585"/><stop offset="0.648" stop-color="#8d8d8d"/><stop offset="0.676" stop-color="#8b8b8b"/><stop offset="0.726" stop-color="#6e6e6e"/><stop offset="0.754" stop-color="#828282"/><stop offset="0.827" stop-color="#c8c8c8"/><stop offset="0.883" stop-color="#dbdbdb"/><stop offset="1.000" stop-color="#e3e3e3"/></linearGradient>
<linearGradient id="gs55" gradientUnits="userSpaceOnUse" x1="31.5" y1="0" x2="210.5" y2="0"><stop offset="0.000" stop-color="#dadada"/><stop offset="0.168" stop-color="#d0d0d0"/><stop offset="0.207" stop-color="#c0c0c0"/><stop offset="0.229" stop-color="#b4b4b4"/><stop offset="0.274" stop-color="#878787"/><stop offset="0.313" stop-color="#414141"/><stop offset="0.318" stop-color="#3f3f3f"/><stop offset="0.341" stop-color="#606060"/><stop offset="0.363" stop-color="#787878"/><stop offset="0.391" stop-color="#7c7c7c"/><stop offset="0.419" stop-color="#767676"/><stop offset="0.480" stop-color="#373737"/><stop offset="0.508" stop-color="#676767"/><stop offset="0.536" stop-color="#6e6e6e"/><stop offset="0.581" stop-color="#5b5b5b"/><stop offset="0.626" stop-color="#858585"/><stop offset="0.654" stop-color="#8a8a8a"/><stop offset="0.682" stop-color="#888888"/><stop offset="0.726" stop-color="#6f6f6f"/><stop offset="0.754" stop-color="#808080"/><stop offset="0.827" stop-color="#c7c7c7"/><stop offset="0.883" stop-color="#dbdbdb"/><stop offset="1.000" stop-color="#e2e2e2"/></linearGradient>
<linearGradient id="gs56" gradientUnits="userSpaceOnUse" x1="31.5" y1="0" x2="210.5" y2="0"><stop offset="0.000" stop-color="#dadada"/><stop offset="0.168" stop-color="#cfcfcf"/><stop offset="0.223" stop-color="#b6b6b6"/><stop offset="0.274" stop-color="#848484"/><stop offset="0.313" stop-color="#3c3c3c"/><stop offset="0.341" stop-color="#646464"/><stop offset="0.369" stop-color="#7c7c7c"/><stop offset="0.419" stop-color="#737373"/><stop offset="0.475" stop-color="#3a3a3a"/><stop offset="0.480" stop-color="#3a3a3a"/><stop offset="0.503" stop-color="#676767"/><stop offset="0.508" stop-color="#6c6c6c"/><stop offset="0.536" stop-color="#737373"/><stop offset="0.581" stop-color="#5d5d5d"/><stop offset="0.592" stop-color="#626262"/><stop offset="0.626" stop-color="#828282"/><stop offset="0.654" stop-color="#888888"/><stop offset="0.682" stop-color="#878787"/><stop offset="0.732" stop-color="#707070"/><stop offset="0.760" stop-color="#838383"/><stop offset="0.827" stop-color="#c5c5c5"/><stop offset="0.883" stop-color="#dadada"/><stop offset="1.000" stop-color="#e2e2e2"/></linearGradient>
<linearGradient id="gs57" gradientUnits="userSpaceOnUse" x1="31.5" y1="0" x2="210.5" y2="0"><stop offset="0.000" stop-color="#dadada"/><stop offset="0.162" stop-color="#cfcfcf"/><stop offset="0.218" stop-color="#b6b6b6"/><stop offset="0.268" stop-color="#888888"/><stop offset="0.307" stop-color="#414141"/><stop offset="0.313" stop-color="#3f3f3f"/><stop offset="0.341" stop-color="#666666"/><stop offset="0.369" stop-color="#7b7b7b"/><stop offset="0.413" stop-color="#737373"/><stop offset="0.475" stop-color="#393939"/><stop offset="0.503" stop-color="#6d6d6d"/><stop offset="0.508" stop-color="#707070"/><stop offset="0.536" stop-color="#787878"/><stop offset="0.587" stop-color="#5e5e5e"/><stop offset="0.631" stop-color="#828282"/><stop offset="0.682" stop-color="#868686"/><stop offset="0.732" stop-color="#707070"/><stop offset="0.760" stop-color="#818181"/><stop offset="0.827" stop-color="#c4c4c4"/><stop offset="0.883" stop-color="#dadada"/><stop offset="1.000" stop-color="#e2e2e2"/></linearGradient>
<linearGradient id="gs58" gradientUnits="userSpaceOnUse" x1="31.5" y1="0" x2="210.5" y2="0"><stop offset="0.000" stop-color="#d9d9d9"/><stop offset="0.162" stop-color="#cecece"/><stop offset="0.218" stop-color="#b4b4b4"/><stop offset="0.268" stop-color="#858585"/><stop offset="0.307" stop-color="#3b3b3b"/><stop offset="0.335" stop-color="#626262"/><stop offset="0.363" stop-color="#7a7a7a"/><stop offset="0.408" stop-color="#747474"/><stop offset="0.475" stop-color="#3a3a3a"/><stop offset="0.503" stop-color="#737373"/><stop offset="0.536" stop-color="#7d7d7d"/><stop offset="0.570" stop-color="#686868"/><stop offset="0.592" stop-color="#616161"/><stop offset="0.631" stop-color="#7f7f7f"/><stop offset="0.682" stop-color="#858585"/><stop offset="0.732" stop-color="#6f6f6f"/><stop offset="0.760" stop-color="#7e7e7e"/><stop offset="0.832" stop-color="#c5c5c5"/><stop offset="0.883" stop-color="#d9d9d9"/><stop offset="1.000" stop-color="#e1e1e1"/></linearGradient>
<linearGradient id="gs59" gradientUnits="userSpaceOnUse" x1="31.5" y1="0" x2="210.5" y2="0"><stop offset="0.000" stop-color="#d9d9d9"/><stop offset="0.162" stop-color="#cdcdcd"/><stop offset="0.218" stop-color="#b3b3b3"/><stop offset="0.263" stop-color="#8a8a8a"/><stop offset="0.302" stop-color="#404040"/><stop offset="0.307" stop-color="#3e3e3e"/><stop offset="0.335" stop-color="#646464"/><stop offset="0.363" stop-color="#797979"/><stop offset="0.408" stop-color="#717171"/><stop offset="0.441" stop-color="#585858"/><stop offset="0.469" stop-color="#3b3b3b"/><stop offset="0.475" stop-color="#404040"/><stop offset="0.503" stop-color="#787878"/><stop offset="0.536" stop-color="#818181"/><stop offset="0.592" stop-color="#626262"/><stop offset="0.631" stop-color="#7d7d7d"/><stop offset="0.659" stop-color="#828282"/><stop offset="0.687" stop-color="#838383"/><stop offset="0.732" stop-color="#707070"/><stop offset="0.760" stop-color="#7c7c7c"/><stop offset="0.832" stop-color="#c4c4c4"/><stop offset="0.883" stop-color="#d8d8d8"/><stop offset="1.000" stop-color="#e1e1e1"/></linearGradient>
<linearGradient id="gs60" gradientUnits="userSpaceOnUse" x1="31.5" y1="0" x2="210.5" y2="0"><stop offset="0.000" stop-color="#d8d8d8"/><stop offset="0.156" stop-color="#cdcdcd"/><stop offset="0.212" stop-color="#b3b3b3"/><stop offset="0.263" stop-color="#878787"/><stop offset="0.302" stop-color="#3a3a3a"/><stop offset="0.330" stop-color="#616161"/><stop offset="0.358" stop-color="#787878"/><stop offset="0.402" stop-color="#717171"/><stop offset="0.441" stop-color="#575757"/><stop offset="0.469" stop-color="#3a3a3a"/><stop offset="0.503" stop-color="#7c7c7c"/><stop offset="0.536" stop-color="#858585"/><stop offset="0.598" stop-color="#646464"/><stop offset="0.631" stop-color="#7b7b7b"/><stop offset="0.665" stop-color="#808080"/><stop offset="0.687" stop-color="#828282"/><stop offset="0.737" stop-color="#717171"/><stop offset="0.765" stop-color="#7f7f7f"/><stop offset="0.832" stop-color="#c3c3c3"/><stop offset="0.888" stop-color="#d9d9d9"/><stop offset="1.000" stop-color="#e0e0e0"/></linearGradient>
<linearGradient id="gs61" gradientUnits="userSpaceOnUse" x1="31.5" y1="0" x2="210.5" y2="0"><stop offset="0.000" stop-color="#d8d8d8"/><stop offset="0.156" stop-color="#cccccc"/><stop offset="0.212" stop-color="#b1b1b1"/><stop offset="0.257" stop-color="#8a8a8a"/><stop offset="0.296" stop-color="#404040"/><stop offset="0.302" stop-color="#3e3e3e"/><stop offset="0.330" stop-color="#626262"/><stop offset="0.358" stop-color="#777777"/><stop offset="0.402" stop-color="#6e6e6e"/><stop offset="0.436" stop-color="#5a5a5a"/><stop offset="0.464" stop-color="#3d3d3d"/><stop offset="0.469" stop-color="#404040"/><stop offset="0.497" stop-color="#7a7a7a"/><stop offset="0.503" stop-color="#818181"/><stop offset="0.542" stop-color="#888888"/><stop offset="0.598" stop-color="#676767"/><stop offset="0.637" stop-color="#7a7a7a"/><stop offset="0.687" stop-color="#808080"/><stop offset="0.737" stop-color="#717171"/><stop offset="0.765" stop-color="#7d7d7d"/><stop offset="0.832" stop-color="#c1c1c1"/><stop offset="0.883" stop-color="#d7d7d7"/><stop offset="1.000" stop-color="#e0e0e0"/></linearGradient>
<linearGradient id="gs62" gradientUnits="userSpaceOnUse" x1="31.5" y1="0" x2="210.5" y2="0"><stop offset="0.000" stop-color="#d8d8d8"/><stop offset="0.156" stop-color="#cccccc"/><stop offset="0.179" stop-color="#c2c2c2"/><stop offset="0.212" stop-color="#b0b0b0"/><stop offset="0.257" stop-color="#878787"/><stop offset="0.296" stop-color="#3c3c3c"/><stop offset="0.330" stop-color="#626262"/><stop offset="0.352" stop-color="#747474"/><stop offset="0.358" stop-color="#747474"/><stop offset="0.402" stop-color="#6c6c6c"/><stop offset="0.436" stop-color="#585858"/><stop offset="0.464" stop-color="#3b3b3b"/><stop offset="0.497" stop-color="#7d7d7d"/><stop offset="0.508" stop-color="#838383"/><stop offset="0.542" stop-color="#898989"/><stop offset="0.603" stop-color="#666666"/><stop offset="0.637" stop-color="#797979"/><stop offset="0.676" stop-color="#7e7e7e"/><stop offset="0.693" stop-color="#7f7f7f"/><stop offset="0.737" stop-color="#717171"/><stop offset="0.765" stop-color="#7c7c7c"/><stop offset="0.832" stop-color="#c1c1c1"/><stop offset="0.888" stop-color="#d8d8d8"/><stop offset="1.000" stop-color="#e0e0e0"/></linearGradient>
<linearGradient id="gs63" gradientUnits="userSpaceOnUse" x1="31.5" y1="0" x2="210.5" y2="0"><stop offset="0.000" stop-color="#d7d7d7"/><stop offset="0.140" stop-color="#cecece"/><stop offset="0.179" stop-color="#c2c2c2"/><stop offset="0.212" stop-color="#afafaf"/><stop offset="0.257" stop-color="#838383"/><stop offset="0.296" stop-color="#3b3b3b"/><stop offset="0.324" stop-color="#5d5d5d"/><stop offset="0.352" stop-color="#737373"/><stop offset="0.397" stop-color="#6d6d6d"/><stop offset="0.430" stop-color="#5a5a5a"/><stop offset="0.458" stop-color="#3f3f3f"/><stop offset="0.464" stop-color="#414141"/><stop offset="0.497" stop-color="#7f7f7f"/><stop offset="0.536" stop-color="#8b8b8b"/><stop offset="0.603" stop-color="#666666"/><stop offset="0.637" stop-color="#777777"/><stop offset="0.676" stop-color="#7e7e7e"/><stop offset="0.693" stop-color="#7f7f7f"/><stop offset="0.737" stop-color="#707070"/><stop offset="0.765" stop-color="#7b7b7b"/><stop offset="0.832" stop-color="#c1c1c1"/><stop offset="0.888" stop-color="#d8d8d8"/><stop offset="1.000" stop-color="#e0e0e0"/></linearGradient>
<linearGradient id="gs64" gradientUnits="userSpaceOnUse" x1="31.5" y1="0" x2="210.5" y2="0"><stop offset="0.000" stop-color="#d7d7d7"/><stop offset="0.134" stop-color="#cfcfcf"/><stop offset="0.179" stop-color="#c1c1c1"/><stop offset="0.212" stop-color="#adadad"/><stop offset="0.246" stop-color="#8c8c8c"/><stop offset="0.257" stop-color="#7f7f7f"/><stop offset="0.291" stop-color="#404040"/><stop offset="0.296" stop-color="#3d3d3d"/><stop offset="0.324" stop-color="#5d5d5d"/><stop offset="0.352" stop-color="#707070"/><stop offset="0.391" stop-color="#6d6d6d"/><stop offset="0.408" stop-color="#666666"/><stop offset="0.430" stop-color="#585858"/><stop offset="0.458" stop-color="#3d3d3d"/><stop offset="0.497" stop-color="#7f7f7f"/><stop offset="0.508" stop-color="#878787"/><stop offset="0.542" stop-color="#8b8b8b"/><stop offset="0.609" stop-color="#656565"/><stop offset="0.642" stop-color="#777777"/><stop offset="0.676" stop-color="#7e7e7e"/><stop offset="0.698" stop-color="#7e7e7e"/><stop offset="0.737" stop-color="#717171"/><stop offset="0.765" stop-color="#7b7b7b"/><stop offset="0.838" stop-color="#c3c3c3"/><stop offset="0.888" stop-color="#d7d7d7"/><stop offset="1.000" stop-color="#e0e0e0"/></linearGradient>
<linearGradient id="gs65" gradientUnits="userSpaceOnUse" x1="31.5" y1="0" x2="210.5" y2="0"><stop offset="0.000" stop-color="#d6d6d6"/><stop offset="0.134" stop-color="#cfcfcf"/><stop offset="0.179" stop-color="#c1c1c1"/><stop offset="0.212" stop-color="#acacac"/><stop offset="0.240" stop-color="#909090"/><stop offset="0.257" stop-color="#7a7a7a"/><stop offset="0.291" stop-color="#3e3e3e"/><stop offset="0.296" stop-color="#3f3f3f"/><stop offset="0.341" stop-color="#6a6a6a"/><stop offset="0.352" stop-color="#6e6e6e"/><stop offset="0.391" stop-color="#6c6c6c"/><stop offset="0.425" stop-color="#5a5a5a"/><stop offset="0.453" stop-color="#414141"/><stop offset="0.458" stop-color="#414141"/><stop offset="0.497" stop-color="#808080"/><stop offset="0.508" stop-color="#888888"/><stop offset="0.536" stop-color="#8d8d8d"/><stop offset="0.609" stop-color="#646464"/><stop offset="0.642" stop-color="#767676"/><stop offset="0.676" stop-color="#7e7e7e"/><stop offset="0.698" stop-color="#7e7e7e"/><stop offset="0.743" stop-color="#717171"/><stop offset="0.765" stop-color="#7a7a7a"/><stop offset="0.838" stop-color="#c3c3c3"/><stop offset="0.888" stop-color="#d7d7d7"/><stop offset="1.000" stop-color="#e0e0e0"/></linearGradient>
<linearGradient id="gs66" gradientUnits="userSpaceOnUse" x1="31.5" y1="0" x2="210.5" y2="0"><stop offset="0.000" stop-color="#d6d6d6"/><stop offset="0.134" stop-color="#cfcfcf"/><stop offset="0.173" stop-color="#c4c4c4"/><stop offset="0.207" stop-color="#aeaeae"/><stop offset="0.240" stop-color="#8d8d8d"/><stop offset="0.251" stop-color="#7e7e7e"/><stop offset="0.291" stop-color="#3c3c3c"/><stop offset="0.341" stop-color="#696969"/><stop offset="0.369" stop-color="#6d6d6d"/><stop offset="0.408" stop-color="#636363"/><stop offset="0.453" stop-color="#3f3f3f"/><stop offset="0.497" stop-color="#818181"/><stop offset="0.508" stop-color="#8a8a8a"/><stop offset="0.536" stop-color="#8e8e8e"/><stop offset="0.609" stop-color="#646464"/><stop offset="0.682" stop-color="#7f7f7f"/><stop offset="0.743" stop-color="#717171"/><stop offset="0.771" stop-color="#7e7e7e"/><stop offset="0.838" stop-color="#c3c3c3"/><stop offset="0.888" stop-color="#d6d6d6"/><stop offset="1.000" stop-color="#e0e0e0"/></linearGradient>
<linearGradient id="gs67" gradientUnits="userSpaceOnUse" x1="31.5" y1="0" x2="210.5" y2="0"><stop offset="0.000" stop-color="#d6d6d6"/><stop offset="0.134" stop-color="#cfcfcf"/><stop offset="0.173" stop-color="#c3c3c3"/><stop offset="0.207" stop-color="#adadad"/><stop offset="0.235" stop-color="#919191"/><stop offset="0.251" stop-color="#7a7a7a"/><stop offset="0.285" stop-color="#414141"/><stop offset="0.291" stop-color="#3c3c3c"/><stop offset="0.341" stop-color="#696969"/><stop offset="0.369" stop-color="#6c6c6c"/><stop offset="0.402" stop-color="#656565"/><stop offset="0.453" stop-color="#424242"/><stop offset="0.492" stop-color="#7d7d7d"/><stop offset="0.503" stop-color="#888888"/><stop offset="0.536" stop-color="#8f8f8f"/><stop offset="0.615" stop-color="#636363"/><stop offset="0.682" stop-color="#7f7f7f"/><stop offset="0.743" stop-color="#717171"/><stop offset="0.771" stop-color="#7d7d7d"/><stop offset="0.838" stop-color="#c3c3c3"/><stop offset="0.888" stop-color="#d6d6d6"/><stop offset="1.000" stop-color="#e0e0e0"/></linearGradient>
<linearGradient id="gs68" gradientUnits="userSpaceOnUse" x1="31.5" y1="0" x2="210.5" y2="0"><stop offset="0.000" stop-color="#d5d5d5"/><stop offset="0.134" stop-color="#cfcfcf"/><stop offset="0.173" stop-color="#c3c3c3"/><stop offset="0.207" stop-color="#ababab"/><stop offset="0.235" stop-color="#8e8e8e"/><stop offset="0.279" stop-color="#464646"/><stop offset="0.291" stop-color="#3e3e3e"/><stop offset="0.341" stop-color="#686868"/><stop offset="0.369" stop-color="#6b6b6b"/><stop offset="0.402" stop-color="#646464"/><stop offset="0.447" stop-color="#414141"/><stop offset="0.503" stop-color="#8b8b8b"/><stop offset="0.536" stop-color="#909090"/><stop offset="0.615" stop-color="#636363"/><stop offset="0.682" stop-color="#7f7f7f"/><stop offset="0.743" stop-color="#707070"/><stop offset="0.771" stop-color="#7c7c7c"/><stop offset="0.799" stop-color="#9d9d9d"/><stop offset="0.838" stop-color="#c3c3c3"/><stop offset="0.888" stop-color="#d6d6d6"/><stop offset="1.000" stop-color="#e0e0e0"/></linearGradient>
<linearGradient id="gs69" gradientUnits="userSpaceOnUse" x1="31.5" y1="0" x2="210.5" y2="0"><stop offset="0.000" stop-color="#d5d5d5"/><stop offset="0.128" stop-color="#d0d0d0"/><stop offset="0.173" stop-color="#c3c3c3"/><stop offset="0.207" stop-color="#aaaaaa"/><stop offset="0.235" stop-color="#8c8c8c"/><stop offset="0.285" stop-color="#3d3d3d"/><stop offset="0.335" stop-color="#636363"/><stop offset="0.363" stop-color="#6a6a6a"/><stop offset="0.402" stop-color="#626262"/><stop offset="0.447" stop-color="#444444"/><stop offset="0.503" stop-color="#8d8d8d"/><stop offset="0.536" stop-color="#919191"/><stop offset="0.615" stop-color="#636363"/><stop offset="0.687" stop-color="#7f7f7f"/><stop offset="0.743" stop-color="#707070"/><stop offset="0.771" stop-color="#7b7b7b"/><stop offset="0.799" stop-color="#9d9d9d"/><stop offset="0.838" stop-color="#c3c3c3"/><stop offset="0.888" stop-color="#d5d5d5"/><stop offset="1.000" stop-color="#e0e0e0"/></linearGradient>
<linearGradient id="gs70" gradientUnits="userSpaceOnUse" x1="31.5" y1="0" x2="210.5" y2="0"><stop offset="0.000" stop-color="#d5d5d5"/><stop offset="0.128" stop-color="#d0d0d0"/><stop offset="0.173" stop-color="#c3c3c3"/><stop offset="0.207" stop-color="#a8a8a8"/><stop offset="0.235" stop-color="#888888"/><stop offset="0.257" stop-color="#626262"/><stop offset="0.285" stop-color="#3c3c3c"/><stop offset="0.335" stop-color="#636363"/><stop offset="0.363" stop-color="#696969"/><stop offset="0.397" stop-color="#646464"/><stop offset="0.441" stop-color="#434343"/><stop offset="0.469" stop-color="#616161"/><stop offset="0.503" stop-color="#8e8e8e"/><stop offset="0.536" stop-color="#929292"/><stop offset="0.620" stop-color="#616161"/><stop offset="0.687" stop-color="#808080"/><stop offset="0.743" stop-color="#6f6f6f"/><stop offset="0.771" stop-color="#7a7a7a"/><stop offset="0.799" stop-color="#9d9d9d"/><stop offset="0.844" stop-color="#c5c5c5"/><stop offset="0.888" stop-color="#d5d5d5"/><stop offset="1.000" stop-color="#e0e0e0"/></linearGradient>
<linearGradient id="gs71" gradientUnits="userSpaceOnUse" x1="31.5" y1="0" x2="210.5" y2="0"><stop offset="0.000" stop-color="#d4d4d4"/><stop offset="0.128" stop-color="#d0d0d0"/><stop offset="0.173" stop-color="#c2c2c2"/><stop offset="0.207" stop-color="#a6a6a6"/><stop offset="0.229" stop-color="#8d8d8d"/><stop offset="0.274" stop-color="#454545"/><stop offset="0.285" stop-color="#3d3d3d"/><stop offset="0.335" stop-color="#626262"/><stop offset="0.363" stop-color="#686868"/><stop offset="0.397" stop-color="#636363"/><stop offset="0.441" stop-color="#454545"/><stop offset="0.469" stop-color="#636363"/><stop offset="0.503" stop-color="#909090"/><stop offset="0.542" stop-color="#929292"/><stop offset="0.620" stop-color="#616161"/><stop offset="0.687" stop-color="#7f7f7f"/><stop offset="0.715" stop-color="#7b7b7b"/><stop offset="0.743" stop-color="#6f6f6f"/><stop offset="0.771" stop-color="#797979"/><stop offset="0.804" stop-color="#a3a3a3"/><stop offset="0.844" stop-color="#c5c5c5"/><stop offset="0.888" stop-color="#d5d5d5"/><stop offset="1.000" stop-color="#e0e0e0"/></linearGradient>
<linearGradient id="gs72" gradientUnits="userSpaceOnUse" x1="31.5" y1="0" x2="210.5" y2="0"><stop offset="0.000" stop-color="#d4d4d4"/><stop offset="0.128" stop-color="#cfcfcf"/><stop offset="0.168" stop-color="#c4c4c4"/><stop offset="0.201" stop-color="#a8a8a8"/><stop offset="0.229" stop-color="#888888"/><stop offset="0.257" stop-color="#595959"/><stop offset="0.279" stop-color="#3d3d3d"/><stop offset="0.330" stop-color="#5e5e5e"/><stop offset="0.358" stop-color="#676767"/><stop offset="0.391" stop-color="#646464"/><stop offset="0.436" stop-color="#454545"/><stop offset="0.464" stop-color="#5f5f5f"/><stop offset="0.497" stop-color="#8d8d8d"/><stop offset="0.508" stop-color="#929292"/><stop offset="0.542" stop-color="#939393"/><stop offset="0.626" stop-color="#606060"/><stop offset="0.693" stop-color="#808080"/><stop offset="0.749" stop-color="#6f6f6f"/><stop offset="0.777" stop-color="#7c7c7c"/><stop offset="0.804" stop-color="#a1a1a1"/><stop offset="0.844" stop-color="#c3c3c3"/><stop offset="0.888" stop-color="#d3d3d3"/><stop offset="1.000" stop-color="#dfdfdf"/></linearGradient>
<linearGradient id="gs73" gradientUnits="userSpaceOnUse" x1="31.5" y1="0" x2="210.5" y2="0"><stop offset="0.000" stop-color="#d3d3d3"/><stop offset="0.128" stop-color="#cecece"/><stop offset="0.168" stop-color="#c1c1c1"/><stop offset="0.201" stop-color="#a4a4a4"/><stop offset="0.218" stop-color="#909090"/><stop offset="0.229" stop-color="#828282"/><stop offset="0.251" stop-color="#5a5a5a"/><stop offset="0.274" stop-color="#3e3e3e"/><stop offset="0.279" stop-color="#3c3c3c"/><stop offset="0.330" stop-color="#5e5e5e"/><stop offset="0.358" stop-color="#656565"/><stop offset="0.391" stop-color="#616161"/><stop offset="0.436" stop-color="#454545"/><stop offset="0.464" stop-color="#626262"/><stop offset="0.497" stop-color="#8f8f8f"/><stop offset="0.508" stop-color="#939393"/><stop offset="0.542" stop-color="#959595"/><stop offset="0.626" stop-color="#616161"/><stop offset="0.693" stop-color="#7f7f7f"/><stop offset="0.721" stop-color="#7a7a7a"/><stop offset="0.749" stop-color="#6f6f6f"/><stop offset="0.777" stop-color="#797979"/><stop offset="0.804" stop-color="#9d9d9d"/><stop offset="0.844" stop-color="#c0c0c0"/><stop offset="0.888" stop-color="#d1d1d1"/><stop offset="1.000" stop-color="#dedede"/></linearGradient>
<linearGradient id="gs74" gradientUnits="userSpaceOnUse" x1="31.5" y1="0" x2="210.5" y2="0"><stop offset="0.000" stop-color="#d3d3d3"/><stop offset="0.128" stop-color="#cccccc"/><stop offset="0.168" stop-color="#bdbdbd"/><stop offset="0.196" stop-color="#a4a4a4"/><stop offset="0.218" stop-color="#8a8a8a"/><stop offset="0.251" stop-color="#545454"/><stop offset="0.274" stop-color="#3c3c3c"/><stop offset="0.324" stop-color="#5b5b5b"/><stop offset="0.352" stop-color="#636363"/><stop offset="0.385" stop-color="#616161"/><stop offset="0.430" stop-color="#454545"/><stop offset="0.458" stop-color="#5f5f5f"/><stop offset="0.497" stop-color="#919191"/><stop offset="0.508" stop-color="#959595"/><stop offset="0.542" stop-color="#979797"/><stop offset="0.631" stop-color="#5f5f5f"/><stop offset="0.698" stop-color="#7f7f7f"/><stop offset="0.754" stop-color="#707070"/><stop offset="0.782" stop-color="#7d7d7d"/><stop offset="0.810" stop-color="#9e9e9e"/><stop offset="0.849" stop-color="#bfbfbf"/><stop offset="0.888" stop-color="#cfcfcf"/><stop offset="1.000" stop-color="#dddddd"/></linearGradient>
<linearGradient id="gs75" gradientUnits="userSpaceOnUse" x1="31.5" y1="0" x2="210.5" y2="0"><stop offset="0.000" stop-color="#d3d3d3"/><stop offset="0.123" stop-color="#cccccc"/><stop offset="0.162" stop-color="#bdbdbd"/><stop offset="0.196" stop-color="#a0a0a0"/><stop offset="0.223" stop-color="#7d7d7d"/><stop offset="0.251" stop-color="#4f4f4f"/><stop offset="0.274" stop-color="#3b3b3b"/><stop offset="0.324" stop-color="#5b5b5b"/><stop offset="0.352" stop-color="#626262"/><stop offset="0.385" stop-color="#5f5f5f"/><stop offset="0.430" stop-color="#454545"/><stop offset="0.458" stop-color="#626262"/><stop offset="0.497" stop-color="#939393"/><stop offset="0.508" stop-color="#969696"/><stop offset="0.547" stop-color="#979797"/><stop offset="0.637" stop-color="#606060"/><stop offset="0.698" stop-color="#7e7e7e"/><stop offset="0.715" stop-color="#7d7d7d"/><stop offset="0.754" stop-color="#6f6f6f"/><stop offset="0.782" stop-color="#7a7a7a"/><stop offset="0.832" stop-color="#b0b0b0"/><stop offset="0.877" stop-color="#c9c9c9"/><stop offset="0.944" stop-color="#d7d7d7"/><stop offset="1.000" stop-color="#dcdcdc"/></linearGradient>
<linearGradient id="gs76" gradientUnits="userSpaceOnUse" x1="31.5" y1="0" x2="210.5" y2="0"><stop offset="0.000" stop-color="#d2d2d2"/><stop offset="0.123" stop-color="#cacaca"/><stop offset="0.162" stop-color="#bababa"/><stop offset="0.196" stop-color="#9b9b9b"/><stop offset="0.218" stop-color="#7e7e7e"/><stop offset="0.246" stop-color="#4f4f4f"/><stop offset="0.268" stop-color="#3b3b3b"/><stop offset="0.318" stop-color="#585858"/><stop offset="0.346" stop-color="#606060"/><stop offset="0.380" stop-color="#5e5e5e"/><stop offset="0.425" stop-color="#454545"/><stop offset="0.458" stop-color="#656565"/><stop offset="0.497" stop-color="#949494"/><stop offset="0.508" stop-color="#989898"/><stop offset="0.547" stop-color="#999999"/><stop offset="0.587" stop-color="#848484"/><stop offset="0.637" stop-color="#5f5f5f"/><stop offset="0.704" stop-color="#7e7e7e"/><stop offset="0.760" stop-color="#717171"/><stop offset="0.782" stop-color="#787878"/><stop offset="0.832" stop-color="#acacac"/><stop offset="0.877" stop-color="#c6c6c6"/><stop offset="0.939" stop-color="#d4d4d4"/><stop offset="1.000" stop-color="#dbdbdb"/></linearGradient>
<linearGradient id="gs77" gradientUnits="userSpaceOnUse" x1="31.5" y1="0" x2="210.5" y2="0"><stop offset="0.000" stop-color="#d2d2d2"/><stop offset="0.078" stop-color="#cecece"/><stop offset="0.140" stop-color="#c4c4c4"/><stop offset="0.179" stop-color="#a9a9a9"/><stop offset="0.218" stop-color="#787878"/><stop offset="0.246" stop-color="#4a4a4a"/><stop offset="0.268" stop-color="#3b3b3b"/><stop offset="0.318" stop-color="#585858"/><stop offset="0.346" stop-color="#5f5f5f"/><stop offset="0.380" stop-color="#5c5c5c"/><stop offset="0.425" stop-color="#454545"/><stop offset="0.503" stop-color="#999999"/><stop offset="0.547" stop-color="#9b9b9b"/><stop offset="0.587" stop-color="#888888"/><stop offset="0.642" stop-color="#5e5e5e"/><stop offset="0.709" stop-color="#7e7e7e"/><stop offset="0.765" stop-color="#717171"/><stop offset="0.788" stop-color="#7a7a7a"/><stop offset="0.832" stop-color="#a8a8a8"/><stop offset="0.877" stop-color="#c3c3c3"/><stop offset="0.939" stop-color="#d3d3d3"/><stop offset="1.000" stop-color="#d9d9d9"/></linearGradient>
<linearGradient id="gs78" gradientUnits="userSpaceOnUse" x1="31.5" y1="0" x2="210.5" y2="0"><stop offset="0.000" stop-color="#d1d1d1"/><stop offset="0.078" stop-color="#cdcdcd"/><stop offset="0.140" stop-color="#c2c2c2"/><stop offset="0.179" stop-color="#a5a5a5"/><stop offset="0.212" stop-color="#7a7a7a"/><stop offset="0.240" stop-color="#4a4a4a"/><stop offset="0.263" stop-color="#3a3a3a"/><stop offset="0.313" stop-color="#555555"/><stop offset="0.346" stop-color="#5d5d5d"/><stop offset="0.374" stop-color="#5c5c5c"/><stop offset="0.419" stop-color="#454545"/><stop offset="0.503" stop-color="#9b9b9b"/><stop offset="0.547" stop-color="#9e9e9e"/><stop offset="0.587" stop-color="#8a8a8a"/><stop offset="0.642" stop-color="#5f5f5f"/><stop offset="0.715" stop-color="#7e7e7e"/><stop offset="0.765" stop-color="#717171"/><stop offset="0.793" stop-color="#7c7c7c"/><stop offset="0.838" stop-color="#aaaaaa"/><stop offset="0.883" stop-color="#c3c3c3"/><stop offset="0.944" stop-color="#d2d2d2"/><stop offset="1.000" stop-color="#d8d8d8"/></linearGradient>
<linearGradient id="gs79" gradientUnits="userSpaceOnUse" x1="31.5" y1="0" x2="210.5" y2="0"><stop offset="0.000" stop-color="#d1d1d1"/><stop offset="0.134" stop-color="#c3c3c3"/><stop offset="0.173" stop-color="#a7a7a7"/><stop offset="0.207" stop-color="#7b7b7b"/><stop offset="0.240" stop-color="#464646"/><stop offset="0.263" stop-color="#3a3a3a"/><stop offset="0.313" stop-color="#555555"/><stop offset="0.341" stop-color="#5b5b5b"/><stop offset="0.369" stop-color="#5b5b5b"/><stop offset="0.419" stop-color="#454545"/><stop offset="0.503" stop-color="#9c9c9c"/><stop offset="0.553" stop-color="#9d9d9d"/><stop offset="0.592" stop-color="#8a8a8a"/><stop offset="0.648" stop-color="#5d5d5d"/><stop offset="0.721" stop-color="#7f7f7f"/><stop offset="0.771" stop-color="#717171"/><stop offset="0.793" stop-color="#797979"/><stop offset="0.838" stop-color="#a6a6a6"/><stop offset="0.883" stop-color="#c1c1c1"/><stop offset="0.944" stop-color="#d1d1d1"/><stop offset="1.000" stop-color="#d7d7d7"/></linearGradient>
<linearGradient id="gs80" gradientUnits="userSpaceOnUse" x1="31.5" y1="0" x2="210.5" y2="0"><stop offset="0.000" stop-color="#d1d1d1"/><stop offset="0.078" stop-color="#cbcbcb"/><stop offset="0.134" stop-color="#c1c1c1"/><stop offset="0.173" stop-color="#a3a3a3"/><stop offset="0.207" stop-color="#757575"/><stop offset="0.235" stop-color="#464646"/><stop offset="0.257" stop-color="#393939"/><stop offset="0.318" stop-color="#575757"/><stop offset="0.358" stop-color="#5c5c5c"/><stop offset="0.413" stop-color="#454545"/><stop offset="0.503" stop-color="#9e9e9e"/><stop offset="0.553" stop-color="#9f9f9f"/><stop offset="0.592" stop-color="#8d8d8d"/><stop offset="0.654" stop-color="#5e5e5e"/><stop offset="0.687" stop-color="#717171"/><stop offset="0.726" stop-color="#7f7f7f"/><stop offset="0.771" stop-color="#707070"/><stop offset="0.799" stop-color="#7a7a7a"/><stop offset="0.838" stop-color="#a3a3a3"/><stop offset="0.883" stop-color="#bebebe"/><stop offset="0.944" stop-color="#cfcfcf"/><stop offset="1.000" stop-color="#d6d6d6"/></linearGradient>
<linearGradient id="gs81" gradientUnits="userSpaceOnUse" x1="31.5" y1="0" x2="210.5" y2="0"><stop offset="0.000" stop-color="#d0d0d0"/><stop offset="0.078" stop-color="#cacaca"/><stop offset="0.134" stop-color="#bfbfbf"/><stop offset="0.173" stop-color="#9e9e9e"/><stop offset="0.235" stop-color="#414141"/><stop offset="0.257" stop-color="#393939"/><stop offset="0.313" stop-color="#545454"/><stop offset="0.352" stop-color="#5a5a5a"/><stop offset="0.413" stop-color="#454545"/><stop offset="0.469" stop-color="#818181"/><stop offset="0.503" stop-color="#9f9f9f"/><stop offset="0.553" stop-color="#a2a2a2"/><stop offset="0.592" stop-color="#909090"/><stop offset="0.654" stop-color="#5d5d5d"/><stop offset="0.726" stop-color="#7f7f7f"/><stop offset="0.777" stop-color="#717171"/><stop offset="0.799" stop-color="#787878"/><stop offset="0.838" stop-color="#9f9f9f"/><stop offset="0.883" stop-color="#bcbcbc"/><stop offset="0.944" stop-color="#cdcdcd"/><stop offset="1.000" stop-color="#d5d5d5"/></linearGradient>
<linearGradient id="gs82" gradientUnits="userSpaceOnUse" x1="31.5" y1="0" x2="210.5" y2="0"><stop offset="0.000" stop-color="#d0d0d0"/><stop offset="0.078" stop-color="#c9c9c9"/><stop offset="0.134" stop-color="#bdbdbd"/><stop offset="0.173" stop-color="#9b9b9b"/><stop offset="0.201" stop-color="#747474"/><stop offset="0.229" stop-color="#444444"/><stop offset="0.251" stop-color="#393939"/><stop offset="0.313" stop-color="#545454"/><stop offset="0.352" stop-color="#595959"/><stop offset="0.408" stop-color="#444444"/><stop offset="0.497" stop-color="#9e9e9e"/><stop offset="0.508" stop-color="#a1a1a1"/><stop offset="0.547" stop-color="#a4a4a4"/><stop offset="0.587" stop-color="#959595"/><stop offset="0.659" stop-color="#5d5d5d"/><stop offset="0.732" stop-color="#7f7f7f"/><stop offset="0.777" stop-color="#707070"/><stop offset="0.804" stop-color="#797979"/><stop offset="0.844" stop-color="#a1a1a1"/><stop offset="0.888" stop-color="#bcbcbc"/><stop offset="0.944" stop-color="#cccccc"/><stop offset="1.000" stop-color="#d3d3d3"/></linearGradient>
<linearGradient id="gs83" gradientUnits="userSpaceOnUse" x1="31.5" y1="0" x2="210.5" y2="0"><stop offset="0.000" stop-color="#cfcfcf"/><stop offset="0.128" stop-color="#bfbfbf"/><stop offset="0.168" stop-color="#a2a2a2"/><stop offset="0.201" stop-color="#747474"/><stop offset="0.229" stop-color="#444444"/><stop offset="0.251" stop-color="#393939"/><stop offset="0.307" stop-color="#525252"/><stop offset="0.346" stop-color="#585858"/><stop offset="0.408" stop-color="#444444"/><stop offset="0.464" stop-color="#7f7f7f"/><stop offset="0.503" stop-color="#a1a1a1"/><stop offset="0.547" stop-color="#a5a5a5"/><stop offset="0.587" stop-color="#969696"/><stop offset="0.659" stop-color="#5d5d5d"/><stop offset="0.732" stop-color="#7e7e7e"/><stop offset="0.777" stop-color="#717171"/><stop offset="0.804" stop-color="#787878"/><stop offset="0.844" stop-color="#9e9e9e"/><stop offset="0.888" stop-color="#bababa"/><stop offset="0.944" stop-color="#cbcbcb"/><stop offset="1.000" stop-color="#d2d2d2"/></linearGradient>
<linearGradient id="gs84" gradientUnits="userSpaceOnUse" x1="31.5" y1="0" x2="210.5" y2="0"><stop offset="0.000" stop-color="#cecece"/><stop offset="0.073" stop-color="#c9c9c9"/><stop offset="0.128" stop-color="#bebebe"/><stop offset="0.168" stop-color="#a1a1a1"/><stop offset="0.201" stop-color="#737373"/><stop offset="0.223" stop-color="#4a4a4a"/><stop offset="0.246" stop-color="#393939"/><stop offset="0.307" stop-color="#525252"/><stop offset="0.346" stop-color="#575757"/><stop offset="0.380" stop-color="#4e4e4e"/><stop offset="0.402" stop-color="#424242"/><stop offset="0.430" stop-color="#5b5b5b"/><stop offset="0.480" stop-color="#919191"/><stop offset="0.497" stop-color="#a0a0a0"/><stop offset="0.508" stop-color="#a3a3a3"/><stop offset="0.547" stop-color="#a6a6a6"/><stop offset="0.587" stop-color="#989898"/><stop offset="0.665" stop-color="#5e5e5e"/><stop offset="0.737" stop-color="#7d7d7d"/><stop offset="0.782" stop-color="#707070"/><stop offset="0.810" stop-color="#7a7a7a"/><stop offset="0.849" stop-color="#9f9f9f"/><stop offset="0.888" stop-color="#b8b8b8"/><stop offset="0.944" stop-color="#cacaca"/><stop offset="1.000" stop-color="#d1d1d1"/></linearGradient>
<linearGradient id="gs85" gradientUnits="userSpaceOnUse" x1="31.5" y1="0" x2="210.5" y2="0"><stop offset="0.000" stop-color="#cdcdcd"/><stop offset="0.073" stop-color="#c8c8c8"/><stop offset="0.128" stop-color="#bdbdbd"/><stop offset="0.168" stop-color="#a0a0a0"/><stop offset="0.201" stop-color="#737373"/><stop offset="0.223" stop-color="#494949"/><stop offset="0.246" stop-color="#393939"/><stop offset="0.302" stop-color="#505050"/><stop offset="0.341" stop-color="#565656"/><stop offset="0.402" stop-color="#424242"/><stop offset="0.475" stop-color="#8d8d8d"/><stop offset="0.503" stop-color="#a2a2a2"/><stop offset="0.547" stop-color="#a7a7a7"/><stop offset="0.587" stop-color="#999999"/><stop offset="0.620" stop-color="#838383"/><stop offset="0.659" stop-color="#626262"/><stop offset="0.670" stop-color="#5e5e5e"/><stop offset="0.737" stop-color="#7b7b7b"/><stop offset="0.788" stop-color="#717171"/><stop offset="0.816" stop-color="#7c7c7c"/><stop offset="0.849" stop-color="#9d9d9d"/><stop offset="0.894" stop-color="#b9b9b9"/><stop offset="0.944" stop-color="#c9c9c9"/><stop offset="1.000" stop-color="#d0d0d0"/></linearGradient>
<linearGradient id="gs86" gradientUnits="userSpaceOnUse" x1="31.5" y1="0" x2="210.5" y2="0"><stop offset="0.000" stop-color="#cccccc"/><stop offset="0.078" stop-color="#c7c7c7"/><stop offset="0.123" stop-color="#bebebe"/><stop offset="0.140" stop-color="#b5b5b5"/><stop offset="0.173" stop-color="#999999"/><stop offset="0.201" stop-color="#727272"/><stop offset="0.218" stop-color="#515151"/><stop offset="0.240" stop-color="#393939"/><stop offset="0.302" stop-color="#505050"/><stop offset="0.341" stop-color="#555555"/><stop offset="0.369" stop-color="#4f4f4f"/><stop offset="0.397" stop-color="#404040"/><stop offset="0.425" stop-color="#575757"/><stop offset="0.475" stop-color="#8f8f8f"/><stop offset="0.503" stop-color="#a3a3a3"/><stop offset="0.547" stop-color="#a7a7a7"/><stop offset="0.592" stop-color="#989898"/><stop offset="0.670" stop-color="#5d5d5d"/><stop offset="0.743" stop-color="#7b7b7b"/><stop offset="0.793" stop-color="#727272"/><stop offset="0.816" stop-color="#7a7a7a"/><stop offset="0.855" stop-color="#9e9e9e"/><stop offset="0.894" stop-color="#b7b7b7"/><stop offset="0.950" stop-color="#c9c9c9"/><stop offset="1.000" stop-color="#cfcfcf"/></linearGradient>
<linearGradient id="gs87" gradientUnits="userSpaceOnUse" x1="31.5" y1="0" x2="210.5" y2="0"><stop offset="0.000" stop-color="#cccccc"/><stop offset="0.078" stop-color="#c6c6c6"/><stop offset="0.123" stop-color="#bdbdbd"/><stop offset="0.140" stop-color="#b5b5b5"/><stop offset="0.168" stop-color="#9f9f9f"/><stop offset="0.196" stop-color="#7b7b7b"/><stop offset="0.218" stop-color="#4f4f4f"/><stop offset="0.240" stop-color="#393939"/><stop offset="0.268" stop-color="#464646"/><stop offset="0.335" stop-color="#545454"/><stop offset="0.369" stop-color="#4d4d4d"/><stop offset="0.397" stop-color="#404040"/><stop offset="0.425" stop-color="#595959"/><stop offset="0.475" stop-color="#909090"/><stop offset="0.503" stop-color="#a4a4a4"/><stop offset="0.547" stop-color="#a8a8a8"/><stop offset="0.592" stop-color="#9a9a9a"/><stop offset="0.626" stop-color="#848484"/><stop offset="0.654" stop-color="#696969"/><stop offset="0.676" stop-color="#5d5d5d"/><stop offset="0.743" stop-color="#797979"/><stop offset="0.793" stop-color="#707070"/><stop offset="0.821" stop-color="#7c7c7c"/><stop offset="0.866" stop-color="#a4a4a4"/><stop offset="0.905" stop-color="#bbbbbb"/><stop offset="0.950" stop-color="#c8c8c8"/><stop offset="1.000" stop-color="#cdcdcd"/></linearGradient>
<linearGradient id="gs88" gradientUnits="userSpaceOnUse" x1="31.5" y1="0" x2="210.5" y2="0"><stop offset="0.000" stop-color="#cbcbcb"/><stop offset="0.078" stop-color="#c6c6c6"/><stop offset="0.140" stop-color="#b4b4b4"/><stop offset="0.162" stop-color="#a5a5a5"/><stop offset="0.190" stop-color="#838383"/><stop offset="0.212" stop-color="#575757"/><stop offset="0.235" stop-color="#3a3a3a"/><stop offset="0.268" stop-color="#464646"/><stop offset="0.335" stop-color="#535353"/><stop offset="0.363" stop-color="#4d4d4d"/><stop offset="0.391" stop-color="#3e3e3e"/><stop offset="0.419" stop-color="#545454"/><stop offset="0.469" stop-color="#8d8d8d"/><stop offset="0.503" stop-color="#a5a5a5"/><stop offset="0.547" stop-color="#a9a9a9"/><stop offset="0.592" stop-color="#9c9c9c"/><stop offset="0.626" stop-color="#868686"/><stop offset="0.654" stop-color="#6b6b6b"/><stop offset="0.676" stop-color="#5c5c5c"/><stop offset="0.749" stop-color="#797979"/><stop offset="0.799" stop-color="#717171"/><stop offset="0.821" stop-color="#7a7a7a"/><stop offset="0.866" stop-color="#a2a2a2"/><stop offset="0.905" stop-color="#b9b9b9"/><stop offset="0.950" stop-color="#c7c7c7"/><stop offset="1.000" stop-color="#cccccc"/></linearGradient>
<linearGradient id="gs89" gradientUnits="userSpaceOnUse" x1="31.5" y1="0" x2="210.5" y2="0"><stop offset="0.000" stop-color="#cacaca"/><stop offset="0.078" stop-color="#c5c5c5"/><stop offset="0.140" stop-color="#b4b4b4"/><stop offset="0.162" stop-color="#a5a5a5"/><stop offset="0.190" stop-color="#838383"/><stop offset="0.212" stop-color="#555555"/><stop offset="0.235" stop-color="#393939"/><stop offset="0.263" stop-color="#454545"/><stop offset="0.335" stop-color="#525252"/><stop offset="0.391" stop-color="#3e3e3e"/><stop offset="0.419" stop-color="#565656"/><stop offset="0.469" stop-color="#8e8e8e"/><stop offset="0.503" stop-color="#a6a6a6"/><stop offset="0.547" stop-color="#aaaaaa"/><stop offset="0.592" stop-color="#9d9d9d"/><stop offset="0.631" stop-color="#848484"/><stop offset="0.659" stop-color="#686868"/><stop offset="0.682" stop-color="#5c5c5c"/><stop offset="0.749" stop-color="#777777"/><stop offset="0.765" stop-color="#797979"/><stop offset="0.799" stop-color="#707070"/><stop offset="0.832" stop-color="#808080"/><stop offset="0.872" stop-color="#a3a3a3"/><stop offset="0.911" stop-color="#bababa"/><stop offset="0.950" stop-color="#c6c6c6"/><stop offset="1.000" stop-color="#cbcbcb"/></linearGradient>
<linearGradient id="gs90" gradientUnits="userSpaceOnUse" x1="31.5" y1="0" x2="210.5" y2="0"><stop offset="0.000" stop-color="#c9c9c9"/><stop offset="0.078" stop-color="#c4c4c4"/><stop offset="0.134" stop-color="#b7b7b7"/><stop offset="0.162" stop-color="#a5a5a5"/><stop offset="0.190" stop-color="#848484"/><stop offset="0.212" stop-color="#545454"/><stop offset="0.229" stop-color="#3a3a3a"/><stop offset="0.235" stop-color="#3a3a3a"/><stop offset="0.263" stop-color="#454545"/><stop offset="0.330" stop-color="#515151"/><stop offset="0.358" stop-color="#4b4b4b"/><stop offset="0.385" stop-color="#3c3c3c"/><stop offset="0.413" stop-color="#515151"/><stop offset="0.469" stop-color="#909090"/><stop offset="0.503" stop-color="#a7a7a7"/><stop offset="0.547" stop-color="#ababab"/><stop offset="0.592" stop-color="#9f9f9f"/><stop offset="0.631" stop-color="#878787"/><stop offset="0.659" stop-color="#6a6a6a"/><stop offset="0.682" stop-color="#5b5b5b"/><stop offset="0.754" stop-color="#777777"/><stop offset="0.804" stop-color="#717171"/><stop offset="0.838" stop-color="#828282"/><stop offset="0.872" stop-color="#a1a1a1"/><stop offset="0.911" stop-color="#b9b9b9"/><stop offset="0.950" stop-color="#c5c5c5"/><stop offset="1.000" stop-color="#cacaca"/></linearGradient>
<linearGradient id="gs91" gradientUnits="userSpaceOnUse" x1="31.5" y1="0" x2="210.5" y2="0"><stop offset="0.000" stop-color="#c8c8c8"/><stop offset="0.078" stop-color="#c4c4c4"/><stop offset="0.128" stop-color="#b9b9b9"/><stop offset="0.156" stop-color="#a9a9a9"/><stop offset="0.190" stop-color="#828282"/><stop offset="0.207" stop-color="#5c5c5c"/><stop offset="0.229" stop-color="#393939"/><stop offset="0.257" stop-color="#444444"/><stop offset="0.330" stop-color="#505050"/><stop offset="0.358" stop-color="#4a4a4a"/><stop offset="0.385" stop-color="#3c3c3c"/><stop offset="0.413" stop-color="#525252"/><stop offset="0.469" stop-color="#919191"/><stop offset="0.503" stop-color="#a8a8a8"/><stop offset="0.547" stop-color="#ababab"/><stop offset="0.592" stop-color="#a0a0a0"/><stop offset="0.631" stop-color="#898989"/><stop offset="0.659" stop-color="#6c6c6c"/><stop offset="0.687" stop-color="#5b5b5b"/><stop offset="0.732" stop-color="#707070"/><stop offset="0.760" stop-color="#767676"/><stop offset="0.810" stop-color="#727272"/><stop offset="0.838" stop-color="#7f7f7f"/><stop offset="0.872" stop-color="#9f9f9f"/><stop offset="0.911" stop-color="#b7b7b7"/><stop offset="0.955" stop-color="#c5c5c5"/><stop offset="1.000" stop-color="#c9c9c9"/></linearGradient>
<linearGradient id="gs92" gradientUnits="userSpaceOnUse" x1="31.5" y1="0" x2="210.5" y2="0"><stop offset="0.000" stop-color="#c8c8c8"/><stop offset="0.078" stop-color="#c3c3c3"/><stop offset="0.128" stop-color="#b8b8b8"/><stop offset="0.156" stop-color="#a8a8a8"/><stop offset="0.184" stop-color="#898989"/><stop offset="0.201" stop-color="#636363"/><stop offset="0.223" stop-color="#3a3a3a"/><stop offset="0.229" stop-color="#393939"/><stop offset="0.257" stop-color="#444444"/><stop offset="0.324" stop-color="#4f4f4f"/><stop offset="0.352" stop-color="#4a4a4a"/><stop offset="0.380" stop-color="#3b3b3b"/><stop offset="0.385" stop-color="#3c3c3c"/><stop offset="0.413" stop-color="#555555"/><stop offset="0.464" stop-color="#8e8e8e"/><stop offset="0.503" stop-color="#a9a9a9"/><stop offset="0.553" stop-color="#acacac"/><stop offset="0.598" stop-color="#9f9f9f"/><stop offset="0.631" stop-color="#8a8a8a"/><stop offset="0.665" stop-color="#696969"/><stop offset="0.687" stop-color="#5a5a5a"/><stop offset="0.737" stop-color="#707070"/><stop offset="0.771" stop-color="#777777"/><stop offset="0.810" stop-color="#717171"/><stop offset="0.844" stop-color="#818181"/><stop offset="0.877" stop-color="#a0a0a0"/><stop offset="0.916" stop-color="#b8b8b8"/><stop offset="0.955" stop-color="#c3c3c3"/><stop offset="1.000" stop-color="#c7c7c7"/></linearGradient>
<linearGradient id="gs93" gradientUnits="userSpaceOnUse" x1="31.5" y1="0" x2="210.5" y2="0"><stop offset="0.000" stop-color="#c7c7c7"/><stop offset="0.084" stop-color="#c0c0c0"/><stop offset="0.128" stop-color="#b6b6b6"/><stop offset="0.156" stop-color="#a4a4a4"/><stop offset="0.184" stop-color="#838383"/><stop offset="0.201" stop-color="#5d5d5d"/><stop offset="0.223" stop-color="#373737"/><stop offset="0.251" stop-color="#424242"/><stop offset="0.324" stop-color="#4f4f4f"/><stop offset="0.352" stop-color="#484848"/><stop offset="0.380" stop-color="#393939"/><stop offset="0.408" stop-color="#515151"/><stop offset="0.464" stop-color="#919191"/><stop offset="0.503" stop-color="#a9a9a9"/><stop offset="0.553" stop-color="#adadad"/><stop offset="0.598" stop-color="#a0a0a0"/><stop offset="0.637" stop-color="#888888"/><stop offset="0.665" stop-color="#6a6a6a"/><stop offset="0.693" stop-color="#595959"/><stop offset="0.743" stop-color="#707070"/><stop offset="0.777" stop-color="#787878"/><stop offset="0.816" stop-color="#737373"/><stop offset="0.844" stop-color="#7f7f7f"/><stop offset="0.877" stop-color="#9d9d9d"/><stop offset="0.916" stop-color="#b5b5b5"/><stop offset="0.955" stop-color="#c1c1c1"/><stop offset="1.000" stop-color="#c6c6c6"/></linearGradient>
<linearGradient id="gs94" gradientUnits="userSpaceOnUse" x1="31.5" y1="0" x2="210.5" y2="0"><stop offset="0.000" stop-color="#c6c6c6"/><stop offset="0.073" stop-color="#c1c1c1"/><stop offset="0.128" stop-color="#b3b3b3"/><stop offset="0.156" stop-color="#a0a0a0"/><stop offset="0.179" stop-color="#858585"/><stop offset="0.218" stop-color="#393939"/><stop offset="0.223" stop-color="#383838"/><stop offset="0.251" stop-color="#424242"/><stop offset="0.318" stop-color="#4e4e4e"/><stop offset="0.380" stop-color="#393939"/><stop offset="0.464" stop-color="#939393"/><stop offset="0.503" stop-color="#aaaaaa"/><stop offset="0.553" stop-color="#adadad"/><stop offset="0.598" stop-color="#a2a2a2"/><stop offset="0.637" stop-color="#898989"/><stop offset="0.670" stop-color="#666666"/><stop offset="0.693" stop-color="#575757"/><stop offset="0.743" stop-color="#6f6f6f"/><stop offset="0.777" stop-color="#787878"/><stop offset="0.816" stop-color="#737373"/><stop offset="0.832" stop-color="#797979"/><stop offset="0.916" stop-color="#b2b2b2"/><stop offset="0.955" stop-color="#bfbfbf"/><stop offset="1.000" stop-color="#c4c4c4"/></linearGradient>
<linearGradient id="gs95" gradientUnits="userSpaceOnUse" x1="31.5" y1="0" x2="210.5" y2="0"><stop offset="0.000" stop-color="#c5c5c5"/><stop offset="0.073" stop-color="#c0c0c0"/><stop offset="0.128" stop-color="#b0b0b0"/><stop offset="0.151" stop-color="#a1a1a1"/><stop offset="0.179" stop-color="#7f7f7f"/><stop offset="0.196" stop-color="#5b5b5b"/><stop offset="0.218" stop-color="#363636"/><stop offset="0.313" stop-color="#4d4d4d"/><stop offset="0.380" stop-color="#3a3a3a"/><stop offset="0.464" stop-color="#969696"/><stop offset="0.503" stop-color="#ababab"/><stop offset="0.553" stop-color="#aeaeae"/><stop offset="0.598" stop-color="#a3a3a3"/><stop offset="0.637" stop-color="#8b8b8b"/><stop offset="0.670" stop-color="#676767"/><stop offset="0.693" stop-color="#565656"/><stop offset="0.715" stop-color="#5c5c5c"/><stop offset="0.749" stop-color="#6f6f6f"/><stop offset="0.782" stop-color="#787878"/><stop offset="0.821" stop-color="#757575"/><stop offset="0.838" stop-color="#7a7a7a"/><stop offset="0.922" stop-color="#b1b1b1"/><stop offset="0.955" stop-color="#bdbdbd"/><stop offset="1.000" stop-color="#c2c2c2"/></linearGradient>
<linearGradient id="gs96" gradientUnits="userSpaceOnUse" x1="31.5" y1="0" x2="210.5" y2="0"><stop offset="0.000" stop-color="#c4c4c4"/><stop offset="0.073" stop-color="#bfbfbf"/><stop offset="0.123" stop-color="#b1b1b1"/><stop offset="0.162" stop-color="#909090"/><stop offset="0.179" stop-color="#787878"/><stop offset="0.212" stop-color="#373737"/><stop offset="0.218" stop-color="#363636"/><stop offset="0.313" stop-color="#4d4d4d"/><stop offset="0.346" stop-color="#444444"/><stop offset="0.374" stop-color="#363636"/><stop offset="0.464" stop-color="#989898"/><stop offset="0.503" stop-color="#acacac"/><stop offset="0.553" stop-color="#afafaf"/><stop offset="0.598" stop-color="#a4a4a4"/><stop offset="0.642" stop-color="#888888"/><stop offset="0.676" stop-color="#636363"/><stop offset="0.698" stop-color="#545454"/><stop offset="0.754" stop-color="#707070"/><stop offset="0.788" stop-color="#797979"/><stop offset="0.821" stop-color="#767676"/><stop offset="0.844" stop-color="#7b7b7b"/><stop offset="0.922" stop-color="#aeaeae"/><stop offset="0.978" stop-color="#c0c0c0"/><stop offset="1.000" stop-color="#c1c1c1"/></linearGradient>
<linearGradient id="gs97" gradientUnits="userSpaceOnUse" x1="31.5" y1="0" x2="210.5" y2="0"><stop offset="0.000" stop-color="#c4c4c4"/><stop offset="0.078" stop-color="#bdbdbd"/><stop offset="0.123" stop-color="#aeaeae"/><stop offset="0.162" stop-color="#8b8b8b"/><stop offset="0.173" stop-color="#7b7b7b"/><stop offset="0.212" stop-color="#343434"/><stop offset="0.307" stop-color="#4c4c4c"/><stop offset="0.374" stop-color="#353535"/><stop offset="0.464" stop-color="#9b9b9b"/><stop offset="0.503" stop-color="#adadad"/><stop offset="0.553" stop-color="#b0b0b0"/><stop offset="0.603" stop-color="#a3a3a3"/><stop offset="0.642" stop-color="#898989"/><stop offset="0.676" stop-color="#656565"/><stop offset="0.698" stop-color="#535353"/><stop offset="0.721" stop-color="#5a5a5a"/><stop offset="0.760" stop-color="#717171"/><stop offset="0.788" stop-color="#797979"/><stop offset="0.844" stop-color="#7a7a7a"/><stop offset="0.922" stop-color="#ababab"/><stop offset="0.978" stop-color="#bebebe"/><stop offset="1.000" stop-color="#bfbfbf"/></linearGradient>
<linearGradient id="gs98" gradientUnits="userSpaceOnUse" x1="31.5" y1="0" x2="210.5" y2="0"><stop offset="0.000" stop-color="#c3c3c3"/><stop offset="0.078" stop-color="#bcbcbc"/><stop offset="0.123" stop-color="#acacac"/><stop offset="0.156" stop-color="#8e8e8e"/><stop offset="0.173" stop-color="#757575"/><stop offset="0.207" stop-color="#353535"/><stop offset="0.212" stop-color="#343434"/><stop offset="0.307" stop-color="#4c4c4c"/><stop offset="0.374" stop-color="#373737"/><stop offset="0.441" stop-color="#888888"/><stop offset="0.464" stop-color="#9d9d9d"/><stop offset="0.503" stop-color="#adadad"/><stop offset="0.547" stop-color="#b1b1b1"/><stop offset="0.603" stop-color="#a4a4a4"/><stop offset="0.642" stop-color="#8b8b8b"/><stop offset="0.693" stop-color="#565656"/><stop offset="0.704" stop-color="#525252"/><stop offset="0.760" stop-color="#6f6f6f"/><stop offset="0.793" stop-color="#7a7a7a"/><stop offset="0.849" stop-color="#7b7b7b"/><stop offset="0.933" stop-color="#adadad"/><stop offset="0.978" stop-color="#bdbdbd"/><stop offset="1.000" stop-color="#bebebe"/></linearGradient>
<linearGradient id="gs99" gradientUnits="userSpaceOnUse" x1="31.5" y1="0" x2="210.5" y2="0"><stop offset="0.000" stop-color="#c2c2c2"/><stop offset="0.078" stop-color="#bababa"/><stop offset="0.117" stop-color="#acacac"/><stop offset="0.156" stop-color="#888888"/><stop offset="0.207" stop-color="#323232"/><stop offset="0.302" stop-color="#4b4b4b"/><stop offset="0.369" stop-color="#333333"/><stop offset="0.441" stop-color="#8b8b8b"/><stop offset="0.469" stop-color="#a3a3a3"/><stop offset="0.497" stop-color="#adadad"/><stop offset="0.547" stop-color="#b2b2b2"/><stop offset="0.603" stop-color="#a6a6a6"/><stop offset="0.648" stop-color="#888888"/><stop offset="0.698" stop-color="#515151"/><stop offset="0.704" stop-color="#505050"/><stop offset="0.726" stop-color="#575757"/><stop offset="0.765" stop-color="#707070"/><stop offset="0.799" stop-color="#7b7b7b"/><stop offset="0.849" stop-color="#7a7a7a"/><stop offset="0.939" stop-color="#adadad"/><stop offset="0.978" stop-color="#bbbbbb"/><stop offset="1.000" stop-color="#bcbcbc"/></linearGradient>
<linearGradient id="gs100" gradientUnits="userSpaceOnUse" x1="31.5" y1="0" x2="210.5" y2="0"><stop offset="0.000" stop-color="#c1c1c1"/><stop offset="0.078" stop-color="#b9b9b9"/><stop offset="0.117" stop-color="#aaaaaa"/><stop offset="0.151" stop-color="#8b8b8b"/><stop offset="0.201" stop-color="#343434"/><stop offset="0.207" stop-color="#323232"/><stop offset="0.302" stop-color="#4b4b4b"/><stop offset="0.369" stop-color="#323232"/><stop offset="0.441" stop-color="#8e8e8e"/><stop offset="0.469" stop-color="#a6a6a6"/><stop offset="0.497" stop-color="#aeaeae"/><stop offset="0.547" stop-color="#b3b3b3"/><stop offset="0.603" stop-color="#a7a7a7"/><stop offset="0.648" stop-color="#8a8a8a"/><stop offset="0.704" stop-color="#4e4e4e"/><stop offset="0.732" stop-color="#585858"/><stop offset="0.771" stop-color="#717171"/><stop offset="0.810" stop-color="#7d7d7d"/><stop offset="0.855" stop-color="#7b7b7b"/><stop offset="0.939" stop-color="#ababab"/><stop offset="0.978" stop-color="#b9b9b9"/><stop offset="1.000" stop-color="#bababa"/></linearGradient>
<linearGradient id="gs101" gradientUnits="userSpaceOnUse" x1="31.5" y1="0" x2="210.5" y2="0"><stop offset="0.000" stop-color="#c0c0c0"/><stop offset="0.073" stop-color="#b9b9b9"/><stop offset="0.117" stop-color="#a7a7a7"/><stop offset="0.151" stop-color="#868686"/><stop offset="0.201" stop-color="#313131"/><stop offset="0.302" stop-color="#4a4a4a"/><stop offset="0.369" stop-color="#333333"/><stop offset="0.441" stop-color="#919191"/><stop offset="0.469" stop-color="#a8a8a8"/><stop offset="0.492" stop-color="#afafaf"/><stop offset="0.547" stop-color="#b3b3b3"/><stop offset="0.603" stop-color="#a8a8a8"/><stop offset="0.648" stop-color="#8b8b8b"/><stop offset="0.704" stop-color="#4d4d4d"/><stop offset="0.709" stop-color="#4c4c4c"/><stop offset="0.732" stop-color="#555555"/><stop offset="0.777" stop-color="#727272"/><stop offset="0.816" stop-color="#7f7f7f"/><stop offset="0.855" stop-color="#7a7a7a"/><stop offset="0.944" stop-color="#aaaaaa"/><stop offset="0.978" stop-color="#b8b8b8"/><stop offset="1.000" stop-color="#b9b9b9"/></linearGradient>
<linearGradient id="gs102" gradientUnits="userSpaceOnUse" x1="31.5" y1="0" x2="210.5" y2="0"><stop offset="0.000" stop-color="#bfbfbf"/><stop offset="0.073" stop-color="#b8b8b8"/><stop offset="0.112" stop-color="#a8a8a8"/><stop offset="0.145" stop-color="#898989"/><stop offset="0.196" stop-color="#323232"/><stop offset="0.201" stop-color="#313131"/><stop offset="0.296" stop-color="#494949"/><stop offset="0.363" stop-color="#303030"/><stop offset="0.436" stop-color="#8d8d8d"/><stop offset="0.464" stop-color="#a6a6a6"/><stop offset="0.492" stop-color="#afafaf"/><stop offset="0.553" stop-color="#b3b3b3"/><stop offset="0.609" stop-color="#a7a7a7"/><stop offset="0.654" stop-color="#888888"/><stop offset="0.709" stop-color="#4a4a4a"/><stop offset="0.737" stop-color="#565656"/><stop offset="0.777" stop-color="#707070"/><stop offset="0.821" stop-color="#7f7f7f"/><stop offset="0.860" stop-color="#7a7a7a"/><stop offset="0.944" stop-color="#a8a8a8"/><stop offset="0.978" stop-color="#b5b5b5"/><stop offset="1.000" stop-color="#b7b7b7"/></linearGradient>
<linearGradient id="gs103" gradientUnits="userSpaceOnUse" x1="31.5" y1="0" x2="210.5" y2="0"><stop offset="0.000" stop-color="#bebebe"/><stop offset="0.073" stop-color="#b6b6b6"/><stop offset="0.112" stop-color="#a6a6a6"/><stop offset="0.145" stop-color="#858585"/><stop offset="0.196" stop-color="#2e2e2e"/><stop offset="0.296" stop-color="#464646"/><stop offset="0.363" stop-color="#323232"/><stop offset="0.436" stop-color="#8f8f8f"/><stop offset="0.464" stop-color="#a6a6a6"/><stop offset="0.492" stop-color="#afafaf"/><stop offset="0.553" stop-color="#b3b3b3"/><stop offset="0.609" stop-color="#a7a7a7"/><stop offset="0.654" stop-color="#8a8a8a"/><stop offset="0.709" stop-color="#4c4c4c"/><stop offset="0.715" stop-color="#4a4a4a"/><stop offset="0.782" stop-color="#707070"/><stop offset="0.821" stop-color="#7c7c7c"/><stop offset="0.860" stop-color="#797979"/><stop offset="0.944" stop-color="#a5a5a5"/><stop offset="0.978" stop-color="#b3b3b3"/><stop offset="1.000" stop-color="#b4b4b4"/></linearGradient>
<linearGradient id="gs104" gradientUnits="userSpaceOnUse" x1="31.5" y1="0" x2="210.5" y2="0"><stop offset="0.000" stop-color="#bdbdbd"/><stop offset="0.073" stop-color="#b4b4b4"/><stop offset="0.112" stop-color="#a3a3a3"/><stop offset="0.145" stop-color="#808080"/><stop offset="0.190" stop-color="#313131"/><stop offset="0.196" stop-color="#2e2e2e"/><stop offset="0.291" stop-color="#444444"/><stop offset="0.358" stop-color="#2f2f2f"/><stop offset="0.436" stop-color="#909090"/><stop offset="0.464" stop-color="#a6a6a6"/><stop offset="0.492" stop-color="#afafaf"/><stop offset="0.553" stop-color="#b3b3b3"/><stop offset="0.609" stop-color="#a8a8a8"/><stop offset="0.659" stop-color="#878787"/><stop offset="0.715" stop-color="#494949"/><stop offset="0.743" stop-color="#555555"/><stop offset="0.782" stop-color="#6e6e6e"/><stop offset="0.827" stop-color="#7b7b7b"/><stop offset="0.866" stop-color="#787878"/><stop offset="0.950" stop-color="#a4a4a4"/><stop offset="0.983" stop-color="#b2b2b2"/><stop offset="1.000" stop-color="#b2b2b2"/></linearGradient>
<linearGradient id="gs105" gradientUnits="userSpaceOnUse" x1="31.5" y1="0" x2="210.5" y2="0"><stop offset="0.000" stop-color="#bcbcbc"/><stop offset="0.073" stop-color="#b3b3b3"/><stop offset="0.112" stop-color="#a0a0a0"/><stop offset="0.140" stop-color="#838383"/><stop offset="0.190" stop-color="#2c2c2c"/><stop offset="0.291" stop-color="#424242"/><stop offset="0.352" stop-color="#2f2f2f"/><stop offset="0.358" stop-color="#323232"/><stop offset="0.408" stop-color="#737373"/><stop offset="0.436" stop-color="#919191"/><stop offset="0.464" stop-color="#a6a6a6"/><stop offset="0.492" stop-color="#afafaf"/><stop offset="0.553" stop-color="#b4b4b4"/><stop offset="0.609" stop-color="#a8a8a8"/><stop offset="0.659" stop-color="#898989"/><stop offset="0.721" stop-color="#494949"/><stop offset="0.788" stop-color="#6f6f6f"/><stop offset="0.827" stop-color="#797979"/><stop offset="0.866" stop-color="#777777"/><stop offset="0.978" stop-color="#adadad"/><stop offset="1.000" stop-color="#afafaf"/></linearGradient>
<linearGradient id="gs106" gradientUnits="userSpaceOnUse" x1="31.5" y1="0" x2="210.5" y2="0"><stop offset="0.000" stop-color="#bababa"/><stop offset="0.073" stop-color="#b1b1b1"/><stop offset="0.112" stop-color="#9e9e9e"/><stop offset="0.140" stop-color="#7f7f7f"/><stop offset="0.173" stop-color="#424242"/><stop offset="0.190" stop-color="#2b2b2b"/><stop offset="0.285" stop-color="#404040"/><stop offset="0.352" stop-color="#303030"/><stop offset="0.430" stop-color="#8d8d8d"/><stop offset="0.458" stop-color="#a3a3a3"/><stop offset="0.492" stop-color="#afafaf"/><stop offset="0.553" stop-color="#b4b4b4"/><stop offset="0.615" stop-color="#a6a6a6"/><stop offset="0.665" stop-color="#858585"/><stop offset="0.721" stop-color="#494949"/><stop offset="0.749" stop-color="#545454"/><stop offset="0.788" stop-color="#6d6d6d"/><stop offset="0.827" stop-color="#777777"/><stop offset="0.872" stop-color="#767676"/><stop offset="0.978" stop-color="#aaaaaa"/><stop offset="1.000" stop-color="#adadad"/></linearGradient>
<linearGradient id="gs107" gradientUnits="userSpaceOnUse" x1="31.5" y1="0" x2="210.5" y2="0"><stop offset="0.000" stop-color="#b9b9b9"/><stop offset="0.073" stop-color="#afafaf"/><stop offset="0.112" stop-color="#9b9b9b"/><stop offset="0.140" stop-color="#7a7a7a"/><stop offset="0.168" stop-color="#454545"/><stop offset="0.184" stop-color="#2b2b2b"/><stop offset="0.190" stop-color="#2b2b2b"/><stop offset="0.285" stop-color="#3d3d3d"/><stop offset="0.346" stop-color="#2e2e2e"/><stop offset="0.352" stop-color="#313131"/><stop offset="0.402" stop-color="#707070"/><stop offset="0.436" stop-color="#939393"/><stop offset="0.469" stop-color="#a8a8a8"/><stop offset="0.497" stop-color="#b0b0b0"/><stop offset="0.553" stop-color="#b4b4b4"/><stop offset="0.615" stop-color="#a7a7a7"/><stop offset="0.665" stop-color="#878787"/><stop offset="0.726" stop-color="#474747"/><stop offset="0.793" stop-color="#6d6d6d"/><stop offset="0.827" stop-color="#757575"/><stop offset="0.872" stop-color="#747474"/><stop offset="0.983" stop-color="#aaaaaa"/><stop offset="1.000" stop-color="#aaaaaa"/></linearGradient>
<linearGradient id="gs108" gradientUnits="userSpaceOnUse" x1="31.5" y1="0" x2="210.5" y2="0"><stop offset="0.000" stop-color="#b8b8b8"/><stop offset="0.078" stop-color="#acacac"/><stop offset="0.117" stop-color="#959595"/><stop offset="0.145" stop-color="#6b6b6b"/><stop offset="0.168" stop-color="#3f3f3f"/><stop offset="0.184" stop-color="#292929"/><stop offset="0.279" stop-color="#3b3b3b"/><stop offset="0.346" stop-color="#2f2f2f"/><stop offset="0.374" stop-color="#4d4d4d"/><stop offset="0.402" stop-color="#737373"/><stop offset="0.430" stop-color="#8f8f8f"/><stop offset="0.469" stop-color="#a9a9a9"/><stop offset="0.497" stop-color="#b0b0b0"/><stop offset="0.553" stop-color="#b4b4b4"/><stop offset="0.615" stop-color="#a7a7a7"/><stop offset="0.665" stop-color="#898989"/><stop offset="0.682" stop-color="#7a7a7a"/><stop offset="0.709" stop-color="#575757"/><stop offset="0.732" stop-color="#474747"/><stop offset="0.793" stop-color="#6b6b6b"/><stop offset="0.832" stop-color="#747474"/><stop offset="0.866" stop-color="#707070"/><stop offset="0.983" stop-color="#a7a7a7"/><stop offset="1.000" stop-color="#a8a8a8"/></linearGradient>
<linearGradient id="gs109" gradientUnits="userSpaceOnUse" x1="31.5" y1="0" x2="210.5" y2="0"><stop offset="0.000" stop-color="#b7b7b7"/><stop offset="0.078" stop-color="#aaaaaa"/><stop offset="0.117" stop-color="#929292"/><stop offset="0.145" stop-color="#666666"/><stop offset="0.168" stop-color="#3a3a3a"/><stop offset="0.179" stop-color="#2a2a2a"/><stop offset="0.184" stop-color="#282828"/><stop offset="0.285" stop-color="#393939"/><stop offset="0.341" stop-color="#2d2d2d"/><stop offset="0.369" stop-color="#484848"/><stop offset="0.397" stop-color="#6e6e6e"/><stop offset="0.430" stop-color="#909090"/><stop offset="0.469" stop-color="#a9a9a9"/><stop offset="0.497" stop-color="#b0b0b0"/><stop offset="0.553" stop-color="#b4b4b4"/><stop offset="0.615" stop-color="#a7a7a7"/><stop offset="0.648" stop-color="#979797"/><stop offset="0.670" stop-color="#868686"/><stop offset="0.687" stop-color="#777777"/><stop offset="0.709" stop-color="#5a5a5a"/><stop offset="0.732" stop-color="#464646"/><stop offset="0.799" stop-color="#6c6c6c"/><stop offset="0.832" stop-color="#727272"/><stop offset="0.872" stop-color="#707070"/><stop offset="0.983" stop-color="#a4a4a4"/><stop offset="1.000" stop-color="#a5a5a5"/></linearGradient>
<linearGradient id="gs110" gradientUnits="userSpaceOnUse" x1="31.5" y1="0" x2="210.5" y2="0"><stop offset="0.000" stop-color="#b5b5b5"/><stop offset="0.073" stop-color="#aaaaaa"/><stop offset="0.112" stop-color="#949494"/><stop offset="0.140" stop-color="#6a6a6a"/><stop offset="0.162" stop-color="#3c3c3c"/><stop offset="0.179" stop-color="#262626"/><stop offset="0.285" stop-color="#383838"/><stop offset="0.341" stop-color="#2d2d2d"/><stop offset="0.369" stop-color="#4a4a4a"/><stop offset="0.397" stop-color="#717171"/><stop offset="0.430" stop-color="#919191"/><stop offset="0.469" stop-color="#a9a9a9"/><stop offset="0.497" stop-color="#b0b0b0"/><stop offset="0.553" stop-color="#b4b4b4"/><stop offset="0.620" stop-color="#a5a5a5"/><stop offset="0.648" stop-color="#989898"/><stop offset="0.687" stop-color="#7a7a7a"/><stop offset="0.715" stop-color="#565656"/><stop offset="0.737" stop-color="#454545"/><stop offset="0.799" stop-color="#6a6a6a"/><stop offset="0.838" stop-color="#717171"/><stop offset="0.872" stop-color="#6c6c6c"/><stop offset="0.983" stop-color="#a1a1a1"/><stop offset="1.000" stop-color="#a3a3a3"/></linearGradient>
<linearGradient id="gs111" gradientUnits="userSpaceOnUse" x1="31.5" y1="0" x2="210.5" y2="0"><stop offset="0.000" stop-color="#b4b4b4"/><stop offset="0.073" stop-color="#a8a8a8"/><stop offset="0.112" stop-color="#929292"/><stop offset="0.140" stop-color="#656565"/><stop offset="0.162" stop-color="#363636"/><stop offset="0.179" stop-color="#262626"/><stop offset="0.279" stop-color="#363636"/><stop offset="0.335" stop-color="#2c2c2c"/><stop offset="0.363" stop-color="#454545"/><stop offset="0.397" stop-color="#737373"/><stop offset="0.425" stop-color="#8d8d8d"/><stop offset="0.464" stop-color="#a6a6a6"/><stop offset="0.492" stop-color="#afafaf"/><stop offset="0.553" stop-color="#b4b4b4"/><stop offset="0.609" stop-color="#ababab"/><stop offset="0.654" stop-color="#969696"/><stop offset="0.687" stop-color="#7c7c7c"/><stop offset="0.721" stop-color="#535353"/><stop offset="0.743" stop-color="#464646"/><stop offset="0.804" stop-color="#6a6a6a"/><stop offset="0.838" stop-color="#707070"/><stop offset="0.877" stop-color="#6c6c6c"/><stop offset="0.983" stop-color="#9f9f9f"/><stop offset="1.000" stop-color="#a0a0a0"/></linearGradient>
<linearGradient id="gs112" gradientUnits="userSpaceOnUse" x1="31.5" y1="0" x2="210.5" y2="0"><stop offset="0.000" stop-color="#b2b2b2"/><stop offset="0.073" stop-color="#a7a7a7"/><stop offset="0.112" stop-color="#8e8e8e"/><stop offset="0.140" stop-color="#606060"/><stop offset="0.156" stop-color="#3b3b3b"/><stop offset="0.173" stop-color="#242424"/><stop offset="0.279" stop-color="#343434"/><stop offset="0.335" stop-color="#2c2c2c"/><stop offset="0.363" stop-color="#484848"/><stop offset="0.391" stop-color="#717171"/><stop offset="0.425" stop-color="#919191"/><stop offset="0.464" stop-color="#a7a7a7"/><stop offset="0.492" stop-color="#afafaf"/><stop offset="0.553" stop-color="#b3b3b3"/><stop offset="0.603" stop-color="#acacac"/><stop offset="0.648" stop-color="#9b9b9b"/><stop offset="0.693" stop-color="#797979"/><stop offset="0.721" stop-color="#545454"/><stop offset="0.743" stop-color="#434343"/><stop offset="0.804" stop-color="#676767"/><stop offset="0.844" stop-color="#6e6e6e"/><stop offset="0.883" stop-color="#6a6a6a"/><stop offset="0.983" stop-color="#9c9c9c"/><stop offset="1.000" stop-color="#9d9d9d"/></linearGradient>
<linearGradient id="gs113" gradientUnits="userSpaceOnUse" x1="31.5" y1="0" x2="210.5" y2="0"><stop offset="0.000" stop-color="#b1b1b1"/><stop offset="0.073" stop-color="#a5a5a5"/><stop offset="0.112" stop-color="#8b8b8b"/><stop offset="0.140" stop-color="#5b5b5b"/><stop offset="0.156" stop-color="#373737"/><stop offset="0.173" stop-color="#212121"/><stop offset="0.274" stop-color="#323232"/><stop offset="0.330" stop-color="#2a2a2a"/><stop offset="0.358" stop-color="#454545"/><stop offset="0.391" stop-color="#757575"/><stop offset="0.419" stop-color="#8f8f8f"/><stop offset="0.464" stop-color="#a8a8a8"/><stop offset="0.492" stop-color="#afafaf"/><stop offset="0.547" stop-color="#b3b3b3"/><stop offset="0.603" stop-color="#acacac"/><stop offset="0.654" stop-color="#9a9a9a"/><stop offset="0.693" stop-color="#7b7b7b"/><stop offset="0.726" stop-color="#515151"/><stop offset="0.749" stop-color="#434343"/><stop offset="0.810" stop-color="#666666"/><stop offset="0.849" stop-color="#6c6c6c"/><stop offset="0.883" stop-color="#676767"/><stop offset="0.983" stop-color="#989898"/><stop offset="1.000" stop-color="#9a9a9a"/></linearGradient>
<linearGradient id="gs114" gradientUnits="userSpaceOnUse" x1="31.5" y1="0" x2="210.5" y2="0"><stop offset="0.000" stop-color="#b0b0b0"/><stop offset="0.073" stop-color="#a3a3a3"/><stop offset="0.106" stop-color="#8b8b8b"/><stop offset="0.123" stop-color="#757575"/><stop offset="0.156" stop-color="#333333"/><stop offset="0.168" stop-color="#222222"/><stop offset="0.173" stop-color="#202020"/><stop offset="0.263" stop-color="#303030"/><stop offset="0.324" stop-color="#292929"/><stop offset="0.346" stop-color="#3a3a3a"/><stop offset="0.385" stop-color="#737373"/><stop offset="0.419" stop-color="#929292"/><stop offset="0.458" stop-color="#a6a6a6"/><stop offset="0.492" stop-color="#afafaf"/><stop offset="0.547" stop-color="#b2b2b2"/><stop offset="0.603" stop-color="#acacac"/><stop offset="0.654" stop-color="#9b9b9b"/><stop offset="0.693" stop-color="#7d7d7d"/><stop offset="0.726" stop-color="#535353"/><stop offset="0.749" stop-color="#404040"/><stop offset="0.810" stop-color="#636363"/><stop offset="0.855" stop-color="#6a6a6a"/><stop offset="0.888" stop-color="#656565"/><stop offset="0.961" stop-color="#858585"/><stop offset="0.983" stop-color="#969696"/><stop offset="1.000" stop-color="#979797"/></linearGradient>
<linearGradient id="gs115" gradientUnits="userSpaceOnUse" x1="31.5" y1="0" x2="210.5" y2="0"><stop offset="0.000" stop-color="#aeaeae"/><stop offset="0.073" stop-color="#a1a1a1"/><stop offset="0.106" stop-color="#888888"/><stop offset="0.123" stop-color="#717171"/><stop offset="0.151" stop-color="#383838"/><stop offset="0.168" stop-color="#1d1d1d"/><stop offset="0.257" stop-color="#2e2e2e"/><stop offset="0.318" stop-color="#272727"/><stop offset="0.341" stop-color="#373737"/><stop offset="0.385" stop-color="#777777"/><stop offset="0.413" stop-color="#919191"/><stop offset="0.458" stop-color="#a6a6a6"/><stop offset="0.497" stop-color="#b0b0b0"/><stop offset="0.547" stop-color="#b2b2b2"/><stop offset="0.603" stop-color="#acacac"/><stop offset="0.654" stop-color="#9d9d9d"/><stop offset="0.693" stop-color="#7f7f7f"/><stop offset="0.726" stop-color="#555555"/><stop offset="0.754" stop-color="#414141"/><stop offset="0.816" stop-color="#626262"/><stop offset="0.855" stop-color="#686868"/><stop offset="0.894" stop-color="#636363"/><stop offset="0.961" stop-color="#808080"/><stop offset="0.983" stop-color="#939393"/><stop offset="1.000" stop-color="#949494"/></linearGradient>
<linearGradient id="gs116" gradientUnits="userSpaceOnUse" x1="31.5" y1="0" x2="210.5" y2="0"><stop offset="0.000" stop-color="#acacac"/><stop offset="0.073" stop-color="#9e9e9e"/><stop offset="0.106" stop-color="#848484"/><stop offset="0.117" stop-color="#767676"/><stop offset="0.151" stop-color="#333333"/><stop offset="0.168" stop-color="#1c1c1c"/><stop offset="0.251" stop-color="#2c2c2c"/><stop offset="0.318" stop-color="#272727"/><stop offset="0.341" stop-color="#3a3a3a"/><stop offset="0.374" stop-color="#6d6d6d"/><stop offset="0.397" stop-color="#878787"/><stop offset="0.430" stop-color="#9d9d9d"/><stop offset="0.497" stop-color="#b0b0b0"/><stop offset="0.603" stop-color="#acacac"/><stop offset="0.659" stop-color="#9c9c9c"/><stop offset="0.698" stop-color="#7c7c7c"/><stop offset="0.726" stop-color="#585858"/><stop offset="0.754" stop-color="#3e3e3e"/><stop offset="0.821" stop-color="#606060"/><stop offset="0.860" stop-color="#666666"/><stop offset="0.899" stop-color="#616161"/><stop offset="0.927" stop-color="#6b6b6b"/><stop offset="0.961" stop-color="#7b7b7b"/><stop offset="0.983" stop-color="#8f8f8f"/><stop offset="1.000" stop-color="#919191"/></linearGradient>
<linearGradient id="gs117" gradientUnits="userSpaceOnUse" x1="31.5" y1="0" x2="210.5" y2="0"><stop offset="0.000" stop-color="#ababab"/><stop offset="0.078" stop-color="#9a9a9a"/><stop offset="0.117" stop-color="#737373"/><stop offset="0.151" stop-color="#2f2f2f"/><stop offset="0.162" stop-color="#1b1b1b"/><stop offset="0.168" stop-color="#1a1a1a"/><stop offset="0.251" stop-color="#2b2b2b"/><stop offset="0.313" stop-color="#252525"/><stop offset="0.335" stop-color="#353535"/><stop offset="0.363" stop-color="#626262"/><stop offset="0.391" stop-color="#878787"/><stop offset="0.430" stop-color="#9f9f9f"/><stop offset="0.497" stop-color="#b0b0b0"/><stop offset="0.603" stop-color="#acacac"/><stop offset="0.659" stop-color="#9e9e9e"/><stop offset="0.698" stop-color="#7e7e7e"/><stop offset="0.732" stop-color="#545454"/><stop offset="0.760" stop-color="#3e3e3e"/><stop offset="0.821" stop-color="#5d5d5d"/><stop offset="0.866" stop-color="#646464"/><stop offset="0.905" stop-color="#606060"/><stop offset="0.933" stop-color="#686868"/><stop offset="0.966" stop-color="#797979"/><stop offset="0.983" stop-color="#8c8c8c"/><stop offset="1.000" stop-color="#8e8e8e"/></linearGradient>
<linearGradient id="gs118" gradientUnits="userSpaceOnUse" x1="31.5" y1="0" x2="210.5" y2="0"><stop offset="0.000" stop-color="#aaaaaa"/><stop offset="0.078" stop-color="#989898"/><stop offset="0.117" stop-color="#6f6f6f"/><stop offset="0.162" stop-color="#171717"/><stop offset="0.246" stop-color="#292929"/><stop offset="0.307" stop-color="#242424"/><stop offset="0.330" stop-color="#313131"/><stop offset="0.385" stop-color="#868686"/><stop offset="0.425" stop-color="#9f9f9f"/><stop offset="0.497" stop-color="#b0b0b0"/><stop offset="0.603" stop-color="#acacac"/><stop offset="0.659" stop-color="#9f9f9f"/><stop offset="0.698" stop-color="#808080"/><stop offset="0.732" stop-color="#565656"/><stop offset="0.760" stop-color="#3b3b3b"/><stop offset="0.827" stop-color="#5c5c5c"/><stop offset="0.872" stop-color="#626262"/><stop offset="0.911" stop-color="#5e5e5e"/><stop offset="0.939" stop-color="#646464"/><stop offset="0.966" stop-color="#747474"/><stop offset="0.983" stop-color="#888888"/><stop offset="1.000" stop-color="#8b8b8b"/></linearGradient>
<linearGradient id="gs119" gradientUnits="userSpaceOnUse" x1="31.5" y1="0" x2="210.5" y2="0"><stop offset="0.000" stop-color="#a8a8a8"/><stop offset="0.078" stop-color="#959595"/><stop offset="0.112" stop-color="#737373"/><stop offset="0.156" stop-color="#1a1a1a"/><stop offset="0.162" stop-color="#161616"/><stop offset="0.240" stop-color="#282828"/><stop offset="0.302" stop-color="#222222"/><stop offset="0.330" stop-color="#353535"/><stop offset="0.358" stop-color="#646464"/><stop offset="0.385" stop-color="#8a8a8a"/><stop offset="0.425" stop-color="#a0a0a0"/><stop offset="0.497" stop-color="#b0b0b0"/><stop offset="0.603" stop-color="#acacac"/><stop offset="0.659" stop-color="#a1a1a1"/><stop offset="0.698" stop-color="#828282"/><stop offset="0.737" stop-color="#525252"/><stop offset="0.765" stop-color="#3c3c3c"/><stop offset="0.832" stop-color="#5a5a5a"/><stop offset="0.939" stop-color="#606060"/><stop offset="0.966" stop-color="#6e6e6e"/><stop offset="0.989" stop-color="#888888"/><stop offset="1.000" stop-color="#888888"/></linearGradient>
<linearGradient id="gs120" gradientUnits="userSpaceOnUse" x1="31.5" y1="0" x2="210.5" y2="0"><stop offset="0.000" stop-color="#a8a8a8"/><stop offset="0.078" stop-color="#949494"/><stop offset="0.112" stop-color="#717171"/><stop offset="0.156" stop-color="#151515"/><stop offset="0.240" stop-color="#282828"/><stop offset="0.296" stop-color="#202020"/><stop offset="0.324" stop-color="#303030"/><stop offset="0.352" stop-color="#606060"/><stop offset="0.380" stop-color="#878787"/><stop offset="0.419" stop-color="#9f9f9f"/><stop offset="0.492" stop-color="#afafaf"/><stop offset="0.603" stop-color="#acacac"/><stop offset="0.665" stop-color="#9f9f9f"/><stop offset="0.704" stop-color="#808080"/><stop offset="0.737" stop-color="#555555"/><stop offset="0.765" stop-color="#3b3b3b"/><stop offset="0.832" stop-color="#5a5a5a"/><stop offset="0.877" stop-color="#606060"/><stop offset="0.916" stop-color="#5c5c5c"/><stop offset="0.944" stop-color="#606060"/><stop offset="0.972" stop-color="#727272"/><stop offset="0.989" stop-color="#888888"/><stop offset="1.000" stop-color="#888888"/></linearGradient>
<linearGradient id="gs121" gradientUnits="userSpaceOnUse" x1="31.5" y1="0" x2="210.5" y2="0"><stop offset="0.000" stop-color="#a8a8a8"/><stop offset="0.073" stop-color="#989898"/><stop offset="0.112" stop-color="#6d6d6d"/><stop offset="0.151" stop-color="#1b1b1b"/><stop offset="0.156" stop-color="#161616"/><stop offset="0.235" stop-color="#282828"/><stop offset="0.296" stop-color="#222222"/><stop offset="0.324" stop-color="#353535"/><stop offset="0.352" stop-color="#636363"/><stop offset="0.380" stop-color="#898989"/><stop offset="0.419" stop-color="#a0a0a0"/><stop offset="0.492" stop-color="#b0b0b0"/><stop offset="0.609" stop-color="#acacac"/><stop offset="0.665" stop-color="#a0a0a0"/><stop offset="0.704" stop-color="#828282"/><stop offset="0.743" stop-color="#535353"/><stop offset="0.771" stop-color="#3b3b3b"/><stop offset="0.838" stop-color="#5a5a5a"/><stop offset="0.944" stop-color="#606060"/><stop offset="0.972" stop-color="#717171"/><stop offset="0.989" stop-color="#888888"/><stop offset="1.000" stop-color="#888888"/></linearGradient>
<linearGradient id="gs122" gradientUnits="userSpaceOnUse" x1="31.5" y1="0" x2="210.5" y2="0"><stop offset="0.000" stop-color="#a8a8a8"/><stop offset="0.073" stop-color="#979797"/><stop offset="0.106" stop-color="#737373"/><stop offset="0.151" stop-color="#151515"/><stop offset="0.184" stop-color="#202020"/><stop offset="0.235" stop-color="#282828"/><stop offset="0.291" stop-color="#212121"/><stop offset="0.318" stop-color="#313131"/><stop offset="0.346" stop-color="#5f5f5f"/><stop offset="0.380" stop-color="#8a8a8a"/><stop offset="0.419" stop-color="#a0a0a0"/><stop offset="0.492" stop-color="#b0b0b0"/><stop offset="0.609" stop-color="#acacac"/><stop offset="0.665" stop-color="#a1a1a1"/><stop offset="0.709" stop-color="#7f7f7f"/><stop offset="0.743" stop-color="#565656"/><stop offset="0.771" stop-color="#3c3c3c"/><stop offset="0.844" stop-color="#5b5b5b"/><stop offset="0.950" stop-color="#616161"/><stop offset="0.972" stop-color="#6f6f6f"/><stop offset="0.989" stop-color="#888888"/><stop offset="1.000" stop-color="#888888"/></linearGradient>
<linearGradient id="gs123" gradientUnits="userSpaceOnUse" x1="31.5" y1="0" x2="210.5" y2="0"><stop offset="0.000" stop-color="#a8a8a8"/><stop offset="0.073" stop-color="#959595"/><stop offset="0.106" stop-color="#707070"/><stop offset="0.145" stop-color="#1b1b1b"/><stop offset="0.151" stop-color="#161616"/><stop offset="0.229" stop-color="#282828"/><stop offset="0.285" stop-color="#202020"/><stop offset="0.313" stop-color="#2f2f2f"/><stop offset="0.374" stop-color="#888888"/><stop offset="0.413" stop-color="#9f9f9f"/><stop offset="0.492" stop-color="#b0b0b0"/><stop offset="0.609" stop-color="#acacac"/><stop offset="0.670" stop-color="#9f9f9f"/><stop offset="0.709" stop-color="#818181"/><stop offset="0.749" stop-color="#535353"/><stop offset="0.777" stop-color="#3a3a3a"/><stop offset="0.844" stop-color="#5a5a5a"/><stop offset="0.950" stop-color="#606060"/><stop offset="0.972" stop-color="#6f6f6f"/><stop offset="0.989" stop-color="#888888"/><stop offset="1.000" stop-color="#888888"/></linearGradient></defs>
</svg></body></html>
